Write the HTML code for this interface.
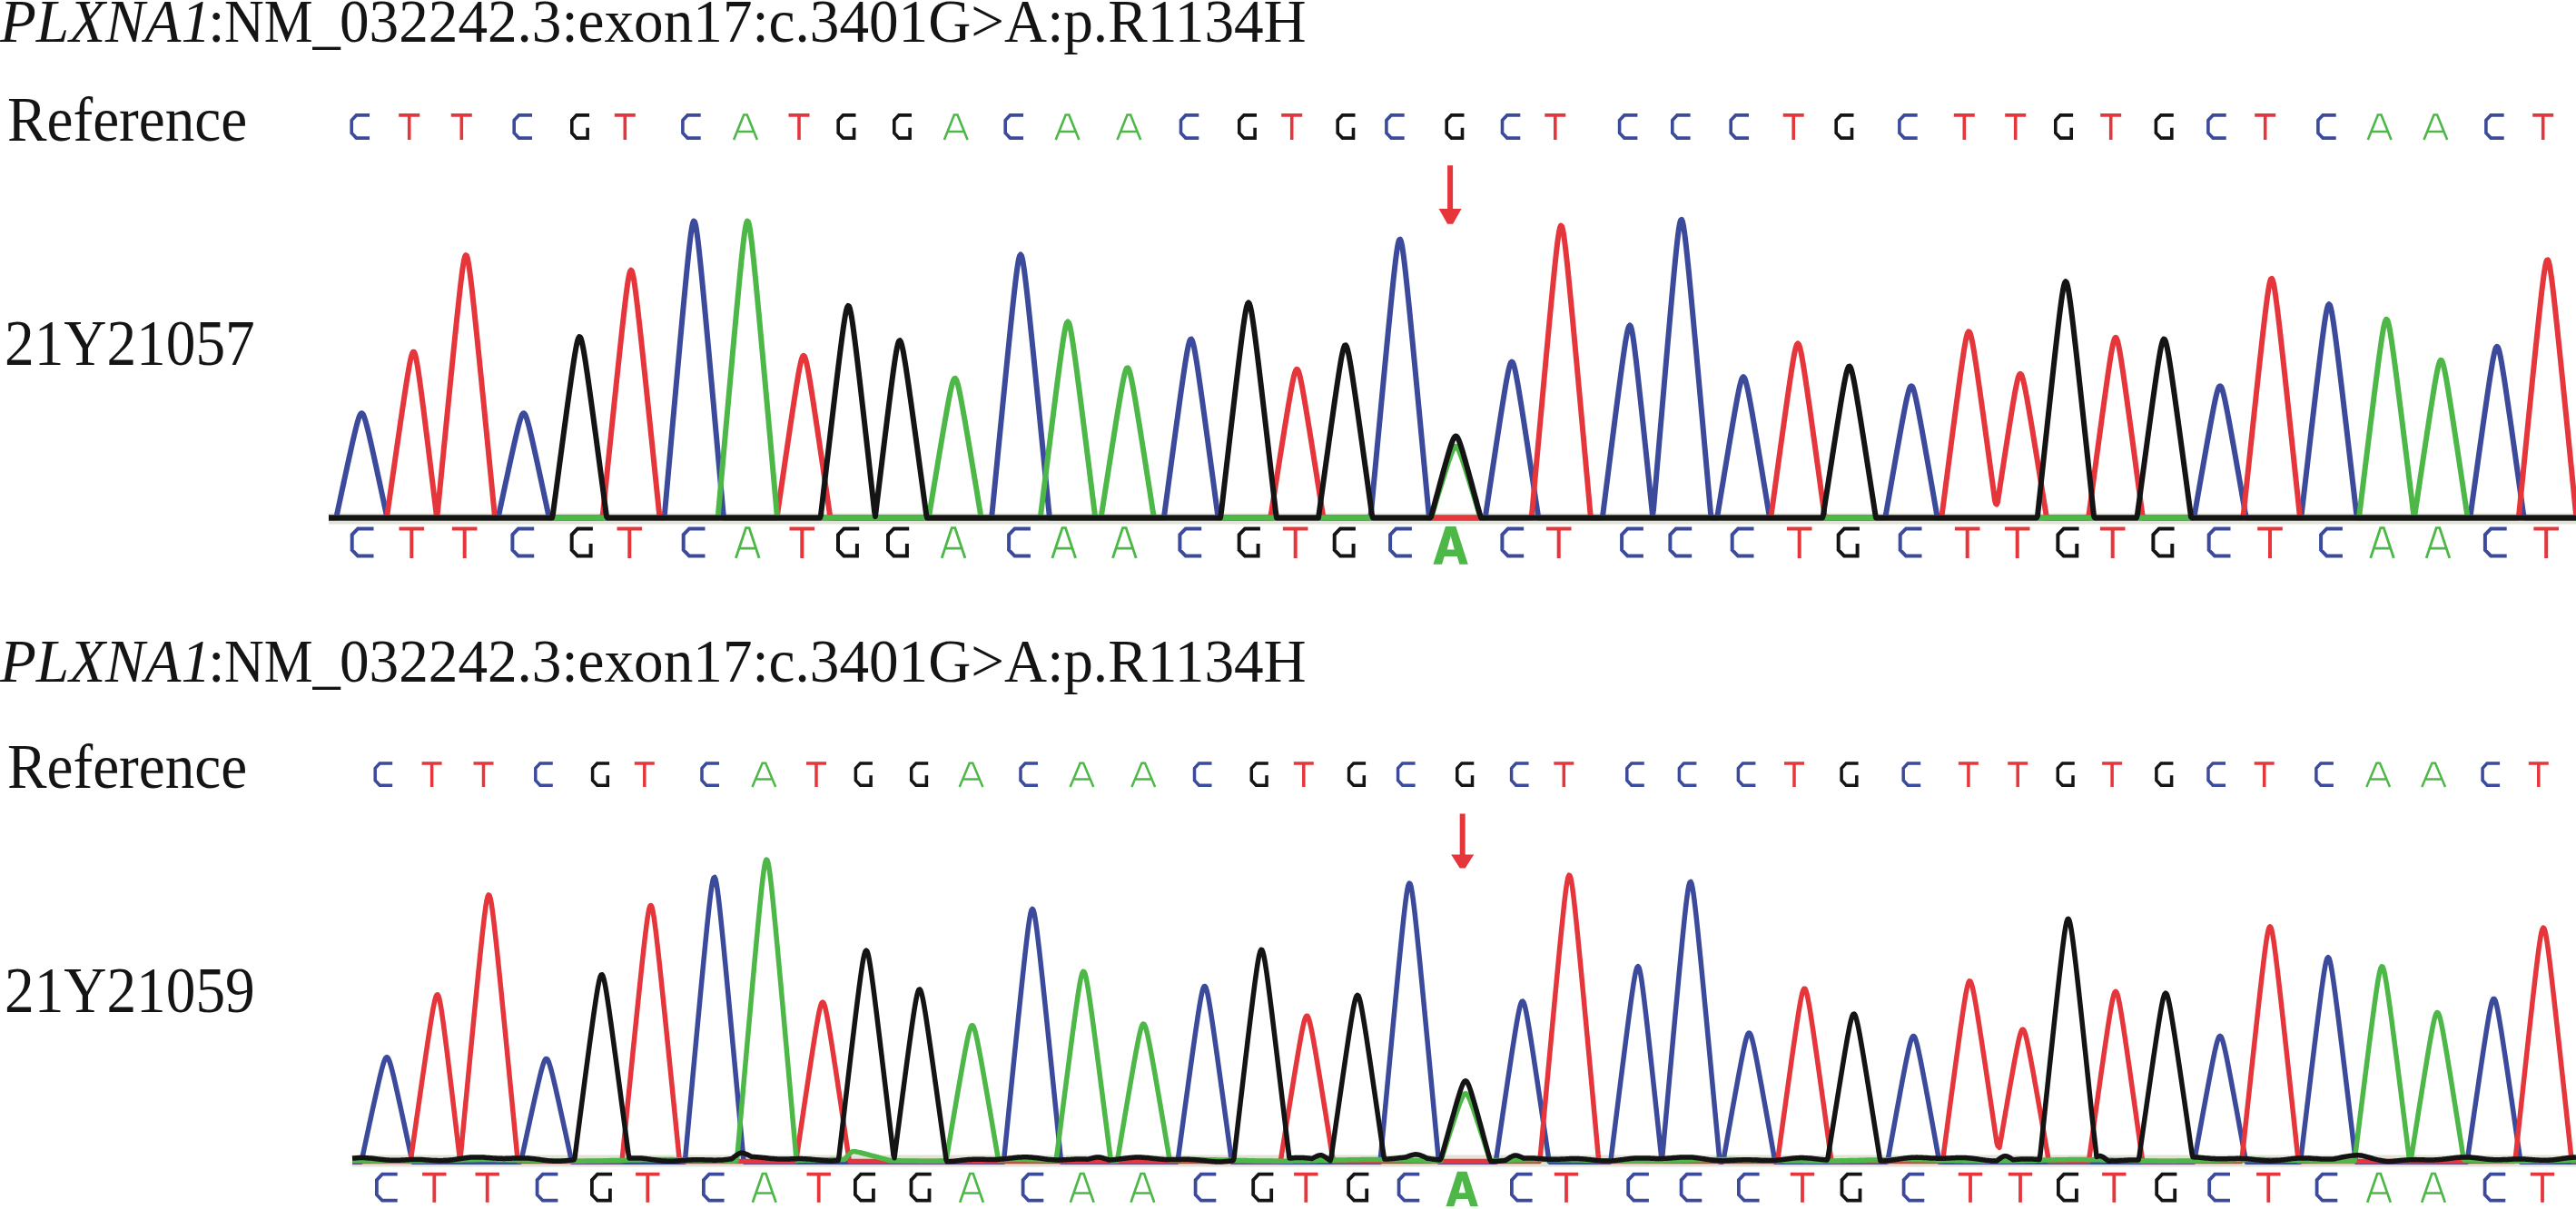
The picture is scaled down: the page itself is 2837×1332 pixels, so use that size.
<!DOCTYPE html>
<html><head><meta charset="utf-8"><style>
html,body{margin:0;padding:0;background:#fff;}
body{width:2837px;height:1332px;overflow:hidden;position:relative;font-family:"Liberation Serif",serif;color:#141414;}
.t{position:absolute;white-space:nowrap;line-height:1;transform-origin:0 0;}
svg{position:absolute;left:0;top:0;}
</style></head><body>
<div class="t" style="left:0px;top:-10.3px;font-size:67px;font-style:italic;transform:scaleX(0.974);">PLXNA1</div><div class="t" style="left:229px;top:-10.3px;font-size:67px;">:</div><div class="t" style="left:247px;top:-10.3px;font-size:67px;transform:scaleX(0.904);">NM_</div><div class="t" style="left:373.5px;top:-10.3px;font-size:67px;transform:scaleX(0.973);">032242.3:exon17:c.3401G&gt;A:p.R1134H</div>
<div class="t" id="r1" style="left:8.2px;top:97.6px;font-size:69px;transform:scaleX(0.945);">Reference</div>
<div class="t" id="s1" style="left:5.4px;top:342.1px;font-size:72px;transform:scaleX(0.907);">21Y21057</div>
<div class="t" style="left:0px;top:694.9px;font-size:67px;font-style:italic;transform:scaleX(0.974);">PLXNA1</div><div class="t" style="left:229px;top:694.9px;font-size:67px;">:</div><div class="t" style="left:247px;top:694.9px;font-size:67px;transform:scaleX(0.904);">NM_</div><div class="t" style="left:373.5px;top:694.9px;font-size:67px;transform:scaleX(0.973);">032242.3:exon17:c.3401G&gt;A:p.R1134H</div>
<div class="t" id="r2" style="left:8.2px;top:811.2px;font-size:69px;transform:scaleX(0.945);">Reference</div>
<div class="t" id="s2" style="left:5.4px;top:1054.8px;font-size:72px;transform:scaleX(0.907);">21Y21059</div>
<svg width="2837" height="1332" viewBox="0 0 2837 1332">
<line x1="362.0" y1="571.5" x2="2837" y2="571.5" stroke="#e2e3d8" stroke-width="12.0"/>
<polyline points="362.0,570.5 363.0,570.5 364.0,570.5 365.0,570.5 366.0,570.5 367.0,570.5 368.0,570.5 369.0,570.5 370.0,570.5 371.0,567.0 372.0,562.4 373.0,557.7 374.0,553.0 375.0,548.3 376.0,543.6 377.0,539.0 378.0,534.3 379.0,529.7 380.0,525.0 381.0,520.4 382.0,515.8 383.0,511.2 384.0,506.6 385.0,502.1 386.0,497.6 387.0,493.1 388.0,488.6 389.0,484.2 390.0,479.9 391.0,475.7 392.0,471.6 393.0,467.7 394.0,464.1 395.0,460.8 396.0,458.1 397.0,456.2 398.0,455.3 399.0,455.5 400.0,456.8 401.0,459.1 402.0,462.1 403.0,465.5 404.0,469.2 405.0,473.2 406.0,477.4 407.0,481.6 408.0,486.0 409.0,490.4 410.0,494.9 411.0,499.4 412.0,503.9 413.0,508.5 414.0,513.0 415.0,517.6 416.0,522.3 417.0,526.9 418.0,531.5 419.0,536.2 420.0,540.8 421.0,545.5 422.0,550.2 423.0,554.9 424.0,559.5 425.0,564.2 426.0,568.9 427.0,570.5 428.0,570.5 429.0,570.5 430.0,570.5 431.0,570.5 432.0,570.5 433.0,570.5 434.0,570.5 435.0,570.5 436.0,570.5 437.0,570.5 438.0,570.5 439.0,570.5 440.0,570.5 441.0,570.5 442.0,570.5 443.0,570.5 444.0,570.5 445.0,570.5 446.0,570.5 447.0,570.5 448.0,570.5 449.0,570.5 450.0,570.5 451.0,570.5 452.0,570.5 453.0,570.5 454.0,570.5 455.0,570.5 456.0,570.5 457.0,570.5 458.0,570.5 459.0,570.5 460.0,570.5 461.0,570.5 462.0,570.5 463.0,570.5 464.0,570.5 465.0,570.5 466.0,570.5 467.0,570.5 468.0,570.5 469.0,570.5 470.0,570.5 471.0,570.5 472.0,570.5 473.0,570.5 474.0,570.5 475.0,570.5 476.0,570.5 477.0,570.5 478.0,570.5 479.0,570.5 480.0,570.5 481.0,570.5 482.0,570.5 483.0,570.5 484.0,570.5 485.0,570.5 486.0,570.5 487.0,570.5 488.0,570.5 489.0,570.5 490.0,570.5 491.0,570.5 492.0,570.5 493.0,570.5 494.0,570.5 495.0,570.5 496.0,570.5 497.0,570.5 498.0,570.5 499.0,570.5 500.0,570.5 501.0,570.5 502.0,570.5 503.0,570.5 504.0,570.5 505.0,570.5 506.0,570.5 507.0,570.5 508.0,570.5 509.0,570.5 510.0,570.5 511.0,570.5 512.0,570.5 513.0,570.5 514.0,570.5 515.0,570.5 516.0,570.5 517.0,570.5 518.0,570.5 519.0,570.5 520.0,570.5 521.0,570.5 522.0,570.5 523.0,570.5 524.0,570.5 525.0,570.5 526.0,570.5 527.0,570.5 528.0,570.5 529.0,570.5 530.0,570.5 531.0,570.5 532.0,570.5 533.0,570.5 534.0,570.5 535.0,570.5 536.0,570.5 537.0,570.5 538.0,570.5 539.0,570.5 540.0,570.5 541.0,570.5 542.0,570.5 543.0,570.5 544.0,570.5 545.0,570.5 546.0,570.5 547.0,570.5 548.0,570.5 549.0,568.9 550.0,564.2 551.0,559.5 552.0,554.9 553.0,550.2 554.0,545.5 555.0,540.8 556.0,536.2 557.0,531.5 558.0,526.9 559.0,522.3 560.0,517.6 561.0,513.0 562.0,508.5 563.0,503.9 564.0,499.4 565.0,494.9 566.0,490.4 567.0,486.0 568.0,481.6 569.0,477.4 570.0,473.2 571.0,469.2 572.0,465.5 573.0,462.1 574.0,459.1 575.0,456.8 576.0,455.5 577.0,455.3 578.0,456.2 579.0,458.1 580.0,460.8 581.0,464.1 582.0,467.7 583.0,471.6 584.0,475.7 585.0,479.9 586.0,484.2 587.0,488.6 588.0,493.1 589.0,497.6 590.0,502.1 591.0,506.6 592.0,511.2 593.0,515.8 594.0,520.4 595.0,525.0 596.0,529.7 597.0,534.3 598.0,539.0 599.0,543.6 600.0,548.3 601.0,553.0 602.0,557.7 603.0,562.4 604.0,567.0 605.0,570.5 606.0,570.5 607.0,570.5 608.0,570.5 609.0,570.5 610.0,570.5 611.0,570.5 612.0,570.5 613.0,570.5 614.0,570.5 615.0,570.5 616.0,570.5 617.0,570.5 618.0,570.5 619.0,570.5 620.0,570.5 621.0,570.5 622.0,570.5 623.0,570.5 624.0,570.5 625.0,570.5 626.0,570.5 627.0,570.5 628.0,570.5 629.0,570.5 630.0,570.5 631.0,570.5 632.0,570.5 633.0,570.5 634.0,570.5 635.0,570.5 636.0,570.5 637.0,570.5 638.0,570.5 639.0,570.5 640.0,570.5 641.0,570.5 642.0,570.5 643.0,570.5 644.0,570.5 645.0,570.5 646.0,570.5 647.0,570.5 648.0,570.5 649.0,570.5 650.0,570.5 651.0,570.5 652.0,570.5 653.0,570.5 654.0,570.5 655.0,570.5 656.0,570.5 657.0,570.5 658.0,570.5 659.0,570.5 660.0,570.5 661.0,570.5 662.0,570.5 663.0,570.5 664.0,570.5 665.0,570.5 666.0,570.5 667.0,570.5 668.0,570.5 669.0,570.5 670.0,570.5 671.0,570.5 672.0,570.5 673.0,570.5 674.0,570.5 675.0,570.5 676.0,570.5 677.0,570.5 678.0,570.5 679.0,570.5 680.0,570.5 681.0,570.5 682.0,570.5 683.0,570.5 684.0,570.5 685.0,570.5 686.0,570.5 687.0,570.5 688.0,570.5 689.0,570.5 690.0,570.5 691.0,570.5 692.0,570.5 693.0,570.5 694.0,570.5 695.0,570.5 696.0,570.5 697.0,570.5 698.0,570.5 699.0,570.5 700.0,570.5 701.0,570.5 702.0,570.5 703.0,570.5 704.0,570.5 705.0,570.5 706.0,570.5 707.0,570.5 708.0,570.5 709.0,570.5 710.0,570.5 711.0,570.5 712.0,570.5 713.0,570.5 714.0,570.5 715.0,570.5 716.0,570.5 717.0,570.5 718.0,570.5 719.0,570.5 720.0,570.5 721.0,570.5 722.0,570.5 723.0,570.5 724.0,570.5 725.0,570.5 726.0,570.5 727.0,570.5 728.0,570.5 729.0,570.5 730.0,570.5 731.0,570.5 732.0,566.1 733.0,554.9 734.0,543.7 735.0,532.5 736.0,521.3 737.0,510.1 738.0,498.9 739.0,487.7 740.0,476.6 741.0,465.4 742.0,454.3 743.0,443.2 744.0,432.1 745.0,421.0 746.0,410.0 747.0,398.9 748.0,388.0 749.0,377.0 750.0,366.1 751.0,355.2 752.0,344.5 753.0,333.8 754.0,323.2 755.0,312.7 756.0,302.4 757.0,292.4 758.0,282.6 759.0,273.3 760.0,264.7 761.0,256.9 762.0,250.4 763.0,245.8 764.0,243.6 765.0,244.2 766.0,247.4 767.0,252.8 768.0,259.9 769.0,268.0 770.0,277.0 771.0,286.5 772.0,296.4 773.0,306.5 774.0,316.9 775.0,327.4 776.0,338.0 777.0,348.8 778.0,359.6 779.0,370.5 780.0,381.4 781.0,392.3 782.0,403.4 783.0,414.4 784.0,425.5 785.0,436.5 786.0,447.6 787.0,458.8 788.0,469.9 789.0,481.0 790.0,492.2 791.0,503.4 792.0,514.6 793.0,525.7 794.0,536.9 795.0,548.1 796.0,559.4 797.0,570.5 798.0,570.5 799.0,570.5 800.0,570.5 801.0,570.5 802.0,570.5 803.0,570.5 804.0,570.5 805.0,570.5 806.0,570.5 807.0,570.5 808.0,570.5 809.0,570.5 810.0,570.5 811.0,570.5 812.0,570.5 813.0,570.5 814.0,570.5 815.0,570.5 816.0,570.5 817.0,570.5 818.0,570.5 819.0,570.5 820.0,570.5 821.0,570.5 822.0,570.5 823.0,570.5 824.0,570.5 825.0,570.5 826.0,570.5 827.0,570.5 828.0,570.5 829.0,570.5 830.0,570.5 831.0,570.5 832.0,570.5 833.0,570.5 834.0,570.5 835.0,570.5 836.0,570.5 837.0,570.5 838.0,570.5 839.0,570.5 840.0,570.5 841.0,570.5 842.0,570.5 843.0,570.5 844.0,570.5 845.0,570.5 846.0,570.5 847.0,570.5 848.0,570.5 849.0,570.5 850.0,570.5 851.0,570.5 852.0,570.5 853.0,570.5 854.0,570.5 855.0,570.5 856.0,570.5 857.0,570.5 858.0,570.5 859.0,570.5 860.0,570.5 861.0,570.5 862.0,570.5 863.0,570.5 864.0,570.5 865.0,570.5 866.0,570.5 867.0,570.5 868.0,570.5 869.0,570.5 870.0,570.5 871.0,570.5 872.0,570.5 873.0,570.5 874.0,570.5 875.0,570.5 876.0,570.5 877.0,570.5 878.0,570.5 879.0,570.5 880.0,570.5 881.0,570.5 882.0,570.5 883.0,570.5 884.0,570.5 885.0,570.5 886.0,570.5 887.0,570.5 888.0,570.5 889.0,570.5 890.0,570.5 891.0,570.5 892.0,570.5 893.0,570.5 894.0,570.5 895.0,570.5 896.0,570.5 897.0,570.5 898.0,570.5 899.0,570.5 900.0,570.5 901.0,570.5 902.0,570.5 903.0,570.5 904.0,570.5 905.0,570.5 906.0,570.5 907.0,570.5 908.0,570.5 909.0,570.5 910.0,570.5 911.0,570.5 912.0,570.5 913.0,570.5 914.0,570.5 915.0,570.5 916.0,570.5 917.0,570.5 918.0,570.5 919.0,570.5 920.0,570.5 921.0,570.5 922.0,570.5 923.0,570.5 924.0,570.5 925.0,570.5 926.0,570.5 927.0,570.5 928.0,570.5 929.0,570.5 930.0,570.5 931.0,570.5 932.0,570.5 933.0,570.5 934.0,570.5 935.0,570.5 936.0,570.5 937.0,570.5 938.0,570.5 939.0,570.5 940.0,570.5 941.0,570.5 942.0,570.5 943.0,570.5 944.0,570.5 945.0,570.5 946.0,570.5 947.0,570.5 948.0,570.5 949.0,570.5 950.0,570.5 951.0,570.5 952.0,570.5 953.0,570.5 954.0,570.5 955.0,570.5 956.0,570.5 957.0,570.5 958.0,570.5 959.0,570.5 960.0,570.5 961.0,570.5 962.0,570.5 963.0,570.5 964.0,570.5 965.0,570.5 966.0,570.5 967.0,570.5 968.0,570.5 969.0,570.5 970.0,570.5 971.0,570.5 972.0,570.5 973.0,570.5 974.0,570.5 975.0,570.5 976.0,570.5 977.0,570.5 978.0,570.5 979.0,570.5 980.0,570.5 981.0,570.5 982.0,570.5 983.0,570.5 984.0,570.5 985.0,570.5 986.0,570.5 987.0,570.5 988.0,570.5 989.0,570.5 990.0,570.5 991.0,570.5 992.0,570.5 993.0,570.5 994.0,570.5 995.0,570.5 996.0,570.5 997.0,570.5 998.0,570.5 999.0,570.5 1000.0,570.5 1001.0,570.5 1002.0,570.5 1003.0,570.5 1004.0,570.5 1005.0,570.5 1006.0,570.5 1007.0,570.5 1008.0,570.5 1009.0,570.5 1010.0,570.5 1011.0,570.5 1012.0,570.5 1013.0,570.5 1014.0,570.5 1015.0,570.5 1016.0,570.5 1017.0,570.5 1018.0,570.5 1019.0,570.5 1020.0,570.5 1021.0,570.5 1022.0,570.5 1023.0,570.5 1024.0,570.5 1025.0,570.5 1026.0,570.5 1027.0,570.5 1028.0,570.5 1029.0,570.5 1030.0,570.5 1031.0,570.5 1032.0,570.5 1033.0,570.5 1034.0,570.5 1035.0,570.5 1036.0,570.5 1037.0,570.5 1038.0,570.5 1039.0,570.5 1040.0,570.5 1041.0,570.5 1042.0,570.5 1043.0,570.5 1044.0,570.5 1045.0,570.5 1046.0,570.5 1047.0,570.5 1048.0,570.5 1049.0,570.5 1050.0,570.5 1051.0,570.5 1052.0,570.5 1053.0,570.5 1054.0,570.5 1055.0,570.5 1056.0,570.5 1057.0,570.5 1058.0,570.5 1059.0,570.5 1060.0,570.5 1061.0,570.5 1062.0,570.5 1063.0,570.5 1064.0,570.5 1065.0,570.5 1066.0,570.5 1067.0,570.5 1068.0,570.5 1069.0,570.5 1070.0,570.5 1071.0,570.5 1072.0,570.5 1073.0,570.5 1074.0,570.5 1075.0,570.5 1076.0,570.5 1077.0,570.5 1078.0,570.5 1079.0,570.5 1080.0,570.5 1081.0,570.5 1082.0,570.5 1083.0,570.5 1084.0,570.5 1085.0,570.5 1086.0,570.5 1087.0,570.5 1088.0,570.5 1089.0,570.5 1090.0,570.5 1091.0,570.5 1092.0,570.5 1093.0,561.5 1094.0,551.3 1095.0,541.1 1096.0,530.9 1097.0,520.7 1098.0,510.5 1099.0,500.3 1100.0,490.1 1101.0,479.9 1102.0,469.8 1103.0,459.7 1104.0,449.5 1105.0,439.4 1106.0,429.4 1107.0,419.3 1108.0,409.3 1109.0,399.3 1110.0,389.4 1111.0,379.5 1112.0,369.7 1113.0,359.9 1114.0,350.3 1115.0,340.8 1116.0,331.5 1117.0,322.4 1118.0,313.6 1119.0,305.3 1120.0,297.6 1121.0,290.8 1122.0,285.4 1123.0,281.8 1124.0,280.5 1125.0,281.8 1126.0,285.4 1127.0,290.8 1128.0,297.6 1129.0,305.3 1130.0,313.6 1131.0,322.4 1132.0,331.5 1133.0,340.8 1134.0,350.3 1135.0,359.9 1136.0,369.7 1137.0,379.5 1138.0,389.4 1139.0,399.3 1140.0,409.3 1141.0,419.3 1142.0,429.4 1143.0,439.4 1144.0,449.5 1145.0,459.7 1146.0,469.8 1147.0,479.9 1148.0,490.1 1149.0,500.3 1150.0,510.5 1151.0,520.7 1152.0,530.9 1153.0,541.1 1154.0,551.3 1155.0,561.5 1156.0,570.5 1157.0,570.5 1158.0,570.5 1159.0,570.5 1160.0,570.5 1161.0,570.5 1162.0,570.5 1163.0,570.5 1164.0,570.5 1165.0,570.5 1166.0,570.5 1167.0,570.5 1168.0,570.5 1169.0,570.5 1170.0,570.5 1171.0,570.5 1172.0,570.5 1173.0,570.5 1174.0,570.5 1175.0,570.5 1176.0,570.5 1177.0,570.5 1178.0,570.5 1179.0,570.5 1180.0,570.5 1181.0,570.5 1182.0,570.5 1183.0,570.5 1184.0,570.5 1185.0,570.5 1186.0,570.5 1187.0,570.5 1188.0,570.5 1189.0,570.5 1190.0,570.5 1191.0,570.5 1192.0,570.5 1193.0,570.5 1194.0,570.5 1195.0,570.5 1196.0,570.5 1197.0,570.5 1198.0,570.5 1199.0,570.5 1200.0,570.5 1201.0,570.5 1202.0,570.5 1203.0,570.5 1204.0,570.5 1205.0,570.5 1206.0,570.5 1207.0,570.5 1208.0,570.5 1209.0,570.5 1210.0,570.5 1211.0,570.5 1212.0,570.5 1213.0,570.5 1214.0,570.5 1215.0,570.5 1216.0,570.5 1217.0,570.5 1218.0,570.5 1219.0,570.5 1220.0,570.5 1221.0,570.5 1222.0,570.5 1223.0,570.5 1224.0,570.5 1225.0,570.5 1226.0,570.5 1227.0,570.5 1228.0,570.5 1229.0,570.5 1230.0,570.5 1231.0,570.5 1232.0,570.5 1233.0,570.5 1234.0,570.5 1235.0,570.5 1236.0,570.5 1237.0,570.5 1238.0,570.5 1239.0,570.5 1240.0,570.5 1241.0,570.5 1242.0,570.5 1243.0,570.5 1244.0,570.5 1245.0,570.5 1246.0,570.5 1247.0,570.5 1248.0,570.5 1249.0,570.5 1250.0,570.5 1251.0,570.5 1252.0,570.5 1253.0,570.5 1254.0,570.5 1255.0,570.5 1256.0,570.5 1257.0,570.5 1258.0,570.5 1259.0,570.5 1260.0,570.5 1261.0,570.5 1262.0,570.5 1263.0,570.5 1264.0,570.5 1265.0,570.5 1266.0,570.5 1267.0,570.5 1268.0,570.5 1269.0,570.5 1270.0,570.5 1271.0,570.5 1272.0,570.5 1273.0,570.5 1274.0,570.5 1275.0,570.5 1276.0,570.5 1277.0,570.5 1278.0,570.5 1279.0,570.5 1280.0,570.5 1281.0,570.5 1282.0,569.5 1283.0,562.0 1284.0,554.5 1285.0,547.1 1286.0,539.6 1287.0,532.2 1288.0,524.7 1289.0,517.3 1290.0,509.9 1291.0,502.4 1292.0,495.0 1293.0,487.6 1294.0,480.3 1295.0,472.9 1296.0,465.6 1297.0,458.3 1298.0,451.0 1299.0,443.8 1300.0,436.6 1301.0,429.5 1302.0,422.5 1303.0,415.6 1304.0,408.8 1305.0,402.2 1306.0,395.9 1307.0,389.9 1308.0,384.4 1309.0,379.7 1310.0,376.1 1311.0,374.0 1312.0,373.6 1313.0,375.1 1314.0,378.1 1315.0,382.4 1316.0,387.6 1317.0,393.4 1318.0,399.6 1319.0,406.1 1320.0,412.9 1321.0,419.7 1322.0,426.7 1323.0,433.8 1324.0,440.9 1325.0,448.1 1326.0,455.4 1327.0,462.7 1328.0,470.0 1329.0,477.3 1330.0,484.7 1331.0,492.1 1332.0,499.5 1333.0,506.9 1334.0,514.3 1335.0,521.7 1336.0,529.2 1337.0,536.6 1338.0,544.1 1339.0,551.6 1340.0,559.0 1341.0,566.5 1342.0,570.5 1343.0,570.5 1344.0,570.5 1345.0,570.5 1346.0,570.5 1347.0,570.5 1348.0,570.5 1349.0,570.5 1350.0,570.5 1351.0,570.5 1352.0,570.5 1353.0,570.5 1354.0,570.5 1355.0,570.5 1356.0,570.5 1357.0,570.5 1358.0,570.5 1359.0,570.5 1360.0,570.5 1361.0,570.5 1362.0,570.5 1363.0,570.5 1364.0,570.5 1365.0,570.5 1366.0,570.5 1367.0,570.5 1368.0,570.5 1369.0,570.5 1370.0,570.5 1371.0,570.5 1372.0,570.5 1373.0,570.5 1374.0,570.5 1375.0,570.5 1376.0,570.5 1377.0,570.5 1378.0,570.5 1379.0,570.5 1380.0,570.5 1381.0,570.5 1382.0,570.5 1383.0,570.5 1384.0,570.5 1385.0,570.5 1386.0,570.5 1387.0,570.5 1388.0,570.5 1389.0,570.5 1390.0,570.5 1391.0,570.5 1392.0,570.5 1393.0,570.5 1394.0,570.5 1395.0,570.5 1396.0,570.5 1397.0,570.5 1398.0,570.5 1399.0,570.5 1400.0,570.5 1401.0,570.5 1402.0,570.5 1403.0,570.5 1404.0,570.5 1405.0,570.5 1406.0,570.5 1407.0,570.5 1408.0,570.5 1409.0,570.5 1410.0,570.5 1411.0,570.5 1412.0,570.5 1413.0,570.5 1414.0,570.5 1415.0,570.5 1416.0,570.5 1417.0,570.5 1418.0,570.5 1419.0,570.5 1420.0,570.5 1421.0,570.5 1422.0,570.5 1423.0,570.5 1424.0,570.5 1425.0,570.5 1426.0,570.5 1427.0,570.5 1428.0,570.5 1429.0,570.5 1430.0,570.5 1431.0,570.5 1432.0,570.5 1433.0,570.5 1434.0,570.5 1435.0,570.5 1436.0,570.5 1437.0,570.5 1438.0,570.5 1439.0,570.5 1440.0,570.5 1441.0,570.5 1442.0,570.5 1443.0,570.5 1444.0,570.5 1445.0,570.5 1446.0,570.5 1447.0,570.5 1448.0,570.5 1449.0,570.5 1450.0,570.5 1451.0,570.5 1452.0,570.5 1453.0,570.5 1454.0,570.5 1455.0,570.5 1456.0,570.5 1457.0,570.5 1458.0,570.5 1459.0,570.5 1460.0,570.5 1461.0,570.5 1462.0,570.5 1463.0,570.5 1464.0,570.5 1465.0,570.5 1466.0,570.5 1467.0,570.5 1468.0,570.5 1469.0,570.5 1470.0,570.5 1471.0,570.5 1472.0,570.5 1473.0,570.5 1474.0,570.5 1475.0,570.5 1476.0,570.5 1477.0,570.5 1478.0,570.5 1479.0,570.5 1480.0,570.5 1481.0,570.5 1482.0,570.5 1483.0,570.5 1484.0,570.5 1485.0,570.5 1486.0,570.5 1487.0,570.5 1488.0,570.5 1489.0,570.5 1490.0,570.5 1491.0,570.5 1492.0,570.5 1493.0,570.5 1494.0,570.5 1495.0,570.5 1496.0,570.5 1497.0,570.5 1498.0,570.5 1499.0,570.5 1500.0,570.5 1501.0,570.5 1502.0,570.5 1503.0,570.5 1504.0,570.5 1505.0,570.5 1506.0,570.5 1507.0,570.5 1508.0,570.5 1509.0,570.5 1510.0,564.6 1511.0,553.9 1512.0,543.2 1513.0,532.5 1514.0,521.9 1515.0,511.2 1516.0,500.6 1517.0,489.9 1518.0,479.3 1519.0,468.7 1520.0,458.1 1521.0,447.5 1522.0,436.9 1523.0,426.4 1524.0,415.9 1525.0,405.4 1526.0,394.9 1527.0,384.5 1528.0,374.1 1529.0,363.8 1530.0,353.6 1531.0,343.5 1532.0,333.4 1533.0,323.6 1534.0,313.9 1535.0,304.5 1536.0,295.4 1537.0,286.9 1538.0,279.1 1539.0,272.4 1540.0,267.2 1541.0,264.2 1542.0,263.6 1543.0,265.7 1544.0,270.1 1545.0,276.3 1546.0,283.7 1547.0,291.9 1548.0,300.8 1549.0,310.1 1550.0,319.7 1551.0,329.5 1552.0,339.4 1553.0,349.5 1554.0,359.7 1555.0,370.0 1556.0,380.4 1557.0,390.8 1558.0,401.2 1559.0,411.7 1560.0,422.2 1561.0,432.7 1562.0,443.3 1563.0,453.9 1564.0,464.5 1565.0,475.1 1566.0,485.7 1567.0,496.3 1568.0,507.0 1569.0,517.6 1570.0,528.3 1571.0,538.9 1572.0,549.6 1573.0,560.3 1574.0,570.5 1575.0,570.5 1576.0,570.5 1577.0,570.5 1578.0,570.5 1579.0,570.5 1580.0,570.5 1581.0,570.5 1582.0,570.5 1583.0,570.5 1584.0,570.5 1585.0,570.5 1586.0,570.5 1587.0,570.5 1588.0,570.5 1589.0,570.5 1590.0,570.5 1591.0,570.5 1592.0,570.5 1593.0,570.5 1594.0,570.5 1595.0,570.5 1596.0,570.5 1597.0,570.5 1598.0,570.5 1599.0,570.5 1600.0,570.5 1601.0,570.5 1602.0,570.5 1603.0,570.5 1604.0,570.5 1605.0,570.5 1606.0,570.5 1607.0,570.5 1608.0,570.5 1609.0,570.5 1610.0,570.5 1611.0,570.5 1612.0,570.5 1613.0,570.5 1614.0,570.5 1615.0,570.5 1616.0,570.5 1617.0,570.5 1618.0,570.5 1619.0,570.5 1620.0,570.5 1621.0,570.5 1622.0,570.5 1623.0,570.5 1624.0,570.5 1625.0,570.5 1626.0,570.5 1627.0,570.5 1628.0,570.5 1629.0,570.5 1630.0,570.5 1631.0,570.5 1632.0,570.5 1633.0,570.5 1634.0,570.5 1635.0,570.5 1636.0,568.6 1637.0,561.9 1638.0,555.3 1639.0,548.6 1640.0,542.0 1641.0,535.3 1642.0,528.7 1643.0,522.1 1644.0,515.5 1645.0,508.9 1646.0,502.3 1647.0,495.7 1648.0,489.1 1649.0,482.6 1650.0,476.1 1651.0,469.6 1652.0,463.1 1653.0,456.7 1654.0,450.4 1655.0,444.1 1656.0,437.9 1657.0,431.8 1658.0,425.8 1659.0,420.1 1660.0,414.7 1661.0,409.7 1662.0,405.2 1663.0,401.7 1664.0,399.3 1665.0,398.5 1666.0,399.3 1667.0,401.7 1668.0,405.2 1669.0,409.7 1670.0,414.7 1671.0,420.1 1672.0,425.8 1673.0,431.8 1674.0,437.9 1675.0,444.1 1676.0,450.4 1677.0,456.7 1678.0,463.1 1679.0,469.6 1680.0,476.1 1681.0,482.6 1682.0,489.1 1683.0,495.7 1684.0,502.3 1685.0,508.9 1686.0,515.5 1687.0,522.1 1688.0,528.7 1689.0,535.3 1690.0,542.0 1691.0,548.6 1692.0,555.3 1693.0,561.9 1694.0,568.6 1695.0,570.5 1696.0,570.5 1697.0,570.5 1698.0,570.5 1699.0,570.5 1700.0,570.5 1701.0,570.5 1702.0,570.5 1703.0,570.5 1704.0,570.5 1705.0,570.5 1706.0,570.5 1707.0,570.5 1708.0,570.5 1709.0,570.5 1710.0,570.5 1711.0,570.5 1712.0,570.5 1713.0,570.5 1714.0,570.5 1715.0,570.5 1716.0,570.5 1717.0,570.5 1718.0,570.5 1719.0,570.5 1720.0,570.5 1721.0,570.5 1722.0,570.5 1723.0,570.5 1724.0,570.5 1725.0,570.5 1726.0,570.5 1727.0,570.5 1728.0,570.5 1729.0,570.5 1730.0,570.5 1731.0,570.5 1732.0,570.5 1733.0,570.5 1734.0,570.5 1735.0,570.5 1736.0,570.5 1737.0,570.5 1738.0,570.5 1739.0,570.5 1740.0,570.5 1741.0,570.5 1742.0,570.5 1743.0,570.5 1744.0,570.5 1745.0,570.5 1746.0,570.5 1747.0,570.5 1748.0,570.5 1749.0,570.5 1750.0,570.5 1751.0,570.5 1752.0,570.5 1753.0,570.5 1754.0,570.5 1755.0,570.5 1756.0,570.5 1757.0,570.5 1758.0,570.5 1759.0,570.5 1760.0,570.5 1761.0,570.5 1762.0,570.5 1763.0,570.5 1764.0,570.5 1765.0,569.2 1766.0,561.2 1767.0,553.3 1768.0,545.4 1769.0,537.4 1770.0,529.5 1771.0,521.6 1772.0,513.7 1773.0,505.8 1774.0,497.9 1775.0,490.0 1776.0,482.2 1777.0,474.3 1778.0,466.5 1779.0,458.7 1780.0,450.9 1781.0,443.2 1782.0,435.5 1783.0,427.9 1784.0,420.3 1785.0,412.8 1786.0,405.4 1787.0,398.2 1788.0,391.1 1789.0,384.3 1790.0,377.8 1791.0,371.8 1792.0,366.5 1793.0,362.3 1794.0,359.5 1795.0,358.5 1796.0,359.7 1797.0,363.1 1798.0,368.3 1799.0,374.8 1800.0,382.1 1801.0,390.1 1802.0,398.4 1803.0,407.1 1804.0,416.0 1805.0,425.0 1806.0,434.2 1807.0,443.5 1808.0,452.9 1809.0,462.3 1810.0,471.8 1811.0,481.3 1812.0,490.8 1813.0,500.4 1814.0,510.0 1815.0,519.7 1816.0,529.3 1817.0,539.0 1818.0,548.6 1819.0,558.3 1820.0,568.0 1821.0,561.7 1822.0,550.0 1823.0,538.2 1824.0,526.5 1825.0,514.7 1826.0,503.0 1827.0,491.3 1828.0,479.6 1829.0,467.9 1830.0,456.2 1831.0,444.5 1832.0,432.9 1833.0,421.3 1834.0,409.7 1835.0,398.1 1836.0,386.6 1837.0,375.1 1838.0,363.7 1839.0,352.3 1840.0,341.1 1841.0,329.9 1842.0,318.8 1843.0,308.0 1844.0,297.3 1845.0,286.9 1846.0,277.0 1847.0,267.6 1848.0,259.0 1849.0,251.6 1850.0,245.9 1851.0,242.5 1852.0,241.9 1853.0,244.1 1854.0,248.8 1855.0,255.2 1856.0,263.0 1857.0,271.7 1858.0,281.1 1859.0,290.9 1860.0,300.9 1861.0,311.3 1862.0,321.8 1863.0,332.4 1864.0,343.2 1865.0,354.0 1866.0,364.9 1867.0,375.8 1868.0,386.8 1869.0,397.9 1870.0,408.9 1871.0,420.0 1872.0,431.1 1873.0,442.3 1874.0,453.4 1875.0,464.6 1876.0,475.8 1877.0,487.0 1878.0,498.2 1879.0,509.4 1880.0,520.7 1881.0,531.9 1882.0,543.1 1883.0,554.4 1884.0,565.6 1885.0,570.5 1886.0,570.5 1887.0,570.5 1888.0,570.5 1889.0,570.5 1890.0,570.5 1891.0,570.5 1892.0,564.9 1893.0,558.8 1894.0,552.7 1895.0,546.6 1896.0,540.5 1897.0,534.5 1898.0,528.4 1899.0,522.3 1900.0,516.3 1901.0,510.2 1902.0,504.2 1903.0,498.2 1904.0,492.2 1905.0,486.2 1906.0,480.3 1907.0,474.4 1908.0,468.5 1909.0,462.7 1910.0,456.9 1911.0,451.3 1912.0,445.7 1913.0,440.2 1914.0,435.0 1915.0,430.0 1916.0,425.4 1917.0,421.4 1918.0,418.1 1919.0,416.0 1920.0,415.2 1921.0,416.0 1922.0,418.1 1923.0,421.4 1924.0,425.4 1925.0,430.0 1926.0,435.0 1927.0,440.2 1928.0,445.7 1929.0,451.3 1930.0,456.9 1931.0,462.7 1932.0,468.5 1933.0,474.4 1934.0,480.3 1935.0,486.2 1936.0,492.2 1937.0,498.2 1938.0,504.2 1939.0,510.2 1940.0,516.3 1941.0,522.3 1942.0,528.4 1943.0,534.5 1944.0,540.5 1945.0,546.6 1946.0,552.7 1947.0,558.8 1948.0,564.9 1949.0,570.5 1950.0,570.5 1951.0,570.5 1952.0,570.5 1953.0,570.5 1954.0,570.5 1955.0,570.5 1956.0,570.5 1957.0,570.5 1958.0,570.5 1959.0,570.5 1960.0,570.5 1961.0,570.5 1962.0,570.5 1963.0,570.5 1964.0,570.5 1965.0,570.5 1966.0,570.5 1967.0,570.5 1968.0,570.5 1969.0,570.5 1970.0,570.5 1971.0,570.5 1972.0,570.5 1973.0,570.5 1974.0,570.5 1975.0,570.5 1976.0,570.5 1977.0,570.5 1978.0,570.5 1979.0,570.5 1980.0,570.5 1981.0,570.5 1982.0,570.5 1983.0,570.5 1984.0,570.5 1985.0,570.5 1986.0,570.5 1987.0,570.5 1988.0,570.5 1989.0,570.5 1990.0,570.5 1991.0,570.5 1992.0,570.5 1993.0,570.5 1994.0,570.5 1995.0,570.5 1996.0,570.5 1997.0,570.5 1998.0,570.5 1999.0,570.5 2000.0,570.5 2001.0,570.5 2002.0,570.5 2003.0,570.5 2004.0,570.5 2005.0,570.5 2006.0,570.5 2007.0,570.5 2008.0,570.5 2009.0,570.5 2010.0,570.5 2011.0,570.5 2012.0,570.5 2013.0,570.5 2014.0,570.5 2015.0,570.5 2016.0,570.5 2017.0,570.5 2018.0,570.5 2019.0,570.5 2020.0,570.5 2021.0,570.5 2022.0,570.5 2023.0,570.5 2024.0,570.5 2025.0,570.5 2026.0,570.5 2027.0,570.5 2028.0,570.5 2029.0,570.5 2030.0,570.5 2031.0,570.5 2032.0,570.5 2033.0,570.5 2034.0,570.5 2035.0,570.5 2036.0,570.5 2037.0,570.5 2038.0,570.5 2039.0,570.5 2040.0,570.5 2041.0,570.5 2042.0,570.5 2043.0,570.5 2044.0,570.5 2045.0,570.5 2046.0,570.5 2047.0,570.5 2048.0,570.5 2049.0,570.5 2050.0,570.5 2051.0,570.5 2052.0,570.5 2053.0,570.5 2054.0,570.5 2055.0,570.5 2056.0,570.5 2057.0,570.5 2058.0,570.5 2059.0,570.5 2060.0,570.5 2061.0,570.5 2062.0,570.5 2063.0,570.5 2064.0,570.5 2065.0,570.5 2066.0,570.5 2067.0,570.5 2068.0,570.5 2069.0,570.5 2070.0,570.5 2071.0,570.5 2072.0,570.5 2073.0,570.5 2074.0,570.5 2075.0,570.5 2076.0,570.5 2077.0,566.5 2078.0,560.7 2079.0,555.0 2080.0,549.2 2081.0,543.5 2082.0,537.8 2083.0,532.0 2084.0,526.3 2085.0,520.6 2086.0,514.9 2087.0,509.2 2088.0,503.5 2089.0,497.9 2090.0,492.2 2091.0,486.6 2092.0,481.1 2093.0,475.5 2094.0,470.0 2095.0,464.6 2096.0,459.2 2097.0,454.0 2098.0,448.8 2099.0,443.9 2100.0,439.2 2101.0,434.8 2102.0,431.0 2103.0,427.9 2104.0,425.9 2105.0,425.2 2106.0,425.9 2107.0,427.9 2108.0,431.0 2109.0,434.8 2110.0,439.2 2111.0,443.9 2112.0,448.8 2113.0,454.0 2114.0,459.2 2115.0,464.6 2116.0,470.0 2117.0,475.5 2118.0,481.1 2119.0,486.6 2120.0,492.2 2121.0,497.9 2122.0,503.5 2123.0,509.2 2124.0,514.9 2125.0,520.6 2126.0,526.3 2127.0,532.0 2128.0,537.8 2129.0,543.5 2130.0,549.2 2131.0,555.0 2132.0,560.7 2133.0,566.5 2134.0,570.5 2135.0,570.5 2136.0,570.5 2137.0,570.5 2138.0,570.5 2139.0,570.5 2140.0,570.5 2141.0,570.5 2142.0,570.5 2143.0,570.5 2144.0,570.5 2145.0,570.5 2146.0,570.5 2147.0,570.5 2148.0,570.5 2149.0,570.5 2150.0,570.5 2151.0,570.5 2152.0,570.5 2153.0,570.5 2154.0,570.5 2155.0,570.5 2156.0,570.5 2157.0,570.5 2158.0,570.5 2159.0,570.5 2160.0,570.5 2161.0,570.5 2162.0,570.5 2163.0,570.5 2164.0,570.5 2165.0,570.5 2166.0,570.5 2167.0,570.5 2168.0,570.5 2169.0,570.5 2170.0,570.5 2171.0,570.5 2172.0,570.5 2173.0,570.5 2174.0,570.5 2175.0,570.5 2176.0,570.5 2177.0,570.5 2178.0,570.5 2179.0,570.5 2180.0,570.5 2181.0,570.5 2182.0,570.5 2183.0,570.5 2184.0,570.5 2185.0,570.5 2186.0,570.5 2187.0,570.5 2188.0,570.5 2189.0,570.5 2190.0,570.5 2191.0,570.5 2192.0,570.5 2193.0,570.5 2194.0,570.5 2195.0,570.5 2196.0,570.5 2197.0,570.5 2198.0,570.5 2199.0,570.5 2200.0,570.5 2201.0,570.5 2202.0,570.5 2203.0,570.5 2204.0,570.5 2205.0,570.5 2206.0,570.5 2207.0,570.5 2208.0,570.5 2209.0,570.5 2210.0,570.5 2211.0,570.5 2212.0,570.5 2213.0,570.5 2214.0,570.5 2215.0,570.5 2216.0,570.5 2217.0,570.5 2218.0,570.5 2219.0,570.5 2220.0,570.5 2221.0,570.5 2222.0,570.5 2223.0,570.5 2224.0,570.5 2225.0,570.5 2226.0,570.5 2227.0,570.5 2228.0,570.5 2229.0,570.5 2230.0,570.5 2231.0,570.5 2232.0,570.5 2233.0,570.5 2234.0,570.5 2235.0,570.5 2236.0,570.5 2237.0,570.5 2238.0,570.5 2239.0,570.5 2240.0,570.5 2241.0,570.5 2242.0,570.5 2243.0,570.5 2244.0,570.5 2245.0,570.5 2246.0,570.5 2247.0,570.5 2248.0,570.5 2249.0,570.5 2250.0,570.5 2251.0,570.5 2252.0,570.5 2253.0,570.5 2254.0,570.5 2255.0,570.5 2256.0,570.5 2257.0,570.5 2258.0,570.5 2259.0,570.5 2260.0,570.5 2261.0,570.5 2262.0,570.5 2263.0,570.5 2264.0,570.5 2265.0,570.5 2266.0,570.5 2267.0,570.5 2268.0,570.5 2269.0,570.5 2270.0,570.5 2271.0,570.5 2272.0,570.5 2273.0,570.5 2274.0,570.5 2275.0,570.5 2276.0,570.5 2277.0,570.5 2278.0,570.5 2279.0,570.5 2280.0,570.5 2281.0,570.5 2282.0,570.5 2283.0,570.5 2284.0,570.5 2285.0,570.5 2286.0,570.5 2287.0,570.5 2288.0,570.5 2289.0,570.5 2290.0,570.5 2291.0,570.5 2292.0,570.5 2293.0,570.5 2294.0,570.5 2295.0,570.5 2296.0,570.5 2297.0,570.5 2298.0,570.5 2299.0,570.5 2300.0,570.5 2301.0,570.5 2302.0,570.5 2303.0,570.5 2304.0,570.5 2305.0,570.5 2306.0,570.5 2307.0,570.5 2308.0,570.5 2309.0,570.5 2310.0,570.5 2311.0,570.5 2312.0,570.5 2313.0,570.5 2314.0,570.5 2315.0,570.5 2316.0,570.5 2317.0,570.5 2318.0,570.5 2319.0,570.5 2320.0,570.5 2321.0,570.5 2322.0,570.5 2323.0,570.5 2324.0,570.5 2325.0,570.5 2326.0,570.5 2327.0,570.5 2328.0,570.5 2329.0,570.5 2330.0,570.5 2331.0,570.5 2332.0,570.5 2333.0,570.5 2334.0,570.5 2335.0,570.5 2336.0,570.5 2337.0,570.5 2338.0,570.5 2339.0,570.5 2340.0,570.5 2341.0,570.5 2342.0,570.5 2343.0,570.5 2344.0,570.5 2345.0,570.5 2346.0,570.5 2347.0,570.5 2348.0,570.5 2349.0,570.5 2350.0,570.5 2351.0,570.5 2352.0,570.5 2353.0,570.5 2354.0,570.5 2355.0,570.5 2356.0,570.5 2357.0,570.5 2358.0,570.5 2359.0,570.5 2360.0,570.5 2361.0,570.5 2362.0,570.5 2363.0,570.5 2364.0,570.5 2365.0,570.5 2366.0,570.5 2367.0,570.5 2368.0,570.5 2369.0,570.5 2370.0,570.5 2371.0,570.5 2372.0,570.5 2373.0,570.5 2374.0,570.5 2375.0,570.5 2376.0,570.5 2377.0,570.5 2378.0,570.5 2379.0,570.5 2380.0,570.5 2381.0,570.5 2382.0,570.5 2383.0,570.5 2384.0,570.5 2385.0,570.5 2386.0,570.5 2387.0,570.5 2388.0,570.5 2389.0,570.5 2390.0,570.5 2391.0,570.5 2392.0,570.5 2393.0,570.5 2394.0,570.5 2395.0,570.5 2396.0,570.5 2397.0,570.5 2398.0,570.5 2399.0,570.5 2400.0,570.5 2401.0,570.5 2402.0,570.5 2403.0,570.5 2404.0,570.5 2405.0,570.5 2406.0,570.5 2407.0,570.5 2408.0,570.5 2409.0,570.5 2410.0,570.5 2411.0,570.5 2412.0,570.5 2413.0,570.5 2414.0,570.5 2415.0,570.5 2416.0,570.5 2417.0,566.5 2418.0,560.7 2419.0,555.0 2420.0,549.2 2421.0,543.5 2422.0,537.8 2423.0,532.0 2424.0,526.3 2425.0,520.6 2426.0,514.9 2427.0,509.2 2428.0,503.5 2429.0,497.9 2430.0,492.2 2431.0,486.6 2432.0,481.1 2433.0,475.5 2434.0,470.0 2435.0,464.6 2436.0,459.2 2437.0,454.0 2438.0,448.8 2439.0,443.9 2440.0,439.2 2441.0,434.8 2442.0,431.0 2443.0,427.9 2444.0,425.9 2445.0,425.2 2446.0,425.9 2447.0,427.9 2448.0,431.0 2449.0,434.8 2450.0,439.2 2451.0,443.9 2452.0,448.8 2453.0,454.0 2454.0,459.2 2455.0,464.6 2456.0,470.0 2457.0,475.5 2458.0,481.1 2459.0,486.6 2460.0,492.2 2461.0,497.9 2462.0,503.5 2463.0,509.2 2464.0,514.9 2465.0,520.6 2466.0,526.3 2467.0,532.0 2468.0,537.8 2469.0,543.5 2470.0,549.2 2471.0,555.0 2472.0,560.7 2473.0,566.5 2474.0,570.5 2475.0,570.5 2476.0,570.5 2477.0,570.5 2478.0,570.5 2479.0,570.5 2480.0,570.5 2481.0,570.5 2482.0,570.5 2483.0,570.5 2484.0,570.5 2485.0,570.5 2486.0,570.5 2487.0,570.5 2488.0,570.5 2489.0,570.5 2490.0,570.5 2491.0,570.5 2492.0,570.5 2493.0,570.5 2494.0,570.5 2495.0,570.5 2496.0,570.5 2497.0,570.5 2498.0,570.5 2499.0,570.5 2500.0,570.5 2501.0,570.5 2502.0,570.5 2503.0,570.5 2504.0,570.5 2505.0,570.5 2506.0,570.5 2507.0,570.5 2508.0,570.5 2509.0,570.5 2510.0,570.5 2511.0,570.5 2512.0,570.5 2513.0,570.5 2514.0,570.5 2515.0,570.5 2516.0,570.5 2517.0,570.5 2518.0,570.5 2519.0,570.5 2520.0,570.5 2521.0,570.5 2522.0,570.5 2523.0,570.5 2524.0,570.5 2525.0,570.5 2526.0,570.5 2527.0,570.5 2528.0,570.5 2529.0,570.5 2530.0,570.5 2531.0,570.5 2532.0,570.5 2533.0,570.5 2534.0,570.5 2535.0,564.6 2536.0,556.0 2537.0,547.3 2538.0,538.7 2539.0,530.1 2540.0,521.4 2541.0,512.8 2542.0,504.2 2543.0,495.6 2544.0,487.0 2545.0,478.4 2546.0,469.9 2547.0,461.3 2548.0,452.8 2549.0,444.3 2550.0,435.9 2551.0,427.4 2552.0,419.1 2553.0,410.8 2554.0,402.5 2555.0,394.3 2556.0,386.3 2557.0,378.4 2558.0,370.7 2559.0,363.3 2560.0,356.2 2561.0,349.7 2562.0,343.9 2563.0,339.3 2564.0,336.3 2565.0,335.2 2566.0,336.3 2567.0,339.3 2568.0,343.9 2569.0,349.7 2570.0,356.2 2571.0,363.3 2572.0,370.7 2573.0,378.4 2574.0,386.3 2575.0,394.3 2576.0,402.5 2577.0,410.8 2578.0,419.1 2579.0,427.4 2580.0,435.9 2581.0,444.3 2582.0,452.8 2583.0,461.3 2584.0,469.9 2585.0,478.4 2586.0,487.0 2587.0,495.6 2588.0,504.2 2589.0,512.8 2590.0,521.4 2591.0,530.1 2592.0,538.7 2593.0,547.3 2594.0,556.0 2595.0,564.6 2596.0,570.5 2597.0,570.5 2598.0,570.5 2599.0,570.5 2600.0,570.5 2601.0,570.5 2602.0,570.5 2603.0,570.5 2604.0,570.5 2605.0,570.5 2606.0,570.5 2607.0,570.5 2608.0,570.5 2609.0,570.5 2610.0,570.5 2611.0,570.5 2612.0,570.5 2613.0,570.5 2614.0,570.5 2615.0,570.5 2616.0,570.5 2617.0,570.5 2618.0,570.5 2619.0,570.5 2620.0,570.5 2621.0,570.5 2622.0,570.5 2623.0,570.5 2624.0,570.5 2625.0,570.5 2626.0,570.5 2627.0,570.5 2628.0,570.5 2629.0,570.5 2630.0,570.5 2631.0,570.5 2632.0,570.5 2633.0,570.5 2634.0,570.5 2635.0,570.5 2636.0,570.5 2637.0,570.5 2638.0,570.5 2639.0,570.5 2640.0,570.5 2641.0,570.5 2642.0,570.5 2643.0,570.5 2644.0,570.5 2645.0,570.5 2646.0,570.5 2647.0,570.5 2648.0,570.5 2649.0,570.5 2650.0,570.5 2651.0,570.5 2652.0,570.5 2653.0,570.5 2654.0,570.5 2655.0,570.5 2656.0,570.5 2657.0,570.5 2658.0,570.5 2659.0,570.5 2660.0,570.5 2661.0,570.5 2662.0,570.5 2663.0,570.5 2664.0,570.5 2665.0,570.5 2666.0,570.5 2667.0,570.5 2668.0,570.5 2669.0,570.5 2670.0,570.5 2671.0,570.5 2672.0,570.5 2673.0,570.5 2674.0,570.5 2675.0,570.5 2676.0,570.5 2677.0,570.5 2678.0,570.5 2679.0,570.5 2680.0,570.5 2681.0,570.5 2682.0,570.5 2683.0,570.5 2684.0,570.5 2685.0,570.5 2686.0,570.5 2687.0,570.5 2688.0,570.5 2689.0,570.5 2690.0,570.5 2691.0,570.5 2692.0,570.5 2693.0,570.5 2694.0,570.5 2695.0,570.5 2696.0,570.5 2697.0,570.5 2698.0,570.5 2699.0,570.5 2700.0,570.5 2701.0,570.5 2702.0,570.5 2703.0,570.5 2704.0,570.5 2705.0,570.5 2706.0,570.5 2707.0,570.5 2708.0,570.5 2709.0,570.5 2710.0,570.5 2711.0,570.5 2712.0,570.5 2713.0,570.5 2714.0,570.5 2715.0,570.5 2716.0,570.5 2717.0,570.5 2718.0,570.5 2719.0,570.5 2720.0,570.5 2721.0,565.8 2722.0,558.6 2723.0,551.4 2724.0,544.2 2725.0,537.0 2726.0,529.8 2727.0,522.6 2728.0,515.5 2729.0,508.3 2730.0,501.2 2731.0,494.0 2732.0,486.9 2733.0,479.8 2734.0,472.7 2735.0,465.7 2736.0,458.7 2737.0,451.7 2738.0,444.8 2739.0,437.9 2740.0,431.1 2741.0,424.4 2742.0,417.8 2743.0,411.4 2744.0,405.2 2745.0,399.3 2746.0,393.9 2747.0,389.1 2748.0,385.2 2749.0,382.7 2750.0,381.8 2751.0,382.7 2752.0,385.2 2753.0,389.1 2754.0,393.9 2755.0,399.3 2756.0,405.2 2757.0,411.4 2758.0,417.8 2759.0,424.4 2760.0,431.1 2761.0,437.9 2762.0,444.8 2763.0,451.7 2764.0,458.7 2765.0,465.7 2766.0,472.7 2767.0,479.8 2768.0,486.9 2769.0,494.0 2770.0,501.2 2771.0,508.3 2772.0,515.5 2773.0,522.6 2774.0,529.8 2775.0,537.0 2776.0,544.2 2777.0,551.4 2778.0,558.6 2779.0,565.8 2780.0,570.5 2781.0,570.5 2782.0,570.5 2783.0,570.5 2784.0,570.5 2785.0,570.5 2786.0,570.5 2787.0,570.5 2788.0,570.5 2789.0,570.5 2790.0,570.5 2791.0,570.5 2792.0,570.5 2793.0,570.5 2794.0,570.5 2795.0,570.5 2796.0,570.5 2797.0,570.5 2798.0,570.5 2799.0,570.5 2800.0,570.5 2801.0,570.5 2802.0,570.5 2803.0,570.5 2804.0,570.5 2805.0,570.5 2806.0,570.5 2807.0,570.5 2808.0,570.5 2809.0,570.5 2810.0,570.5 2811.0,570.5 2812.0,570.5 2813.0,570.5 2814.0,570.5 2815.0,570.5 2816.0,570.5 2817.0,570.5 2818.0,570.5 2819.0,570.5 2820.0,570.5 2821.0,570.5 2822.0,570.5 2823.0,570.5 2824.0,570.5 2825.0,570.5 2826.0,570.5 2827.0,570.5 2828.0,570.5 2829.0,570.5 2830.0,570.5 2831.0,570.5 2832.0,570.5 2833.0,570.5 2834.0,570.5 2835.0,570.5 2836.0,570.5 2837.0,570.5" fill="none" stroke="#3c4a9c" stroke-width="6.0" stroke-linejoin="round"/>
<polyline points="362.0,570.5 363.0,570.5 364.0,570.5 365.0,570.5 366.0,570.5 367.0,570.5 368.0,570.5 369.0,570.5 370.0,570.5 371.0,570.5 372.0,570.5 373.0,570.5 374.0,570.5 375.0,570.5 376.0,570.5 377.0,570.5 378.0,570.5 379.0,570.5 380.0,570.5 381.0,570.5 382.0,570.5 383.0,570.5 384.0,570.5 385.0,570.5 386.0,570.5 387.0,570.5 388.0,570.5 389.0,570.5 390.0,570.5 391.0,570.5 392.0,570.5 393.0,570.5 394.0,570.5 395.0,570.5 396.0,570.5 397.0,570.5 398.0,570.5 399.0,570.5 400.0,570.5 401.0,570.5 402.0,570.5 403.0,570.5 404.0,570.5 405.0,570.5 406.0,570.5 407.0,570.5 408.0,570.5 409.0,570.5 410.0,570.5 411.0,570.5 412.0,570.5 413.0,570.5 414.0,570.5 415.0,570.5 416.0,570.5 417.0,570.5 418.0,570.5 419.0,570.5 420.0,570.5 421.0,570.5 422.0,570.5 423.0,570.5 424.0,570.5 425.0,570.5 426.0,570.3 427.0,563.3 428.0,556.3 429.0,549.2 430.0,542.2 431.0,535.2 432.0,528.2 433.0,521.2 434.0,514.3 435.0,507.3 436.0,500.3 437.0,493.4 438.0,486.5 439.0,479.6 440.0,472.7 441.0,465.8 442.0,459.0 443.0,452.2 444.0,445.5 445.0,438.8 446.0,432.2 447.0,425.8 448.0,419.4 449.0,413.3 450.0,407.4 451.0,401.8 452.0,396.8 453.0,392.6 454.0,389.4 455.0,387.7 456.0,387.8 457.0,389.8 458.0,393.5 459.0,398.5 460.0,404.4 461.0,410.9 462.0,417.9 463.0,425.2 464.0,432.6 465.0,440.3 466.0,448.1 467.0,455.9 468.0,463.9 469.0,471.9 470.0,479.9 471.0,488.0 472.0,496.1 473.0,504.3 474.0,512.4 475.0,520.6 476.0,528.8 477.0,537.0 478.0,545.3 479.0,553.5 480.0,561.8 481.0,570.0 482.0,563.7 483.0,553.5 484.0,543.3 485.0,533.1 486.0,522.9 487.0,512.7 488.0,502.5 489.0,492.3 490.0,482.2 491.0,472.1 492.0,461.9 493.0,451.8 494.0,441.7 495.0,431.7 496.0,421.6 497.0,411.6 498.0,401.6 499.0,391.7 500.0,381.8 501.0,372.0 502.0,362.3 503.0,352.6 504.0,343.1 505.0,333.8 506.0,324.6 507.0,315.8 508.0,307.4 509.0,299.5 510.0,292.6 511.0,286.8 512.0,282.8 513.0,281.1 514.0,281.8 515.0,285.0 516.0,290.1 517.0,296.6 518.0,304.1 519.0,312.4 520.0,321.0 521.0,330.1 522.0,339.3 523.0,348.8 524.0,358.4 525.0,368.1 526.0,377.9 527.0,387.7 528.0,397.7 529.0,407.6 530.0,417.6 531.0,427.6 532.0,437.7 533.0,447.8 534.0,457.9 535.0,468.0 536.0,478.1 537.0,488.3 538.0,498.4 539.0,508.6 540.0,518.8 541.0,529.0 542.0,539.2 543.0,549.4 544.0,559.6 545.0,569.8 546.0,570.5 547.0,570.5 548.0,570.5 549.0,570.5 550.0,570.5 551.0,570.5 552.0,570.5 553.0,570.5 554.0,570.5 555.0,570.5 556.0,570.5 557.0,570.5 558.0,570.5 559.0,570.5 560.0,570.5 561.0,570.5 562.0,570.5 563.0,570.5 564.0,570.5 565.0,570.5 566.0,570.5 567.0,570.5 568.0,570.5 569.0,570.5 570.0,570.5 571.0,570.5 572.0,570.5 573.0,570.5 574.0,570.5 575.0,570.5 576.0,570.5 577.0,570.5 578.0,570.5 579.0,570.5 580.0,570.5 581.0,570.5 582.0,570.5 583.0,570.5 584.0,570.5 585.0,570.5 586.0,570.5 587.0,570.5 588.0,570.5 589.0,570.5 590.0,570.5 591.0,570.5 592.0,570.5 593.0,570.5 594.0,570.5 595.0,570.5 596.0,570.5 597.0,570.5 598.0,570.5 599.0,570.5 600.0,570.5 601.0,570.5 602.0,570.5 603.0,570.5 604.0,570.5 605.0,570.5 606.0,570.5 607.0,570.5 608.0,570.5 609.0,570.5 610.0,570.5 611.0,570.5 612.0,570.5 613.0,570.5 614.0,570.5 615.0,570.5 616.0,570.5 617.0,570.5 618.0,570.5 619.0,570.5 620.0,570.5 621.0,570.5 622.0,570.5 623.0,570.5 624.0,570.5 625.0,570.5 626.0,570.5 627.0,570.5 628.0,570.5 629.0,570.5 630.0,570.5 631.0,570.5 632.0,570.5 633.0,570.5 634.0,570.5 635.0,570.5 636.0,570.5 637.0,570.5 638.0,570.5 639.0,570.5 640.0,570.5 641.0,570.5 642.0,570.5 643.0,570.5 644.0,570.5 645.0,570.5 646.0,570.5 647.0,570.5 648.0,570.5 649.0,570.5 650.0,570.5 651.0,570.5 652.0,570.5 653.0,570.5 654.0,570.5 655.0,570.5 656.0,570.5 657.0,570.5 658.0,570.5 659.0,570.5 660.0,570.5 661.0,570.5 662.0,570.5 663.0,570.5 664.0,565.6 665.0,555.9 666.0,546.1 667.0,536.4 668.0,526.7 669.0,516.9 670.0,507.2 671.0,497.5 672.0,487.8 673.0,478.2 674.0,468.5 675.0,458.9 676.0,449.2 677.0,439.6 678.0,430.0 679.0,420.5 680.0,411.0 681.0,401.5 682.0,392.1 683.0,382.7 684.0,373.4 685.0,364.2 686.0,355.2 687.0,346.3 688.0,337.6 689.0,329.3 690.0,321.3 691.0,314.0 692.0,307.5 693.0,302.3 694.0,298.9 695.0,297.7 696.0,298.9 697.0,302.3 698.0,307.5 699.0,314.0 700.0,321.3 701.0,329.3 702.0,337.6 703.0,346.3 704.0,355.2 705.0,364.2 706.0,373.4 707.0,382.7 708.0,392.1 709.0,401.5 710.0,411.0 711.0,420.5 712.0,430.0 713.0,439.6 714.0,449.2 715.0,458.9 716.0,468.5 717.0,478.2 718.0,487.8 719.0,497.5 720.0,507.2 721.0,516.9 722.0,526.7 723.0,536.4 724.0,546.1 725.0,555.9 726.0,565.6 727.0,570.5 728.0,570.5 729.0,570.5 730.0,570.5 731.0,570.5 732.0,570.5 733.0,570.5 734.0,570.5 735.0,570.5 736.0,570.5 737.0,570.5 738.0,570.5 739.0,570.5 740.0,570.5 741.0,570.5 742.0,570.5 743.0,570.5 744.0,570.5 745.0,570.5 746.0,570.5 747.0,570.5 748.0,570.5 749.0,570.5 750.0,570.5 751.0,570.5 752.0,570.5 753.0,570.5 754.0,570.5 755.0,570.5 756.0,570.5 757.0,570.5 758.0,570.5 759.0,570.5 760.0,570.5 761.0,570.5 762.0,570.5 763.0,570.5 764.0,570.5 765.0,570.5 766.0,570.5 767.0,570.5 768.0,570.5 769.0,570.5 770.0,570.5 771.0,570.5 772.0,570.5 773.0,570.5 774.0,570.5 775.0,570.5 776.0,570.5 777.0,570.5 778.0,570.5 779.0,570.5 780.0,570.5 781.0,570.5 782.0,570.5 783.0,570.5 784.0,570.5 785.0,570.5 786.0,570.5 787.0,570.5 788.0,570.5 789.0,570.5 790.0,570.5 791.0,570.5 792.0,570.5 793.0,570.5 794.0,570.5 795.0,570.5 796.0,570.5 797.0,570.5 798.0,570.5 799.0,570.5 800.0,570.5 801.0,570.5 802.0,570.5 803.0,570.5 804.0,570.5 805.0,570.5 806.0,570.5 807.0,570.5 808.0,570.5 809.0,570.5 810.0,570.5 811.0,570.5 812.0,570.5 813.0,570.5 814.0,570.5 815.0,570.5 816.0,570.5 817.0,570.5 818.0,570.5 819.0,570.5 820.0,570.5 821.0,570.5 822.0,570.5 823.0,570.5 824.0,570.5 825.0,570.5 826.0,570.5 827.0,570.5 828.0,570.5 829.0,570.5 830.0,570.5 831.0,570.5 832.0,570.5 833.0,570.5 834.0,570.5 835.0,570.5 836.0,570.5 837.0,570.5 838.0,570.5 839.0,570.5 840.0,570.5 841.0,570.5 842.0,570.5 843.0,570.5 844.0,570.5 845.0,570.5 846.0,570.5 847.0,570.5 848.0,570.5 849.0,570.5 850.0,570.5 851.0,570.5 852.0,570.5 853.0,570.5 854.0,570.5 855.0,570.5 856.0,567.5 857.0,560.6 858.0,553.8 859.0,546.9 860.0,540.0 861.0,533.2 862.0,526.3 863.0,519.5 864.0,512.6 865.0,505.8 866.0,499.0 867.0,492.2 868.0,485.4 869.0,478.7 870.0,471.9 871.0,465.2 872.0,458.6 873.0,451.9 874.0,445.4 875.0,438.9 876.0,432.5 877.0,426.2 878.0,420.0 879.0,414.1 880.0,408.5 881.0,403.3 882.0,398.8 883.0,395.1 884.0,392.7 885.0,391.8 886.0,392.7 887.0,395.1 888.0,398.8 889.0,403.3 890.0,408.5 891.0,414.1 892.0,420.0 893.0,426.2 894.0,432.5 895.0,438.9 896.0,445.4 897.0,451.9 898.0,458.6 899.0,465.2 900.0,471.9 901.0,478.7 902.0,485.4 903.0,492.2 904.0,499.0 905.0,505.8 906.0,512.6 907.0,519.5 908.0,526.3 909.0,533.2 910.0,540.0 911.0,546.9 912.0,553.8 913.0,560.6 914.0,567.5 915.0,570.5 916.0,570.5 917.0,570.5 918.0,570.5 919.0,570.5 920.0,570.5 921.0,570.5 922.0,570.5 923.0,570.5 924.0,570.5 925.0,570.5 926.0,570.5 927.0,570.5 928.0,570.5 929.0,570.5 930.0,570.5 931.0,570.5 932.0,570.5 933.0,570.5 934.0,570.5 935.0,570.5 936.0,570.5 937.0,570.5 938.0,570.5 939.0,570.5 940.0,570.5 941.0,570.5 942.0,570.5 943.0,570.5 944.0,570.5 945.0,570.5 946.0,570.5 947.0,570.5 948.0,570.5 949.0,570.5 950.0,570.5 951.0,570.5 952.0,570.5 953.0,570.5 954.0,570.5 955.0,570.5 956.0,570.5 957.0,570.5 958.0,570.5 959.0,570.5 960.0,570.5 961.0,570.5 962.0,570.5 963.0,570.5 964.0,570.5 965.0,570.5 966.0,570.5 967.0,570.5 968.0,570.5 969.0,570.5 970.0,570.5 971.0,570.5 972.0,570.5 973.0,570.5 974.0,570.5 975.0,570.5 976.0,570.5 977.0,570.5 978.0,570.5 979.0,570.5 980.0,570.5 981.0,570.5 982.0,570.5 983.0,570.5 984.0,570.5 985.0,570.5 986.0,570.5 987.0,570.5 988.0,570.5 989.0,570.5 990.0,570.5 991.0,570.5 992.0,570.5 993.0,570.5 994.0,570.5 995.0,570.5 996.0,570.5 997.0,570.5 998.0,570.5 999.0,570.5 1000.0,570.5 1001.0,570.5 1002.0,570.5 1003.0,570.5 1004.0,570.5 1005.0,570.5 1006.0,570.5 1007.0,570.5 1008.0,570.5 1009.0,570.5 1010.0,570.5 1011.0,570.5 1012.0,570.5 1013.0,570.5 1014.0,570.5 1015.0,570.5 1016.0,570.5 1017.0,570.5 1018.0,570.5 1019.0,570.5 1020.0,570.5 1021.0,570.5 1022.0,570.5 1023.0,570.5 1024.0,570.5 1025.0,570.5 1026.0,570.5 1027.0,570.5 1028.0,570.5 1029.0,570.5 1030.0,570.5 1031.0,570.5 1032.0,570.5 1033.0,570.5 1034.0,570.5 1035.0,570.5 1036.0,570.5 1037.0,570.5 1038.0,570.5 1039.0,570.5 1040.0,570.5 1041.0,570.5 1042.0,570.5 1043.0,570.5 1044.0,570.5 1045.0,570.5 1046.0,570.5 1047.0,570.5 1048.0,570.5 1049.0,570.5 1050.0,570.5 1051.0,570.5 1052.0,570.5 1053.0,570.5 1054.0,570.5 1055.0,570.5 1056.0,570.5 1057.0,570.5 1058.0,570.5 1059.0,570.5 1060.0,570.5 1061.0,570.5 1062.0,570.5 1063.0,570.5 1064.0,570.5 1065.0,570.5 1066.0,570.5 1067.0,570.5 1068.0,570.5 1069.0,570.5 1070.0,570.5 1071.0,570.5 1072.0,570.5 1073.0,570.5 1074.0,570.5 1075.0,570.5 1076.0,570.5 1077.0,570.5 1078.0,570.5 1079.0,570.5 1080.0,570.5 1081.0,570.5 1082.0,570.5 1083.0,570.5 1084.0,570.5 1085.0,570.5 1086.0,570.5 1087.0,570.5 1088.0,570.5 1089.0,570.5 1090.0,570.5 1091.0,570.5 1092.0,570.5 1093.0,570.5 1094.0,570.5 1095.0,570.5 1096.0,570.5 1097.0,570.5 1098.0,570.5 1099.0,570.5 1100.0,570.5 1101.0,570.5 1102.0,570.5 1103.0,570.5 1104.0,570.5 1105.0,570.5 1106.0,570.5 1107.0,570.5 1108.0,570.5 1109.0,570.5 1110.0,570.5 1111.0,570.5 1112.0,570.5 1113.0,570.5 1114.0,570.5 1115.0,570.5 1116.0,570.5 1117.0,570.5 1118.0,570.5 1119.0,570.5 1120.0,570.5 1121.0,570.5 1122.0,570.5 1123.0,570.5 1124.0,570.5 1125.0,570.5 1126.0,570.5 1127.0,570.5 1128.0,570.5 1129.0,570.5 1130.0,570.5 1131.0,570.5 1132.0,570.5 1133.0,570.5 1134.0,570.5 1135.0,570.5 1136.0,570.5 1137.0,570.5 1138.0,570.5 1139.0,570.5 1140.0,570.5 1141.0,570.5 1142.0,570.5 1143.0,570.5 1144.0,570.5 1145.0,570.5 1146.0,570.5 1147.0,570.5 1148.0,570.5 1149.0,570.5 1150.0,570.5 1151.0,570.5 1152.0,570.5 1153.0,570.5 1154.0,570.5 1155.0,570.5 1156.0,570.5 1157.0,570.5 1158.0,570.5 1159.0,570.5 1160.0,570.5 1161.0,570.5 1162.0,570.5 1163.0,570.5 1164.0,570.5 1165.0,570.5 1166.0,570.5 1167.0,570.5 1168.0,570.5 1169.0,570.5 1170.0,570.5 1171.0,570.5 1172.0,570.5 1173.0,570.5 1174.0,570.5 1175.0,570.5 1176.0,570.5 1177.0,570.5 1178.0,570.5 1179.0,570.5 1180.0,570.5 1181.0,570.5 1182.0,570.5 1183.0,570.5 1184.0,570.5 1185.0,570.5 1186.0,570.5 1187.0,570.5 1188.0,570.5 1189.0,570.5 1190.0,570.5 1191.0,570.5 1192.0,570.5 1193.0,570.5 1194.0,570.5 1195.0,570.5 1196.0,570.5 1197.0,570.5 1198.0,570.5 1199.0,570.5 1200.0,570.5 1201.0,570.5 1202.0,570.5 1203.0,570.5 1204.0,570.5 1205.0,570.5 1206.0,570.5 1207.0,570.5 1208.0,570.5 1209.0,570.5 1210.0,570.5 1211.0,570.5 1212.0,570.5 1213.0,570.5 1214.0,570.5 1215.0,570.5 1216.0,570.5 1217.0,570.5 1218.0,570.5 1219.0,570.5 1220.0,570.5 1221.0,570.5 1222.0,570.5 1223.0,570.5 1224.0,570.5 1225.0,570.5 1226.0,570.5 1227.0,570.5 1228.0,570.5 1229.0,570.5 1230.0,570.5 1231.0,570.5 1232.0,570.5 1233.0,570.5 1234.0,570.5 1235.0,570.5 1236.0,570.5 1237.0,570.5 1238.0,570.5 1239.0,570.5 1240.0,570.5 1241.0,570.5 1242.0,570.5 1243.0,570.5 1244.0,570.5 1245.0,570.5 1246.0,570.5 1247.0,570.5 1248.0,570.5 1249.0,570.5 1250.0,570.5 1251.0,570.5 1252.0,570.5 1253.0,570.5 1254.0,570.5 1255.0,570.5 1256.0,570.5 1257.0,570.5 1258.0,570.5 1259.0,570.5 1260.0,570.5 1261.0,570.5 1262.0,570.5 1263.0,570.5 1264.0,570.5 1265.0,570.5 1266.0,570.5 1267.0,570.5 1268.0,570.5 1269.0,570.5 1270.0,570.5 1271.0,570.5 1272.0,570.5 1273.0,570.5 1274.0,570.5 1275.0,570.5 1276.0,570.5 1277.0,570.5 1278.0,570.5 1279.0,570.5 1280.0,570.5 1281.0,570.5 1282.0,570.5 1283.0,570.5 1284.0,570.5 1285.0,570.5 1286.0,570.5 1287.0,570.5 1288.0,570.5 1289.0,570.5 1290.0,570.5 1291.0,570.5 1292.0,570.5 1293.0,570.5 1294.0,570.5 1295.0,570.5 1296.0,570.5 1297.0,570.5 1298.0,570.5 1299.0,570.5 1300.0,570.5 1301.0,570.5 1302.0,570.5 1303.0,570.5 1304.0,570.5 1305.0,570.5 1306.0,570.5 1307.0,570.5 1308.0,570.5 1309.0,570.5 1310.0,570.5 1311.0,570.5 1312.0,570.5 1313.0,570.5 1314.0,570.5 1315.0,570.5 1316.0,570.5 1317.0,570.5 1318.0,570.5 1319.0,570.5 1320.0,570.5 1321.0,570.5 1322.0,570.5 1323.0,570.5 1324.0,570.5 1325.0,570.5 1326.0,570.5 1327.0,570.5 1328.0,570.5 1329.0,570.5 1330.0,570.5 1331.0,570.5 1332.0,570.5 1333.0,570.5 1334.0,570.5 1335.0,570.5 1336.0,570.5 1337.0,570.5 1338.0,570.5 1339.0,570.5 1340.0,570.5 1341.0,570.5 1342.0,570.5 1343.0,570.5 1344.0,570.5 1345.0,570.5 1346.0,570.5 1347.0,570.5 1348.0,570.5 1349.0,570.5 1350.0,570.5 1351.0,570.5 1352.0,570.5 1353.0,570.5 1354.0,570.5 1355.0,570.5 1356.0,570.5 1357.0,570.5 1358.0,570.5 1359.0,570.5 1360.0,570.5 1361.0,570.5 1362.0,570.5 1363.0,570.5 1364.0,570.5 1365.0,570.5 1366.0,570.5 1367.0,570.5 1368.0,570.5 1369.0,570.5 1370.0,570.5 1371.0,570.5 1372.0,570.5 1373.0,570.5 1374.0,570.5 1375.0,570.5 1376.0,570.5 1377.0,570.5 1378.0,570.5 1379.0,570.5 1380.0,570.5 1381.0,570.5 1382.0,570.5 1383.0,570.5 1384.0,570.5 1385.0,570.5 1386.0,570.5 1387.0,570.5 1388.0,570.5 1389.0,570.5 1390.0,570.5 1391.0,570.5 1392.0,570.5 1393.0,570.5 1394.0,570.5 1395.0,570.5 1396.0,570.5 1397.0,570.5 1398.0,570.5 1399.0,570.5 1400.0,565.4 1401.0,559.0 1402.0,552.6 1403.0,546.2 1404.0,539.9 1405.0,533.5 1406.0,527.2 1407.0,520.8 1408.0,514.5 1409.0,508.1 1410.0,501.8 1411.0,495.5 1412.0,489.3 1413.0,483.0 1414.0,476.8 1415.0,470.6 1416.0,464.4 1417.0,458.3 1418.0,452.3 1419.0,446.3 1420.0,440.4 1421.0,434.7 1422.0,429.1 1423.0,423.8 1424.0,418.9 1425.0,414.4 1426.0,410.8 1427.0,408.1 1428.0,406.9 1429.0,407.2 1430.0,409.0 1431.0,412.1 1432.0,416.1 1433.0,420.8 1434.0,425.9 1435.0,431.3 1436.0,437.0 1437.0,442.8 1438.0,448.7 1439.0,454.7 1440.0,460.8 1441.0,466.9 1442.0,473.1 1443.0,479.3 1444.0,485.5 1445.0,491.8 1446.0,498.1 1447.0,504.4 1448.0,510.7 1449.0,517.0 1450.0,523.3 1451.0,529.7 1452.0,536.1 1453.0,542.4 1454.0,548.8 1455.0,555.2 1456.0,561.5 1457.0,567.9 1458.0,570.5 1459.0,570.5 1460.0,570.5 1461.0,570.5 1462.0,570.5 1463.0,570.5 1464.0,570.5 1465.0,570.5 1466.0,570.5 1467.0,570.5 1468.0,570.5 1469.0,570.5 1470.0,570.5 1471.0,570.5 1472.0,570.5 1473.0,570.5 1474.0,570.5 1475.0,570.5 1476.0,570.5 1477.0,570.5 1478.0,570.5 1479.0,570.5 1480.0,570.5 1481.0,570.5 1482.0,570.5 1483.0,570.5 1484.0,570.5 1485.0,570.5 1486.0,570.5 1487.0,570.5 1488.0,570.5 1489.0,570.5 1490.0,570.5 1491.0,570.5 1492.0,570.5 1493.0,570.5 1494.0,570.5 1495.0,570.5 1496.0,570.5 1497.0,570.5 1498.0,570.5 1499.0,570.5 1500.0,570.5 1501.0,570.5 1502.0,570.5 1503.0,570.5 1504.0,570.5 1505.0,570.5 1506.0,570.5 1507.0,570.5 1508.0,570.5 1509.0,570.5 1510.0,570.5 1511.0,570.5 1512.0,570.5 1513.0,570.5 1514.0,570.5 1515.0,570.5 1516.0,570.5 1517.0,570.5 1518.0,570.5 1519.0,570.5 1520.0,570.5 1521.0,570.5 1522.0,570.5 1523.0,570.5 1524.0,570.5 1525.0,570.5 1526.0,570.5 1527.0,570.5 1528.0,570.5 1529.0,570.5 1530.0,570.5 1531.0,570.5 1532.0,570.5 1533.0,570.5 1534.0,570.5 1535.0,570.5 1536.0,570.5 1537.0,570.5 1538.0,570.5 1539.0,570.5 1540.0,570.5 1541.0,570.5 1542.0,570.5 1543.0,570.5 1544.0,570.5 1545.0,570.5 1546.0,570.5 1547.0,570.5 1548.0,570.5 1549.0,570.5 1550.0,570.5 1551.0,570.5 1552.0,570.5 1553.0,570.5 1554.0,570.5 1555.0,570.5 1556.0,570.5 1557.0,570.5 1558.0,570.5 1559.0,570.5 1560.0,570.5 1561.0,570.5 1562.0,570.5 1563.0,570.5 1564.0,570.5 1565.0,570.5 1566.0,570.5 1567.0,570.5 1568.0,570.5 1569.0,570.5 1570.0,570.5 1571.0,570.5 1572.0,570.5 1573.0,570.5 1574.0,570.5 1575.0,570.5 1576.0,570.5 1577.0,570.5 1578.0,570.5 1579.0,570.5 1580.0,570.5 1581.0,570.5 1582.0,570.5 1583.0,570.5 1584.0,570.5 1585.0,570.5 1586.0,570.5 1587.0,570.5 1588.0,570.5 1589.0,570.5 1590.0,570.5 1591.0,570.5 1592.0,570.5 1593.0,570.5 1594.0,570.5 1595.0,570.5 1596.0,570.5 1597.0,570.5 1598.0,570.5 1599.0,570.5 1600.0,570.5 1601.0,570.5 1602.0,570.5 1603.0,570.5 1604.0,570.5 1605.0,570.5 1606.0,570.5 1607.0,570.5 1608.0,570.5 1609.0,570.5 1610.0,570.5 1611.0,570.5 1612.0,570.5 1613.0,570.5 1614.0,570.5 1615.0,570.5 1616.0,570.5 1617.0,570.5 1618.0,570.5 1619.0,570.5 1620.0,570.5 1621.0,570.5 1622.0,570.5 1623.0,570.5 1624.0,570.5 1625.0,570.5 1626.0,570.5 1627.0,570.5 1628.0,570.5 1629.0,570.5 1630.0,570.5 1631.0,570.5 1632.0,570.5 1633.0,570.5 1634.0,570.5 1635.0,570.5 1636.0,570.5 1637.0,570.5 1638.0,570.5 1639.0,570.5 1640.0,570.5 1641.0,570.5 1642.0,570.5 1643.0,570.5 1644.0,570.5 1645.0,570.5 1646.0,570.5 1647.0,570.5 1648.0,570.5 1649.0,570.5 1650.0,570.5 1651.0,570.5 1652.0,570.5 1653.0,570.5 1654.0,570.5 1655.0,570.5 1656.0,570.5 1657.0,570.5 1658.0,570.5 1659.0,570.5 1660.0,570.5 1661.0,570.5 1662.0,570.5 1663.0,570.5 1664.0,570.5 1665.0,570.5 1666.0,570.5 1667.0,570.5 1668.0,570.5 1669.0,570.5 1670.0,570.5 1671.0,570.5 1672.0,570.5 1673.0,570.5 1674.0,570.5 1675.0,570.5 1676.0,570.5 1677.0,570.5 1678.0,570.5 1679.0,570.5 1680.0,570.5 1681.0,570.5 1682.0,570.5 1683.0,570.5 1684.0,570.5 1685.0,570.5 1686.0,570.5 1687.0,567.4 1688.0,556.3 1689.0,545.2 1690.0,534.1 1691.0,523.1 1692.0,512.0 1693.0,501.0 1694.0,489.9 1695.0,478.9 1696.0,467.9 1697.0,456.9 1698.0,445.9 1699.0,434.9 1700.0,424.0 1701.0,413.0 1702.0,402.2 1703.0,391.3 1704.0,380.5 1705.0,369.7 1706.0,358.9 1707.0,348.3 1708.0,337.7 1709.0,327.2 1710.0,316.9 1711.0,306.7 1712.0,296.8 1713.0,287.2 1714.0,278.0 1715.0,269.4 1716.0,261.7 1717.0,255.4 1718.0,250.8 1719.0,248.6 1720.0,249.2 1721.0,252.4 1722.0,257.7 1723.0,264.7 1724.0,272.8 1725.0,281.6 1726.0,291.0 1727.0,300.7 1728.0,310.8 1729.0,321.0 1730.0,331.4 1731.0,341.9 1732.0,352.5 1733.0,363.2 1734.0,374.0 1735.0,384.8 1736.0,395.6 1737.0,406.5 1738.0,417.4 1739.0,428.4 1740.0,439.3 1741.0,450.3 1742.0,461.3 1743.0,472.3 1744.0,483.3 1745.0,494.3 1746.0,505.4 1747.0,516.4 1748.0,527.5 1749.0,538.6 1750.0,549.6 1751.0,560.7 1752.0,570.5 1753.0,570.5 1754.0,570.5 1755.0,570.5 1756.0,570.5 1757.0,570.5 1758.0,570.5 1759.0,570.5 1760.0,570.5 1761.0,570.5 1762.0,570.5 1763.0,570.5 1764.0,570.5 1765.0,570.5 1766.0,570.5 1767.0,570.5 1768.0,570.5 1769.0,570.5 1770.0,570.5 1771.0,570.5 1772.0,570.5 1773.0,570.5 1774.0,570.5 1775.0,570.5 1776.0,570.5 1777.0,570.5 1778.0,570.5 1779.0,570.5 1780.0,570.5 1781.0,570.5 1782.0,570.5 1783.0,570.5 1784.0,570.5 1785.0,570.5 1786.0,570.5 1787.0,570.5 1788.0,570.5 1789.0,570.5 1790.0,570.5 1791.0,570.5 1792.0,570.5 1793.0,570.5 1794.0,570.5 1795.0,570.5 1796.0,570.5 1797.0,570.5 1798.0,570.5 1799.0,570.5 1800.0,570.5 1801.0,570.5 1802.0,570.5 1803.0,570.5 1804.0,570.5 1805.0,570.5 1806.0,570.5 1807.0,570.5 1808.0,570.5 1809.0,570.5 1810.0,570.5 1811.0,570.5 1812.0,570.5 1813.0,570.5 1814.0,570.5 1815.0,570.5 1816.0,570.5 1817.0,570.5 1818.0,570.5 1819.0,570.5 1820.0,570.5 1821.0,570.5 1822.0,570.5 1823.0,570.5 1824.0,570.5 1825.0,570.5 1826.0,570.5 1827.0,570.5 1828.0,570.5 1829.0,570.5 1830.0,570.5 1831.0,570.5 1832.0,570.5 1833.0,570.5 1834.0,570.5 1835.0,570.5 1836.0,570.5 1837.0,570.5 1838.0,570.5 1839.0,570.5 1840.0,570.5 1841.0,570.5 1842.0,570.5 1843.0,570.5 1844.0,570.5 1845.0,570.5 1846.0,570.5 1847.0,570.5 1848.0,570.5 1849.0,570.5 1850.0,570.5 1851.0,570.5 1852.0,570.5 1853.0,570.5 1854.0,570.5 1855.0,570.5 1856.0,570.5 1857.0,570.5 1858.0,570.5 1859.0,570.5 1860.0,570.5 1861.0,570.5 1862.0,570.5 1863.0,570.5 1864.0,570.5 1865.0,570.5 1866.0,570.5 1867.0,570.5 1868.0,570.5 1869.0,570.5 1870.0,570.5 1871.0,570.5 1872.0,570.5 1873.0,570.5 1874.0,570.5 1875.0,570.5 1876.0,570.5 1877.0,570.5 1878.0,570.5 1879.0,570.5 1880.0,570.5 1881.0,570.5 1882.0,570.5 1883.0,570.5 1884.0,570.5 1885.0,570.5 1886.0,570.5 1887.0,570.5 1888.0,570.5 1889.0,570.5 1890.0,570.5 1891.0,570.5 1892.0,570.5 1893.0,570.5 1894.0,570.5 1895.0,570.5 1896.0,570.5 1897.0,570.5 1898.0,570.5 1899.0,570.5 1900.0,570.5 1901.0,570.5 1902.0,570.5 1903.0,570.5 1904.0,570.5 1905.0,570.5 1906.0,570.5 1907.0,570.5 1908.0,570.5 1909.0,570.5 1910.0,570.5 1911.0,570.5 1912.0,570.5 1913.0,570.5 1914.0,570.5 1915.0,570.5 1916.0,570.5 1917.0,570.5 1918.0,570.5 1919.0,570.5 1920.0,570.5 1921.0,570.5 1922.0,570.5 1923.0,570.5 1924.0,570.5 1925.0,570.5 1926.0,570.5 1927.0,570.5 1928.0,570.5 1929.0,570.5 1930.0,570.5 1931.0,570.5 1932.0,570.5 1933.0,570.5 1934.0,570.5 1935.0,570.5 1936.0,570.5 1937.0,570.5 1938.0,570.5 1939.0,570.5 1940.0,570.5 1941.0,570.5 1942.0,570.5 1943.0,570.5 1944.0,570.5 1945.0,570.5 1946.0,570.5 1947.0,570.5 1948.0,570.5 1949.0,570.5 1950.0,570.5 1951.0,565.2 1952.0,557.9 1953.0,550.6 1954.0,543.3 1955.0,536.0 1956.0,528.7 1957.0,521.4 1958.0,514.1 1959.0,506.9 1960.0,499.6 1961.0,492.4 1962.0,485.2 1963.0,478.0 1964.0,470.8 1965.0,463.6 1966.0,456.5 1967.0,449.4 1968.0,442.4 1969.0,435.4 1970.0,428.5 1971.0,421.7 1972.0,415.0 1973.0,408.5 1974.0,402.2 1975.0,396.3 1976.0,390.7 1977.0,385.9 1978.0,382.0 1979.0,379.4 1980.0,378.5 1981.0,379.4 1982.0,382.0 1983.0,385.9 1984.0,390.7 1985.0,396.3 1986.0,402.2 1987.0,408.5 1988.0,415.0 1989.0,421.7 1990.0,428.5 1991.0,435.4 1992.0,442.4 1993.0,449.4 1994.0,456.5 1995.0,463.6 1996.0,470.8 1997.0,478.0 1998.0,485.2 1999.0,492.4 2000.0,499.6 2001.0,506.9 2002.0,514.1 2003.0,521.4 2004.0,528.7 2005.0,536.0 2006.0,543.3 2007.0,550.6 2008.0,557.9 2009.0,565.2 2010.0,570.5 2011.0,570.5 2012.0,570.5 2013.0,570.5 2014.0,570.5 2015.0,570.5 2016.0,570.5 2017.0,570.5 2018.0,570.5 2019.0,570.5 2020.0,570.5 2021.0,570.5 2022.0,570.5 2023.0,570.5 2024.0,570.5 2025.0,570.5 2026.0,570.5 2027.0,570.5 2028.0,570.5 2029.0,570.5 2030.0,570.5 2031.0,570.5 2032.0,570.5 2033.0,570.5 2034.0,570.5 2035.0,570.5 2036.0,570.5 2037.0,570.5 2038.0,570.5 2039.0,570.5 2040.0,570.5 2041.0,570.5 2042.0,570.5 2043.0,570.5 2044.0,570.5 2045.0,570.5 2046.0,570.5 2047.0,570.5 2048.0,570.5 2049.0,570.5 2050.0,570.5 2051.0,570.5 2052.0,570.5 2053.0,570.5 2054.0,570.5 2055.0,570.5 2056.0,570.5 2057.0,570.5 2058.0,570.5 2059.0,570.5 2060.0,570.5 2061.0,570.5 2062.0,570.5 2063.0,570.5 2064.0,570.5 2065.0,570.5 2066.0,570.5 2067.0,570.5 2068.0,570.5 2069.0,570.5 2070.0,570.5 2071.0,570.5 2072.0,570.5 2073.0,570.5 2074.0,570.5 2075.0,570.5 2076.0,570.5 2077.0,570.5 2078.0,570.5 2079.0,570.5 2080.0,570.5 2081.0,570.5 2082.0,570.5 2083.0,570.5 2084.0,570.5 2085.0,570.5 2086.0,570.5 2087.0,570.5 2088.0,570.5 2089.0,570.5 2090.0,570.5 2091.0,570.5 2092.0,570.5 2093.0,570.5 2094.0,570.5 2095.0,570.5 2096.0,570.5 2097.0,570.5 2098.0,570.5 2099.0,570.5 2100.0,570.5 2101.0,570.5 2102.0,570.5 2103.0,570.5 2104.0,570.5 2105.0,570.5 2106.0,570.5 2107.0,570.5 2108.0,570.5 2109.0,570.5 2110.0,570.5 2111.0,570.5 2112.0,570.5 2113.0,570.5 2114.0,570.5 2115.0,570.5 2116.0,570.5 2117.0,570.5 2118.0,570.5 2119.0,570.5 2120.0,570.5 2121.0,570.5 2122.0,570.5 2123.0,570.5 2124.0,570.5 2125.0,570.5 2126.0,570.5 2127.0,570.5 2128.0,570.5 2129.0,570.5 2130.0,570.5 2131.0,570.5 2132.0,570.5 2133.0,570.5 2134.0,570.5 2135.0,570.5 2136.0,570.5 2137.0,570.5 2138.0,570.5 2139.0,565.0 2140.0,557.2 2141.0,549.5 2142.0,541.8 2143.0,534.0 2144.0,526.3 2145.0,518.6 2146.0,510.9 2147.0,503.2 2148.0,495.6 2149.0,487.9 2150.0,480.3 2151.0,472.7 2152.0,465.1 2153.0,457.5 2154.0,449.9 2155.0,442.4 2156.0,435.0 2157.0,427.6 2158.0,420.3 2159.0,413.0 2160.0,405.9 2161.0,399.0 2162.0,392.2 2163.0,385.8 2164.0,379.8 2165.0,374.5 2166.0,370.0 2167.0,366.8 2168.0,365.3 2169.0,365.7 2170.0,367.8 2171.0,371.4 2172.0,376.0 2173.0,381.4 2174.0,387.3 2175.0,393.6 2176.0,400.1 2177.0,406.8 2178.0,413.6 2179.0,420.6 2180.0,427.6 2181.0,434.7 2182.0,441.8 2183.0,449.0 2184.0,456.2 2185.0,463.4 2186.0,470.7 2187.0,478.0 2188.0,485.3 2189.0,492.6 2190.0,499.9 2191.0,507.3 2192.0,514.6 2193.0,522.0 2194.0,529.3 2195.0,536.7 2196.0,544.1 2197.0,551.5 2198.0,554.8 2199.0,555.6 2200.0,553.3 2201.0,546.7 2202.0,540.2 2203.0,533.6 2204.0,527.1 2205.0,520.6 2206.0,514.1 2207.0,507.6 2208.0,501.1 2209.0,494.7 2210.0,488.3 2211.0,481.9 2212.0,475.5 2213.0,469.2 2214.0,462.9 2215.0,456.7 2216.0,450.6 2217.0,444.6 2218.0,438.8 2219.0,433.1 2220.0,427.7 2221.0,422.8 2222.0,418.4 2223.0,414.9 2224.0,412.6 2225.0,411.8 2226.0,412.6 2227.0,414.8 2228.0,418.1 2229.0,422.2 2230.0,426.9 2231.0,432.0 2232.0,437.3 2233.0,442.9 2234.0,448.5 2235.0,454.3 2236.0,460.2 2237.0,466.1 2238.0,472.1 2239.0,478.1 2240.0,484.2 2241.0,490.3 2242.0,496.4 2243.0,502.5 2244.0,508.6 2245.0,514.8 2246.0,521.0 2247.0,527.1 2248.0,533.3 2249.0,539.5 2250.0,545.7 2251.0,551.9 2252.0,558.1 2253.0,564.3 2254.0,570.5 2255.0,570.5 2256.0,570.5 2257.0,570.5 2258.0,570.5 2259.0,570.5 2260.0,570.5 2261.0,570.5 2262.0,570.5 2263.0,570.5 2264.0,570.5 2265.0,570.5 2266.0,570.5 2267.0,570.5 2268.0,570.5 2269.0,570.5 2270.0,570.5 2271.0,570.5 2272.0,570.5 2273.0,570.5 2274.0,570.5 2275.0,570.5 2276.0,570.5 2277.0,570.5 2278.0,570.5 2279.0,570.5 2280.0,570.5 2281.0,570.5 2282.0,570.5 2283.0,570.5 2284.0,570.5 2285.0,570.5 2286.0,570.5 2287.0,570.5 2288.0,570.5 2289.0,570.5 2290.0,570.5 2291.0,570.5 2292.0,570.5 2293.0,570.5 2294.0,570.5 2295.0,570.5 2296.0,570.5 2297.0,570.5 2298.0,570.5 2299.0,570.5 2300.0,570.5 2301.0,563.9 2302.0,556.4 2303.0,548.9 2304.0,541.4 2305.0,533.9 2306.0,526.4 2307.0,518.9 2308.0,511.4 2309.0,503.9 2310.0,496.4 2311.0,489.0 2312.0,481.6 2313.0,474.2 2314.0,466.8 2315.0,459.4 2316.0,452.1 2317.0,444.8 2318.0,437.6 2319.0,430.4 2320.0,423.3 2321.0,416.3 2322.0,409.4 2323.0,402.7 2324.0,396.2 2325.0,390.1 2326.0,384.4 2327.0,379.4 2328.0,375.4 2329.0,372.7 2330.0,371.8 2331.0,372.7 2332.0,375.4 2333.0,379.4 2334.0,384.4 2335.0,390.1 2336.0,396.2 2337.0,402.7 2338.0,409.4 2339.0,416.3 2340.0,423.3 2341.0,430.4 2342.0,437.6 2343.0,444.8 2344.0,452.1 2345.0,459.4 2346.0,466.8 2347.0,474.2 2348.0,481.6 2349.0,489.0 2350.0,496.4 2351.0,503.9 2352.0,511.4 2353.0,518.9 2354.0,526.4 2355.0,533.9 2356.0,541.4 2357.0,548.9 2358.0,556.4 2359.0,563.9 2360.0,570.5 2361.0,570.5 2362.0,570.5 2363.0,570.5 2364.0,570.5 2365.0,570.5 2366.0,570.5 2367.0,570.5 2368.0,570.5 2369.0,570.5 2370.0,570.5 2371.0,570.5 2372.0,570.5 2373.0,570.5 2374.0,570.5 2375.0,570.5 2376.0,570.5 2377.0,570.5 2378.0,570.5 2379.0,570.5 2380.0,570.5 2381.0,570.5 2382.0,570.5 2383.0,570.5 2384.0,570.5 2385.0,570.5 2386.0,570.5 2387.0,570.5 2388.0,570.5 2389.0,570.5 2390.0,570.5 2391.0,570.5 2392.0,570.5 2393.0,570.5 2394.0,570.5 2395.0,570.5 2396.0,570.5 2397.0,570.5 2398.0,570.5 2399.0,570.5 2400.0,570.5 2401.0,570.5 2402.0,570.5 2403.0,570.5 2404.0,570.5 2405.0,570.5 2406.0,570.5 2407.0,570.5 2408.0,570.5 2409.0,570.5 2410.0,570.5 2411.0,570.5 2412.0,570.5 2413.0,570.5 2414.0,570.5 2415.0,570.5 2416.0,570.5 2417.0,570.5 2418.0,570.5 2419.0,570.5 2420.0,570.5 2421.0,570.5 2422.0,570.5 2423.0,570.5 2424.0,570.5 2425.0,570.5 2426.0,570.5 2427.0,570.5 2428.0,570.5 2429.0,570.5 2430.0,570.5 2431.0,570.5 2432.0,570.5 2433.0,570.5 2434.0,570.5 2435.0,570.5 2436.0,570.5 2437.0,570.5 2438.0,570.5 2439.0,570.5 2440.0,570.5 2441.0,570.5 2442.0,570.5 2443.0,570.5 2444.0,570.5 2445.0,570.5 2446.0,570.5 2447.0,570.5 2448.0,570.5 2449.0,570.5 2450.0,570.5 2451.0,570.5 2452.0,570.5 2453.0,570.5 2454.0,570.5 2455.0,570.5 2456.0,570.5 2457.0,570.5 2458.0,570.5 2459.0,570.5 2460.0,570.5 2461.0,570.5 2462.0,570.5 2463.0,570.5 2464.0,570.5 2465.0,570.5 2466.0,570.5 2467.0,570.5 2468.0,570.5 2469.0,570.5 2470.0,570.5 2471.0,564.8 2472.0,555.3 2473.0,545.8 2474.0,536.3 2475.0,526.9 2476.0,517.4 2477.0,508.0 2478.0,498.5 2479.0,489.1 2480.0,479.7 2481.0,470.3 2482.0,460.9 2483.0,451.5 2484.0,442.2 2485.0,432.9 2486.0,423.6 2487.0,414.3 2488.0,405.1 2489.0,395.9 2490.0,386.8 2491.0,377.8 2492.0,368.9 2493.0,360.2 2494.0,351.6 2495.0,343.2 2496.0,335.2 2497.0,327.6 2498.0,320.7 2499.0,314.7 2500.0,310.1 2501.0,307.4 2502.0,306.9 2503.0,308.8 2504.0,312.7 2505.0,318.1 2506.0,324.7 2507.0,332.1 2508.0,339.9 2509.0,348.2 2510.0,356.7 2511.0,365.4 2512.0,374.3 2513.0,383.2 2514.0,392.3 2515.0,401.4 2516.0,410.6 2517.0,419.9 2518.0,429.1 2519.0,438.4 2520.0,447.8 2521.0,457.1 2522.0,466.5 2523.0,475.9 2524.0,485.3 2525.0,494.8 2526.0,504.2 2527.0,513.6 2528.0,523.1 2529.0,532.6 2530.0,542.0 2531.0,551.5 2532.0,561.0 2533.0,570.5 2534.0,570.5 2535.0,570.5 2536.0,570.5 2537.0,570.5 2538.0,570.5 2539.0,570.5 2540.0,570.5 2541.0,570.5 2542.0,570.5 2543.0,570.5 2544.0,570.5 2545.0,570.5 2546.0,570.5 2547.0,570.5 2548.0,570.5 2549.0,570.5 2550.0,570.5 2551.0,570.5 2552.0,570.5 2553.0,570.5 2554.0,570.5 2555.0,570.5 2556.0,570.5 2557.0,570.5 2558.0,570.5 2559.0,570.5 2560.0,570.5 2561.0,570.5 2562.0,570.5 2563.0,570.5 2564.0,570.5 2565.0,570.5 2566.0,570.5 2567.0,570.5 2568.0,570.5 2569.0,570.5 2570.0,570.5 2571.0,570.5 2572.0,570.5 2573.0,570.5 2574.0,570.5 2575.0,570.5 2576.0,570.5 2577.0,570.5 2578.0,570.5 2579.0,570.5 2580.0,570.5 2581.0,570.5 2582.0,570.5 2583.0,570.5 2584.0,570.5 2585.0,570.5 2586.0,570.5 2587.0,570.5 2588.0,570.5 2589.0,570.5 2590.0,570.5 2591.0,570.5 2592.0,570.5 2593.0,570.5 2594.0,570.5 2595.0,570.5 2596.0,570.5 2597.0,570.5 2598.0,570.5 2599.0,570.5 2600.0,570.5 2601.0,570.5 2602.0,570.5 2603.0,570.5 2604.0,570.5 2605.0,570.5 2606.0,570.5 2607.0,570.5 2608.0,570.5 2609.0,570.5 2610.0,570.5 2611.0,570.5 2612.0,570.5 2613.0,570.5 2614.0,570.5 2615.0,570.5 2616.0,570.5 2617.0,570.5 2618.0,570.5 2619.0,570.5 2620.0,570.5 2621.0,570.5 2622.0,570.5 2623.0,570.5 2624.0,570.5 2625.0,570.5 2626.0,570.5 2627.0,570.5 2628.0,570.5 2629.0,570.5 2630.0,570.5 2631.0,570.5 2632.0,570.5 2633.0,570.5 2634.0,570.5 2635.0,570.5 2636.0,570.5 2637.0,570.5 2638.0,570.5 2639.0,570.5 2640.0,570.5 2641.0,570.5 2642.0,570.5 2643.0,570.5 2644.0,570.5 2645.0,570.5 2646.0,570.5 2647.0,570.5 2648.0,570.5 2649.0,570.5 2650.0,570.5 2651.0,570.5 2652.0,570.5 2653.0,570.5 2654.0,570.5 2655.0,570.5 2656.0,570.5 2657.0,570.5 2658.0,570.5 2659.0,570.5 2660.0,570.5 2661.0,570.5 2662.0,570.5 2663.0,570.5 2664.0,570.5 2665.0,570.5 2666.0,570.5 2667.0,570.5 2668.0,570.5 2669.0,570.5 2670.0,570.5 2671.0,570.5 2672.0,570.5 2673.0,570.5 2674.0,570.5 2675.0,570.5 2676.0,570.5 2677.0,570.5 2678.0,570.5 2679.0,570.5 2680.0,570.5 2681.0,570.5 2682.0,570.5 2683.0,570.5 2684.0,570.5 2685.0,570.5 2686.0,570.5 2687.0,570.5 2688.0,570.5 2689.0,570.5 2690.0,570.5 2691.0,570.5 2692.0,570.5 2693.0,570.5 2694.0,570.5 2695.0,570.5 2696.0,570.5 2697.0,570.5 2698.0,570.5 2699.0,570.5 2700.0,570.5 2701.0,570.5 2702.0,570.5 2703.0,570.5 2704.0,570.5 2705.0,570.5 2706.0,570.5 2707.0,570.5 2708.0,570.5 2709.0,570.5 2710.0,570.5 2711.0,570.5 2712.0,570.5 2713.0,570.5 2714.0,570.5 2715.0,570.5 2716.0,570.5 2717.0,570.5 2718.0,570.5 2719.0,570.5 2720.0,570.5 2721.0,570.5 2722.0,570.5 2723.0,570.5 2724.0,570.5 2725.0,570.5 2726.0,570.5 2727.0,570.5 2728.0,570.5 2729.0,570.5 2730.0,570.5 2731.0,570.5 2732.0,570.5 2733.0,570.5 2734.0,570.5 2735.0,570.5 2736.0,570.5 2737.0,570.5 2738.0,570.5 2739.0,570.5 2740.0,570.5 2741.0,570.5 2742.0,570.5 2743.0,570.5 2744.0,570.5 2745.0,570.5 2746.0,570.5 2747.0,570.5 2748.0,570.5 2749.0,570.5 2750.0,570.5 2751.0,570.5 2752.0,570.5 2753.0,570.5 2754.0,570.5 2755.0,570.5 2756.0,570.5 2757.0,570.5 2758.0,570.5 2759.0,570.5 2760.0,570.5 2761.0,570.5 2762.0,570.5 2763.0,570.5 2764.0,570.5 2765.0,570.5 2766.0,570.5 2767.0,570.5 2768.0,570.5 2769.0,570.5 2770.0,570.5 2771.0,570.5 2772.0,570.5 2773.0,570.5 2774.0,568.9 2775.0,558.8 2776.0,548.8 2777.0,538.7 2778.0,528.7 2779.0,518.6 2780.0,508.6 2781.0,498.6 2782.0,488.5 2783.0,478.5 2784.0,468.5 2785.0,458.6 2786.0,448.6 2787.0,438.7 2788.0,428.8 2789.0,418.9 2790.0,409.0 2791.0,399.2 2792.0,389.4 2793.0,379.7 2794.0,370.1 2795.0,360.5 2796.0,351.1 2797.0,341.8 2798.0,332.7 2799.0,323.8 2800.0,315.4 2801.0,307.4 2802.0,300.1 2803.0,293.9 2804.0,289.2 2805.0,286.6 2806.0,286.3 2807.0,288.5 2808.0,292.9 2809.0,298.8 2810.0,305.9 2811.0,313.7 2812.0,322.1 2813.0,330.9 2814.0,340.0 2815.0,349.2 2816.0,358.6 2817.0,368.2 2818.0,377.8 2819.0,387.5 2820.0,397.2 2821.0,407.0 2822.0,416.9 2823.0,426.8 2824.0,436.7 2825.0,446.6 2826.0,456.6 2827.0,466.5 2828.0,476.5 2829.0,486.5 2830.0,496.6 2831.0,506.6 2832.0,516.6 2833.0,526.7 2834.0,536.7 2835.0,546.8 2836.0,556.8 2837.0,566.9" fill="none" stroke="#e5363b" stroke-width="6.0" stroke-linejoin="round"/>
<polyline points="362.0,570.5 363.0,570.5 364.0,570.5 365.0,570.5 366.0,570.5 367.0,570.5 368.0,570.5 369.0,570.5 370.0,570.5 371.0,570.5 372.0,570.5 373.0,570.5 374.0,570.5 375.0,570.5 376.0,570.5 377.0,570.5 378.0,570.5 379.0,570.5 380.0,570.5 381.0,570.5 382.0,570.5 383.0,570.5 384.0,570.5 385.0,570.5 386.0,570.5 387.0,570.5 388.0,570.5 389.0,570.5 390.0,570.5 391.0,570.5 392.0,570.5 393.0,570.5 394.0,570.5 395.0,570.5 396.0,570.5 397.0,570.5 398.0,570.5 399.0,570.5 400.0,570.5 401.0,570.5 402.0,570.5 403.0,570.5 404.0,570.5 405.0,570.5 406.0,570.5 407.0,570.5 408.0,570.5 409.0,570.5 410.0,570.5 411.0,570.5 412.0,570.5 413.0,570.5 414.0,570.5 415.0,570.5 416.0,570.5 417.0,570.5 418.0,570.5 419.0,570.5 420.0,570.5 421.0,570.5 422.0,570.5 423.0,570.5 424.0,570.5 425.0,570.5 426.0,570.5 427.0,570.5 428.0,570.5 429.0,570.5 430.0,570.5 431.0,570.5 432.0,570.5 433.0,570.5 434.0,570.5 435.0,570.5 436.0,570.5 437.0,570.5 438.0,570.5 439.0,570.5 440.0,570.5 441.0,570.5 442.0,570.5 443.0,570.5 444.0,570.5 445.0,570.5 446.0,570.5 447.0,570.5 448.0,570.5 449.0,570.5 450.0,570.5 451.0,570.5 452.0,570.5 453.0,570.5 454.0,570.5 455.0,570.5 456.0,570.5 457.0,570.5 458.0,570.5 459.0,570.5 460.0,570.5 461.0,570.5 462.0,570.5 463.0,570.5 464.0,570.5 465.0,570.5 466.0,570.5 467.0,570.5 468.0,570.5 469.0,570.5 470.0,570.5 471.0,570.5 472.0,570.5 473.0,570.5 474.0,570.5 475.0,570.5 476.0,570.5 477.0,570.5 478.0,570.5 479.0,570.5 480.0,570.5 481.0,570.5 482.0,570.5 483.0,570.5 484.0,570.5 485.0,570.5 486.0,570.5 487.0,570.5 488.0,570.5 489.0,570.5 490.0,570.5 491.0,570.5 492.0,570.5 493.0,570.5 494.0,570.5 495.0,570.5 496.0,570.5 497.0,570.5 498.0,570.5 499.0,570.5 500.0,570.5 501.0,570.5 502.0,570.5 503.0,570.5 504.0,570.5 505.0,570.5 506.0,570.5 507.0,570.5 508.0,570.5 509.0,570.5 510.0,570.5 511.0,570.5 512.0,570.5 513.0,570.5 514.0,570.5 515.0,570.5 516.0,570.5 517.0,570.5 518.0,570.5 519.0,570.5 520.0,570.5 521.0,570.5 522.0,570.5 523.0,570.5 524.0,570.5 525.0,570.5 526.0,570.5 527.0,570.5 528.0,570.5 529.0,570.5 530.0,570.5 531.0,570.5 532.0,570.5 533.0,570.5 534.0,570.5 535.0,570.5 536.0,570.5 537.0,570.5 538.0,570.5 539.0,570.5 540.0,570.5 541.0,570.5 542.0,570.5 543.0,570.5 544.0,570.5 545.0,570.5 546.0,570.5 547.0,570.5 548.0,570.5 549.0,570.5 550.0,570.5 551.0,570.5 552.0,570.5 553.0,570.5 554.0,570.5 555.0,570.5 556.0,570.5 557.0,570.5 558.0,570.5 559.0,570.5 560.0,570.5 561.0,570.5 562.0,570.5 563.0,570.5 564.0,570.5 565.0,570.5 566.0,570.5 567.0,570.5 568.0,570.5 569.0,570.5 570.0,570.5 571.0,570.5 572.0,570.5 573.0,570.5 574.0,570.5 575.0,570.5 576.0,570.5 577.0,570.5 578.0,570.5 579.0,570.5 580.0,570.5 581.0,570.5 582.0,570.5 583.0,570.5 584.0,570.5 585.0,570.5 586.0,570.5 587.0,570.5 588.0,570.5 589.0,570.5 590.0,570.5 591.0,570.5 592.0,570.5 593.0,570.5 594.0,570.5 595.0,570.5 596.0,570.5 597.0,570.5 598.0,570.5 599.0,570.5 600.0,570.5 601.0,570.5 602.0,570.5 603.0,570.5 604.0,570.5 605.0,570.5 606.0,570.5 607.0,570.5 608.0,570.5 609.0,570.5 610.0,570.5 611.0,570.5 612.0,570.5 613.0,570.5 614.0,570.5 615.0,570.5 616.0,570.5 617.0,570.5 618.0,570.5 619.0,570.5 620.0,570.5 621.0,570.5 622.0,570.5 623.0,570.5 624.0,570.5 625.0,570.5 626.0,570.5 627.0,570.5 628.0,570.5 629.0,570.5 630.0,570.5 631.0,570.5 632.0,570.5 633.0,570.5 634.0,570.5 635.0,570.5 636.0,570.5 637.0,570.5 638.0,570.5 639.0,570.5 640.0,570.5 641.0,570.5 642.0,570.5 643.0,570.5 644.0,570.5 645.0,570.5 646.0,570.5 647.0,570.5 648.0,570.5 649.0,570.5 650.0,570.5 651.0,570.5 652.0,570.5 653.0,570.5 654.0,570.5 655.0,570.5 656.0,570.5 657.0,570.5 658.0,570.5 659.0,570.5 660.0,570.5 661.0,570.5 662.0,570.5 663.0,570.5 664.0,570.5 665.0,570.5 666.0,570.5 667.0,570.5 668.0,570.5 669.0,570.5 670.0,570.5 671.0,570.5 672.0,570.5 673.0,570.5 674.0,570.5 675.0,570.5 676.0,570.5 677.0,570.5 678.0,570.5 679.0,570.5 680.0,570.5 681.0,570.5 682.0,570.5 683.0,570.5 684.0,570.5 685.0,570.5 686.0,570.5 687.0,570.5 688.0,570.5 689.0,570.5 690.0,570.5 691.0,570.5 692.0,570.5 693.0,570.5 694.0,570.5 695.0,570.5 696.0,570.5 697.0,570.5 698.0,570.5 699.0,570.5 700.0,570.5 701.0,570.5 702.0,570.5 703.0,570.5 704.0,570.5 705.0,570.5 706.0,570.5 707.0,570.5 708.0,570.5 709.0,570.5 710.0,570.5 711.0,570.5 712.0,570.5 713.0,570.5 714.0,570.5 715.0,570.5 716.0,570.5 717.0,570.5 718.0,570.5 719.0,570.5 720.0,570.5 721.0,570.5 722.0,570.5 723.0,570.5 724.0,570.5 725.0,570.5 726.0,570.5 727.0,570.5 728.0,570.5 729.0,570.5 730.0,570.5 731.0,570.5 732.0,570.5 733.0,570.5 734.0,570.5 735.0,570.5 736.0,570.5 737.0,570.5 738.0,570.5 739.0,570.5 740.0,570.5 741.0,570.5 742.0,570.5 743.0,570.5 744.0,570.5 745.0,570.5 746.0,570.5 747.0,570.5 748.0,570.5 749.0,570.5 750.0,570.5 751.0,570.5 752.0,570.5 753.0,570.5 754.0,570.5 755.0,570.5 756.0,570.5 757.0,570.5 758.0,570.5 759.0,570.5 760.0,570.5 761.0,570.5 762.0,570.5 763.0,570.5 764.0,570.5 765.0,570.5 766.0,570.5 767.0,570.5 768.0,570.5 769.0,570.5 770.0,570.5 771.0,570.5 772.0,570.5 773.0,570.5 774.0,570.5 775.0,570.5 776.0,570.5 777.0,570.5 778.0,570.5 779.0,570.5 780.0,570.5 781.0,570.5 782.0,570.5 783.0,570.5 784.0,570.5 785.0,570.5 786.0,570.5 787.0,570.5 788.0,570.5 789.0,570.5 790.0,570.5 791.0,566.1 792.0,554.9 793.0,543.7 794.0,532.5 795.0,521.3 796.0,510.1 797.0,498.9 798.0,487.7 799.0,476.6 800.0,465.4 801.0,454.3 802.0,443.2 803.0,432.1 804.0,421.0 805.0,410.0 806.0,398.9 807.0,388.0 808.0,377.0 809.0,366.1 810.0,355.2 811.0,344.5 812.0,333.8 813.0,323.2 814.0,312.7 815.0,302.4 816.0,292.4 817.0,282.6 818.0,273.3 819.0,264.7 820.0,256.9 821.0,250.4 822.0,245.8 823.0,243.6 824.0,244.2 825.0,247.4 826.0,252.8 827.0,259.9 828.0,268.0 829.0,277.0 830.0,286.5 831.0,296.4 832.0,306.5 833.0,316.9 834.0,327.4 835.0,338.0 836.0,348.8 837.0,359.6 838.0,370.5 839.0,381.4 840.0,392.3 841.0,403.4 842.0,414.4 843.0,425.5 844.0,436.5 845.0,447.6 846.0,458.8 847.0,469.9 848.0,481.0 849.0,492.2 850.0,503.4 851.0,514.6 852.0,525.7 853.0,536.9 854.0,548.1 855.0,559.4 856.0,570.5 857.0,570.5 858.0,570.5 859.0,570.5 860.0,570.5 861.0,570.5 862.0,570.5 863.0,570.5 864.0,570.5 865.0,570.5 866.0,570.5 867.0,570.5 868.0,570.5 869.0,570.5 870.0,570.5 871.0,570.5 872.0,570.5 873.0,570.5 874.0,570.5 875.0,570.5 876.0,570.5 877.0,570.5 878.0,570.5 879.0,570.5 880.0,570.5 881.0,570.5 882.0,570.5 883.0,570.5 884.0,570.5 885.0,570.5 886.0,570.5 887.0,570.5 888.0,570.5 889.0,570.5 890.0,570.5 891.0,570.5 892.0,570.5 893.0,570.5 894.0,570.5 895.0,570.5 896.0,570.5 897.0,570.5 898.0,570.5 899.0,570.5 900.0,570.5 901.0,570.5 902.0,570.5 903.0,570.5 904.0,570.5 905.0,570.5 906.0,570.5 907.0,570.5 908.0,570.5 909.0,570.5 910.0,570.5 911.0,570.5 912.0,570.5 913.0,570.5 914.0,570.5 915.0,570.5 916.0,570.5 917.0,570.5 918.0,570.5 919.0,570.5 920.0,570.5 921.0,570.5 922.0,570.5 923.0,570.5 924.0,570.5 925.0,570.5 926.0,570.5 927.0,570.5 928.0,570.5 929.0,570.5 930.0,570.5 931.0,570.5 932.0,570.5 933.0,570.5 934.0,570.5 935.0,570.5 936.0,570.5 937.0,570.5 938.0,570.5 939.0,570.5 940.0,570.5 941.0,570.5 942.0,570.5 943.0,570.5 944.0,570.5 945.0,570.5 946.0,570.5 947.0,570.5 948.0,570.5 949.0,570.5 950.0,570.5 951.0,570.5 952.0,570.5 953.0,570.5 954.0,570.5 955.0,570.5 956.0,570.5 957.0,570.5 958.0,570.5 959.0,570.5 960.0,570.5 961.0,570.5 962.0,570.5 963.0,570.5 964.0,570.5 965.0,570.5 966.0,570.5 967.0,570.5 968.0,570.5 969.0,570.5 970.0,570.5 971.0,570.5 972.0,570.5 973.0,570.5 974.0,570.5 975.0,570.5 976.0,570.5 977.0,570.5 978.0,570.5 979.0,570.5 980.0,570.5 981.0,570.5 982.0,570.5 983.0,570.5 984.0,570.5 985.0,570.5 986.0,570.5 987.0,570.5 988.0,570.5 989.0,570.5 990.0,570.5 991.0,570.5 992.0,570.5 993.0,570.5 994.0,570.5 995.0,570.5 996.0,570.5 997.0,570.5 998.0,570.5 999.0,570.5 1000.0,570.5 1001.0,570.5 1002.0,570.5 1003.0,570.5 1004.0,570.5 1005.0,570.5 1006.0,570.5 1007.0,570.5 1008.0,570.5 1009.0,570.5 1010.0,570.5 1011.0,570.5 1012.0,570.5 1013.0,570.5 1014.0,570.5 1015.0,570.5 1016.0,570.5 1017.0,570.5 1018.0,570.5 1019.0,570.5 1020.0,570.5 1021.0,570.5 1022.0,570.5 1023.0,569.4 1024.0,563.4 1025.0,557.3 1026.0,551.3 1027.0,545.2 1028.0,539.2 1029.0,533.2 1030.0,527.2 1031.0,521.2 1032.0,515.2 1033.0,509.2 1034.0,503.2 1035.0,497.3 1036.0,491.3 1037.0,485.4 1038.0,479.6 1039.0,473.7 1040.0,467.9 1041.0,462.2 1042.0,456.5 1043.0,450.9 1044.0,445.4 1045.0,440.0 1046.0,434.9 1047.0,430.1 1048.0,425.7 1049.0,421.8 1050.0,418.9 1051.0,417.2 1052.0,416.9 1053.0,418.1 1054.0,420.6 1055.0,424.0 1056.0,428.2 1057.0,432.9 1058.0,438.0 1059.0,443.2 1060.0,448.7 1061.0,454.2 1062.0,459.9 1063.0,465.6 1064.0,471.4 1065.0,477.2 1066.0,483.1 1067.0,489.0 1068.0,494.9 1069.0,500.8 1070.0,506.8 1071.0,512.8 1072.0,518.8 1073.0,524.8 1074.0,530.8 1075.0,536.8 1076.0,542.8 1077.0,548.9 1078.0,554.9 1079.0,560.9 1080.0,567.0 1081.0,570.5 1082.0,570.5 1083.0,570.5 1084.0,570.5 1085.0,570.5 1086.0,570.5 1087.0,570.5 1088.0,570.5 1089.0,570.5 1090.0,570.5 1091.0,570.5 1092.0,570.5 1093.0,570.5 1094.0,570.5 1095.0,570.5 1096.0,570.5 1097.0,570.5 1098.0,570.5 1099.0,570.5 1100.0,570.5 1101.0,570.5 1102.0,570.5 1103.0,570.5 1104.0,570.5 1105.0,570.5 1106.0,570.5 1107.0,570.5 1108.0,570.5 1109.0,570.5 1110.0,570.5 1111.0,570.5 1112.0,570.5 1113.0,570.5 1114.0,570.5 1115.0,570.5 1116.0,570.5 1117.0,570.5 1118.0,570.5 1119.0,570.5 1120.0,570.5 1121.0,570.5 1122.0,570.5 1123.0,570.5 1124.0,570.5 1125.0,570.5 1126.0,570.5 1127.0,570.5 1128.0,570.5 1129.0,570.5 1130.0,570.5 1131.0,570.5 1132.0,570.5 1133.0,570.5 1134.0,570.5 1135.0,570.5 1136.0,570.5 1137.0,570.5 1138.0,570.5 1139.0,570.5 1140.0,570.5 1141.0,570.5 1142.0,570.5 1143.0,570.5 1144.0,570.5 1145.0,570.5 1146.0,568.5 1147.0,560.4 1148.0,552.3 1149.0,544.3 1150.0,536.2 1151.0,528.2 1152.0,520.1 1153.0,512.1 1154.0,504.1 1155.0,496.1 1156.0,488.1 1157.0,480.1 1158.0,472.1 1159.0,464.2 1160.0,456.3 1161.0,448.4 1162.0,440.5 1163.0,432.7 1164.0,425.0 1165.0,417.3 1166.0,409.7 1167.0,402.1 1168.0,394.8 1169.0,387.6 1170.0,380.7 1171.0,374.1 1172.0,368.0 1173.0,362.6 1174.0,358.3 1175.0,355.5 1176.0,354.5 1177.0,355.5 1178.0,358.3 1179.0,362.6 1180.0,368.0 1181.0,374.1 1182.0,380.7 1183.0,387.6 1184.0,394.8 1185.0,402.1 1186.0,409.7 1187.0,417.3 1188.0,425.0 1189.0,432.7 1190.0,440.5 1191.0,448.4 1192.0,456.3 1193.0,464.2 1194.0,472.1 1195.0,480.1 1196.0,488.1 1197.0,496.1 1198.0,504.1 1199.0,512.1 1200.0,520.1 1201.0,528.2 1202.0,536.2 1203.0,544.3 1204.0,552.3 1205.0,560.4 1206.0,568.5 1207.0,570.5 1208.0,570.5 1209.0,570.5 1210.0,570.5 1211.0,570.5 1212.0,570.5 1213.0,567.7 1214.0,561.2 1215.0,554.8 1216.0,548.4 1217.0,542.0 1218.0,535.5 1219.0,529.1 1220.0,522.7 1221.0,516.3 1222.0,509.9 1223.0,503.6 1224.0,497.2 1225.0,490.9 1226.0,484.6 1227.0,478.3 1228.0,472.0 1229.0,465.8 1230.0,459.6 1231.0,453.5 1232.0,447.4 1233.0,441.5 1234.0,435.6 1235.0,429.9 1236.0,424.5 1237.0,419.3 1238.0,414.6 1239.0,410.6 1240.0,407.5 1241.0,405.6 1242.0,405.3 1243.0,406.5 1244.0,409.2 1245.0,412.9 1246.0,417.4 1247.0,422.4 1248.0,427.7 1249.0,433.3 1250.0,439.1 1251.0,445.0 1252.0,451.1 1253.0,457.2 1254.0,463.3 1255.0,469.5 1256.0,475.8 1257.0,482.1 1258.0,488.4 1259.0,494.7 1260.0,501.0 1261.0,507.4 1262.0,513.8 1263.0,520.2 1264.0,526.6 1265.0,533.0 1266.0,539.4 1267.0,545.8 1268.0,552.2 1269.0,558.7 1270.0,565.1 1271.0,570.5 1272.0,570.5 1273.0,570.5 1274.0,570.5 1275.0,570.5 1276.0,570.5 1277.0,570.5 1278.0,570.5 1279.0,570.5 1280.0,570.5 1281.0,570.5 1282.0,570.5 1283.0,570.5 1284.0,570.5 1285.0,570.5 1286.0,570.5 1287.0,570.5 1288.0,570.5 1289.0,570.5 1290.0,570.5 1291.0,570.5 1292.0,570.5 1293.0,570.5 1294.0,570.5 1295.0,570.5 1296.0,570.5 1297.0,570.5 1298.0,570.5 1299.0,570.5 1300.0,570.5 1301.0,570.5 1302.0,570.5 1303.0,570.5 1304.0,570.5 1305.0,570.5 1306.0,570.5 1307.0,570.5 1308.0,570.5 1309.0,570.5 1310.0,570.5 1311.0,570.5 1312.0,570.5 1313.0,570.5 1314.0,570.5 1315.0,570.5 1316.0,570.5 1317.0,570.5 1318.0,570.5 1319.0,570.5 1320.0,570.5 1321.0,570.5 1322.0,570.5 1323.0,570.5 1324.0,570.5 1325.0,570.5 1326.0,570.5 1327.0,570.5 1328.0,570.5 1329.0,570.5 1330.0,570.5 1331.0,570.5 1332.0,570.5 1333.0,570.5 1334.0,570.5 1335.0,570.5 1336.0,570.5 1337.0,570.5 1338.0,570.5 1339.0,570.5 1340.0,570.5 1341.0,570.5 1342.0,570.5 1343.0,570.5 1344.0,570.5 1345.0,570.5 1346.0,570.5 1347.0,570.5 1348.0,570.5 1349.0,570.5 1350.0,570.5 1351.0,570.5 1352.0,570.5 1353.0,570.5 1354.0,570.5 1355.0,570.5 1356.0,570.5 1357.0,570.5 1358.0,570.5 1359.0,570.5 1360.0,570.5 1361.0,570.5 1362.0,570.5 1363.0,570.5 1364.0,570.5 1365.0,570.5 1366.0,570.5 1367.0,570.5 1368.0,570.5 1369.0,570.5 1370.0,570.5 1371.0,570.5 1372.0,570.5 1373.0,570.5 1374.0,570.5 1375.0,570.5 1376.0,570.5 1377.0,570.5 1378.0,570.5 1379.0,570.5 1380.0,570.5 1381.0,570.5 1382.0,570.5 1383.0,570.5 1384.0,570.5 1385.0,570.5 1386.0,570.5 1387.0,570.5 1388.0,570.5 1389.0,570.5 1390.0,570.5 1391.0,570.5 1392.0,570.5 1393.0,570.5 1394.0,570.5 1395.0,570.5 1396.0,570.5 1397.0,570.5 1398.0,570.5 1399.0,570.5 1400.0,570.5 1401.0,570.5 1402.0,570.5 1403.0,570.5 1404.0,570.5 1405.0,570.5 1406.0,570.5 1407.0,570.5 1408.0,570.5 1409.0,570.5 1410.0,570.5 1411.0,570.5 1412.0,570.5 1413.0,570.5 1414.0,570.5 1415.0,570.5 1416.0,570.5 1417.0,570.5 1418.0,570.5 1419.0,570.5 1420.0,570.5 1421.0,570.5 1422.0,570.5 1423.0,570.5 1424.0,570.5 1425.0,570.5 1426.0,570.5 1427.0,570.5 1428.0,570.5 1429.0,570.5 1430.0,570.5 1431.0,570.5 1432.0,570.5 1433.0,570.5 1434.0,570.5 1435.0,570.5 1436.0,570.5 1437.0,570.5 1438.0,570.5 1439.0,570.5 1440.0,570.5 1441.0,570.5 1442.0,570.5 1443.0,570.5 1444.0,570.5 1445.0,570.5 1446.0,570.5 1447.0,570.5 1448.0,570.5 1449.0,570.5 1450.0,570.5 1451.0,570.5 1452.0,570.5 1453.0,570.5 1454.0,570.5 1455.0,570.5 1456.0,570.5 1457.0,570.5 1458.0,570.5 1459.0,570.5 1460.0,570.5 1461.0,570.5 1462.0,570.5 1463.0,570.5 1464.0,570.5 1465.0,570.5 1466.0,570.5 1467.0,570.5 1468.0,570.5 1469.0,570.5 1470.0,570.5 1471.0,570.5 1472.0,570.5 1473.0,570.5 1474.0,570.5 1475.0,570.5 1476.0,570.5 1477.0,570.5 1478.0,570.5 1479.0,570.5 1480.0,570.5 1481.0,570.5 1482.0,570.5 1483.0,570.5 1484.0,570.5 1485.0,570.5 1486.0,570.5 1487.0,570.5 1488.0,570.5 1489.0,570.5 1490.0,570.5 1491.0,570.5 1492.0,570.5 1493.0,570.5 1494.0,570.5 1495.0,570.5 1496.0,570.5 1497.0,570.5 1498.0,570.5 1499.0,570.5 1500.0,570.5 1501.0,570.5 1502.0,570.5 1503.0,570.5 1504.0,570.5 1505.0,570.5 1506.0,570.5 1507.0,570.5 1508.0,570.5 1509.0,570.5 1510.0,570.5 1511.0,570.5 1512.0,570.5 1513.0,570.5 1514.0,570.5 1515.0,570.5 1516.0,570.5 1517.0,570.5 1518.0,570.5 1519.0,570.5 1520.0,570.5 1521.0,570.5 1522.0,570.5 1523.0,570.5 1524.0,570.5 1525.0,570.5 1526.0,570.5 1527.0,570.5 1528.0,570.5 1529.0,570.5 1530.0,570.5 1531.0,570.5 1532.0,570.5 1533.0,570.5 1534.0,570.5 1535.0,570.5 1536.0,570.5 1537.0,570.5 1538.0,570.5 1539.0,570.5 1540.0,570.5 1541.0,570.5 1542.0,570.5 1543.0,570.5 1544.0,570.5 1545.0,570.5 1546.0,570.5 1547.0,570.5 1548.0,570.5 1549.0,570.5 1550.0,570.5 1551.0,570.5 1552.0,570.5 1553.0,570.5 1554.0,570.5 1555.0,570.5 1556.0,570.5 1557.0,570.5 1558.0,570.5 1559.0,570.5 1560.0,570.5 1561.0,570.5 1562.0,570.5 1563.0,570.5 1564.0,570.5 1565.0,570.5 1566.0,570.5 1567.0,570.5 1568.0,570.5 1569.0,570.5 1570.0,570.5 1571.0,570.5 1572.0,570.5 1573.0,570.5 1574.0,570.5 1575.0,570.5 1576.0,570.5 1577.0,567.4 1578.0,564.1 1579.0,560.8 1580.0,557.5 1581.0,554.2 1582.0,550.9 1583.0,547.6 1584.0,544.4 1585.0,541.1 1586.0,537.8 1587.0,534.6 1588.0,531.3 1589.0,528.1 1590.0,524.9 1591.0,521.7 1592.0,518.5 1593.0,515.4 1594.0,512.3 1595.0,509.2 1596.0,506.3 1597.0,503.4 1598.0,500.6 1599.0,498.1 1600.0,495.8 1601.0,493.9 1602.0,492.5 1603.0,491.8 1604.0,492.0 1605.0,493.0 1606.0,494.6 1607.0,496.6 1608.0,499.1 1609.0,501.7 1610.0,504.5 1611.0,507.4 1612.0,510.5 1613.0,513.5 1614.0,516.6 1615.0,519.8 1616.0,523.0 1617.0,526.2 1618.0,529.4 1619.0,532.6 1620.0,535.9 1621.0,539.1 1622.0,542.4 1623.0,545.7 1624.0,549.0 1625.0,552.2 1626.0,555.5 1627.0,558.8 1628.0,562.1 1629.0,565.4 1630.0,568.7 1631.0,570.5 1632.0,570.5 1633.0,570.5 1634.0,570.5 1635.0,570.5 1636.0,570.5 1637.0,570.5 1638.0,570.5 1639.0,570.5 1640.0,570.5 1641.0,570.5 1642.0,570.5 1643.0,570.5 1644.0,570.5 1645.0,570.5 1646.0,570.5 1647.0,570.5 1648.0,570.5 1649.0,570.5 1650.0,570.5 1651.0,570.5 1652.0,570.5 1653.0,570.5 1654.0,570.5 1655.0,570.5 1656.0,570.5 1657.0,570.5 1658.0,570.5 1659.0,570.5 1660.0,570.5 1661.0,570.5 1662.0,570.5 1663.0,570.5 1664.0,570.5 1665.0,570.5 1666.0,570.5 1667.0,570.5 1668.0,570.5 1669.0,570.5 1670.0,570.5 1671.0,570.5 1672.0,570.5 1673.0,570.5 1674.0,570.5 1675.0,570.5 1676.0,570.5 1677.0,570.5 1678.0,570.5 1679.0,570.5 1680.0,570.5 1681.0,570.5 1682.0,570.5 1683.0,570.5 1684.0,570.5 1685.0,570.5 1686.0,570.5 1687.0,570.5 1688.0,570.5 1689.0,570.5 1690.0,570.5 1691.0,570.5 1692.0,570.5 1693.0,570.5 1694.0,570.5 1695.0,570.5 1696.0,570.5 1697.0,570.5 1698.0,570.5 1699.0,570.5 1700.0,570.5 1701.0,570.5 1702.0,570.5 1703.0,570.5 1704.0,570.5 1705.0,570.5 1706.0,570.5 1707.0,570.5 1708.0,570.5 1709.0,570.5 1710.0,570.5 1711.0,570.5 1712.0,570.5 1713.0,570.5 1714.0,570.5 1715.0,570.5 1716.0,570.5 1717.0,570.5 1718.0,570.5 1719.0,570.5 1720.0,570.5 1721.0,570.5 1722.0,570.5 1723.0,570.5 1724.0,570.5 1725.0,570.5 1726.0,570.5 1727.0,570.5 1728.0,570.5 1729.0,570.5 1730.0,570.5 1731.0,570.5 1732.0,570.5 1733.0,570.5 1734.0,570.5 1735.0,570.5 1736.0,570.5 1737.0,570.5 1738.0,570.5 1739.0,570.5 1740.0,570.5 1741.0,570.5 1742.0,570.5 1743.0,570.5 1744.0,570.5 1745.0,570.5 1746.0,570.5 1747.0,570.5 1748.0,570.5 1749.0,570.5 1750.0,570.5 1751.0,570.5 1752.0,570.5 1753.0,570.5 1754.0,570.5 1755.0,570.5 1756.0,570.5 1757.0,570.5 1758.0,570.5 1759.0,570.5 1760.0,570.5 1761.0,570.5 1762.0,570.5 1763.0,570.5 1764.0,570.5 1765.0,570.5 1766.0,570.5 1767.0,570.5 1768.0,570.5 1769.0,570.5 1770.0,570.5 1771.0,570.5 1772.0,570.5 1773.0,570.5 1774.0,570.5 1775.0,570.5 1776.0,570.5 1777.0,570.5 1778.0,570.5 1779.0,570.5 1780.0,570.5 1781.0,570.5 1782.0,570.5 1783.0,570.5 1784.0,570.5 1785.0,570.5 1786.0,570.5 1787.0,570.5 1788.0,570.5 1789.0,570.5 1790.0,570.5 1791.0,570.5 1792.0,570.5 1793.0,570.5 1794.0,570.5 1795.0,570.5 1796.0,570.5 1797.0,570.5 1798.0,570.5 1799.0,570.5 1800.0,570.5 1801.0,570.5 1802.0,570.5 1803.0,570.5 1804.0,570.5 1805.0,570.5 1806.0,570.5 1807.0,570.5 1808.0,570.5 1809.0,570.5 1810.0,570.5 1811.0,570.5 1812.0,570.5 1813.0,570.5 1814.0,570.5 1815.0,570.5 1816.0,570.5 1817.0,570.5 1818.0,570.5 1819.0,570.5 1820.0,570.5 1821.0,570.5 1822.0,570.5 1823.0,570.5 1824.0,570.5 1825.0,570.5 1826.0,570.5 1827.0,570.5 1828.0,570.5 1829.0,570.5 1830.0,570.5 1831.0,570.5 1832.0,570.5 1833.0,570.5 1834.0,570.5 1835.0,570.5 1836.0,570.5 1837.0,570.5 1838.0,570.5 1839.0,570.5 1840.0,570.5 1841.0,570.5 1842.0,570.5 1843.0,570.5 1844.0,570.5 1845.0,570.5 1846.0,570.5 1847.0,570.5 1848.0,570.5 1849.0,570.5 1850.0,570.5 1851.0,570.5 1852.0,570.5 1853.0,570.5 1854.0,570.5 1855.0,570.5 1856.0,570.5 1857.0,570.5 1858.0,570.5 1859.0,570.5 1860.0,570.5 1861.0,570.5 1862.0,570.5 1863.0,570.5 1864.0,570.5 1865.0,570.5 1866.0,570.5 1867.0,570.5 1868.0,570.5 1869.0,570.5 1870.0,570.5 1871.0,570.5 1872.0,570.5 1873.0,570.5 1874.0,570.5 1875.0,570.5 1876.0,570.5 1877.0,570.5 1878.0,570.5 1879.0,570.5 1880.0,570.5 1881.0,570.5 1882.0,570.5 1883.0,570.5 1884.0,570.5 1885.0,570.5 1886.0,570.5 1887.0,570.5 1888.0,570.5 1889.0,570.5 1890.0,570.5 1891.0,570.5 1892.0,570.5 1893.0,570.5 1894.0,570.5 1895.0,570.5 1896.0,570.5 1897.0,570.5 1898.0,570.5 1899.0,570.5 1900.0,570.5 1901.0,570.5 1902.0,570.5 1903.0,570.5 1904.0,570.5 1905.0,570.5 1906.0,570.5 1907.0,570.5 1908.0,570.5 1909.0,570.5 1910.0,570.5 1911.0,570.5 1912.0,570.5 1913.0,570.5 1914.0,570.5 1915.0,570.5 1916.0,570.5 1917.0,570.5 1918.0,570.5 1919.0,570.5 1920.0,570.5 1921.0,570.5 1922.0,570.5 1923.0,570.5 1924.0,570.5 1925.0,570.5 1926.0,570.5 1927.0,570.5 1928.0,570.5 1929.0,570.5 1930.0,570.5 1931.0,570.5 1932.0,570.5 1933.0,570.5 1934.0,570.5 1935.0,570.5 1936.0,570.5 1937.0,570.5 1938.0,570.5 1939.0,570.5 1940.0,570.5 1941.0,570.5 1942.0,570.5 1943.0,570.5 1944.0,570.5 1945.0,570.5 1946.0,570.5 1947.0,570.5 1948.0,570.5 1949.0,570.5 1950.0,570.5 1951.0,570.5 1952.0,570.5 1953.0,570.5 1954.0,570.5 1955.0,570.5 1956.0,570.5 1957.0,570.5 1958.0,570.5 1959.0,570.5 1960.0,570.5 1961.0,570.5 1962.0,570.5 1963.0,570.5 1964.0,570.5 1965.0,570.5 1966.0,570.5 1967.0,570.5 1968.0,570.5 1969.0,570.5 1970.0,570.5 1971.0,570.5 1972.0,570.5 1973.0,570.5 1974.0,570.5 1975.0,570.5 1976.0,570.5 1977.0,570.5 1978.0,570.5 1979.0,570.5 1980.0,570.5 1981.0,570.5 1982.0,570.5 1983.0,570.5 1984.0,570.5 1985.0,570.5 1986.0,570.5 1987.0,570.5 1988.0,570.5 1989.0,570.5 1990.0,570.5 1991.0,570.5 1992.0,570.5 1993.0,570.5 1994.0,570.5 1995.0,570.5 1996.0,570.5 1997.0,570.5 1998.0,570.5 1999.0,570.5 2000.0,570.5 2001.0,570.5 2002.0,570.5 2003.0,570.5 2004.0,570.5 2005.0,570.5 2006.0,570.5 2007.0,570.5 2008.0,570.5 2009.0,570.5 2010.0,570.5 2011.0,570.5 2012.0,570.5 2013.0,570.5 2014.0,570.5 2015.0,570.5 2016.0,570.5 2017.0,570.5 2018.0,570.5 2019.0,570.5 2020.0,570.5 2021.0,570.5 2022.0,570.5 2023.0,570.5 2024.0,570.5 2025.0,570.5 2026.0,570.5 2027.0,570.5 2028.0,570.5 2029.0,570.5 2030.0,570.5 2031.0,570.5 2032.0,570.5 2033.0,570.5 2034.0,570.5 2035.0,570.5 2036.0,570.5 2037.0,570.5 2038.0,570.5 2039.0,570.5 2040.0,570.5 2041.0,570.5 2042.0,570.5 2043.0,570.5 2044.0,570.5 2045.0,570.5 2046.0,570.5 2047.0,570.5 2048.0,570.5 2049.0,570.5 2050.0,570.5 2051.0,570.5 2052.0,570.5 2053.0,570.5 2054.0,570.5 2055.0,570.5 2056.0,570.5 2057.0,570.5 2058.0,570.5 2059.0,570.5 2060.0,570.5 2061.0,570.5 2062.0,570.5 2063.0,570.5 2064.0,570.5 2065.0,570.5 2066.0,570.5 2067.0,570.5 2068.0,570.5 2069.0,570.5 2070.0,570.5 2071.0,570.5 2072.0,570.5 2073.0,570.5 2074.0,570.5 2075.0,570.5 2076.0,570.5 2077.0,570.5 2078.0,570.5 2079.0,570.5 2080.0,570.5 2081.0,570.5 2082.0,570.5 2083.0,570.5 2084.0,570.5 2085.0,570.5 2086.0,570.5 2087.0,570.5 2088.0,570.5 2089.0,570.5 2090.0,570.5 2091.0,570.5 2092.0,570.5 2093.0,570.5 2094.0,570.5 2095.0,570.5 2096.0,570.5 2097.0,570.5 2098.0,570.5 2099.0,570.5 2100.0,570.5 2101.0,570.5 2102.0,570.5 2103.0,570.5 2104.0,570.5 2105.0,570.5 2106.0,570.5 2107.0,570.5 2108.0,570.5 2109.0,570.5 2110.0,570.5 2111.0,570.5 2112.0,570.5 2113.0,570.5 2114.0,570.5 2115.0,570.5 2116.0,570.5 2117.0,570.5 2118.0,570.5 2119.0,570.5 2120.0,570.5 2121.0,570.5 2122.0,570.5 2123.0,570.5 2124.0,570.5 2125.0,570.5 2126.0,570.5 2127.0,570.5 2128.0,570.5 2129.0,570.5 2130.0,570.5 2131.0,570.5 2132.0,570.5 2133.0,570.5 2134.0,570.5 2135.0,570.5 2136.0,570.5 2137.0,570.5 2138.0,570.5 2139.0,570.5 2140.0,570.5 2141.0,570.5 2142.0,570.5 2143.0,570.5 2144.0,570.5 2145.0,570.5 2146.0,570.5 2147.0,570.5 2148.0,570.5 2149.0,570.5 2150.0,570.5 2151.0,570.5 2152.0,570.5 2153.0,570.5 2154.0,570.5 2155.0,570.5 2156.0,570.5 2157.0,570.5 2158.0,570.5 2159.0,570.5 2160.0,570.5 2161.0,570.5 2162.0,570.5 2163.0,570.5 2164.0,570.5 2165.0,570.5 2166.0,570.5 2167.0,570.5 2168.0,570.5 2169.0,570.5 2170.0,570.5 2171.0,570.5 2172.0,570.5 2173.0,570.5 2174.0,570.5 2175.0,570.5 2176.0,570.5 2177.0,570.5 2178.0,570.5 2179.0,570.5 2180.0,570.5 2181.0,570.5 2182.0,570.5 2183.0,570.5 2184.0,570.5 2185.0,570.5 2186.0,570.5 2187.0,570.5 2188.0,570.5 2189.0,570.5 2190.0,570.5 2191.0,570.5 2192.0,570.5 2193.0,570.5 2194.0,570.5 2195.0,570.5 2196.0,570.5 2197.0,570.5 2198.0,570.5 2199.0,570.5 2200.0,570.5 2201.0,570.5 2202.0,570.5 2203.0,570.5 2204.0,570.5 2205.0,570.5 2206.0,570.5 2207.0,570.5 2208.0,570.5 2209.0,570.5 2210.0,570.5 2211.0,570.5 2212.0,570.5 2213.0,570.5 2214.0,570.5 2215.0,570.5 2216.0,570.5 2217.0,570.5 2218.0,570.5 2219.0,570.5 2220.0,570.5 2221.0,570.5 2222.0,570.5 2223.0,570.5 2224.0,570.5 2225.0,570.5 2226.0,570.5 2227.0,570.5 2228.0,570.5 2229.0,570.5 2230.0,570.5 2231.0,570.5 2232.0,570.5 2233.0,570.5 2234.0,570.5 2235.0,570.5 2236.0,570.5 2237.0,570.5 2238.0,570.5 2239.0,570.5 2240.0,570.5 2241.0,570.5 2242.0,570.5 2243.0,570.5 2244.0,570.5 2245.0,570.5 2246.0,570.5 2247.0,570.5 2248.0,570.5 2249.0,570.5 2250.0,570.5 2251.0,570.5 2252.0,570.5 2253.0,570.5 2254.0,570.5 2255.0,570.5 2256.0,570.5 2257.0,570.5 2258.0,570.5 2259.0,570.5 2260.0,570.5 2261.0,570.5 2262.0,570.5 2263.0,570.5 2264.0,570.5 2265.0,570.5 2266.0,570.5 2267.0,570.5 2268.0,570.5 2269.0,570.5 2270.0,570.5 2271.0,570.5 2272.0,570.5 2273.0,570.5 2274.0,570.5 2275.0,570.5 2276.0,570.5 2277.0,570.5 2278.0,570.5 2279.0,570.5 2280.0,570.5 2281.0,570.5 2282.0,570.5 2283.0,570.5 2284.0,570.5 2285.0,570.5 2286.0,570.5 2287.0,570.5 2288.0,570.5 2289.0,570.5 2290.0,570.5 2291.0,570.5 2292.0,570.5 2293.0,570.5 2294.0,570.5 2295.0,570.5 2296.0,570.5 2297.0,570.5 2298.0,570.5 2299.0,570.5 2300.0,570.5 2301.0,570.5 2302.0,570.5 2303.0,570.5 2304.0,570.5 2305.0,570.5 2306.0,570.5 2307.0,570.5 2308.0,570.5 2309.0,570.5 2310.0,570.5 2311.0,570.5 2312.0,570.5 2313.0,570.5 2314.0,570.5 2315.0,570.5 2316.0,570.5 2317.0,570.5 2318.0,570.5 2319.0,570.5 2320.0,570.5 2321.0,570.5 2322.0,570.5 2323.0,570.5 2324.0,570.5 2325.0,570.5 2326.0,570.5 2327.0,570.5 2328.0,570.5 2329.0,570.5 2330.0,570.5 2331.0,570.5 2332.0,570.5 2333.0,570.5 2334.0,570.5 2335.0,570.5 2336.0,570.5 2337.0,570.5 2338.0,570.5 2339.0,570.5 2340.0,570.5 2341.0,570.5 2342.0,570.5 2343.0,570.5 2344.0,570.5 2345.0,570.5 2346.0,570.5 2347.0,570.5 2348.0,570.5 2349.0,570.5 2350.0,570.5 2351.0,570.5 2352.0,570.5 2353.0,570.5 2354.0,570.5 2355.0,570.5 2356.0,570.5 2357.0,570.5 2358.0,570.5 2359.0,570.5 2360.0,570.5 2361.0,570.5 2362.0,570.5 2363.0,570.5 2364.0,570.5 2365.0,570.5 2366.0,570.5 2367.0,570.5 2368.0,570.5 2369.0,570.5 2370.0,570.5 2371.0,570.5 2372.0,570.5 2373.0,570.5 2374.0,570.5 2375.0,570.5 2376.0,570.5 2377.0,570.5 2378.0,570.5 2379.0,570.5 2380.0,570.5 2381.0,570.5 2382.0,570.5 2383.0,570.5 2384.0,570.5 2385.0,570.5 2386.0,570.5 2387.0,570.5 2388.0,570.5 2389.0,570.5 2390.0,570.5 2391.0,570.5 2392.0,570.5 2393.0,570.5 2394.0,570.5 2395.0,570.5 2396.0,570.5 2397.0,570.5 2398.0,570.5 2399.0,570.5 2400.0,570.5 2401.0,570.5 2402.0,570.5 2403.0,570.5 2404.0,570.5 2405.0,570.5 2406.0,570.5 2407.0,570.5 2408.0,570.5 2409.0,570.5 2410.0,570.5 2411.0,570.5 2412.0,570.5 2413.0,570.5 2414.0,570.5 2415.0,570.5 2416.0,570.5 2417.0,570.5 2418.0,570.5 2419.0,570.5 2420.0,570.5 2421.0,570.5 2422.0,570.5 2423.0,570.5 2424.0,570.5 2425.0,570.5 2426.0,570.5 2427.0,570.5 2428.0,570.5 2429.0,570.5 2430.0,570.5 2431.0,570.5 2432.0,570.5 2433.0,570.5 2434.0,570.5 2435.0,570.5 2436.0,570.5 2437.0,570.5 2438.0,570.5 2439.0,570.5 2440.0,570.5 2441.0,570.5 2442.0,570.5 2443.0,570.5 2444.0,570.5 2445.0,570.5 2446.0,570.5 2447.0,570.5 2448.0,570.5 2449.0,570.5 2450.0,570.5 2451.0,570.5 2452.0,570.5 2453.0,570.5 2454.0,570.5 2455.0,570.5 2456.0,570.5 2457.0,570.5 2458.0,570.5 2459.0,570.5 2460.0,570.5 2461.0,570.5 2462.0,570.5 2463.0,570.5 2464.0,570.5 2465.0,570.5 2466.0,570.5 2467.0,570.5 2468.0,570.5 2469.0,570.5 2470.0,570.5 2471.0,570.5 2472.0,570.5 2473.0,570.5 2474.0,570.5 2475.0,570.5 2476.0,570.5 2477.0,570.5 2478.0,570.5 2479.0,570.5 2480.0,570.5 2481.0,570.5 2482.0,570.5 2483.0,570.5 2484.0,570.5 2485.0,570.5 2486.0,570.5 2487.0,570.5 2488.0,570.5 2489.0,570.5 2490.0,570.5 2491.0,570.5 2492.0,570.5 2493.0,570.5 2494.0,570.5 2495.0,570.5 2496.0,570.5 2497.0,570.5 2498.0,570.5 2499.0,570.5 2500.0,570.5 2501.0,570.5 2502.0,570.5 2503.0,570.5 2504.0,570.5 2505.0,570.5 2506.0,570.5 2507.0,570.5 2508.0,570.5 2509.0,570.5 2510.0,570.5 2511.0,570.5 2512.0,570.5 2513.0,570.5 2514.0,570.5 2515.0,570.5 2516.0,570.5 2517.0,570.5 2518.0,570.5 2519.0,570.5 2520.0,570.5 2521.0,570.5 2522.0,570.5 2523.0,570.5 2524.0,570.5 2525.0,570.5 2526.0,570.5 2527.0,570.5 2528.0,570.5 2529.0,570.5 2530.0,570.5 2531.0,570.5 2532.0,570.5 2533.0,570.5 2534.0,570.5 2535.0,570.5 2536.0,570.5 2537.0,570.5 2538.0,570.5 2539.0,570.5 2540.0,570.5 2541.0,570.5 2542.0,570.5 2543.0,570.5 2544.0,570.5 2545.0,570.5 2546.0,570.5 2547.0,570.5 2548.0,570.5 2549.0,570.5 2550.0,570.5 2551.0,570.5 2552.0,570.5 2553.0,570.5 2554.0,570.5 2555.0,570.5 2556.0,570.5 2557.0,570.5 2558.0,570.5 2559.0,570.5 2560.0,570.5 2561.0,570.5 2562.0,570.5 2563.0,570.5 2564.0,570.5 2565.0,570.5 2566.0,570.5 2567.0,570.5 2568.0,570.5 2569.0,570.5 2570.0,570.5 2571.0,570.5 2572.0,570.5 2573.0,570.5 2574.0,570.5 2575.0,570.5 2576.0,570.5 2577.0,570.5 2578.0,570.5 2579.0,570.5 2580.0,570.5 2581.0,570.5 2582.0,570.5 2583.0,570.5 2584.0,570.5 2585.0,570.5 2586.0,570.5 2587.0,570.5 2588.0,570.5 2589.0,570.5 2590.0,570.5 2591.0,570.5 2592.0,570.5 2593.0,570.5 2594.0,570.5 2595.0,570.5 2596.0,570.5 2597.0,570.5 2598.0,570.4 2599.0,562.3 2600.0,554.1 2601.0,546.0 2602.0,537.8 2603.0,529.7 2604.0,521.6 2605.0,513.4 2606.0,505.3 2607.0,497.2 2608.0,489.2 2609.0,481.1 2610.0,473.0 2611.0,465.0 2612.0,457.0 2613.0,449.0 2614.0,441.1 2615.0,433.2 2616.0,425.3 2617.0,417.5 2618.0,409.8 2619.0,402.2 2620.0,394.7 2621.0,387.4 2622.0,380.3 2623.0,373.5 2624.0,367.2 2625.0,361.6 2626.0,356.9 2627.0,353.5 2628.0,351.9 2629.0,352.3 2630.0,354.6 2631.0,358.6 2632.0,363.7 2633.0,369.7 2634.0,376.2 2635.0,383.1 2636.0,390.3 2637.0,397.7 2638.0,405.2 2639.0,412.9 2640.0,420.6 2641.0,428.5 2642.0,436.3 2643.0,444.3 2644.0,452.2 2645.0,460.2 2646.0,468.2 2647.0,476.3 2648.0,484.3 2649.0,492.4 2650.0,500.5 2651.0,508.6 2652.0,516.7 2653.0,524.8 2654.0,532.9 2655.0,541.1 2656.0,549.2 2657.0,557.4 2658.0,565.5 2659.0,570.4 2660.0,563.6 2661.0,556.9 2662.0,550.2 2663.0,543.5 2664.0,536.8 2665.0,530.1 2666.0,523.4 2667.0,516.7 2668.0,510.1 2669.0,503.4 2670.0,496.8 2671.0,490.2 2672.0,483.6 2673.0,477.0 2674.0,470.4 2675.0,463.9 2676.0,457.4 2677.0,451.0 2678.0,444.6 2679.0,438.4 2680.0,432.2 2681.0,426.1 2682.0,420.3 2683.0,414.7 2684.0,409.5 2685.0,404.8 2686.0,401.0 2687.0,398.2 2688.0,396.9 2689.0,397.2 2690.0,399.2 2691.0,402.4 2692.0,406.6 2693.0,411.5 2694.0,416.9 2695.0,422.6 2696.0,428.5 2697.0,434.6 2698.0,440.9 2699.0,447.2 2700.0,453.6 2701.0,460.0 2702.0,466.5 2703.0,473.0 2704.0,479.6 2705.0,486.2 2706.0,492.8 2707.0,499.4 2708.0,506.1 2709.0,512.7 2710.0,519.4 2711.0,526.1 2712.0,532.8 2713.0,539.5 2714.0,546.2 2715.0,552.9 2716.0,559.6 2717.0,566.3 2718.0,570.5 2719.0,570.5 2720.0,570.5 2721.0,570.5 2722.0,570.5 2723.0,570.5 2724.0,570.5 2725.0,570.5 2726.0,570.5 2727.0,570.5 2728.0,570.5 2729.0,570.5 2730.0,570.5 2731.0,570.5 2732.0,570.5 2733.0,570.5 2734.0,570.5 2735.0,570.5 2736.0,570.5 2737.0,570.5 2738.0,570.5 2739.0,570.5 2740.0,570.5 2741.0,570.5 2742.0,570.5 2743.0,570.5 2744.0,570.5 2745.0,570.5 2746.0,570.5 2747.0,570.5 2748.0,570.5 2749.0,570.5 2750.0,570.5 2751.0,570.5 2752.0,570.5 2753.0,570.5 2754.0,570.5 2755.0,570.5 2756.0,570.5 2757.0,570.5 2758.0,570.5 2759.0,570.5 2760.0,570.5 2761.0,570.5 2762.0,570.5 2763.0,570.5 2764.0,570.5 2765.0,570.5 2766.0,570.5 2767.0,570.5 2768.0,570.5 2769.0,570.5 2770.0,570.5 2771.0,570.5 2772.0,570.5 2773.0,570.5 2774.0,570.5 2775.0,570.5 2776.0,570.5 2777.0,570.5 2778.0,570.5 2779.0,570.5 2780.0,570.5 2781.0,570.5 2782.0,570.5 2783.0,570.5 2784.0,570.5 2785.0,570.5 2786.0,570.5 2787.0,570.5 2788.0,570.5 2789.0,570.5 2790.0,570.5 2791.0,570.5 2792.0,570.5 2793.0,570.5 2794.0,570.5 2795.0,570.5 2796.0,570.5 2797.0,570.5 2798.0,570.5 2799.0,570.5 2800.0,570.5 2801.0,570.5 2802.0,570.5 2803.0,570.5 2804.0,570.5 2805.0,570.5 2806.0,570.5 2807.0,570.5 2808.0,570.5 2809.0,570.5 2810.0,570.5 2811.0,570.5 2812.0,570.5 2813.0,570.5 2814.0,570.5 2815.0,570.5 2816.0,570.5 2817.0,570.5 2818.0,570.5 2819.0,570.5 2820.0,570.5 2821.0,570.5 2822.0,570.5 2823.0,570.5 2824.0,570.5 2825.0,570.5 2826.0,570.5 2827.0,570.5 2828.0,570.5 2829.0,570.5 2830.0,570.5 2831.0,570.5 2832.0,570.5 2833.0,570.5 2834.0,570.5 2835.0,570.5 2836.0,570.5 2837.0,570.5" fill="none" stroke="#4db848" stroke-width="6.0" stroke-linejoin="round"/>
<polyline points="362.0,570.5 363.0,570.5 364.0,570.5 365.0,570.5 366.0,570.5 367.0,570.5 368.0,570.5 369.0,570.5 370.0,570.5 371.0,570.5 372.0,570.5 373.0,570.5 374.0,570.5 375.0,570.5 376.0,570.5 377.0,570.5 378.0,570.5 379.0,570.5 380.0,570.5 381.0,570.5 382.0,570.5 383.0,570.5 384.0,570.5 385.0,570.5 386.0,570.5 387.0,570.5 388.0,570.5 389.0,570.5 390.0,570.5 391.0,570.5 392.0,570.5 393.0,570.5 394.0,570.5 395.0,570.5 396.0,570.5 397.0,570.5 398.0,570.5 399.0,570.5 400.0,570.5 401.0,570.5 402.0,570.5 403.0,570.5 404.0,570.5 405.0,570.5 406.0,570.5 407.0,570.5 408.0,570.5 409.0,570.5 410.0,570.5 411.0,570.5 412.0,570.5 413.0,570.5 414.0,570.5 415.0,570.5 416.0,570.5 417.0,570.5 418.0,570.5 419.0,570.5 420.0,570.5 421.0,570.5 422.0,570.5 423.0,570.5 424.0,570.5 425.0,570.5 426.0,570.5 427.0,570.5 428.0,570.5 429.0,570.5 430.0,570.5 431.0,570.5 432.0,570.5 433.0,570.5 434.0,570.5 435.0,570.5 436.0,570.5 437.0,570.5 438.0,570.5 439.0,570.5 440.0,570.5 441.0,570.5 442.0,570.5 443.0,570.5 444.0,570.5 445.0,570.5 446.0,570.5 447.0,570.5 448.0,570.5 449.0,570.5 450.0,570.5 451.0,570.5 452.0,570.5 453.0,570.5 454.0,570.5 455.0,570.5 456.0,570.5 457.0,570.5 458.0,570.5 459.0,570.5 460.0,570.5 461.0,570.5 462.0,570.5 463.0,570.5 464.0,570.5 465.0,570.5 466.0,570.5 467.0,570.5 468.0,570.5 469.0,570.5 470.0,570.5 471.0,570.5 472.0,570.5 473.0,570.5 474.0,570.5 475.0,570.5 476.0,570.5 477.0,570.5 478.0,570.5 479.0,570.5 480.0,570.5 481.0,570.5 482.0,570.5 483.0,570.5 484.0,570.5 485.0,570.5 486.0,570.5 487.0,570.5 488.0,570.5 489.0,570.5 490.0,570.5 491.0,570.5 492.0,570.5 493.0,570.5 494.0,570.5 495.0,570.5 496.0,570.5 497.0,570.5 498.0,570.5 499.0,570.5 500.0,570.5 501.0,570.5 502.0,570.5 503.0,570.5 504.0,570.5 505.0,570.5 506.0,570.5 507.0,570.5 508.0,570.5 509.0,570.5 510.0,570.5 511.0,570.5 512.0,570.5 513.0,570.5 514.0,570.5 515.0,570.5 516.0,570.5 517.0,570.5 518.0,570.5 519.0,570.5 520.0,570.5 521.0,570.5 522.0,570.5 523.0,570.5 524.0,570.5 525.0,570.5 526.0,570.5 527.0,570.5 528.0,570.5 529.0,570.5 530.0,570.5 531.0,570.5 532.0,570.5 533.0,570.5 534.0,570.5 535.0,570.5 536.0,570.5 537.0,570.5 538.0,570.5 539.0,570.5 540.0,570.5 541.0,570.5 542.0,570.5 543.0,570.5 544.0,570.5 545.0,570.5 546.0,570.5 547.0,570.5 548.0,570.5 549.0,570.5 550.0,570.5 551.0,570.5 552.0,570.5 553.0,570.5 554.0,570.5 555.0,570.5 556.0,570.5 557.0,570.5 558.0,570.5 559.0,570.5 560.0,570.5 561.0,570.5 562.0,570.5 563.0,570.5 564.0,570.5 565.0,570.5 566.0,570.5 567.0,570.5 568.0,570.5 569.0,570.5 570.0,570.5 571.0,570.5 572.0,570.5 573.0,570.5 574.0,570.5 575.0,570.5 576.0,570.5 577.0,570.5 578.0,570.5 579.0,570.5 580.0,570.5 581.0,570.5 582.0,570.5 583.0,570.5 584.0,570.5 585.0,570.5 586.0,570.5 587.0,570.5 588.0,570.5 589.0,570.5 590.0,570.5 591.0,570.5 592.0,570.5 593.0,570.5 594.0,570.5 595.0,570.5 596.0,570.5 597.0,570.5 598.0,570.5 599.0,570.5 600.0,570.5 601.0,570.5 602.0,570.5 603.0,570.5 604.0,570.5 605.0,570.5 606.0,570.5 607.0,570.5 608.0,570.5 609.0,566.0 610.0,558.5 611.0,550.9 612.0,543.4 613.0,535.9 614.0,528.3 615.0,520.8 616.0,513.3 617.0,505.8 618.0,498.3 619.0,490.8 620.0,483.4 621.0,475.9 622.0,468.5 623.0,461.1 624.0,453.7 625.0,446.4 626.0,439.1 627.0,431.9 628.0,424.8 629.0,417.7 630.0,410.8 631.0,404.0 632.0,397.4 633.0,391.1 634.0,385.3 635.0,380.0 636.0,375.7 637.0,372.6 638.0,371.1 639.0,371.5 640.0,373.6 641.0,377.3 642.0,382.1 643.0,387.6 644.0,393.6 645.0,400.0 646.0,406.7 647.0,413.5 648.0,420.5 649.0,427.6 650.0,434.8 651.0,442.1 652.0,449.3 653.0,456.7 654.0,464.1 655.0,471.5 656.0,478.9 657.0,486.4 658.0,493.8 659.0,501.3 660.0,508.8 661.0,516.3 662.0,523.8 663.0,531.3 664.0,538.9 665.0,546.4 666.0,554.0 667.0,561.5 668.0,569.1 669.0,570.5 670.0,570.5 671.0,570.5 672.0,570.5 673.0,570.5 674.0,570.5 675.0,570.5 676.0,570.5 677.0,570.5 678.0,570.5 679.0,570.5 680.0,570.5 681.0,570.5 682.0,570.5 683.0,570.5 684.0,570.5 685.0,570.5 686.0,570.5 687.0,570.5 688.0,570.5 689.0,570.5 690.0,570.5 691.0,570.5 692.0,570.5 693.0,570.5 694.0,570.5 695.0,570.5 696.0,570.5 697.0,570.5 698.0,570.5 699.0,570.5 700.0,570.5 701.0,570.5 702.0,570.5 703.0,570.5 704.0,570.5 705.0,570.5 706.0,570.5 707.0,570.5 708.0,570.5 709.0,570.5 710.0,570.5 711.0,570.5 712.0,570.5 713.0,570.5 714.0,570.5 715.0,570.5 716.0,570.5 717.0,570.5 718.0,570.5 719.0,570.5 720.0,570.5 721.0,570.5 722.0,570.5 723.0,570.5 724.0,570.5 725.0,570.5 726.0,570.5 727.0,570.5 728.0,570.5 729.0,570.5 730.0,570.5 731.0,570.5 732.0,570.5 733.0,570.5 734.0,570.5 735.0,570.5 736.0,570.5 737.0,570.5 738.0,570.5 739.0,570.5 740.0,570.5 741.0,570.5 742.0,570.5 743.0,570.5 744.0,570.5 745.0,570.5 746.0,570.5 747.0,570.5 748.0,570.5 749.0,570.5 750.0,570.5 751.0,570.5 752.0,570.5 753.0,570.5 754.0,570.5 755.0,570.5 756.0,570.5 757.0,570.5 758.0,570.5 759.0,570.5 760.0,570.5 761.0,570.5 762.0,570.5 763.0,570.5 764.0,570.5 765.0,570.5 766.0,570.5 767.0,570.5 768.0,570.5 769.0,570.5 770.0,570.5 771.0,570.5 772.0,570.5 773.0,570.5 774.0,570.5 775.0,570.5 776.0,570.5 777.0,570.5 778.0,570.5 779.0,570.5 780.0,570.5 781.0,570.5 782.0,570.5 783.0,570.5 784.0,570.5 785.0,570.5 786.0,570.5 787.0,570.5 788.0,570.5 789.0,570.5 790.0,570.5 791.0,570.5 792.0,570.5 793.0,570.5 794.0,570.5 795.0,570.5 796.0,570.5 797.0,570.5 798.0,570.5 799.0,570.5 800.0,570.5 801.0,570.5 802.0,570.5 803.0,570.5 804.0,570.5 805.0,570.5 806.0,570.5 807.0,570.5 808.0,570.5 809.0,570.5 810.0,570.5 811.0,570.5 812.0,570.5 813.0,570.5 814.0,570.5 815.0,570.5 816.0,570.5 817.0,570.5 818.0,570.5 819.0,570.5 820.0,570.5 821.0,570.5 822.0,570.5 823.0,570.5 824.0,570.5 825.0,570.5 826.0,570.5 827.0,570.5 828.0,570.5 829.0,570.5 830.0,570.5 831.0,570.5 832.0,570.5 833.0,570.5 834.0,570.5 835.0,570.5 836.0,570.5 837.0,570.5 838.0,570.5 839.0,570.5 840.0,570.5 841.0,570.5 842.0,570.5 843.0,570.5 844.0,570.5 845.0,570.5 846.0,570.5 847.0,570.5 848.0,570.5 849.0,570.5 850.0,570.5 851.0,570.5 852.0,570.5 853.0,570.5 854.0,570.5 855.0,570.5 856.0,570.5 857.0,570.5 858.0,570.5 859.0,570.5 860.0,570.5 861.0,570.5 862.0,570.5 863.0,570.5 864.0,570.5 865.0,570.5 866.0,570.5 867.0,570.5 868.0,570.5 869.0,570.5 870.0,570.5 871.0,570.5 872.0,570.5 873.0,570.5 874.0,570.5 875.0,570.5 876.0,570.5 877.0,570.5 878.0,570.5 879.0,570.5 880.0,570.5 881.0,570.5 882.0,570.5 883.0,570.5 884.0,570.5 885.0,570.5 886.0,570.5 887.0,570.5 888.0,570.5 889.0,570.5 890.0,570.5 891.0,570.5 892.0,570.5 893.0,570.5 894.0,570.5 895.0,570.5 896.0,570.5 897.0,570.5 898.0,570.5 899.0,570.5 900.0,570.5 901.0,570.5 902.0,570.5 903.0,570.5 904.0,567.6 905.0,558.9 906.0,550.3 907.0,541.7 908.0,533.2 909.0,524.6 910.0,516.0 911.0,507.4 912.0,498.9 913.0,490.3 914.0,481.8 915.0,473.3 916.0,464.8 917.0,456.3 918.0,447.9 919.0,439.4 920.0,431.0 921.0,422.7 922.0,414.4 923.0,406.2 924.0,398.0 925.0,390.0 926.0,382.1 927.0,374.4 928.0,366.9 929.0,359.7 930.0,353.1 931.0,347.1 932.0,342.1 933.0,338.6 934.0,336.9 935.0,337.4 936.0,339.9 937.0,344.3 938.0,349.9 939.0,356.5 940.0,363.7 941.0,371.3 942.0,379.2 943.0,387.3 944.0,395.6 945.0,404.1 946.0,412.6 947.0,421.2 948.0,429.9 949.0,438.6 950.0,447.4 951.0,456.2 952.0,465.0 953.0,473.9 954.0,482.7 955.0,491.6 956.0,500.5 957.0,509.4 958.0,518.4 959.0,527.3 960.0,536.3 961.0,545.2 962.0,554.2 963.0,563.2 964.0,569.0 965.0,560.7 966.0,552.4 967.0,544.1 968.0,535.9 969.0,527.6 970.0,519.3 971.0,511.1 972.0,502.9 973.0,494.7 974.0,486.5 975.0,478.4 976.0,470.3 977.0,462.2 978.0,454.2 979.0,446.2 980.0,438.3 981.0,430.4 982.0,422.7 983.0,415.2 984.0,407.8 985.0,400.8 986.0,394.1 987.0,387.9 988.0,382.6 989.0,378.4 990.0,375.9 991.0,375.2 992.0,376.5 993.0,379.4 994.0,383.6 995.0,388.7 996.0,394.4 997.0,400.5 998.0,406.9 999.0,413.6 1000.0,420.4 1001.0,427.3 1002.0,434.3 1003.0,441.4 1004.0,448.6 1005.0,455.8 1006.0,463.0 1007.0,470.3 1008.0,477.5 1009.0,484.9 1010.0,492.2 1011.0,499.5 1012.0,506.9 1013.0,514.3 1014.0,521.6 1015.0,529.0 1016.0,536.4 1017.0,543.8 1018.0,551.2 1019.0,558.6 1020.0,566.1 1021.0,570.5 1022.0,570.5 1023.0,570.5 1024.0,570.5 1025.0,570.5 1026.0,570.5 1027.0,570.5 1028.0,570.5 1029.0,570.5 1030.0,570.5 1031.0,570.5 1032.0,570.5 1033.0,570.5 1034.0,570.5 1035.0,570.5 1036.0,570.5 1037.0,570.5 1038.0,570.5 1039.0,570.5 1040.0,570.5 1041.0,570.5 1042.0,570.5 1043.0,570.5 1044.0,570.5 1045.0,570.5 1046.0,570.5 1047.0,570.5 1048.0,570.5 1049.0,570.5 1050.0,570.5 1051.0,570.5 1052.0,570.5 1053.0,570.5 1054.0,570.5 1055.0,570.5 1056.0,570.5 1057.0,570.5 1058.0,570.5 1059.0,570.5 1060.0,570.5 1061.0,570.5 1062.0,570.5 1063.0,570.5 1064.0,570.5 1065.0,570.5 1066.0,570.5 1067.0,570.5 1068.0,570.5 1069.0,570.5 1070.0,570.5 1071.0,570.5 1072.0,570.5 1073.0,570.5 1074.0,570.5 1075.0,570.5 1076.0,570.5 1077.0,570.5 1078.0,570.5 1079.0,570.5 1080.0,570.5 1081.0,570.5 1082.0,570.5 1083.0,570.5 1084.0,570.5 1085.0,570.5 1086.0,570.5 1087.0,570.5 1088.0,570.5 1089.0,570.5 1090.0,570.5 1091.0,570.5 1092.0,570.5 1093.0,570.5 1094.0,570.5 1095.0,570.5 1096.0,570.5 1097.0,570.5 1098.0,570.5 1099.0,570.5 1100.0,570.5 1101.0,570.5 1102.0,570.5 1103.0,570.5 1104.0,570.5 1105.0,570.5 1106.0,570.5 1107.0,570.5 1108.0,570.5 1109.0,570.5 1110.0,570.5 1111.0,570.5 1112.0,570.5 1113.0,570.5 1114.0,570.5 1115.0,570.5 1116.0,570.5 1117.0,570.5 1118.0,570.5 1119.0,570.5 1120.0,570.5 1121.0,570.5 1122.0,570.5 1123.0,570.5 1124.0,570.5 1125.0,570.5 1126.0,570.5 1127.0,570.5 1128.0,570.5 1129.0,570.5 1130.0,570.5 1131.0,570.5 1132.0,570.5 1133.0,570.5 1134.0,570.5 1135.0,570.5 1136.0,570.5 1137.0,570.5 1138.0,570.5 1139.0,570.5 1140.0,570.5 1141.0,570.5 1142.0,570.5 1143.0,570.5 1144.0,570.5 1145.0,570.5 1146.0,570.5 1147.0,570.5 1148.0,570.5 1149.0,570.5 1150.0,570.5 1151.0,570.5 1152.0,570.5 1153.0,570.5 1154.0,570.5 1155.0,570.5 1156.0,570.5 1157.0,570.5 1158.0,570.5 1159.0,570.5 1160.0,570.5 1161.0,570.5 1162.0,570.5 1163.0,570.5 1164.0,570.5 1165.0,570.5 1166.0,570.5 1167.0,570.5 1168.0,570.5 1169.0,570.5 1170.0,570.5 1171.0,570.5 1172.0,570.5 1173.0,570.5 1174.0,570.5 1175.0,570.5 1176.0,570.5 1177.0,570.5 1178.0,570.5 1179.0,570.5 1180.0,570.5 1181.0,570.5 1182.0,570.5 1183.0,570.5 1184.0,570.5 1185.0,570.5 1186.0,570.5 1187.0,570.5 1188.0,570.5 1189.0,570.5 1190.0,570.5 1191.0,570.5 1192.0,570.5 1193.0,570.5 1194.0,570.5 1195.0,570.5 1196.0,570.5 1197.0,570.5 1198.0,570.5 1199.0,570.5 1200.0,570.5 1201.0,570.5 1202.0,570.5 1203.0,570.5 1204.0,570.5 1205.0,570.5 1206.0,570.5 1207.0,570.5 1208.0,570.5 1209.0,570.5 1210.0,570.5 1211.0,570.5 1212.0,570.5 1213.0,570.5 1214.0,570.5 1215.0,570.5 1216.0,570.5 1217.0,570.5 1218.0,570.5 1219.0,570.5 1220.0,570.5 1221.0,570.5 1222.0,570.5 1223.0,570.5 1224.0,570.5 1225.0,570.5 1226.0,570.5 1227.0,570.5 1228.0,570.5 1229.0,570.5 1230.0,570.5 1231.0,570.5 1232.0,570.5 1233.0,570.5 1234.0,570.5 1235.0,570.5 1236.0,570.5 1237.0,570.5 1238.0,570.5 1239.0,570.5 1240.0,570.5 1241.0,570.5 1242.0,570.5 1243.0,570.5 1244.0,570.5 1245.0,570.5 1246.0,570.5 1247.0,570.5 1248.0,570.5 1249.0,570.5 1250.0,570.5 1251.0,570.5 1252.0,570.5 1253.0,570.5 1254.0,570.5 1255.0,570.5 1256.0,570.5 1257.0,570.5 1258.0,570.5 1259.0,570.5 1260.0,570.5 1261.0,570.5 1262.0,570.5 1263.0,570.5 1264.0,570.5 1265.0,570.5 1266.0,570.5 1267.0,570.5 1268.0,570.5 1269.0,570.5 1270.0,570.5 1271.0,570.5 1272.0,570.5 1273.0,570.5 1274.0,570.5 1275.0,570.5 1276.0,570.5 1277.0,570.5 1278.0,570.5 1279.0,570.5 1280.0,570.5 1281.0,570.5 1282.0,570.5 1283.0,570.5 1284.0,570.5 1285.0,570.5 1286.0,570.5 1287.0,570.5 1288.0,570.5 1289.0,570.5 1290.0,570.5 1291.0,570.5 1292.0,570.5 1293.0,570.5 1294.0,570.5 1295.0,570.5 1296.0,570.5 1297.0,570.5 1298.0,570.5 1299.0,570.5 1300.0,570.5 1301.0,570.5 1302.0,570.5 1303.0,570.5 1304.0,570.5 1305.0,570.5 1306.0,570.5 1307.0,570.5 1308.0,570.5 1309.0,570.5 1310.0,570.5 1311.0,570.5 1312.0,570.5 1313.0,570.5 1314.0,570.5 1315.0,570.5 1316.0,570.5 1317.0,570.5 1318.0,570.5 1319.0,570.5 1320.0,570.5 1321.0,570.5 1322.0,570.5 1323.0,570.5 1324.0,570.5 1325.0,570.5 1326.0,570.5 1327.0,570.5 1328.0,570.5 1329.0,570.5 1330.0,570.5 1331.0,570.5 1332.0,570.5 1333.0,570.5 1334.0,570.5 1335.0,570.5 1336.0,570.5 1337.0,570.5 1338.0,570.5 1339.0,570.5 1340.0,570.5 1341.0,570.5 1342.0,570.5 1343.0,570.5 1344.0,570.5 1345.0,564.3 1346.0,555.6 1347.0,546.9 1348.0,538.2 1349.0,529.5 1350.0,520.8 1351.0,512.1 1352.0,503.5 1353.0,494.8 1354.0,486.2 1355.0,477.6 1356.0,469.0 1357.0,460.4 1358.0,451.8 1359.0,443.3 1360.0,434.8 1361.0,426.3 1362.0,417.9 1363.0,409.5 1364.0,401.2 1365.0,393.0 1366.0,384.9 1367.0,376.9 1368.0,369.2 1369.0,361.7 1370.0,354.6 1371.0,348.1 1372.0,342.3 1373.0,337.6 1374.0,334.6 1375.0,333.5 1376.0,334.6 1377.0,337.6 1378.0,342.3 1379.0,348.1 1380.0,354.6 1381.0,361.7 1382.0,369.2 1383.0,376.9 1384.0,384.9 1385.0,393.0 1386.0,401.2 1387.0,409.5 1388.0,417.9 1389.0,426.3 1390.0,434.8 1391.0,443.3 1392.0,451.8 1393.0,460.4 1394.0,469.0 1395.0,477.6 1396.0,486.2 1397.0,494.8 1398.0,503.5 1399.0,512.1 1400.0,520.8 1401.0,529.5 1402.0,538.2 1403.0,546.9 1404.0,555.6 1405.0,564.3 1406.0,570.5 1407.0,570.5 1408.0,570.5 1409.0,570.5 1410.0,570.5 1411.0,570.5 1412.0,570.5 1413.0,570.5 1414.0,570.5 1415.0,570.5 1416.0,570.5 1417.0,570.5 1418.0,570.5 1419.0,570.5 1420.0,570.5 1421.0,570.5 1422.0,570.5 1423.0,570.5 1424.0,570.5 1425.0,570.5 1426.0,570.5 1427.0,570.5 1428.0,570.5 1429.0,570.5 1430.0,570.5 1431.0,570.5 1432.0,570.5 1433.0,570.5 1434.0,570.5 1435.0,570.5 1436.0,570.5 1437.0,570.5 1438.0,570.5 1439.0,570.5 1440.0,570.5 1441.0,570.5 1442.0,570.5 1443.0,570.5 1444.0,570.5 1445.0,570.5 1446.0,570.5 1447.0,570.5 1448.0,570.5 1449.0,570.5 1450.0,570.5 1451.0,570.5 1452.0,570.5 1453.0,563.3 1454.0,556.1 1455.0,548.8 1456.0,541.6 1457.0,534.3 1458.0,527.1 1459.0,519.9 1460.0,512.7 1461.0,505.5 1462.0,498.3 1463.0,491.1 1464.0,483.9 1465.0,476.8 1466.0,469.7 1467.0,462.6 1468.0,455.5 1469.0,448.5 1470.0,441.5 1471.0,434.6 1472.0,427.8 1473.0,421.1 1474.0,414.5 1475.0,408.1 1476.0,401.9 1477.0,396.1 1478.0,390.8 1479.0,386.3 1480.0,382.7 1481.0,380.6 1482.0,380.3 1483.0,381.7 1484.0,384.7 1485.0,388.9 1486.0,393.9 1487.0,399.6 1488.0,405.6 1489.0,411.9 1490.0,418.4 1491.0,425.1 1492.0,431.9 1493.0,438.8 1494.0,445.7 1495.0,452.7 1496.0,459.7 1497.0,466.8 1498.0,473.9 1499.0,481.1 1500.0,488.2 1501.0,495.4 1502.0,502.6 1503.0,509.8 1504.0,517.0 1505.0,524.2 1506.0,531.4 1507.0,538.7 1508.0,545.9 1509.0,553.2 1510.0,560.4 1511.0,567.7 1512.0,570.5 1513.0,570.5 1514.0,570.5 1515.0,570.5 1516.0,570.5 1517.0,570.5 1518.0,570.5 1519.0,570.5 1520.0,570.5 1521.0,570.5 1522.0,570.5 1523.0,570.5 1524.0,570.5 1525.0,570.5 1526.0,570.5 1527.0,570.5 1528.0,570.5 1529.0,570.5 1530.0,570.5 1531.0,570.5 1532.0,570.5 1533.0,570.5 1534.0,570.5 1535.0,570.5 1536.0,570.5 1537.0,570.5 1538.0,570.5 1539.0,570.5 1540.0,570.5 1541.0,570.5 1542.0,570.5 1543.0,570.5 1544.0,570.5 1545.0,570.5 1546.0,570.5 1547.0,570.5 1548.0,570.5 1549.0,570.5 1550.0,570.5 1551.0,570.5 1552.0,570.5 1553.0,570.5 1554.0,570.5 1555.0,570.5 1556.0,570.5 1557.0,570.5 1558.0,570.5 1559.0,570.5 1560.0,570.5 1561.0,570.5 1562.0,570.5 1563.0,570.5 1564.0,570.5 1565.0,570.5 1566.0,570.5 1567.0,570.5 1568.0,570.5 1569.0,570.5 1570.0,570.5 1571.0,570.5 1572.0,570.5 1573.0,570.5 1574.0,570.5 1575.0,570.5 1576.0,569.8 1577.0,566.1 1578.0,562.3 1579.0,558.6 1580.0,554.9 1581.0,551.1 1582.0,547.4 1583.0,543.7 1584.0,540.0 1585.0,536.3 1586.0,532.6 1587.0,528.9 1588.0,525.2 1589.0,521.6 1590.0,517.9 1591.0,514.3 1592.0,510.7 1593.0,507.2 1594.0,503.7 1595.0,500.2 1596.0,496.9 1597.0,493.6 1598.0,490.5 1599.0,487.6 1600.0,485.0 1601.0,482.8 1602.0,481.3 1603.0,480.5 1604.0,480.7 1605.0,481.8 1606.0,483.6 1607.0,486.0 1608.0,488.7 1609.0,491.7 1610.0,494.9 1611.0,498.2 1612.0,501.6 1613.0,505.1 1614.0,508.6 1615.0,512.2 1616.0,515.8 1617.0,519.4 1618.0,523.0 1619.0,526.7 1620.0,530.4 1621.0,534.1 1622.0,537.8 1623.0,541.5 1624.0,545.2 1625.0,548.9 1626.0,552.6 1627.0,556.4 1628.0,560.1 1629.0,563.8 1630.0,567.6 1631.0,570.5 1632.0,570.5 1633.0,570.5 1634.0,570.5 1635.0,570.5 1636.0,570.5 1637.0,570.5 1638.0,570.5 1639.0,570.5 1640.0,570.5 1641.0,570.5 1642.0,570.5 1643.0,570.5 1644.0,570.5 1645.0,570.5 1646.0,570.5 1647.0,570.5 1648.0,570.5 1649.0,570.5 1650.0,570.5 1651.0,570.5 1652.0,570.5 1653.0,570.5 1654.0,570.5 1655.0,570.5 1656.0,570.5 1657.0,570.5 1658.0,570.5 1659.0,570.5 1660.0,570.5 1661.0,570.5 1662.0,570.5 1663.0,570.5 1664.0,570.5 1665.0,570.5 1666.0,570.5 1667.0,570.5 1668.0,570.5 1669.0,570.5 1670.0,570.5 1671.0,570.5 1672.0,570.5 1673.0,570.5 1674.0,570.5 1675.0,570.5 1676.0,570.5 1677.0,570.5 1678.0,570.5 1679.0,570.5 1680.0,570.5 1681.0,570.5 1682.0,570.5 1683.0,570.5 1684.0,570.5 1685.0,570.5 1686.0,570.5 1687.0,570.5 1688.0,570.5 1689.0,570.5 1690.0,570.5 1691.0,570.5 1692.0,570.5 1693.0,570.5 1694.0,570.5 1695.0,570.5 1696.0,570.5 1697.0,570.5 1698.0,570.5 1699.0,570.5 1700.0,570.5 1701.0,570.5 1702.0,570.5 1703.0,570.5 1704.0,570.5 1705.0,570.5 1706.0,570.5 1707.0,570.5 1708.0,570.5 1709.0,570.5 1710.0,570.5 1711.0,570.5 1712.0,570.5 1713.0,570.5 1714.0,570.5 1715.0,570.5 1716.0,570.5 1717.0,570.5 1718.0,570.5 1719.0,570.5 1720.0,570.5 1721.0,570.5 1722.0,570.5 1723.0,570.5 1724.0,570.5 1725.0,570.5 1726.0,570.5 1727.0,570.5 1728.0,570.5 1729.0,570.5 1730.0,570.5 1731.0,570.5 1732.0,570.5 1733.0,570.5 1734.0,570.5 1735.0,570.5 1736.0,570.5 1737.0,570.5 1738.0,570.5 1739.0,570.5 1740.0,570.5 1741.0,570.5 1742.0,570.5 1743.0,570.5 1744.0,570.5 1745.0,570.5 1746.0,570.5 1747.0,570.5 1748.0,570.5 1749.0,570.5 1750.0,570.5 1751.0,570.5 1752.0,570.5 1753.0,570.5 1754.0,570.5 1755.0,570.5 1756.0,570.5 1757.0,570.5 1758.0,570.5 1759.0,570.5 1760.0,570.5 1761.0,570.5 1762.0,570.5 1763.0,570.5 1764.0,570.5 1765.0,570.5 1766.0,570.5 1767.0,570.5 1768.0,570.5 1769.0,570.5 1770.0,570.5 1771.0,570.5 1772.0,570.5 1773.0,570.5 1774.0,570.5 1775.0,570.5 1776.0,570.5 1777.0,570.5 1778.0,570.5 1779.0,570.5 1780.0,570.5 1781.0,570.5 1782.0,570.5 1783.0,570.5 1784.0,570.5 1785.0,570.5 1786.0,570.5 1787.0,570.5 1788.0,570.5 1789.0,570.5 1790.0,570.5 1791.0,570.5 1792.0,570.5 1793.0,570.5 1794.0,570.5 1795.0,570.5 1796.0,570.5 1797.0,570.5 1798.0,570.5 1799.0,570.5 1800.0,570.5 1801.0,570.5 1802.0,570.5 1803.0,570.5 1804.0,570.5 1805.0,570.5 1806.0,570.5 1807.0,570.5 1808.0,570.5 1809.0,570.5 1810.0,570.5 1811.0,570.5 1812.0,570.5 1813.0,570.5 1814.0,570.5 1815.0,570.5 1816.0,570.5 1817.0,570.5 1818.0,570.5 1819.0,570.5 1820.0,570.5 1821.0,570.5 1822.0,570.5 1823.0,570.5 1824.0,570.5 1825.0,570.5 1826.0,570.5 1827.0,570.5 1828.0,570.5 1829.0,570.5 1830.0,570.5 1831.0,570.5 1832.0,570.5 1833.0,570.5 1834.0,570.5 1835.0,570.5 1836.0,570.5 1837.0,570.5 1838.0,570.5 1839.0,570.5 1840.0,570.5 1841.0,570.5 1842.0,570.5 1843.0,570.5 1844.0,570.5 1845.0,570.5 1846.0,570.5 1847.0,570.5 1848.0,570.5 1849.0,570.5 1850.0,570.5 1851.0,570.5 1852.0,570.5 1853.0,570.5 1854.0,570.5 1855.0,570.5 1856.0,570.5 1857.0,570.5 1858.0,570.5 1859.0,570.5 1860.0,570.5 1861.0,570.5 1862.0,570.5 1863.0,570.5 1864.0,570.5 1865.0,570.5 1866.0,570.5 1867.0,570.5 1868.0,570.5 1869.0,570.5 1870.0,570.5 1871.0,570.5 1872.0,570.5 1873.0,570.5 1874.0,570.5 1875.0,570.5 1876.0,570.5 1877.0,570.5 1878.0,570.5 1879.0,570.5 1880.0,570.5 1881.0,570.5 1882.0,570.5 1883.0,570.5 1884.0,570.5 1885.0,570.5 1886.0,570.5 1887.0,570.5 1888.0,570.5 1889.0,570.5 1890.0,570.5 1891.0,570.5 1892.0,570.5 1893.0,570.5 1894.0,570.5 1895.0,570.5 1896.0,570.5 1897.0,570.5 1898.0,570.5 1899.0,570.5 1900.0,570.5 1901.0,570.5 1902.0,570.5 1903.0,570.5 1904.0,570.5 1905.0,570.5 1906.0,570.5 1907.0,570.5 1908.0,570.5 1909.0,570.5 1910.0,570.5 1911.0,570.5 1912.0,570.5 1913.0,570.5 1914.0,570.5 1915.0,570.5 1916.0,570.5 1917.0,570.5 1918.0,570.5 1919.0,570.5 1920.0,570.5 1921.0,570.5 1922.0,570.5 1923.0,570.5 1924.0,570.5 1925.0,570.5 1926.0,570.5 1927.0,570.5 1928.0,570.5 1929.0,570.5 1930.0,570.5 1931.0,570.5 1932.0,570.5 1933.0,570.5 1934.0,570.5 1935.0,570.5 1936.0,570.5 1937.0,570.5 1938.0,570.5 1939.0,570.5 1940.0,570.5 1941.0,570.5 1942.0,570.5 1943.0,570.5 1944.0,570.5 1945.0,570.5 1946.0,570.5 1947.0,570.5 1948.0,570.5 1949.0,570.5 1950.0,570.5 1951.0,570.5 1952.0,570.5 1953.0,570.5 1954.0,570.5 1955.0,570.5 1956.0,570.5 1957.0,570.5 1958.0,570.5 1959.0,570.5 1960.0,570.5 1961.0,570.5 1962.0,570.5 1963.0,570.5 1964.0,570.5 1965.0,570.5 1966.0,570.5 1967.0,570.5 1968.0,570.5 1969.0,570.5 1970.0,570.5 1971.0,570.5 1972.0,570.5 1973.0,570.5 1974.0,570.5 1975.0,570.5 1976.0,570.5 1977.0,570.5 1978.0,570.5 1979.0,570.5 1980.0,570.5 1981.0,570.5 1982.0,570.5 1983.0,570.5 1984.0,570.5 1985.0,570.5 1986.0,570.5 1987.0,570.5 1988.0,570.5 1989.0,570.5 1990.0,570.5 1991.0,570.5 1992.0,570.5 1993.0,570.5 1994.0,570.5 1995.0,570.5 1996.0,570.5 1997.0,570.5 1998.0,570.5 1999.0,570.5 2000.0,570.5 2001.0,570.5 2002.0,570.5 2003.0,570.5 2004.0,570.5 2005.0,570.5 2006.0,570.5 2007.0,570.5 2008.0,567.4 2009.0,560.9 2010.0,554.4 2011.0,547.9 2012.0,541.5 2013.0,535.0 2014.0,528.5 2015.0,522.1 2016.0,515.6 2017.0,509.2 2018.0,502.7 2019.0,496.3 2020.0,489.9 2021.0,483.6 2022.0,477.2 2023.0,470.9 2024.0,464.6 2025.0,458.4 2026.0,452.2 2027.0,446.1 2028.0,440.1 2029.0,434.2 2030.0,428.5 2031.0,422.9 2032.0,417.8 2033.0,413.0 2034.0,408.9 2035.0,405.8 2036.0,403.9 2037.0,403.6 2038.0,404.9 2039.0,407.5 2040.0,411.3 2041.0,415.8 2042.0,420.8 2043.0,426.2 2044.0,431.9 2045.0,437.7 2046.0,443.7 2047.0,449.8 2048.0,455.9 2049.0,462.1 2050.0,468.4 2051.0,474.7 2052.0,481.0 2053.0,487.4 2054.0,493.8 2055.0,500.2 2056.0,506.6 2057.0,513.0 2058.0,519.5 2059.0,525.9 2060.0,532.4 2061.0,538.9 2062.0,545.3 2063.0,551.8 2064.0,558.3 2065.0,564.8 2066.0,570.5 2067.0,570.5 2068.0,570.5 2069.0,570.5 2070.0,570.5 2071.0,570.5 2072.0,570.5 2073.0,570.5 2074.0,570.5 2075.0,570.5 2076.0,570.5 2077.0,570.5 2078.0,570.5 2079.0,570.5 2080.0,570.5 2081.0,570.5 2082.0,570.5 2083.0,570.5 2084.0,570.5 2085.0,570.5 2086.0,570.5 2087.0,570.5 2088.0,570.5 2089.0,570.5 2090.0,570.5 2091.0,570.5 2092.0,570.5 2093.0,570.5 2094.0,570.5 2095.0,570.5 2096.0,570.5 2097.0,570.5 2098.0,570.5 2099.0,570.5 2100.0,570.5 2101.0,570.5 2102.0,570.5 2103.0,570.5 2104.0,570.5 2105.0,570.5 2106.0,570.5 2107.0,570.5 2108.0,570.5 2109.0,570.5 2110.0,570.5 2111.0,570.5 2112.0,570.5 2113.0,570.5 2114.0,570.5 2115.0,570.5 2116.0,570.5 2117.0,570.5 2118.0,570.5 2119.0,570.5 2120.0,570.5 2121.0,570.5 2122.0,570.5 2123.0,570.5 2124.0,570.5 2125.0,570.5 2126.0,570.5 2127.0,570.5 2128.0,570.5 2129.0,570.5 2130.0,570.5 2131.0,570.5 2132.0,570.5 2133.0,570.5 2134.0,570.5 2135.0,570.5 2136.0,570.5 2137.0,570.5 2138.0,570.5 2139.0,570.5 2140.0,570.5 2141.0,570.5 2142.0,570.5 2143.0,570.5 2144.0,570.5 2145.0,570.5 2146.0,570.5 2147.0,570.5 2148.0,570.5 2149.0,570.5 2150.0,570.5 2151.0,570.5 2152.0,570.5 2153.0,570.5 2154.0,570.5 2155.0,570.5 2156.0,570.5 2157.0,570.5 2158.0,570.5 2159.0,570.5 2160.0,570.5 2161.0,570.5 2162.0,570.5 2163.0,570.5 2164.0,570.5 2165.0,570.5 2166.0,570.5 2167.0,570.5 2168.0,570.5 2169.0,570.5 2170.0,570.5 2171.0,570.5 2172.0,570.5 2173.0,570.5 2174.0,570.5 2175.0,570.5 2176.0,570.5 2177.0,570.5 2178.0,570.5 2179.0,570.5 2180.0,570.5 2181.0,570.5 2182.0,570.5 2183.0,570.5 2184.0,570.5 2185.0,570.5 2186.0,570.5 2187.0,570.5 2188.0,570.5 2189.0,570.5 2190.0,570.5 2191.0,570.5 2192.0,570.5 2193.0,570.5 2194.0,570.5 2195.0,570.5 2196.0,570.5 2197.0,570.5 2198.0,570.5 2199.0,570.5 2200.0,570.5 2201.0,570.5 2202.0,570.5 2203.0,570.5 2204.0,570.5 2205.0,570.5 2206.0,570.5 2207.0,570.5 2208.0,570.5 2209.0,570.5 2210.0,570.5 2211.0,570.5 2212.0,570.5 2213.0,570.5 2214.0,570.5 2215.0,570.5 2216.0,570.5 2217.0,570.5 2218.0,570.5 2219.0,570.5 2220.0,570.5 2221.0,570.5 2222.0,570.5 2223.0,570.5 2224.0,570.5 2225.0,570.5 2226.0,570.5 2227.0,570.5 2228.0,570.5 2229.0,570.5 2230.0,570.5 2231.0,570.5 2232.0,570.5 2233.0,570.5 2234.0,570.5 2235.0,570.5 2236.0,570.5 2237.0,570.5 2238.0,570.5 2239.0,570.5 2240.0,570.5 2241.0,570.5 2242.0,570.5 2243.0,570.5 2244.0,568.4 2245.0,559.0 2246.0,549.6 2247.0,540.2 2248.0,530.8 2249.0,521.5 2250.0,512.1 2251.0,502.8 2252.0,493.4 2253.0,484.1 2254.0,474.8 2255.0,465.5 2256.0,456.2 2257.0,447.0 2258.0,437.7 2259.0,428.5 2260.0,419.4 2261.0,410.2 2262.0,401.1 2263.0,392.1 2264.0,383.2 2265.0,374.3 2266.0,365.6 2267.0,357.0 2268.0,348.7 2269.0,340.6 2270.0,333.0 2271.0,325.9 2272.0,319.7 2273.0,314.7 2274.0,311.4 2275.0,310.2 2276.0,311.4 2277.0,314.7 2278.0,319.7 2279.0,325.9 2280.0,333.0 2281.0,340.6 2282.0,348.7 2283.0,357.0 2284.0,365.6 2285.0,374.3 2286.0,383.2 2287.0,392.1 2288.0,401.1 2289.0,410.2 2290.0,419.4 2291.0,428.5 2292.0,437.7 2293.0,447.0 2294.0,456.2 2295.0,465.5 2296.0,474.8 2297.0,484.1 2298.0,493.4 2299.0,502.8 2300.0,512.1 2301.0,521.5 2302.0,530.8 2303.0,540.2 2304.0,549.6 2305.0,559.0 2306.0,568.4 2307.0,570.5 2308.0,570.5 2309.0,570.5 2310.0,570.5 2311.0,570.5 2312.0,570.5 2313.0,570.5 2314.0,570.5 2315.0,570.5 2316.0,570.5 2317.0,570.5 2318.0,570.5 2319.0,570.5 2320.0,570.5 2321.0,570.5 2322.0,570.5 2323.0,570.5 2324.0,570.5 2325.0,570.5 2326.0,570.5 2327.0,570.5 2328.0,570.5 2329.0,570.5 2330.0,570.5 2331.0,570.5 2332.0,570.5 2333.0,570.5 2334.0,570.5 2335.0,570.5 2336.0,570.5 2337.0,570.5 2338.0,570.5 2339.0,570.5 2340.0,570.5 2341.0,570.5 2342.0,570.5 2343.0,570.5 2344.0,570.5 2345.0,570.5 2346.0,570.5 2347.0,570.5 2348.0,570.5 2349.0,570.5 2350.0,570.5 2351.0,570.5 2352.0,570.5 2353.0,570.5 2354.0,566.5 2355.0,559.0 2356.0,551.6 2357.0,544.1 2358.0,536.6 2359.0,529.2 2360.0,521.7 2361.0,514.3 2362.0,506.9 2363.0,499.5 2364.0,492.1 2365.0,484.7 2366.0,477.3 2367.0,470.0 2368.0,462.7 2369.0,455.4 2370.0,448.1 2371.0,440.9 2372.0,433.8 2373.0,426.7 2374.0,419.7 2375.0,412.9 2376.0,406.1 2377.0,399.6 2378.0,393.4 2379.0,387.6 2380.0,382.4 2381.0,378.1 2382.0,375.1 2383.0,373.6 2384.0,374.0 2385.0,376.1 2386.0,379.7 2387.0,384.4 2388.0,389.9 2389.0,395.9 2390.0,402.2 2391.0,408.8 2392.0,415.6 2393.0,422.5 2394.0,429.5 2395.0,436.6 2396.0,443.8 2397.0,451.0 2398.0,458.3 2399.0,465.6 2400.0,472.9 2401.0,480.3 2402.0,487.6 2403.0,495.0 2404.0,502.4 2405.0,509.9 2406.0,517.3 2407.0,524.7 2408.0,532.2 2409.0,539.6 2410.0,547.1 2411.0,554.5 2412.0,562.0 2413.0,569.5 2414.0,570.5 2415.0,570.5 2416.0,570.5 2417.0,570.5 2418.0,570.5 2419.0,570.5 2420.0,570.5 2421.0,570.5 2422.0,570.5 2423.0,570.5 2424.0,570.5 2425.0,570.5 2426.0,570.5 2427.0,570.5 2428.0,570.5 2429.0,570.5 2430.0,570.5 2431.0,570.5 2432.0,570.5 2433.0,570.5 2434.0,570.5 2435.0,570.5 2436.0,570.5 2437.0,570.5 2438.0,570.5 2439.0,570.5 2440.0,570.5 2441.0,570.5 2442.0,570.5 2443.0,570.5 2444.0,570.5 2445.0,570.5 2446.0,570.5 2447.0,570.5 2448.0,570.5 2449.0,570.5 2450.0,570.5 2451.0,570.5 2452.0,570.5 2453.0,570.5 2454.0,570.5 2455.0,570.5 2456.0,570.5 2457.0,570.5 2458.0,570.5 2459.0,570.5 2460.0,570.5 2461.0,570.5 2462.0,570.5 2463.0,570.5 2464.0,570.5 2465.0,570.5 2466.0,570.5 2467.0,570.5 2468.0,570.5 2469.0,570.5 2470.0,570.5 2471.0,570.5 2472.0,570.5 2473.0,570.5 2474.0,570.5 2475.0,570.5 2476.0,570.5 2477.0,570.5 2478.0,570.5 2479.0,570.5 2480.0,570.5 2481.0,570.5 2482.0,570.5 2483.0,570.5 2484.0,570.5 2485.0,570.5 2486.0,570.5 2487.0,570.5 2488.0,570.5 2489.0,570.5 2490.0,570.5 2491.0,570.5 2492.0,570.5 2493.0,570.5 2494.0,570.5 2495.0,570.5 2496.0,570.5 2497.0,570.5 2498.0,570.5 2499.0,570.5 2500.0,570.5 2501.0,570.5 2502.0,570.5 2503.0,570.5 2504.0,570.5 2505.0,570.5 2506.0,570.5 2507.0,570.5 2508.0,570.5 2509.0,570.5 2510.0,570.5 2511.0,570.5 2512.0,570.5 2513.0,570.5 2514.0,570.5 2515.0,570.5 2516.0,570.5 2517.0,570.5 2518.0,570.5 2519.0,570.5 2520.0,570.5 2521.0,570.5 2522.0,570.5 2523.0,570.5 2524.0,570.5 2525.0,570.5 2526.0,570.5 2527.0,570.5 2528.0,570.5 2529.0,570.5 2530.0,570.5 2531.0,570.5 2532.0,570.5 2533.0,570.5 2534.0,570.5 2535.0,570.5 2536.0,570.5 2537.0,570.5 2538.0,570.5 2539.0,570.5 2540.0,570.5 2541.0,570.5 2542.0,570.5 2543.0,570.5 2544.0,570.5 2545.0,570.5 2546.0,570.5 2547.0,570.5 2548.0,570.5 2549.0,570.5 2550.0,570.5 2551.0,570.5 2552.0,570.5 2553.0,570.5 2554.0,570.5 2555.0,570.5 2556.0,570.5 2557.0,570.5 2558.0,570.5 2559.0,570.5 2560.0,570.5 2561.0,570.5 2562.0,570.5 2563.0,570.5 2564.0,570.5 2565.0,570.5 2566.0,570.5 2567.0,570.5 2568.0,570.5 2569.0,570.5 2570.0,570.5 2571.0,570.5 2572.0,570.5 2573.0,570.5 2574.0,570.5 2575.0,570.5 2576.0,570.5 2577.0,570.5 2578.0,570.5 2579.0,570.5 2580.0,570.5 2581.0,570.5 2582.0,570.5 2583.0,570.5 2584.0,570.5 2585.0,570.5 2586.0,570.5 2587.0,570.5 2588.0,570.5 2589.0,570.5 2590.0,570.5 2591.0,570.5 2592.0,570.5 2593.0,570.5 2594.0,570.5 2595.0,570.5 2596.0,570.5 2597.0,570.5 2598.0,570.5 2599.0,570.5 2600.0,570.5 2601.0,570.5 2602.0,570.5 2603.0,570.5 2604.0,570.5 2605.0,570.5 2606.0,570.5 2607.0,570.5 2608.0,570.5 2609.0,570.5 2610.0,570.5 2611.0,570.5 2612.0,570.5 2613.0,570.5 2614.0,570.5 2615.0,570.5 2616.0,570.5 2617.0,570.5 2618.0,570.5 2619.0,570.5 2620.0,570.5 2621.0,570.5 2622.0,570.5 2623.0,570.5 2624.0,570.5 2625.0,570.5 2626.0,570.5 2627.0,570.5 2628.0,570.5 2629.0,570.5 2630.0,570.5 2631.0,570.5 2632.0,570.5 2633.0,570.5 2634.0,570.5 2635.0,570.5 2636.0,570.5 2637.0,570.5 2638.0,570.5 2639.0,570.5 2640.0,570.5 2641.0,570.5 2642.0,570.5 2643.0,570.5 2644.0,570.5 2645.0,570.5 2646.0,570.5 2647.0,570.5 2648.0,570.5 2649.0,570.5 2650.0,570.5 2651.0,570.5 2652.0,570.5 2653.0,570.5 2654.0,570.5 2655.0,570.5 2656.0,570.5 2657.0,570.5 2658.0,570.5 2659.0,570.5 2660.0,570.5 2661.0,570.5 2662.0,570.5 2663.0,570.5 2664.0,570.5 2665.0,570.5 2666.0,570.5 2667.0,570.5 2668.0,570.5 2669.0,570.5 2670.0,570.5 2671.0,570.5 2672.0,570.5 2673.0,570.5 2674.0,570.5 2675.0,570.5 2676.0,570.5 2677.0,570.5 2678.0,570.5 2679.0,570.5 2680.0,570.5 2681.0,570.5 2682.0,570.5 2683.0,570.5 2684.0,570.5 2685.0,570.5 2686.0,570.5 2687.0,570.5 2688.0,570.5 2689.0,570.5 2690.0,570.5 2691.0,570.5 2692.0,570.5 2693.0,570.5 2694.0,570.5 2695.0,570.5 2696.0,570.5 2697.0,570.5 2698.0,570.5 2699.0,570.5 2700.0,570.5 2701.0,570.5 2702.0,570.5 2703.0,570.5 2704.0,570.5 2705.0,570.5 2706.0,570.5 2707.0,570.5 2708.0,570.5 2709.0,570.5 2710.0,570.5 2711.0,570.5 2712.0,570.5 2713.0,570.5 2714.0,570.5 2715.0,570.5 2716.0,570.5 2717.0,570.5 2718.0,570.5 2719.0,570.5 2720.0,570.5 2721.0,570.5 2722.0,570.5 2723.0,570.5 2724.0,570.5 2725.0,570.5 2726.0,570.5 2727.0,570.5 2728.0,570.5 2729.0,570.5 2730.0,570.5 2731.0,570.5 2732.0,570.5 2733.0,570.5 2734.0,570.5 2735.0,570.5 2736.0,570.5 2737.0,570.5 2738.0,570.5 2739.0,570.5 2740.0,570.5 2741.0,570.5 2742.0,570.5 2743.0,570.5 2744.0,570.5 2745.0,570.5 2746.0,570.5 2747.0,570.5 2748.0,570.5 2749.0,570.5 2750.0,570.5 2751.0,570.5 2752.0,570.5 2753.0,570.5 2754.0,570.5 2755.0,570.5 2756.0,570.5 2757.0,570.5 2758.0,570.5 2759.0,570.5 2760.0,570.5 2761.0,570.5 2762.0,570.5 2763.0,570.5 2764.0,570.5 2765.0,570.5 2766.0,570.5 2767.0,570.5 2768.0,570.5 2769.0,570.5 2770.0,570.5 2771.0,570.5 2772.0,570.5 2773.0,570.5 2774.0,570.5 2775.0,570.5 2776.0,570.5 2777.0,570.5 2778.0,570.5 2779.0,570.5 2780.0,570.5 2781.0,570.5 2782.0,570.5 2783.0,570.5 2784.0,570.5 2785.0,570.5 2786.0,570.5 2787.0,570.5 2788.0,570.5 2789.0,570.5 2790.0,570.5 2791.0,570.5 2792.0,570.5 2793.0,570.5 2794.0,570.5 2795.0,570.5 2796.0,570.5 2797.0,570.5 2798.0,570.5 2799.0,570.5 2800.0,570.5 2801.0,570.5 2802.0,570.5 2803.0,570.5 2804.0,570.5 2805.0,570.5 2806.0,570.5 2807.0,570.5 2808.0,570.5 2809.0,570.5 2810.0,570.5 2811.0,570.5 2812.0,570.5 2813.0,570.5 2814.0,570.5 2815.0,570.5 2816.0,570.5 2817.0,570.5 2818.0,570.5 2819.0,570.5 2820.0,570.5 2821.0,570.5 2822.0,570.5 2823.0,570.5 2824.0,570.5 2825.0,570.5 2826.0,570.5 2827.0,570.5 2828.0,570.5 2829.0,570.5 2830.0,570.5 2831.0,570.5 2832.0,570.5 2833.0,570.5 2834.0,570.5 2835.0,570.5 2836.0,570.5 2837.0,570.5" fill="none" stroke="#141414" stroke-width="6.0" stroke-linejoin="round"/>
<line x1="388.0" y1="1279.0" x2="2837" y2="1279.0" stroke="#e2e3d8" stroke-width="13.0"/>
<polyline points="388.0,1280.2 389.0,1280.2 390.0,1280.2 391.0,1280.2 392.0,1280.2 393.0,1280.2 394.0,1280.2 395.0,1280.2 396.0,1280.2 397.0,1280.2 398.0,1280.0 399.0,1275.3 400.0,1270.6 401.0,1265.9 402.0,1261.2 403.0,1256.6 404.0,1251.9 405.0,1247.2 406.0,1242.6 407.0,1237.9 408.0,1233.3 409.0,1228.6 410.0,1224.0 411.0,1219.4 412.0,1214.8 413.0,1210.3 414.0,1205.8 415.0,1201.3 416.0,1196.8 417.0,1192.5 418.0,1188.2 419.0,1184.0 420.0,1179.9 421.0,1176.1 422.0,1172.6 423.0,1169.4 424.0,1166.9 425.0,1165.3 426.0,1164.7 427.0,1165.3 428.0,1166.9 429.0,1169.4 430.0,1172.6 431.0,1176.1 432.0,1179.9 433.0,1184.0 434.0,1188.2 435.0,1192.5 436.0,1196.8 437.0,1201.3 438.0,1205.8 439.0,1210.3 440.0,1214.8 441.0,1219.4 442.0,1224.0 443.0,1228.6 444.0,1233.3 445.0,1237.9 446.0,1242.6 447.0,1247.2 448.0,1251.9 449.0,1256.6 450.0,1261.2 451.0,1265.9 452.0,1270.6 453.0,1275.3 454.0,1280.0 455.0,1280.2 456.0,1280.2 457.0,1280.2 458.0,1280.2 459.0,1280.2 460.0,1280.2 461.0,1280.2 462.0,1280.2 463.0,1280.2 464.0,1280.2 465.0,1280.2 466.0,1280.2 467.0,1280.2 468.0,1280.2 469.0,1280.2 470.0,1280.2 471.0,1280.2 472.0,1280.2 473.0,1280.2 474.0,1280.2 475.0,1280.2 476.0,1280.2 477.0,1280.2 478.0,1280.2 479.0,1280.2 480.0,1280.2 481.0,1280.2 482.0,1280.2 483.0,1280.2 484.0,1280.2 485.0,1280.2 486.0,1280.2 487.0,1280.2 488.0,1280.2 489.0,1280.2 490.0,1280.2 491.0,1280.2 492.0,1280.2 493.0,1280.2 494.0,1280.2 495.0,1280.2 496.0,1280.2 497.0,1280.2 498.0,1280.2 499.0,1280.2 500.0,1280.2 501.0,1280.2 502.0,1280.2 503.0,1280.2 504.0,1280.2 505.0,1280.2 506.0,1280.2 507.0,1280.2 508.0,1280.2 509.0,1280.2 510.0,1280.2 511.0,1280.2 512.0,1280.2 513.0,1280.2 514.0,1280.2 515.0,1280.2 516.0,1280.2 517.0,1280.2 518.0,1280.2 519.0,1280.2 520.0,1280.2 521.0,1280.2 522.0,1280.2 523.0,1280.2 524.0,1280.2 525.0,1280.2 526.0,1280.2 527.0,1280.2 528.0,1280.2 529.0,1280.2 530.0,1280.2 531.0,1280.2 532.0,1280.2 533.0,1280.2 534.0,1280.2 535.0,1280.2 536.0,1280.2 537.0,1280.2 538.0,1280.2 539.0,1280.2 540.0,1280.2 541.0,1280.2 542.0,1280.2 543.0,1280.2 544.0,1280.2 545.0,1280.2 546.0,1280.2 547.0,1280.2 548.0,1280.2 549.0,1280.2 550.0,1280.2 551.0,1280.2 552.0,1280.2 553.0,1280.2 554.0,1280.2 555.0,1280.2 556.0,1280.2 557.0,1280.2 558.0,1280.2 559.0,1280.2 560.0,1280.2 561.0,1280.2 562.0,1280.2 563.0,1280.2 564.0,1280.2 565.0,1280.2 566.0,1280.2 567.0,1280.2 568.0,1280.2 569.0,1280.2 570.0,1280.2 571.0,1280.2 572.0,1280.2 573.0,1280.2 574.0,1278.8 575.0,1274.2 576.0,1269.5 577.0,1264.9 578.0,1260.3 579.0,1255.7 580.0,1251.0 581.0,1246.4 582.0,1241.8 583.0,1237.3 584.0,1232.7 585.0,1228.1 586.0,1223.6 587.0,1219.0 588.0,1214.5 589.0,1210.0 590.0,1205.6 591.0,1201.2 592.0,1196.8 593.0,1192.5 594.0,1188.3 595.0,1184.2 596.0,1180.3 597.0,1176.6 598.0,1173.2 599.0,1170.3 600.0,1168.0 601.0,1166.7 602.0,1166.5 603.0,1167.4 604.0,1169.3 605.0,1172.0 606.0,1175.2 607.0,1178.8 608.0,1182.6 609.0,1186.7 610.0,1190.8 611.0,1195.1 612.0,1199.4 613.0,1203.8 614.0,1208.3 615.0,1212.7 616.0,1217.2 617.0,1221.8 618.0,1226.3 619.0,1230.9 620.0,1235.4 621.0,1240.0 622.0,1244.6 623.0,1249.2 624.0,1253.8 625.0,1258.4 626.0,1263.0 627.0,1267.7 628.0,1272.3 629.0,1276.9 630.0,1280.2 631.0,1280.2 632.0,1280.2 633.0,1280.2 634.0,1280.2 635.0,1280.2 636.0,1280.2 637.0,1280.2 638.0,1280.2 639.0,1280.2 640.0,1280.2 641.0,1280.2 642.0,1280.2 643.0,1280.2 644.0,1280.2 645.0,1280.2 646.0,1280.2 647.0,1280.2 648.0,1280.2 649.0,1280.2 650.0,1280.2 651.0,1280.2 652.0,1280.2 653.0,1280.2 654.0,1280.2 655.0,1280.2 656.0,1280.2 657.0,1280.2 658.0,1280.2 659.0,1280.2 660.0,1280.2 661.0,1280.2 662.0,1280.2 663.0,1280.2 664.0,1280.2 665.0,1280.2 666.0,1280.2 667.0,1280.2 668.0,1280.2 669.0,1280.2 670.0,1280.2 671.0,1280.2 672.0,1280.2 673.0,1280.2 674.0,1280.2 675.0,1280.2 676.0,1280.2 677.0,1280.2 678.0,1280.2 679.0,1280.2 680.0,1280.2 681.0,1280.2 682.0,1280.2 683.0,1280.2 684.0,1280.2 685.0,1280.2 686.0,1280.2 687.0,1280.2 688.0,1280.2 689.0,1280.2 690.0,1280.2 691.0,1280.2 692.0,1280.2 693.0,1280.2 694.0,1280.2 695.0,1280.2 696.0,1280.2 697.0,1280.2 698.0,1280.2 699.0,1280.2 700.0,1280.2 701.0,1280.2 702.0,1280.2 703.0,1280.2 704.0,1280.2 705.0,1280.2 706.0,1280.2 707.0,1280.2 708.0,1280.2 709.0,1280.2 710.0,1280.2 711.0,1280.2 712.0,1280.2 713.0,1280.2 714.0,1280.2 715.0,1280.2 716.0,1280.2 717.0,1280.2 718.0,1280.2 719.0,1280.2 720.0,1280.2 721.0,1280.2 722.0,1280.2 723.0,1280.2 724.0,1280.2 725.0,1280.2 726.0,1280.2 727.0,1280.2 728.0,1280.2 729.0,1280.2 730.0,1280.2 731.0,1280.2 732.0,1280.2 733.0,1280.2 734.0,1280.2 735.0,1280.2 736.0,1280.2 737.0,1280.2 738.0,1280.2 739.0,1280.2 740.0,1280.2 741.0,1280.2 742.0,1280.2 743.0,1280.2 744.0,1280.2 745.0,1280.2 746.0,1280.2 747.0,1280.2 748.0,1280.2 749.0,1280.2 750.0,1280.2 751.0,1280.2 752.0,1280.2 753.0,1280.2 754.0,1280.2 755.0,1272.6 756.0,1261.7 757.0,1250.8 758.0,1240.0 759.0,1229.1 760.0,1218.3 761.0,1207.5 762.0,1196.7 763.0,1185.8 764.0,1175.1 765.0,1164.3 766.0,1153.5 767.0,1142.8 768.0,1132.0 769.0,1121.3 770.0,1110.7 771.0,1100.0 772.0,1089.5 773.0,1078.9 774.0,1068.4 775.0,1058.0 776.0,1047.7 777.0,1037.5 778.0,1027.5 779.0,1017.6 780.0,1008.1 781.0,998.9 782.0,990.2 783.0,982.3 784.0,975.4 785.0,970.2 786.0,967.1 787.0,966.5 788.0,968.7 789.0,973.1 790.0,979.4 791.0,986.9 792.0,995.3 793.0,1004.3 794.0,1013.8 795.0,1023.5 796.0,1033.5 797.0,1043.6 798.0,1053.9 799.0,1064.3 800.0,1074.7 801.0,1085.2 802.0,1095.8 803.0,1106.4 804.0,1117.1 805.0,1127.8 806.0,1138.5 807.0,1149.2 808.0,1160.0 809.0,1170.7 810.0,1181.5 811.0,1192.3 812.0,1203.1 813.0,1214.0 814.0,1224.8 815.0,1235.6 816.0,1246.5 817.0,1257.3 818.0,1268.2 819.0,1279.1 820.0,1280.2 821.0,1280.2 822.0,1280.2 823.0,1280.2 824.0,1280.2 825.0,1280.2 826.0,1280.2 827.0,1280.2 828.0,1280.2 829.0,1280.2 830.0,1280.2 831.0,1280.2 832.0,1280.2 833.0,1280.2 834.0,1280.2 835.0,1280.2 836.0,1280.2 837.0,1280.2 838.0,1280.2 839.0,1280.2 840.0,1280.2 841.0,1280.2 842.0,1280.2 843.0,1280.2 844.0,1280.2 845.0,1280.2 846.0,1280.2 847.0,1280.2 848.0,1280.2 849.0,1280.2 850.0,1280.2 851.0,1280.2 852.0,1280.2 853.0,1280.2 854.0,1280.2 855.0,1280.2 856.0,1280.2 857.0,1280.2 858.0,1280.2 859.0,1280.2 860.0,1280.2 861.0,1280.2 862.0,1280.2 863.0,1280.2 864.0,1280.2 865.0,1280.2 866.0,1280.2 867.0,1280.2 868.0,1280.2 869.0,1280.2 870.0,1280.2 871.0,1280.2 872.0,1280.2 873.0,1280.2 874.0,1280.2 875.0,1280.2 876.0,1280.2 877.0,1280.2 878.0,1280.2 879.0,1280.2 880.0,1280.2 881.0,1280.2 882.0,1280.2 883.0,1280.2 884.0,1280.2 885.0,1280.2 886.0,1280.2 887.0,1280.2 888.0,1280.2 889.0,1280.2 890.0,1280.2 891.0,1280.2 892.0,1280.2 893.0,1280.2 894.0,1280.2 895.0,1280.2 896.0,1280.2 897.0,1280.2 898.0,1280.2 899.0,1280.2 900.0,1280.2 901.0,1280.2 902.0,1280.2 903.0,1280.2 904.0,1280.2 905.0,1280.2 906.0,1280.2 907.0,1280.2 908.0,1280.2 909.0,1280.2 910.0,1280.2 911.0,1280.2 912.0,1280.2 913.0,1280.2 914.0,1280.2 915.0,1280.2 916.0,1280.2 917.0,1280.2 918.0,1280.2 919.0,1280.2 920.0,1280.2 921.0,1280.2 922.0,1280.2 923.0,1280.2 924.0,1280.2 925.0,1280.2 926.0,1280.2 927.0,1280.2 928.0,1280.2 929.0,1280.2 930.0,1280.2 931.0,1280.2 932.0,1280.2 933.0,1280.2 934.0,1280.2 935.0,1280.2 936.0,1280.2 937.0,1280.2 938.0,1280.2 939.0,1280.2 940.0,1280.2 941.0,1280.2 942.0,1280.2 943.0,1280.2 944.0,1280.2 945.0,1280.2 946.0,1280.2 947.0,1280.2 948.0,1280.2 949.0,1280.2 950.0,1280.2 951.0,1280.2 952.0,1280.2 953.0,1280.2 954.0,1280.2 955.0,1280.2 956.0,1280.2 957.0,1280.2 958.0,1280.2 959.0,1280.2 960.0,1280.2 961.0,1280.2 962.0,1280.2 963.0,1280.2 964.0,1280.2 965.0,1280.2 966.0,1280.2 967.0,1280.2 968.0,1280.2 969.0,1280.2 970.0,1280.2 971.0,1280.2 972.0,1280.2 973.0,1280.2 974.0,1280.2 975.0,1280.2 976.0,1280.2 977.0,1280.2 978.0,1280.2 979.0,1280.2 980.0,1280.2 981.0,1280.2 982.0,1280.2 983.0,1280.2 984.0,1280.2 985.0,1280.2 986.0,1280.2 987.0,1280.2 988.0,1280.2 989.0,1280.2 990.0,1280.2 991.0,1280.2 992.0,1280.2 993.0,1280.2 994.0,1280.2 995.0,1280.2 996.0,1280.2 997.0,1280.2 998.0,1280.2 999.0,1280.2 1000.0,1280.2 1001.0,1280.2 1002.0,1280.2 1003.0,1280.2 1004.0,1280.2 1005.0,1280.2 1006.0,1280.2 1007.0,1280.2 1008.0,1280.2 1009.0,1280.2 1010.0,1280.2 1011.0,1280.2 1012.0,1280.2 1013.0,1280.2 1014.0,1280.2 1015.0,1280.2 1016.0,1280.2 1017.0,1280.2 1018.0,1280.2 1019.0,1280.2 1020.0,1280.2 1021.0,1280.2 1022.0,1280.2 1023.0,1280.2 1024.0,1280.2 1025.0,1280.2 1026.0,1280.2 1027.0,1280.2 1028.0,1280.2 1029.0,1280.2 1030.0,1280.2 1031.0,1280.2 1032.0,1280.2 1033.0,1280.2 1034.0,1280.2 1035.0,1280.2 1036.0,1280.2 1037.0,1280.2 1038.0,1280.2 1039.0,1280.2 1040.0,1280.2 1041.0,1280.2 1042.0,1280.2 1043.0,1280.2 1044.0,1280.2 1045.0,1280.2 1046.0,1280.2 1047.0,1280.2 1048.0,1280.2 1049.0,1280.2 1050.0,1280.2 1051.0,1280.2 1052.0,1280.2 1053.0,1280.2 1054.0,1280.2 1055.0,1280.2 1056.0,1280.2 1057.0,1280.2 1058.0,1280.2 1059.0,1280.2 1060.0,1280.2 1061.0,1280.2 1062.0,1280.2 1063.0,1280.2 1064.0,1280.2 1065.0,1280.2 1066.0,1280.2 1067.0,1280.2 1068.0,1280.2 1069.0,1280.2 1070.0,1280.2 1071.0,1280.2 1072.0,1280.2 1073.0,1280.2 1074.0,1280.2 1075.0,1280.2 1076.0,1280.2 1077.0,1280.2 1078.0,1280.2 1079.0,1280.2 1080.0,1280.2 1081.0,1280.2 1082.0,1280.2 1083.0,1280.2 1084.0,1280.2 1085.0,1280.2 1086.0,1280.2 1087.0,1280.2 1088.0,1280.2 1089.0,1280.2 1090.0,1280.2 1091.0,1280.2 1092.0,1280.2 1093.0,1280.2 1094.0,1280.2 1095.0,1280.2 1096.0,1280.2 1097.0,1280.2 1098.0,1280.2 1099.0,1280.2 1100.0,1280.2 1101.0,1280.2 1102.0,1280.2 1103.0,1280.2 1104.0,1280.2 1105.0,1280.2 1106.0,1273.9 1107.0,1264.0 1108.0,1254.1 1109.0,1244.2 1110.0,1234.3 1111.0,1224.4 1112.0,1214.5 1113.0,1204.7 1114.0,1194.8 1115.0,1185.0 1116.0,1175.1 1117.0,1165.3 1118.0,1155.5 1119.0,1145.8 1120.0,1136.0 1121.0,1126.3 1122.0,1116.6 1123.0,1107.0 1124.0,1097.4 1125.0,1087.9 1126.0,1078.4 1127.0,1069.1 1128.0,1059.9 1129.0,1050.8 1130.0,1042.0 1131.0,1033.5 1132.0,1025.4 1133.0,1018.0 1134.0,1011.4 1135.0,1006.1 1136.0,1002.6 1137.0,1001.4 1138.0,1002.6 1139.0,1006.1 1140.0,1011.4 1141.0,1018.0 1142.0,1025.4 1143.0,1033.5 1144.0,1042.0 1145.0,1050.8 1146.0,1059.9 1147.0,1069.1 1148.0,1078.4 1149.0,1087.9 1150.0,1097.4 1151.0,1107.0 1152.0,1116.6 1153.0,1126.3 1154.0,1136.0 1155.0,1145.8 1156.0,1155.5 1157.0,1165.3 1158.0,1175.1 1159.0,1185.0 1160.0,1194.8 1161.0,1204.7 1162.0,1214.5 1163.0,1224.4 1164.0,1234.3 1165.0,1244.2 1166.0,1254.1 1167.0,1264.0 1168.0,1273.9 1169.0,1280.2 1170.0,1280.2 1171.0,1280.2 1172.0,1280.2 1173.0,1280.2 1174.0,1280.2 1175.0,1280.2 1176.0,1280.2 1177.0,1280.2 1178.0,1280.2 1179.0,1280.2 1180.0,1280.2 1181.0,1280.2 1182.0,1280.2 1183.0,1280.2 1184.0,1280.2 1185.0,1280.2 1186.0,1280.2 1187.0,1280.2 1188.0,1280.2 1189.0,1280.2 1190.0,1280.2 1191.0,1280.2 1192.0,1280.2 1193.0,1280.2 1194.0,1280.2 1195.0,1280.2 1196.0,1280.2 1197.0,1280.2 1198.0,1280.2 1199.0,1280.2 1200.0,1280.2 1201.0,1280.2 1202.0,1280.2 1203.0,1280.2 1204.0,1280.2 1205.0,1280.2 1206.0,1280.2 1207.0,1280.2 1208.0,1280.2 1209.0,1280.2 1210.0,1280.2 1211.0,1280.2 1212.0,1280.2 1213.0,1280.2 1214.0,1280.2 1215.0,1280.2 1216.0,1280.2 1217.0,1280.2 1218.0,1280.2 1219.0,1280.2 1220.0,1280.2 1221.0,1280.2 1222.0,1280.2 1223.0,1280.2 1224.0,1280.2 1225.0,1280.2 1226.0,1280.2 1227.0,1280.2 1228.0,1280.2 1229.0,1280.2 1230.0,1280.2 1231.0,1280.2 1232.0,1280.2 1233.0,1280.2 1234.0,1280.2 1235.0,1280.2 1236.0,1280.2 1237.0,1280.2 1238.0,1280.2 1239.0,1280.2 1240.0,1280.2 1241.0,1280.2 1242.0,1280.2 1243.0,1280.2 1244.0,1280.2 1245.0,1280.2 1246.0,1280.2 1247.0,1280.2 1248.0,1280.2 1249.0,1280.2 1250.0,1280.2 1251.0,1280.2 1252.0,1280.2 1253.0,1280.2 1254.0,1280.2 1255.0,1280.2 1256.0,1280.2 1257.0,1280.2 1258.0,1280.2 1259.0,1280.2 1260.0,1280.2 1261.0,1280.2 1262.0,1280.2 1263.0,1280.2 1264.0,1280.2 1265.0,1280.2 1266.0,1280.2 1267.0,1280.2 1268.0,1280.2 1269.0,1280.2 1270.0,1280.2 1271.0,1280.2 1272.0,1280.2 1273.0,1280.2 1274.0,1280.2 1275.0,1280.2 1276.0,1280.2 1277.0,1280.2 1278.0,1280.2 1279.0,1280.2 1280.0,1280.2 1281.0,1280.2 1282.0,1280.2 1283.0,1280.2 1284.0,1280.2 1285.0,1280.2 1286.0,1280.2 1287.0,1280.2 1288.0,1280.2 1289.0,1280.2 1290.0,1280.2 1291.0,1280.2 1292.0,1280.2 1293.0,1280.2 1294.0,1280.2 1295.0,1280.2 1296.0,1280.2 1297.0,1279.7 1298.0,1272.4 1299.0,1265.0 1300.0,1257.6 1301.0,1250.3 1302.0,1242.9 1303.0,1235.6 1304.0,1228.2 1305.0,1220.9 1306.0,1213.6 1307.0,1206.3 1308.0,1199.0 1309.0,1191.7 1310.0,1184.5 1311.0,1177.2 1312.0,1170.0 1313.0,1162.9 1314.0,1155.7 1315.0,1148.7 1316.0,1141.7 1317.0,1134.7 1318.0,1127.9 1319.0,1121.2 1320.0,1114.7 1321.0,1108.5 1322.0,1102.6 1323.0,1097.2 1324.0,1092.5 1325.0,1089.0 1326.0,1086.9 1327.0,1086.5 1328.0,1087.9 1329.0,1091.0 1330.0,1095.2 1331.0,1100.3 1332.0,1106.1 1333.0,1112.2 1334.0,1118.6 1335.0,1125.2 1336.0,1132.0 1337.0,1138.9 1338.0,1145.9 1339.0,1152.9 1340.0,1160.0 1341.0,1167.2 1342.0,1174.4 1343.0,1181.6 1344.0,1188.8 1345.0,1196.1 1346.0,1203.4 1347.0,1210.7 1348.0,1218.0 1349.0,1225.3 1350.0,1232.6 1351.0,1240.0 1352.0,1247.3 1353.0,1254.7 1354.0,1262.0 1355.0,1269.4 1356.0,1276.8 1357.0,1280.2 1358.0,1280.2 1359.0,1280.2 1360.0,1280.2 1361.0,1280.2 1362.0,1280.2 1363.0,1280.2 1364.0,1280.2 1365.0,1280.2 1366.0,1280.2 1367.0,1280.2 1368.0,1280.2 1369.0,1280.2 1370.0,1280.2 1371.0,1280.2 1372.0,1280.2 1373.0,1280.2 1374.0,1280.2 1375.0,1280.2 1376.0,1280.2 1377.0,1280.2 1378.0,1280.2 1379.0,1280.2 1380.0,1280.2 1381.0,1280.2 1382.0,1280.2 1383.0,1280.2 1384.0,1280.2 1385.0,1280.2 1386.0,1280.2 1387.0,1280.2 1388.0,1280.2 1389.0,1280.2 1390.0,1280.2 1391.0,1280.2 1392.0,1280.2 1393.0,1280.2 1394.0,1280.2 1395.0,1280.2 1396.0,1280.2 1397.0,1280.2 1398.0,1280.2 1399.0,1280.2 1400.0,1280.2 1401.0,1280.2 1402.0,1280.2 1403.0,1280.2 1404.0,1280.2 1405.0,1280.2 1406.0,1280.2 1407.0,1280.2 1408.0,1280.2 1409.0,1280.2 1410.0,1280.2 1411.0,1280.2 1412.0,1280.2 1413.0,1280.2 1414.0,1280.2 1415.0,1280.2 1416.0,1280.2 1417.0,1280.2 1418.0,1280.2 1419.0,1280.2 1420.0,1280.2 1421.0,1280.2 1422.0,1280.2 1423.0,1280.2 1424.0,1280.2 1425.0,1280.2 1426.0,1280.2 1427.0,1280.2 1428.0,1280.2 1429.0,1280.2 1430.0,1280.2 1431.0,1280.2 1432.0,1280.2 1433.0,1280.2 1434.0,1280.2 1435.0,1280.2 1436.0,1280.2 1437.0,1280.2 1438.0,1280.2 1439.0,1280.2 1440.0,1280.2 1441.0,1280.2 1442.0,1280.2 1443.0,1280.2 1444.0,1280.2 1445.0,1280.2 1446.0,1280.2 1447.0,1280.2 1448.0,1280.2 1449.0,1280.2 1450.0,1280.2 1451.0,1280.2 1452.0,1280.2 1453.0,1280.2 1454.0,1280.2 1455.0,1280.2 1456.0,1280.2 1457.0,1280.2 1458.0,1280.2 1459.0,1280.2 1460.0,1280.2 1461.0,1280.2 1462.0,1280.2 1463.0,1280.2 1464.0,1280.2 1465.0,1280.2 1466.0,1280.2 1467.0,1280.2 1468.0,1280.2 1469.0,1280.2 1470.0,1280.2 1471.0,1280.2 1472.0,1280.2 1473.0,1280.2 1474.0,1280.2 1475.0,1280.2 1476.0,1280.2 1477.0,1280.2 1478.0,1280.2 1479.0,1280.2 1480.0,1280.2 1481.0,1280.2 1482.0,1280.2 1483.0,1280.2 1484.0,1280.2 1485.0,1280.2 1486.0,1280.2 1487.0,1280.2 1488.0,1280.2 1489.0,1280.2 1490.0,1280.2 1491.0,1280.2 1492.0,1280.2 1493.0,1280.2 1494.0,1280.2 1495.0,1280.2 1496.0,1280.2 1497.0,1280.2 1498.0,1280.2 1499.0,1280.2 1500.0,1280.2 1501.0,1280.2 1502.0,1280.2 1503.0,1280.2 1504.0,1280.2 1505.0,1280.2 1506.0,1280.2 1507.0,1280.2 1508.0,1280.2 1509.0,1280.2 1510.0,1280.2 1511.0,1280.2 1512.0,1280.2 1513.0,1280.2 1514.0,1280.2 1515.0,1280.2 1516.0,1280.2 1517.0,1280.2 1518.0,1280.2 1519.0,1280.2 1520.0,1280.2 1521.0,1270.0 1522.0,1259.3 1523.0,1248.6 1524.0,1237.9 1525.0,1227.2 1526.0,1216.6 1527.0,1205.9 1528.0,1195.3 1529.0,1184.7 1530.0,1174.1 1531.0,1163.5 1532.0,1152.9 1533.0,1142.3 1534.0,1131.8 1535.0,1121.3 1536.0,1110.8 1537.0,1100.3 1538.0,1089.9 1539.0,1079.6 1540.0,1069.3 1541.0,1059.1 1542.0,1049.0 1543.0,1039.0 1544.0,1029.2 1545.0,1019.6 1546.0,1010.3 1547.0,1001.5 1548.0,993.2 1549.0,985.8 1550.0,979.6 1551.0,975.2 1552.0,973.1 1553.0,973.7 1554.0,976.7 1555.0,981.9 1556.0,988.6 1557.0,996.4 1558.0,1004.9 1559.0,1014.0 1560.0,1023.4 1561.0,1033.1 1562.0,1043.0 1563.0,1053.0 1564.0,1063.1 1565.0,1073.4 1566.0,1083.7 1567.0,1094.1 1568.0,1104.5 1569.0,1115.0 1570.0,1125.5 1571.0,1136.0 1572.0,1146.5 1573.0,1157.1 1574.0,1167.7 1575.0,1178.3 1576.0,1188.9 1577.0,1199.5 1578.0,1210.2 1579.0,1220.8 1580.0,1231.5 1581.0,1242.2 1582.0,1252.9 1583.0,1263.5 1584.0,1274.2 1585.0,1280.2 1586.0,1280.2 1587.0,1280.2 1588.0,1280.2 1589.0,1280.2 1590.0,1280.2 1591.0,1280.2 1592.0,1280.2 1593.0,1280.2 1594.0,1280.2 1595.0,1280.2 1596.0,1280.2 1597.0,1280.2 1598.0,1280.2 1599.0,1280.2 1600.0,1280.2 1601.0,1280.2 1602.0,1280.2 1603.0,1280.2 1604.0,1280.2 1605.0,1280.2 1606.0,1280.2 1607.0,1280.2 1608.0,1280.2 1609.0,1280.2 1610.0,1280.2 1611.0,1280.2 1612.0,1280.2 1613.0,1280.2 1614.0,1280.2 1615.0,1280.2 1616.0,1280.2 1617.0,1280.2 1618.0,1280.2 1619.0,1280.2 1620.0,1280.2 1621.0,1280.2 1622.0,1280.2 1623.0,1280.2 1624.0,1280.2 1625.0,1280.2 1626.0,1280.2 1627.0,1280.2 1628.0,1280.2 1629.0,1280.2 1630.0,1280.2 1631.0,1280.2 1632.0,1280.2 1633.0,1280.2 1634.0,1280.2 1635.0,1280.2 1636.0,1280.2 1637.0,1280.2 1638.0,1280.2 1639.0,1280.2 1640.0,1280.2 1641.0,1280.2 1642.0,1280.2 1643.0,1280.2 1644.0,1280.2 1645.0,1280.2 1646.0,1280.2 1647.0,1280.2 1648.0,1275.4 1649.0,1268.6 1650.0,1261.8 1651.0,1254.9 1652.0,1248.1 1653.0,1241.3 1654.0,1234.5 1655.0,1227.7 1656.0,1220.9 1657.0,1214.2 1658.0,1207.4 1659.0,1200.7 1660.0,1193.9 1661.0,1187.2 1662.0,1180.6 1663.0,1173.9 1664.0,1167.3 1665.0,1160.7 1666.0,1154.2 1667.0,1147.8 1668.0,1141.5 1669.0,1135.3 1670.0,1129.3 1671.0,1123.5 1672.0,1118.0 1673.0,1113.0 1674.0,1108.7 1675.0,1105.4 1676.0,1103.4 1677.0,1103.1 1678.0,1104.4 1679.0,1107.2 1680.0,1111.2 1681.0,1115.9 1682.0,1121.2 1683.0,1126.9 1684.0,1132.8 1685.0,1139.0 1686.0,1145.3 1687.0,1151.7 1688.0,1158.1 1689.0,1164.7 1690.0,1171.3 1691.0,1177.9 1692.0,1184.6 1693.0,1191.2 1694.0,1198.0 1695.0,1204.7 1696.0,1211.5 1697.0,1218.2 1698.0,1225.0 1699.0,1231.8 1700.0,1238.6 1701.0,1245.4 1702.0,1252.2 1703.0,1259.0 1704.0,1265.9 1705.0,1272.7 1706.0,1279.5 1707.0,1280.2 1708.0,1280.2 1709.0,1280.2 1710.0,1280.2 1711.0,1280.2 1712.0,1280.2 1713.0,1280.2 1714.0,1280.2 1715.0,1280.2 1716.0,1280.2 1717.0,1280.2 1718.0,1280.2 1719.0,1280.2 1720.0,1280.2 1721.0,1280.2 1722.0,1280.2 1723.0,1280.2 1724.0,1280.2 1725.0,1280.2 1726.0,1280.2 1727.0,1280.2 1728.0,1280.2 1729.0,1280.2 1730.0,1280.2 1731.0,1280.2 1732.0,1280.2 1733.0,1280.2 1734.0,1280.2 1735.0,1280.2 1736.0,1280.2 1737.0,1280.2 1738.0,1280.2 1739.0,1280.2 1740.0,1280.2 1741.0,1280.2 1742.0,1280.2 1743.0,1280.2 1744.0,1280.2 1745.0,1280.2 1746.0,1280.2 1747.0,1280.2 1748.0,1280.2 1749.0,1280.2 1750.0,1280.2 1751.0,1280.2 1752.0,1280.2 1753.0,1280.2 1754.0,1280.2 1755.0,1280.2 1756.0,1280.2 1757.0,1280.2 1758.0,1280.2 1759.0,1280.2 1760.0,1280.2 1761.0,1280.2 1762.0,1280.2 1763.0,1280.2 1764.0,1280.2 1765.0,1280.2 1766.0,1280.2 1767.0,1280.2 1768.0,1280.2 1769.0,1280.2 1770.0,1280.2 1771.0,1280.2 1772.0,1280.2 1773.0,1280.2 1774.0,1278.3 1775.0,1270.2 1776.0,1262.1 1777.0,1254.1 1778.0,1246.1 1779.0,1238.0 1780.0,1230.0 1781.0,1222.0 1782.0,1214.0 1783.0,1206.0 1784.0,1198.0 1785.0,1190.0 1786.0,1182.1 1787.0,1174.2 1788.0,1166.3 1789.0,1158.4 1790.0,1150.6 1791.0,1142.8 1792.0,1135.0 1793.0,1127.3 1794.0,1119.7 1795.0,1112.3 1796.0,1104.9 1797.0,1097.7 1798.0,1090.8 1799.0,1084.2 1800.0,1078.2 1801.0,1072.8 1802.0,1068.5 1803.0,1065.7 1804.0,1064.7 1805.0,1065.9 1806.0,1069.2 1807.0,1074.3 1808.0,1080.5 1809.0,1087.7 1810.0,1095.4 1811.0,1103.5 1812.0,1111.9 1813.0,1120.6 1814.0,1129.4 1815.0,1138.3 1816.0,1147.3 1817.0,1156.4 1818.0,1165.6 1819.0,1174.8 1820.0,1184.0 1821.0,1193.3 1822.0,1202.6 1823.0,1211.9 1824.0,1221.3 1825.0,1230.7 1826.0,1240.0 1827.0,1249.4 1828.0,1258.9 1829.0,1268.3 1830.0,1277.7 1831.0,1272.0 1832.0,1261.0 1833.0,1249.9 1834.0,1238.9 1835.0,1227.9 1836.0,1216.8 1837.0,1205.8 1838.0,1194.8 1839.0,1183.8 1840.0,1172.9 1841.0,1161.9 1842.0,1151.0 1843.0,1140.0 1844.0,1129.2 1845.0,1118.3 1846.0,1107.5 1847.0,1096.7 1848.0,1085.9 1849.0,1075.3 1850.0,1064.7 1851.0,1054.2 1852.0,1043.8 1853.0,1033.6 1854.0,1023.6 1855.0,1013.8 1856.0,1004.4 1857.0,995.6 1858.0,987.6 1859.0,980.6 1860.0,975.3 1861.0,972.1 1862.0,971.5 1863.0,973.6 1864.0,978.0 1865.0,984.2 1866.0,991.7 1867.0,1000.0 1868.0,1008.9 1869.0,1018.2 1870.0,1027.8 1871.0,1037.7 1872.0,1047.7 1873.0,1057.8 1874.0,1068.1 1875.0,1078.4 1876.0,1088.8 1877.0,1099.2 1878.0,1109.7 1879.0,1120.2 1880.0,1130.8 1881.0,1141.4 1882.0,1152.0 1883.0,1162.6 1884.0,1173.3 1885.0,1183.9 1886.0,1194.6 1887.0,1205.3 1888.0,1216.0 1889.0,1226.7 1890.0,1237.4 1891.0,1248.1 1892.0,1258.8 1893.0,1269.5 1894.0,1280.2 1895.0,1280.2 1896.0,1280.2 1897.0,1280.2 1898.0,1278.3 1899.0,1272.7 1900.0,1267.0 1901.0,1261.4 1902.0,1255.8 1903.0,1250.1 1904.0,1244.5 1905.0,1238.9 1906.0,1233.3 1907.0,1227.7 1908.0,1222.1 1909.0,1216.5 1910.0,1211.0 1911.0,1205.5 1912.0,1199.9 1913.0,1194.5 1914.0,1189.0 1915.0,1183.6 1916.0,1178.2 1917.0,1173.0 1918.0,1167.8 1919.0,1162.7 1920.0,1157.8 1921.0,1153.1 1922.0,1148.7 1923.0,1144.8 1924.0,1141.5 1925.0,1139.2 1926.0,1138.1 1927.0,1138.3 1928.0,1140.0 1929.0,1142.7 1930.0,1146.3 1931.0,1150.4 1932.0,1154.9 1933.0,1159.7 1934.0,1164.7 1935.0,1169.8 1936.0,1175.1 1937.0,1180.4 1938.0,1185.8 1939.0,1191.2 1940.0,1196.6 1941.0,1202.1 1942.0,1207.7 1943.0,1213.2 1944.0,1218.8 1945.0,1224.3 1946.0,1229.9 1947.0,1235.5 1948.0,1241.1 1949.0,1246.8 1950.0,1252.4 1951.0,1258.0 1952.0,1263.7 1953.0,1269.3 1954.0,1275.0 1955.0,1280.2 1956.0,1280.2 1957.0,1280.2 1958.0,1280.2 1959.0,1280.2 1960.0,1280.2 1961.0,1280.2 1962.0,1280.2 1963.0,1280.2 1964.0,1280.2 1965.0,1280.2 1966.0,1280.2 1967.0,1280.2 1968.0,1280.2 1969.0,1280.2 1970.0,1280.2 1971.0,1280.2 1972.0,1280.2 1973.0,1280.2 1974.0,1280.2 1975.0,1280.2 1976.0,1280.2 1977.0,1280.2 1978.0,1280.2 1979.0,1280.2 1980.0,1280.2 1981.0,1280.2 1982.0,1280.2 1983.0,1280.2 1984.0,1280.2 1985.0,1280.2 1986.0,1280.2 1987.0,1280.2 1988.0,1280.2 1989.0,1280.2 1990.0,1280.2 1991.0,1280.2 1992.0,1280.2 1993.0,1280.2 1994.0,1280.2 1995.0,1280.2 1996.0,1280.2 1997.0,1280.2 1998.0,1280.2 1999.0,1280.2 2000.0,1280.2 2001.0,1280.2 2002.0,1280.2 2003.0,1280.2 2004.0,1280.2 2005.0,1280.2 2006.0,1280.2 2007.0,1280.2 2008.0,1280.2 2009.0,1280.2 2010.0,1280.2 2011.0,1280.2 2012.0,1280.2 2013.0,1280.2 2014.0,1280.2 2015.0,1280.2 2016.0,1280.2 2017.0,1280.2 2018.0,1280.2 2019.0,1280.2 2020.0,1280.2 2021.0,1280.2 2022.0,1280.2 2023.0,1280.2 2024.0,1280.2 2025.0,1280.2 2026.0,1280.2 2027.0,1280.2 2028.0,1280.2 2029.0,1280.2 2030.0,1280.2 2031.0,1280.2 2032.0,1280.2 2033.0,1280.2 2034.0,1280.2 2035.0,1280.2 2036.0,1280.2 2037.0,1280.2 2038.0,1280.2 2039.0,1280.2 2040.0,1280.2 2041.0,1280.2 2042.0,1280.2 2043.0,1280.2 2044.0,1280.2 2045.0,1280.2 2046.0,1280.2 2047.0,1280.2 2048.0,1280.2 2049.0,1280.2 2050.0,1280.2 2051.0,1280.2 2052.0,1280.2 2053.0,1280.2 2054.0,1280.2 2055.0,1280.2 2056.0,1280.2 2057.0,1280.2 2058.0,1280.2 2059.0,1280.2 2060.0,1280.2 2061.0,1280.2 2062.0,1280.2 2063.0,1280.2 2064.0,1280.2 2065.0,1280.2 2066.0,1280.2 2067.0,1280.2 2068.0,1280.2 2069.0,1280.2 2070.0,1280.2 2071.0,1280.2 2072.0,1280.2 2073.0,1280.2 2074.0,1280.2 2075.0,1280.2 2076.0,1280.2 2077.0,1280.2 2078.0,1280.2 2079.0,1278.8 2080.0,1273.3 2081.0,1267.7 2082.0,1262.2 2083.0,1256.7 2084.0,1251.2 2085.0,1245.7 2086.0,1240.2 2087.0,1234.7 2088.0,1229.2 2089.0,1223.7 2090.0,1218.3 2091.0,1212.9 2092.0,1207.4 2093.0,1202.0 2094.0,1196.7 2095.0,1191.3 2096.0,1186.0 2097.0,1180.8 2098.0,1175.6 2099.0,1170.5 2100.0,1165.6 2101.0,1160.8 2102.0,1156.2 2103.0,1151.9 2104.0,1148.0 2105.0,1144.8 2106.0,1142.6 2107.0,1141.5 2108.0,1141.7 2109.0,1143.3 2110.0,1146.0 2111.0,1149.5 2112.0,1153.5 2113.0,1158.0 2114.0,1162.7 2115.0,1167.5 2116.0,1172.6 2117.0,1177.7 2118.0,1182.9 2119.0,1188.2 2120.0,1193.5 2121.0,1198.8 2122.0,1204.2 2123.0,1209.6 2124.0,1215.0 2125.0,1220.5 2126.0,1225.9 2127.0,1231.4 2128.0,1236.9 2129.0,1242.4 2130.0,1247.9 2131.0,1253.4 2132.0,1258.9 2133.0,1264.4 2134.0,1269.9 2135.0,1275.5 2136.0,1280.2 2137.0,1280.2 2138.0,1280.2 2139.0,1280.2 2140.0,1280.2 2141.0,1280.2 2142.0,1280.2 2143.0,1280.2 2144.0,1280.2 2145.0,1280.2 2146.0,1280.2 2147.0,1280.2 2148.0,1280.2 2149.0,1280.2 2150.0,1280.2 2151.0,1280.2 2152.0,1280.2 2153.0,1280.2 2154.0,1280.2 2155.0,1280.2 2156.0,1280.2 2157.0,1280.2 2158.0,1280.2 2159.0,1280.2 2160.0,1280.2 2161.0,1280.2 2162.0,1280.2 2163.0,1280.2 2164.0,1280.2 2165.0,1280.2 2166.0,1280.2 2167.0,1280.2 2168.0,1280.2 2169.0,1280.2 2170.0,1280.2 2171.0,1280.2 2172.0,1280.2 2173.0,1280.2 2174.0,1280.2 2175.0,1280.2 2176.0,1280.2 2177.0,1280.2 2178.0,1280.2 2179.0,1280.2 2180.0,1280.2 2181.0,1280.2 2182.0,1280.2 2183.0,1280.2 2184.0,1280.2 2185.0,1280.2 2186.0,1280.2 2187.0,1280.2 2188.0,1280.2 2189.0,1280.2 2190.0,1280.2 2191.0,1280.2 2192.0,1280.2 2193.0,1280.2 2194.0,1280.2 2195.0,1280.2 2196.0,1280.2 2197.0,1280.2 2198.0,1280.2 2199.0,1280.2 2200.0,1280.2 2201.0,1280.2 2202.0,1280.2 2203.0,1280.2 2204.0,1280.2 2205.0,1280.2 2206.0,1280.2 2207.0,1280.2 2208.0,1280.2 2209.0,1280.2 2210.0,1280.2 2211.0,1280.2 2212.0,1280.2 2213.0,1280.2 2214.0,1280.2 2215.0,1280.2 2216.0,1280.2 2217.0,1280.2 2218.0,1280.2 2219.0,1280.2 2220.0,1280.2 2221.0,1280.2 2222.0,1280.2 2223.0,1280.2 2224.0,1280.2 2225.0,1280.2 2226.0,1280.2 2227.0,1280.2 2228.0,1280.2 2229.0,1280.2 2230.0,1280.2 2231.0,1280.2 2232.0,1280.2 2233.0,1280.2 2234.0,1280.2 2235.0,1280.2 2236.0,1280.2 2237.0,1280.2 2238.0,1280.2 2239.0,1280.2 2240.0,1280.2 2241.0,1280.2 2242.0,1280.2 2243.0,1280.2 2244.0,1280.2 2245.0,1280.2 2246.0,1280.2 2247.0,1280.2 2248.0,1280.2 2249.0,1280.2 2250.0,1280.2 2251.0,1280.2 2252.0,1280.2 2253.0,1280.2 2254.0,1280.2 2255.0,1280.2 2256.0,1280.2 2257.0,1280.2 2258.0,1280.2 2259.0,1280.2 2260.0,1280.2 2261.0,1280.2 2262.0,1280.2 2263.0,1280.2 2264.0,1280.2 2265.0,1280.2 2266.0,1280.2 2267.0,1280.2 2268.0,1280.2 2269.0,1280.2 2270.0,1280.2 2271.0,1280.2 2272.0,1280.2 2273.0,1280.2 2274.0,1280.2 2275.0,1280.2 2276.0,1280.2 2277.0,1280.2 2278.0,1280.2 2279.0,1280.2 2280.0,1280.2 2281.0,1280.2 2282.0,1280.2 2283.0,1280.2 2284.0,1280.2 2285.0,1280.2 2286.0,1280.2 2287.0,1280.2 2288.0,1280.2 2289.0,1280.2 2290.0,1280.2 2291.0,1280.2 2292.0,1280.2 2293.0,1280.2 2294.0,1280.2 2295.0,1280.2 2296.0,1280.2 2297.0,1280.2 2298.0,1280.2 2299.0,1280.2 2300.0,1280.2 2301.0,1280.2 2302.0,1280.2 2303.0,1280.2 2304.0,1280.2 2305.0,1280.2 2306.0,1280.2 2307.0,1280.2 2308.0,1280.2 2309.0,1280.2 2310.0,1280.2 2311.0,1280.2 2312.0,1280.2 2313.0,1280.2 2314.0,1280.2 2315.0,1280.2 2316.0,1280.2 2317.0,1280.2 2318.0,1280.2 2319.0,1280.2 2320.0,1280.2 2321.0,1280.2 2322.0,1280.2 2323.0,1280.2 2324.0,1280.2 2325.0,1280.2 2326.0,1280.2 2327.0,1280.2 2328.0,1280.2 2329.0,1280.2 2330.0,1280.2 2331.0,1280.2 2332.0,1280.2 2333.0,1280.2 2334.0,1280.2 2335.0,1280.2 2336.0,1280.2 2337.0,1280.2 2338.0,1280.2 2339.0,1280.2 2340.0,1280.2 2341.0,1280.2 2342.0,1280.2 2343.0,1280.2 2344.0,1280.2 2345.0,1280.2 2346.0,1280.2 2347.0,1280.2 2348.0,1280.2 2349.0,1280.2 2350.0,1280.2 2351.0,1280.2 2352.0,1280.2 2353.0,1280.2 2354.0,1280.2 2355.0,1280.2 2356.0,1280.2 2357.0,1280.2 2358.0,1280.2 2359.0,1280.2 2360.0,1280.2 2361.0,1280.2 2362.0,1280.2 2363.0,1280.2 2364.0,1280.2 2365.0,1280.2 2366.0,1280.2 2367.0,1280.2 2368.0,1280.2 2369.0,1280.2 2370.0,1280.2 2371.0,1280.2 2372.0,1280.2 2373.0,1280.2 2374.0,1280.2 2375.0,1280.2 2376.0,1280.2 2377.0,1280.2 2378.0,1280.2 2379.0,1280.2 2380.0,1280.2 2381.0,1280.2 2382.0,1280.2 2383.0,1280.2 2384.0,1280.2 2385.0,1280.2 2386.0,1280.2 2387.0,1280.2 2388.0,1280.2 2389.0,1280.2 2390.0,1280.2 2391.0,1280.2 2392.0,1280.2 2393.0,1280.2 2394.0,1280.2 2395.0,1280.2 2396.0,1280.2 2397.0,1280.2 2398.0,1280.2 2399.0,1280.2 2400.0,1280.2 2401.0,1280.2 2402.0,1280.2 2403.0,1280.2 2404.0,1280.2 2405.0,1280.2 2406.0,1280.2 2407.0,1280.2 2408.0,1280.2 2409.0,1280.2 2410.0,1280.2 2411.0,1280.2 2412.0,1280.2 2413.0,1280.2 2414.0,1280.2 2415.0,1280.2 2416.0,1280.2 2417.0,1277.1 2418.0,1271.6 2419.0,1266.1 2420.0,1260.6 2421.0,1255.0 2422.0,1249.5 2423.0,1244.0 2424.0,1238.5 2425.0,1233.0 2426.0,1227.6 2427.0,1222.1 2428.0,1216.7 2429.0,1211.2 2430.0,1205.8 2431.0,1200.4 2432.0,1195.1 2433.0,1189.7 2434.0,1184.5 2435.0,1179.2 2436.0,1174.1 2437.0,1169.0 2438.0,1164.1 2439.0,1159.3 2440.0,1154.8 2441.0,1150.7 2442.0,1147.0 2443.0,1144.0 2444.0,1142.1 2445.0,1141.4 2446.0,1142.1 2447.0,1144.0 2448.0,1147.0 2449.0,1150.7 2450.0,1154.8 2451.0,1159.3 2452.0,1164.1 2453.0,1169.0 2454.0,1174.1 2455.0,1179.2 2456.0,1184.5 2457.0,1189.7 2458.0,1195.1 2459.0,1200.4 2460.0,1205.8 2461.0,1211.2 2462.0,1216.7 2463.0,1222.1 2464.0,1227.6 2465.0,1233.0 2466.0,1238.5 2467.0,1244.0 2468.0,1249.5 2469.0,1255.0 2470.0,1260.6 2471.0,1266.1 2472.0,1271.6 2473.0,1277.1 2474.0,1280.2 2475.0,1280.2 2476.0,1280.2 2477.0,1280.2 2478.0,1280.2 2479.0,1280.2 2480.0,1280.2 2481.0,1280.2 2482.0,1280.2 2483.0,1280.2 2484.0,1280.2 2485.0,1280.2 2486.0,1280.2 2487.0,1280.2 2488.0,1280.2 2489.0,1280.2 2490.0,1280.2 2491.0,1280.2 2492.0,1280.2 2493.0,1280.2 2494.0,1280.2 2495.0,1280.2 2496.0,1280.2 2497.0,1280.2 2498.0,1280.2 2499.0,1280.2 2500.0,1280.2 2501.0,1280.2 2502.0,1280.2 2503.0,1280.2 2504.0,1280.2 2505.0,1280.2 2506.0,1280.2 2507.0,1280.2 2508.0,1280.2 2509.0,1280.2 2510.0,1280.2 2511.0,1280.2 2512.0,1280.2 2513.0,1280.2 2514.0,1280.2 2515.0,1280.2 2516.0,1280.2 2517.0,1280.2 2518.0,1280.2 2519.0,1280.2 2520.0,1280.2 2521.0,1280.2 2522.0,1280.2 2523.0,1280.2 2524.0,1280.2 2525.0,1280.2 2526.0,1280.2 2527.0,1280.2 2528.0,1280.2 2529.0,1280.2 2530.0,1280.2 2531.0,1280.2 2532.0,1280.2 2533.0,1280.2 2534.0,1276.3 2535.0,1268.0 2536.0,1259.6 2537.0,1251.3 2538.0,1242.9 2539.0,1234.6 2540.0,1226.3 2541.0,1217.9 2542.0,1209.6 2543.0,1201.3 2544.0,1193.1 2545.0,1184.8 2546.0,1176.5 2547.0,1168.3 2548.0,1160.1 2549.0,1151.9 2550.0,1143.8 2551.0,1135.7 2552.0,1127.7 2553.0,1119.7 2554.0,1111.8 2555.0,1104.1 2556.0,1096.4 2557.0,1089.0 2558.0,1081.8 2559.0,1075.0 2560.0,1068.7 2561.0,1063.1 2562.0,1058.7 2563.0,1055.7 2564.0,1054.7 2565.0,1055.7 2566.0,1058.7 2567.0,1063.1 2568.0,1068.7 2569.0,1075.0 2570.0,1081.8 2571.0,1089.0 2572.0,1096.4 2573.0,1104.1 2574.0,1111.8 2575.0,1119.7 2576.0,1127.7 2577.0,1135.7 2578.0,1143.8 2579.0,1151.9 2580.0,1160.1 2581.0,1168.3 2582.0,1176.5 2583.0,1184.8 2584.0,1193.1 2585.0,1201.3 2586.0,1209.6 2587.0,1217.9 2588.0,1226.3 2589.0,1234.6 2590.0,1242.9 2591.0,1251.3 2592.0,1259.6 2593.0,1268.0 2594.0,1276.3 2595.0,1280.2 2596.0,1280.2 2597.0,1280.2 2598.0,1280.2 2599.0,1280.2 2600.0,1280.2 2601.0,1280.2 2602.0,1280.2 2603.0,1280.2 2604.0,1280.2 2605.0,1280.2 2606.0,1280.2 2607.0,1280.2 2608.0,1280.2 2609.0,1280.2 2610.0,1280.2 2611.0,1280.2 2612.0,1280.2 2613.0,1280.2 2614.0,1280.2 2615.0,1280.2 2616.0,1280.2 2617.0,1280.2 2618.0,1280.2 2619.0,1280.2 2620.0,1280.2 2621.0,1280.2 2622.0,1280.2 2623.0,1280.2 2624.0,1280.2 2625.0,1280.2 2626.0,1280.2 2627.0,1280.2 2628.0,1280.2 2629.0,1280.2 2630.0,1280.2 2631.0,1280.2 2632.0,1280.2 2633.0,1280.2 2634.0,1280.2 2635.0,1280.2 2636.0,1280.2 2637.0,1280.2 2638.0,1280.2 2639.0,1280.2 2640.0,1280.2 2641.0,1280.2 2642.0,1280.2 2643.0,1280.2 2644.0,1280.2 2645.0,1280.2 2646.0,1280.2 2647.0,1280.2 2648.0,1280.2 2649.0,1280.2 2650.0,1280.2 2651.0,1280.2 2652.0,1280.2 2653.0,1280.2 2654.0,1280.2 2655.0,1280.2 2656.0,1280.2 2657.0,1280.2 2658.0,1280.2 2659.0,1280.2 2660.0,1280.2 2661.0,1280.2 2662.0,1280.2 2663.0,1280.2 2664.0,1280.2 2665.0,1280.2 2666.0,1280.2 2667.0,1280.2 2668.0,1280.2 2669.0,1280.2 2670.0,1280.2 2671.0,1280.2 2672.0,1280.2 2673.0,1280.2 2674.0,1280.2 2675.0,1280.2 2676.0,1280.2 2677.0,1280.2 2678.0,1280.2 2679.0,1280.2 2680.0,1280.2 2681.0,1280.2 2682.0,1280.2 2683.0,1280.2 2684.0,1280.2 2685.0,1280.2 2686.0,1280.2 2687.0,1280.2 2688.0,1280.2 2689.0,1280.2 2690.0,1280.2 2691.0,1280.2 2692.0,1280.2 2693.0,1280.2 2694.0,1280.2 2695.0,1280.2 2696.0,1280.2 2697.0,1280.2 2698.0,1280.2 2699.0,1280.2 2700.0,1280.2 2701.0,1280.2 2702.0,1280.2 2703.0,1280.2 2704.0,1280.2 2705.0,1280.2 2706.0,1280.2 2707.0,1280.2 2708.0,1280.2 2709.0,1280.2 2710.0,1280.2 2711.0,1280.2 2712.0,1280.2 2713.0,1280.2 2714.0,1280.2 2715.0,1280.2 2716.0,1280.2 2717.0,1280.2 2718.0,1273.5 2719.0,1266.6 2720.0,1259.7 2721.0,1252.8 2722.0,1245.9 2723.0,1239.0 2724.0,1232.1 2725.0,1225.2 2726.0,1218.3 2727.0,1211.5 2728.0,1204.6 2729.0,1197.8 2730.0,1191.0 2731.0,1184.2 2732.0,1177.4 2733.0,1170.7 2734.0,1164.0 2735.0,1157.4 2736.0,1150.8 2737.0,1144.3 2738.0,1137.9 2739.0,1131.7 2740.0,1125.6 2741.0,1119.8 2742.0,1114.3 2743.0,1109.4 2744.0,1105.2 2745.0,1102.1 2746.0,1100.4 2747.0,1100.4 2748.0,1102.1 2749.0,1105.2 2750.0,1109.4 2751.0,1114.3 2752.0,1119.8 2753.0,1125.6 2754.0,1131.7 2755.0,1137.9 2756.0,1144.3 2757.0,1150.8 2758.0,1157.4 2759.0,1164.0 2760.0,1170.7 2761.0,1177.4 2762.0,1184.2 2763.0,1191.0 2764.0,1197.8 2765.0,1204.6 2766.0,1211.5 2767.0,1218.3 2768.0,1225.2 2769.0,1232.1 2770.0,1239.0 2771.0,1245.9 2772.0,1252.8 2773.0,1259.7 2774.0,1266.6 2775.0,1273.5 2776.0,1280.2 2777.0,1280.2 2778.0,1280.2 2779.0,1280.2 2780.0,1280.2 2781.0,1280.2 2782.0,1280.2 2783.0,1280.2 2784.0,1280.2 2785.0,1280.2 2786.0,1280.2 2787.0,1280.2 2788.0,1280.2 2789.0,1280.2 2790.0,1280.2 2791.0,1280.2 2792.0,1280.2 2793.0,1280.2 2794.0,1280.2 2795.0,1280.2 2796.0,1280.2 2797.0,1280.2 2798.0,1280.2 2799.0,1280.2 2800.0,1280.2 2801.0,1280.2 2802.0,1280.2 2803.0,1280.2 2804.0,1280.2 2805.0,1280.2 2806.0,1280.2 2807.0,1280.2 2808.0,1280.2 2809.0,1280.2 2810.0,1280.2 2811.0,1280.2 2812.0,1280.2 2813.0,1280.2 2814.0,1280.2 2815.0,1280.2 2816.0,1280.2 2817.0,1280.2 2818.0,1280.2 2819.0,1280.2 2820.0,1280.2 2821.0,1280.2 2822.0,1280.2 2823.0,1280.2 2824.0,1280.2 2825.0,1280.2 2826.0,1280.2 2827.0,1280.2 2828.0,1280.2 2829.0,1280.2 2830.0,1280.2 2831.0,1280.2 2832.0,1280.2 2833.0,1280.2 2834.0,1280.2 2835.0,1280.2 2836.0,1280.2 2837.0,1280.2" fill="none" stroke="#3c4a9c" stroke-width="5.5" stroke-linejoin="round"/>
<polyline points="388.0,1279.6 389.0,1279.6 390.0,1279.6 391.0,1279.6 392.0,1279.6 393.0,1279.6 394.0,1279.6 395.0,1279.6 396.0,1279.6 397.0,1279.6 398.0,1279.6 399.0,1279.6 400.0,1279.6 401.0,1279.6 402.0,1279.6 403.0,1279.6 404.0,1279.6 405.0,1279.6 406.0,1279.6 407.0,1279.6 408.0,1279.6 409.0,1279.6 410.0,1279.6 411.0,1279.6 412.0,1279.6 413.0,1279.6 414.0,1279.6 415.0,1279.6 416.0,1279.6 417.0,1279.6 418.0,1279.6 419.0,1279.6 420.0,1279.6 421.0,1279.6 422.0,1279.6 423.0,1279.6 424.0,1279.6 425.0,1279.6 426.0,1279.6 427.0,1279.6 428.0,1279.6 429.0,1279.6 430.0,1279.6 431.0,1279.6 432.0,1279.6 433.0,1279.6 434.0,1279.6 435.0,1279.6 436.0,1279.6 437.0,1279.6 438.0,1279.6 439.0,1279.6 440.0,1279.6 441.0,1279.6 442.0,1279.6 443.0,1279.6 444.0,1279.6 445.0,1279.6 446.0,1279.6 447.0,1279.6 448.0,1279.6 449.0,1279.6 450.0,1279.6 451.0,1279.6 452.0,1279.6 453.0,1273.6 454.0,1266.6 455.0,1259.6 456.0,1252.5 457.0,1245.5 458.0,1238.5 459.0,1231.4 460.0,1224.4 461.0,1217.4 462.0,1210.5 463.0,1203.5 464.0,1196.5 465.0,1189.6 466.0,1182.7 467.0,1175.8 468.0,1168.9 469.0,1162.1 470.0,1155.4 471.0,1148.7 472.0,1142.0 473.0,1135.5 474.0,1129.1 475.0,1122.9 476.0,1116.9 477.0,1111.3 478.0,1106.1 479.0,1101.7 480.0,1098.3 481.0,1096.2 482.0,1095.9 483.0,1097.6 484.0,1101.1 485.0,1106.0 486.0,1111.9 487.0,1118.6 488.0,1125.7 489.0,1133.1 490.0,1140.8 491.0,1148.6 492.0,1156.6 493.0,1164.7 494.0,1172.8 495.0,1181.1 496.0,1189.4 497.0,1197.7 498.0,1206.0 499.0,1214.4 500.0,1222.8 501.0,1231.3 502.0,1239.7 503.0,1248.2 504.0,1256.7 505.0,1265.2 506.0,1273.7 507.0,1276.4 508.0,1266.0 509.0,1255.5 510.0,1245.1 511.0,1234.6 512.0,1224.2 513.0,1213.8 514.0,1203.4 515.0,1193.0 516.0,1182.6 517.0,1172.2 518.0,1161.8 519.0,1151.5 520.0,1141.2 521.0,1130.9 522.0,1120.6 523.0,1110.4 524.0,1100.2 525.0,1090.1 526.0,1080.0 527.0,1070.0 528.0,1060.2 529.0,1050.4 530.0,1040.8 531.0,1031.4 532.0,1022.3 533.0,1013.6 534.0,1005.6 535.0,998.3 536.0,992.3 537.0,988.0 538.0,985.9 539.0,986.4 540.0,989.4 541.0,994.4 542.0,1000.9 543.0,1008.4 544.0,1016.7 545.0,1025.4 546.0,1034.5 547.0,1043.9 548.0,1053.4 549.0,1063.1 550.0,1072.9 551.0,1082.8 552.0,1092.8 553.0,1102.8 554.0,1112.9 555.0,1123.0 556.0,1133.1 557.0,1143.3 558.0,1153.5 559.0,1163.7 560.0,1173.9 561.0,1184.2 562.0,1194.4 563.0,1204.7 564.0,1215.0 565.0,1225.3 566.0,1235.6 567.0,1245.9 568.0,1256.2 569.0,1266.5 570.0,1276.9 571.0,1279.6 572.0,1279.6 573.0,1279.6 574.0,1279.6 575.0,1279.6 576.0,1279.6 577.0,1279.6 578.0,1279.6 579.0,1279.6 580.0,1279.6 581.0,1279.6 582.0,1279.6 583.0,1279.6 584.0,1279.6 585.0,1279.6 586.0,1279.6 587.0,1279.6 588.0,1279.6 589.0,1279.6 590.0,1279.6 591.0,1279.6 592.0,1279.6 593.0,1279.6 594.0,1279.6 595.0,1279.6 596.0,1279.6 597.0,1279.6 598.0,1279.6 599.0,1279.6 600.0,1279.6 601.0,1279.6 602.0,1279.6 603.0,1279.6 604.0,1279.6 605.0,1279.6 606.0,1279.6 607.0,1279.6 608.0,1279.6 609.0,1279.6 610.0,1279.6 611.0,1279.6 612.0,1279.6 613.0,1279.6 614.0,1279.6 615.0,1279.6 616.0,1279.6 617.0,1279.6 618.0,1279.6 619.0,1279.6 620.0,1279.6 621.0,1279.6 622.0,1279.6 623.0,1279.6 624.0,1279.6 625.0,1279.6 626.0,1279.6 627.0,1279.6 628.0,1279.6 629.0,1279.6 630.0,1279.6 631.0,1279.6 632.0,1279.6 633.0,1279.6 634.0,1279.6 635.0,1279.6 636.0,1279.6 637.0,1279.6 638.0,1279.6 639.0,1279.6 640.0,1279.6 641.0,1279.6 642.0,1279.6 643.0,1279.6 644.0,1279.6 645.0,1279.6 646.0,1279.6 647.0,1279.6 648.0,1279.6 649.0,1279.6 650.0,1279.6 651.0,1279.6 652.0,1279.6 653.0,1279.6 654.0,1279.6 655.0,1279.6 656.0,1279.6 657.0,1279.6 658.0,1279.6 659.0,1279.6 660.0,1279.6 661.0,1279.6 662.0,1279.6 663.0,1279.6 664.0,1279.6 665.0,1279.6 666.0,1279.6 667.0,1279.6 668.0,1279.6 669.0,1279.6 670.0,1279.6 671.0,1279.6 672.0,1279.6 673.0,1279.6 674.0,1279.6 675.0,1279.6 676.0,1279.6 677.0,1279.6 678.0,1279.6 679.0,1279.6 680.0,1279.6 681.0,1279.6 682.0,1279.6 683.0,1279.6 684.0,1279.6 685.0,1279.5 686.0,1269.5 687.0,1259.5 688.0,1249.5 689.0,1239.5 690.0,1229.5 691.0,1219.5 692.0,1209.6 693.0,1199.6 694.0,1189.7 695.0,1179.7 696.0,1169.8 697.0,1159.9 698.0,1150.0 699.0,1140.2 700.0,1130.3 701.0,1120.6 702.0,1110.8 703.0,1101.1 704.0,1091.4 705.0,1081.8 706.0,1072.3 707.0,1062.9 708.0,1053.7 709.0,1044.6 710.0,1035.8 711.0,1027.3 712.0,1019.3 713.0,1012.0 714.0,1005.7 715.0,1000.9 716.0,998.0 717.0,997.5 718.0,999.5 719.0,1003.6 720.0,1009.4 721.0,1016.3 722.0,1024.0 723.0,1032.3 724.0,1041.0 725.0,1050.0 726.0,1059.2 727.0,1068.6 728.0,1078.0 729.0,1087.6 730.0,1097.2 731.0,1106.9 732.0,1116.6 733.0,1126.4 734.0,1136.2 735.0,1146.1 736.0,1156.0 737.0,1165.9 738.0,1175.8 739.0,1185.7 740.0,1195.6 741.0,1205.6 742.0,1215.6 743.0,1225.5 744.0,1235.5 745.0,1245.5 746.0,1255.5 747.0,1265.5 748.0,1275.5 749.0,1279.6 750.0,1279.6 751.0,1279.6 752.0,1279.6 753.0,1279.6 754.0,1279.6 755.0,1279.6 756.0,1279.6 757.0,1279.6 758.0,1279.6 759.0,1279.6 760.0,1279.6 761.0,1279.6 762.0,1279.6 763.0,1279.6 764.0,1279.6 765.0,1279.6 766.0,1279.6 767.0,1279.6 768.0,1279.6 769.0,1279.6 770.0,1279.6 771.0,1279.6 772.0,1279.6 773.0,1279.6 774.0,1279.6 775.0,1279.6 776.0,1279.6 777.0,1279.6 778.0,1279.6 779.0,1279.6 780.0,1279.6 781.0,1279.6 782.0,1279.6 783.0,1279.6 784.0,1279.6 785.0,1279.6 786.0,1279.6 787.0,1279.6 788.0,1279.6 789.0,1279.6 790.0,1279.6 791.0,1279.6 792.0,1279.6 793.0,1279.6 794.0,1279.6 795.0,1279.6 796.0,1279.6 797.0,1279.6 798.0,1279.6 799.0,1279.6 800.0,1279.6 801.0,1279.6 802.0,1279.6 803.0,1279.6 804.0,1279.6 805.0,1279.6 806.0,1279.6 807.0,1279.6 808.0,1279.6 809.0,1279.6 810.0,1279.6 811.0,1279.6 812.0,1279.6 813.0,1279.6 814.0,1279.6 815.0,1279.6 816.0,1279.6 817.0,1279.6 818.0,1279.6 819.0,1279.6 820.0,1279.6 821.0,1279.6 822.0,1279.6 823.0,1279.6 824.0,1279.6 825.0,1279.6 826.0,1279.6 827.0,1279.6 828.0,1279.6 829.0,1279.6 830.0,1279.6 831.0,1279.6 832.0,1279.6 833.0,1279.6 834.0,1279.6 835.0,1279.6 836.0,1279.6 837.0,1279.6 838.0,1279.6 839.0,1279.6 840.0,1279.6 841.0,1279.6 842.0,1279.6 843.0,1279.6 844.0,1279.6 845.0,1279.6 846.0,1279.6 847.0,1279.6 848.0,1279.6 849.0,1279.6 850.0,1279.6 851.0,1279.6 852.0,1279.6 853.0,1279.6 854.0,1279.6 855.0,1279.6 856.0,1279.6 857.0,1279.6 858.0,1279.6 859.0,1279.6 860.0,1279.6 861.0,1279.6 862.0,1279.6 863.0,1279.6 864.0,1279.6 865.0,1279.6 866.0,1279.6 867.0,1279.6 868.0,1279.6 869.0,1279.6 870.0,1279.6 871.0,1279.6 872.0,1279.6 873.0,1279.6 874.0,1279.6 875.0,1279.6 876.0,1279.6 877.0,1277.2 878.0,1270.4 879.0,1263.6 880.0,1256.8 881.0,1250.1 882.0,1243.3 883.0,1236.6 884.0,1229.8 885.0,1223.1 886.0,1216.4 887.0,1209.7 888.0,1203.0 889.0,1196.3 890.0,1189.6 891.0,1183.0 892.0,1176.4 893.0,1169.8 894.0,1163.3 895.0,1156.9 896.0,1150.5 897.0,1144.1 898.0,1138.0 899.0,1131.9 900.0,1126.1 901.0,1120.6 902.0,1115.4 903.0,1110.9 904.0,1107.3 905.0,1104.9 906.0,1104.1 907.0,1104.9 908.0,1107.3 909.0,1110.9 910.0,1115.4 911.0,1120.6 912.0,1126.1 913.0,1131.9 914.0,1138.0 915.0,1144.1 916.0,1150.5 917.0,1156.9 918.0,1163.3 919.0,1169.8 920.0,1176.4 921.0,1183.0 922.0,1189.6 923.0,1196.3 924.0,1203.0 925.0,1209.7 926.0,1216.4 927.0,1223.1 928.0,1229.8 929.0,1236.6 930.0,1243.3 931.0,1250.1 932.0,1256.8 933.0,1263.6 934.0,1270.4 935.0,1277.2 936.0,1279.6 937.0,1279.6 938.0,1279.6 939.0,1279.6 940.0,1279.6 941.0,1279.6 942.0,1279.6 943.0,1279.6 944.0,1279.6 945.0,1279.6 946.0,1279.6 947.0,1279.6 948.0,1279.6 949.0,1279.6 950.0,1279.6 951.0,1279.6 952.0,1279.6 953.0,1279.6 954.0,1279.6 955.0,1279.6 956.0,1279.6 957.0,1279.6 958.0,1279.6 959.0,1279.6 960.0,1279.6 961.0,1279.6 962.0,1279.6 963.0,1279.6 964.0,1279.6 965.0,1279.6 966.0,1279.6 967.0,1279.6 968.0,1279.6 969.0,1279.6 970.0,1279.6 971.0,1279.6 972.0,1279.6 973.0,1279.6 974.0,1279.6 975.0,1279.6 976.0,1279.6 977.0,1279.6 978.0,1279.6 979.0,1279.6 980.0,1279.6 981.0,1279.6 982.0,1279.6 983.0,1279.6 984.0,1279.6 985.0,1279.6 986.0,1279.6 987.0,1279.6 988.0,1279.6 989.0,1279.6 990.0,1279.6 991.0,1279.6 992.0,1279.6 993.0,1279.6 994.0,1279.6 995.0,1279.6 996.0,1279.6 997.0,1279.6 998.0,1279.6 999.0,1279.6 1000.0,1279.6 1001.0,1279.6 1002.0,1279.6 1003.0,1279.6 1004.0,1279.6 1005.0,1279.6 1006.0,1279.6 1007.0,1279.6 1008.0,1279.6 1009.0,1279.6 1010.0,1279.6 1011.0,1279.6 1012.0,1279.6 1013.0,1279.6 1014.0,1279.6 1015.0,1279.6 1016.0,1279.6 1017.0,1279.6 1018.0,1279.6 1019.0,1279.6 1020.0,1279.6 1021.0,1279.6 1022.0,1279.6 1023.0,1279.6 1024.0,1279.6 1025.0,1279.6 1026.0,1279.6 1027.0,1279.6 1028.0,1279.6 1029.0,1279.6 1030.0,1279.6 1031.0,1279.6 1032.0,1279.6 1033.0,1279.6 1034.0,1279.6 1035.0,1279.6 1036.0,1279.6 1037.0,1279.6 1038.0,1279.6 1039.0,1279.6 1040.0,1279.6 1041.0,1279.6 1042.0,1279.6 1043.0,1279.6 1044.0,1279.6 1045.0,1279.6 1046.0,1279.6 1047.0,1279.6 1048.0,1279.6 1049.0,1279.6 1050.0,1279.6 1051.0,1279.6 1052.0,1279.6 1053.0,1279.6 1054.0,1279.6 1055.0,1279.6 1056.0,1279.6 1057.0,1279.6 1058.0,1279.6 1059.0,1279.6 1060.0,1279.6 1061.0,1279.6 1062.0,1279.6 1063.0,1279.6 1064.0,1279.6 1065.0,1279.6 1066.0,1279.6 1067.0,1279.6 1068.0,1279.6 1069.0,1279.6 1070.0,1279.6 1071.0,1279.6 1072.0,1279.6 1073.0,1279.6 1074.0,1279.6 1075.0,1279.6 1076.0,1279.6 1077.0,1279.6 1078.0,1279.6 1079.0,1279.6 1080.0,1279.6 1081.0,1279.6 1082.0,1279.6 1083.0,1279.6 1084.0,1279.6 1085.0,1279.6 1086.0,1279.6 1087.0,1279.6 1088.0,1279.6 1089.0,1279.6 1090.0,1279.6 1091.0,1279.6 1092.0,1279.6 1093.0,1279.6 1094.0,1279.6 1095.0,1279.6 1096.0,1279.6 1097.0,1279.6 1098.0,1279.6 1099.0,1279.6 1100.0,1279.6 1101.0,1279.6 1102.0,1279.6 1103.0,1279.6 1104.0,1279.6 1105.0,1279.6 1106.0,1279.6 1107.0,1279.6 1108.0,1279.6 1109.0,1279.6 1110.0,1279.6 1111.0,1279.6 1112.0,1279.6 1113.0,1279.6 1114.0,1279.6 1115.0,1279.6 1116.0,1279.6 1117.0,1279.6 1118.0,1279.6 1119.0,1279.6 1120.0,1279.6 1121.0,1279.6 1122.0,1279.6 1123.0,1279.6 1124.0,1279.6 1125.0,1279.6 1126.0,1279.6 1127.0,1279.6 1128.0,1279.6 1129.0,1279.6 1130.0,1279.6 1131.0,1279.6 1132.0,1279.6 1133.0,1279.6 1134.0,1279.6 1135.0,1279.6 1136.0,1279.6 1137.0,1279.6 1138.0,1279.6 1139.0,1279.6 1140.0,1279.6 1141.0,1279.6 1142.0,1279.6 1143.0,1279.6 1144.0,1279.6 1145.0,1279.6 1146.0,1279.6 1147.0,1279.6 1148.0,1279.6 1149.0,1279.6 1150.0,1279.6 1151.0,1279.6 1152.0,1279.6 1153.0,1279.6 1154.0,1279.6 1155.0,1279.6 1156.0,1279.6 1157.0,1279.6 1158.0,1279.6 1159.0,1279.6 1160.0,1279.6 1161.0,1279.6 1162.0,1279.6 1163.0,1279.6 1164.0,1279.6 1165.0,1279.6 1166.0,1279.6 1167.0,1279.6 1168.0,1279.6 1169.0,1279.6 1170.0,1279.6 1171.0,1279.6 1172.0,1279.6 1173.0,1279.6 1174.0,1279.6 1175.0,1279.6 1176.0,1279.6 1177.0,1279.6 1178.0,1279.6 1179.0,1279.6 1180.0,1279.6 1181.0,1279.6 1182.0,1279.6 1183.0,1279.6 1184.0,1279.6 1185.0,1279.6 1186.0,1279.6 1187.0,1279.6 1188.0,1279.6 1189.0,1279.6 1190.0,1279.6 1191.0,1279.6 1192.0,1279.6 1193.0,1279.6 1194.0,1279.6 1195.0,1279.6 1196.0,1279.6 1197.0,1279.6 1198.0,1279.6 1199.0,1279.6 1200.0,1279.6 1201.0,1279.6 1202.0,1279.6 1203.0,1279.6 1204.0,1279.6 1205.0,1279.6 1206.0,1279.6 1207.0,1279.6 1208.0,1279.6 1209.0,1279.6 1210.0,1279.6 1211.0,1279.6 1212.0,1279.6 1213.0,1279.6 1214.0,1279.6 1215.0,1279.6 1216.0,1279.6 1217.0,1279.6 1218.0,1279.6 1219.0,1279.6 1220.0,1279.6 1221.0,1279.6 1222.0,1279.6 1223.0,1279.6 1224.0,1279.6 1225.0,1279.6 1226.0,1279.6 1227.0,1279.6 1228.0,1279.6 1229.0,1279.6 1230.0,1279.6 1231.0,1279.6 1232.0,1279.6 1233.0,1279.6 1234.0,1279.6 1235.0,1279.6 1236.0,1279.6 1237.0,1279.6 1238.0,1279.6 1239.0,1279.6 1240.0,1279.6 1241.0,1279.6 1242.0,1279.6 1243.0,1279.6 1244.0,1279.6 1245.0,1279.6 1246.0,1279.6 1247.0,1279.6 1248.0,1279.6 1249.0,1279.6 1250.0,1279.6 1251.0,1279.6 1252.0,1279.6 1253.0,1279.6 1254.0,1279.6 1255.0,1279.6 1256.0,1279.6 1257.0,1279.6 1258.0,1279.6 1259.0,1279.6 1260.0,1279.6 1261.0,1279.6 1262.0,1279.6 1263.0,1279.6 1264.0,1279.6 1265.0,1279.6 1266.0,1279.6 1267.0,1279.6 1268.0,1279.6 1269.0,1279.6 1270.0,1279.6 1271.0,1279.6 1272.0,1279.6 1273.0,1279.6 1274.0,1279.6 1275.0,1279.6 1276.0,1279.6 1277.0,1279.6 1278.0,1279.6 1279.0,1279.6 1280.0,1279.6 1281.0,1279.6 1282.0,1279.6 1283.0,1279.6 1284.0,1279.6 1285.0,1279.6 1286.0,1279.6 1287.0,1279.6 1288.0,1279.6 1289.0,1279.6 1290.0,1279.6 1291.0,1279.6 1292.0,1279.6 1293.0,1279.6 1294.0,1279.6 1295.0,1279.6 1296.0,1279.6 1297.0,1279.6 1298.0,1279.6 1299.0,1279.6 1300.0,1279.6 1301.0,1279.6 1302.0,1279.6 1303.0,1279.6 1304.0,1279.6 1305.0,1279.6 1306.0,1279.6 1307.0,1279.6 1308.0,1279.6 1309.0,1279.6 1310.0,1279.6 1311.0,1279.6 1312.0,1279.6 1313.0,1279.6 1314.0,1279.6 1315.0,1279.6 1316.0,1279.6 1317.0,1279.6 1318.0,1279.6 1319.0,1279.6 1320.0,1279.6 1321.0,1279.6 1322.0,1279.6 1323.0,1279.6 1324.0,1279.6 1325.0,1279.6 1326.0,1279.6 1327.0,1279.6 1328.0,1279.6 1329.0,1279.6 1330.0,1279.6 1331.0,1279.6 1332.0,1279.6 1333.0,1279.6 1334.0,1279.6 1335.0,1279.6 1336.0,1279.6 1337.0,1279.6 1338.0,1279.6 1339.0,1279.6 1340.0,1279.6 1341.0,1279.6 1342.0,1279.6 1343.0,1279.6 1344.0,1279.6 1345.0,1279.6 1346.0,1279.6 1347.0,1279.6 1348.0,1279.6 1349.0,1279.6 1350.0,1279.6 1351.0,1279.6 1352.0,1279.6 1353.0,1279.6 1354.0,1279.6 1355.0,1279.6 1356.0,1279.6 1357.0,1279.6 1358.0,1279.6 1359.0,1279.6 1360.0,1279.6 1361.0,1279.6 1362.0,1279.6 1363.0,1279.6 1364.0,1279.6 1365.0,1279.6 1366.0,1279.6 1367.0,1279.6 1368.0,1279.6 1369.0,1279.6 1370.0,1279.6 1371.0,1279.6 1372.0,1279.6 1373.0,1279.6 1374.0,1279.6 1375.0,1279.6 1376.0,1279.6 1377.0,1279.6 1378.0,1279.6 1379.0,1279.6 1380.0,1279.6 1381.0,1279.6 1382.0,1279.6 1383.0,1279.6 1384.0,1279.6 1385.0,1279.6 1386.0,1279.6 1387.0,1279.6 1388.0,1279.6 1389.0,1279.6 1390.0,1279.6 1391.0,1279.6 1392.0,1279.6 1393.0,1279.6 1394.0,1279.6 1395.0,1279.6 1396.0,1279.6 1397.0,1279.6 1398.0,1279.6 1399.0,1279.6 1400.0,1279.6 1401.0,1279.6 1402.0,1279.6 1403.0,1279.6 1404.0,1279.6 1405.0,1279.6 1406.0,1279.6 1407.0,1279.6 1408.0,1279.6 1409.0,1279.6 1410.0,1279.6 1411.0,1275.0 1412.0,1268.7 1413.0,1262.5 1414.0,1256.2 1415.0,1249.9 1416.0,1243.7 1417.0,1237.4 1418.0,1231.2 1419.0,1225.0 1420.0,1218.7 1421.0,1212.5 1422.0,1206.4 1423.0,1200.2 1424.0,1194.0 1425.0,1187.9 1426.0,1181.8 1427.0,1175.8 1428.0,1169.8 1429.0,1163.8 1430.0,1157.9 1431.0,1152.2 1432.0,1146.5 1433.0,1141.1 1434.0,1135.8 1435.0,1131.0 1436.0,1126.6 1437.0,1123.0 1438.0,1120.4 1439.0,1119.2 1440.0,1119.5 1441.0,1121.3 1442.0,1124.3 1443.0,1128.3 1444.0,1132.9 1445.0,1137.9 1446.0,1143.2 1447.0,1148.8 1448.0,1154.5 1449.0,1160.3 1450.0,1166.2 1451.0,1172.2 1452.0,1178.2 1453.0,1184.3 1454.0,1190.4 1455.0,1196.5 1456.0,1202.6 1457.0,1208.8 1458.0,1215.0 1459.0,1221.2 1460.0,1227.4 1461.0,1233.7 1462.0,1239.9 1463.0,1246.2 1464.0,1252.4 1465.0,1258.7 1466.0,1265.0 1467.0,1271.2 1468.0,1277.5 1469.0,1279.6 1470.0,1279.6 1471.0,1279.6 1472.0,1279.6 1473.0,1279.6 1474.0,1279.6 1475.0,1279.6 1476.0,1279.6 1477.0,1279.6 1478.0,1279.6 1479.0,1279.6 1480.0,1279.6 1481.0,1279.6 1482.0,1279.6 1483.0,1279.6 1484.0,1279.6 1485.0,1279.6 1486.0,1279.6 1487.0,1279.6 1488.0,1279.6 1489.0,1279.6 1490.0,1279.6 1491.0,1279.6 1492.0,1279.6 1493.0,1279.6 1494.0,1279.6 1495.0,1279.6 1496.0,1279.6 1497.0,1279.6 1498.0,1279.6 1499.0,1279.6 1500.0,1279.6 1501.0,1279.6 1502.0,1279.6 1503.0,1279.6 1504.0,1279.6 1505.0,1279.6 1506.0,1279.6 1507.0,1279.6 1508.0,1279.6 1509.0,1279.6 1510.0,1279.6 1511.0,1279.6 1512.0,1279.6 1513.0,1279.6 1514.0,1279.6 1515.0,1279.6 1516.0,1279.6 1517.0,1279.6 1518.0,1279.6 1519.0,1279.6 1520.0,1279.6 1521.0,1279.6 1522.0,1279.6 1523.0,1279.6 1524.0,1279.6 1525.0,1279.6 1526.0,1279.6 1527.0,1279.6 1528.0,1279.6 1529.0,1279.6 1530.0,1279.6 1531.0,1279.6 1532.0,1279.6 1533.0,1279.6 1534.0,1279.6 1535.0,1279.6 1536.0,1279.6 1537.0,1279.6 1538.0,1279.6 1539.0,1279.6 1540.0,1279.6 1541.0,1279.6 1542.0,1279.6 1543.0,1279.6 1544.0,1279.6 1545.0,1279.6 1546.0,1279.6 1547.0,1279.6 1548.0,1279.6 1549.0,1279.6 1550.0,1279.6 1551.0,1279.6 1552.0,1279.6 1553.0,1279.6 1554.0,1279.6 1555.0,1279.6 1556.0,1279.6 1557.0,1279.6 1558.0,1279.6 1559.0,1279.6 1560.0,1279.6 1561.0,1279.6 1562.0,1279.6 1563.0,1279.6 1564.0,1279.6 1565.0,1279.6 1566.0,1279.6 1567.0,1279.6 1568.0,1279.6 1569.0,1279.6 1570.0,1279.6 1571.0,1279.6 1572.0,1279.6 1573.0,1279.6 1574.0,1279.6 1575.0,1279.6 1576.0,1279.6 1577.0,1279.6 1578.0,1279.6 1579.0,1279.6 1580.0,1279.6 1581.0,1279.6 1582.0,1279.6 1583.0,1279.6 1584.0,1279.6 1585.0,1279.6 1586.0,1279.6 1587.0,1279.6 1588.0,1279.6 1589.0,1279.6 1590.0,1279.6 1591.0,1279.6 1592.0,1279.6 1593.0,1279.6 1594.0,1279.6 1595.0,1279.6 1596.0,1279.6 1597.0,1279.6 1598.0,1279.6 1599.0,1279.6 1600.0,1279.6 1601.0,1279.6 1602.0,1279.6 1603.0,1279.6 1604.0,1279.6 1605.0,1279.6 1606.0,1279.6 1607.0,1279.6 1608.0,1279.6 1609.0,1279.6 1610.0,1279.6 1611.0,1279.6 1612.0,1279.6 1613.0,1279.6 1614.0,1279.6 1615.0,1279.6 1616.0,1279.6 1617.0,1279.6 1618.0,1279.6 1619.0,1279.6 1620.0,1279.6 1621.0,1279.6 1622.0,1279.6 1623.0,1279.6 1624.0,1279.6 1625.0,1279.6 1626.0,1279.6 1627.0,1279.6 1628.0,1279.6 1629.0,1279.6 1630.0,1279.6 1631.0,1279.6 1632.0,1279.6 1633.0,1279.6 1634.0,1279.6 1635.0,1279.6 1636.0,1279.6 1637.0,1279.6 1638.0,1279.6 1639.0,1279.6 1640.0,1279.6 1641.0,1279.6 1642.0,1279.6 1643.0,1279.6 1644.0,1279.6 1645.0,1279.6 1646.0,1279.6 1647.0,1279.6 1648.0,1279.6 1649.0,1279.6 1650.0,1279.6 1651.0,1279.6 1652.0,1279.6 1653.0,1279.6 1654.0,1279.6 1655.0,1279.6 1656.0,1279.6 1657.0,1279.6 1658.0,1279.6 1659.0,1279.6 1660.0,1279.6 1661.0,1279.6 1662.0,1279.6 1663.0,1279.6 1664.0,1279.6 1665.0,1279.6 1666.0,1279.6 1667.0,1279.6 1668.0,1279.6 1669.0,1279.6 1670.0,1279.6 1671.0,1279.6 1672.0,1279.6 1673.0,1279.6 1674.0,1279.6 1675.0,1279.6 1676.0,1279.6 1677.0,1279.6 1678.0,1279.6 1679.0,1279.6 1680.0,1279.6 1681.0,1279.6 1682.0,1279.6 1683.0,1279.6 1684.0,1279.6 1685.0,1279.6 1686.0,1279.6 1687.0,1279.6 1688.0,1279.6 1689.0,1279.6 1690.0,1279.6 1691.0,1279.6 1692.0,1279.6 1693.0,1279.6 1694.0,1279.6 1695.0,1279.6 1696.0,1278.1 1697.0,1267.1 1698.0,1256.2 1699.0,1245.3 1700.0,1234.4 1701.0,1223.6 1702.0,1212.7 1703.0,1201.8 1704.0,1191.0 1705.0,1180.1 1706.0,1169.3 1707.0,1158.5 1708.0,1147.7 1709.0,1136.9 1710.0,1126.1 1711.0,1115.4 1712.0,1104.7 1713.0,1094.0 1714.0,1083.4 1715.0,1072.9 1716.0,1062.4 1717.0,1051.9 1718.0,1041.6 1719.0,1031.4 1720.0,1021.4 1721.0,1011.7 1722.0,1002.2 1723.0,993.1 1724.0,984.7 1725.0,977.1 1726.0,970.9 1727.0,966.4 1728.0,964.2 1729.0,964.8 1730.0,967.9 1731.0,973.2 1732.0,980.0 1733.0,988.0 1734.0,996.7 1735.0,1005.9 1736.0,1015.5 1737.0,1025.4 1738.0,1035.5 1739.0,1045.7 1740.0,1056.1 1741.0,1066.5 1742.0,1077.1 1743.0,1087.7 1744.0,1098.3 1745.0,1109.0 1746.0,1119.7 1747.0,1130.4 1748.0,1141.2 1749.0,1152.0 1750.0,1162.8 1751.0,1173.6 1752.0,1184.4 1753.0,1195.3 1754.0,1206.2 1755.0,1217.0 1756.0,1227.9 1757.0,1238.8 1758.0,1249.7 1759.0,1260.6 1760.0,1271.5 1761.0,1279.6 1762.0,1279.6 1763.0,1279.6 1764.0,1279.6 1765.0,1279.6 1766.0,1279.6 1767.0,1279.6 1768.0,1279.6 1769.0,1279.6 1770.0,1279.6 1771.0,1279.6 1772.0,1279.6 1773.0,1279.6 1774.0,1279.6 1775.0,1279.6 1776.0,1279.6 1777.0,1279.6 1778.0,1279.6 1779.0,1279.6 1780.0,1279.6 1781.0,1279.6 1782.0,1279.6 1783.0,1279.6 1784.0,1279.6 1785.0,1279.6 1786.0,1279.6 1787.0,1279.6 1788.0,1279.6 1789.0,1279.6 1790.0,1279.6 1791.0,1279.6 1792.0,1279.6 1793.0,1279.6 1794.0,1279.6 1795.0,1279.6 1796.0,1279.6 1797.0,1279.6 1798.0,1279.6 1799.0,1279.6 1800.0,1279.6 1801.0,1279.6 1802.0,1279.6 1803.0,1279.6 1804.0,1279.6 1805.0,1279.6 1806.0,1279.6 1807.0,1279.6 1808.0,1279.6 1809.0,1279.6 1810.0,1279.6 1811.0,1279.6 1812.0,1279.6 1813.0,1279.6 1814.0,1279.6 1815.0,1279.6 1816.0,1279.6 1817.0,1279.6 1818.0,1279.6 1819.0,1279.6 1820.0,1279.6 1821.0,1279.6 1822.0,1279.6 1823.0,1279.6 1824.0,1279.6 1825.0,1279.6 1826.0,1279.6 1827.0,1279.6 1828.0,1279.6 1829.0,1279.6 1830.0,1279.6 1831.0,1279.6 1832.0,1279.6 1833.0,1279.6 1834.0,1279.6 1835.0,1279.6 1836.0,1279.6 1837.0,1279.6 1838.0,1279.6 1839.0,1279.6 1840.0,1279.6 1841.0,1279.6 1842.0,1279.6 1843.0,1279.6 1844.0,1279.6 1845.0,1279.6 1846.0,1279.6 1847.0,1279.6 1848.0,1279.6 1849.0,1279.6 1850.0,1279.6 1851.0,1279.6 1852.0,1279.6 1853.0,1279.6 1854.0,1279.6 1855.0,1279.6 1856.0,1279.6 1857.0,1279.6 1858.0,1279.6 1859.0,1279.6 1860.0,1279.6 1861.0,1279.6 1862.0,1279.6 1863.0,1279.6 1864.0,1279.6 1865.0,1279.6 1866.0,1279.6 1867.0,1279.6 1868.0,1279.6 1869.0,1279.6 1870.0,1279.6 1871.0,1279.6 1872.0,1279.6 1873.0,1279.6 1874.0,1279.6 1875.0,1279.6 1876.0,1279.6 1877.0,1279.6 1878.0,1279.6 1879.0,1279.6 1880.0,1279.6 1881.0,1279.6 1882.0,1279.6 1883.0,1279.6 1884.0,1279.6 1885.0,1279.6 1886.0,1279.6 1887.0,1279.6 1888.0,1279.6 1889.0,1279.6 1890.0,1279.6 1891.0,1279.6 1892.0,1279.6 1893.0,1279.6 1894.0,1279.6 1895.0,1279.6 1896.0,1279.6 1897.0,1279.6 1898.0,1279.6 1899.0,1279.6 1900.0,1279.6 1901.0,1279.6 1902.0,1279.6 1903.0,1279.6 1904.0,1279.6 1905.0,1279.6 1906.0,1279.6 1907.0,1279.6 1908.0,1279.6 1909.0,1279.6 1910.0,1279.6 1911.0,1279.6 1912.0,1279.6 1913.0,1279.6 1914.0,1279.6 1915.0,1279.6 1916.0,1279.6 1917.0,1279.6 1918.0,1279.6 1919.0,1279.6 1920.0,1279.6 1921.0,1279.6 1922.0,1279.6 1923.0,1279.6 1924.0,1279.6 1925.0,1279.6 1926.0,1279.6 1927.0,1279.6 1928.0,1279.6 1929.0,1279.6 1930.0,1279.6 1931.0,1279.6 1932.0,1279.6 1933.0,1279.6 1934.0,1279.6 1935.0,1279.6 1936.0,1279.6 1937.0,1279.6 1938.0,1279.6 1939.0,1279.6 1940.0,1279.6 1941.0,1279.6 1942.0,1279.6 1943.0,1279.6 1944.0,1279.6 1945.0,1279.6 1946.0,1279.6 1947.0,1279.6 1948.0,1279.6 1949.0,1279.6 1950.0,1279.6 1951.0,1279.6 1952.0,1279.6 1953.0,1279.6 1954.0,1279.6 1955.0,1279.6 1956.0,1279.6 1957.0,1279.6 1958.0,1276.8 1959.0,1269.5 1960.0,1262.2 1961.0,1255.0 1962.0,1247.7 1963.0,1240.5 1964.0,1233.2 1965.0,1226.0 1966.0,1218.8 1967.0,1211.6 1968.0,1204.4 1969.0,1197.2 1970.0,1190.1 1971.0,1182.9 1972.0,1175.8 1973.0,1168.7 1974.0,1161.7 1975.0,1154.7 1976.0,1147.7 1977.0,1140.8 1978.0,1134.0 1979.0,1127.4 1980.0,1120.8 1981.0,1114.5 1982.0,1108.5 1983.0,1102.8 1984.0,1097.8 1985.0,1093.6 1986.0,1090.6 1987.0,1089.2 1988.0,1089.5 1989.0,1091.6 1990.0,1095.2 1991.0,1099.7 1992.0,1105.0 1993.0,1110.8 1994.0,1117.0 1995.0,1123.4 1996.0,1130.0 1997.0,1136.7 1998.0,1143.6 1999.0,1150.5 2000.0,1157.5 2001.0,1164.5 2002.0,1171.5 2003.0,1178.6 2004.0,1185.8 2005.0,1192.9 2006.0,1200.1 2007.0,1207.3 2008.0,1214.5 2009.0,1221.7 2010.0,1228.9 2011.0,1236.1 2012.0,1243.4 2013.0,1250.6 2014.0,1257.9 2015.0,1265.1 2016.0,1272.4 2017.0,1279.6 2018.0,1279.6 2019.0,1279.6 2020.0,1279.6 2021.0,1279.6 2022.0,1279.6 2023.0,1279.6 2024.0,1279.6 2025.0,1279.6 2026.0,1279.6 2027.0,1279.6 2028.0,1279.6 2029.0,1279.6 2030.0,1279.6 2031.0,1279.6 2032.0,1279.6 2033.0,1279.6 2034.0,1279.6 2035.0,1279.6 2036.0,1279.6 2037.0,1279.6 2038.0,1279.6 2039.0,1279.6 2040.0,1279.6 2041.0,1279.6 2042.0,1279.6 2043.0,1279.6 2044.0,1279.6 2045.0,1279.6 2046.0,1279.6 2047.0,1279.6 2048.0,1279.6 2049.0,1279.6 2050.0,1279.6 2051.0,1279.6 2052.0,1279.6 2053.0,1279.6 2054.0,1279.6 2055.0,1279.6 2056.0,1279.6 2057.0,1279.6 2058.0,1279.6 2059.0,1279.6 2060.0,1279.6 2061.0,1279.6 2062.0,1279.6 2063.0,1279.6 2064.0,1279.6 2065.0,1279.6 2066.0,1279.6 2067.0,1279.6 2068.0,1279.6 2069.0,1279.6 2070.0,1279.6 2071.0,1279.6 2072.0,1279.6 2073.0,1279.6 2074.0,1279.6 2075.0,1279.6 2076.0,1279.6 2077.0,1279.6 2078.0,1279.6 2079.0,1279.6 2080.0,1279.6 2081.0,1279.6 2082.0,1279.6 2083.0,1279.6 2084.0,1279.6 2085.0,1279.6 2086.0,1279.6 2087.0,1279.6 2088.0,1279.6 2089.0,1279.6 2090.0,1279.6 2091.0,1279.6 2092.0,1279.6 2093.0,1279.6 2094.0,1279.6 2095.0,1279.6 2096.0,1279.6 2097.0,1279.6 2098.0,1279.6 2099.0,1279.6 2100.0,1279.6 2101.0,1279.6 2102.0,1279.6 2103.0,1279.6 2104.0,1279.6 2105.0,1279.6 2106.0,1279.6 2107.0,1279.6 2108.0,1279.6 2109.0,1279.6 2110.0,1279.6 2111.0,1279.6 2112.0,1279.6 2113.0,1279.6 2114.0,1279.6 2115.0,1279.6 2116.0,1279.6 2117.0,1279.6 2118.0,1279.6 2119.0,1279.6 2120.0,1279.6 2121.0,1279.6 2122.0,1279.6 2123.0,1279.6 2124.0,1279.6 2125.0,1279.6 2126.0,1279.6 2127.0,1279.6 2128.0,1279.6 2129.0,1279.6 2130.0,1279.6 2131.0,1279.6 2132.0,1279.6 2133.0,1279.6 2134.0,1279.6 2135.0,1279.6 2136.0,1279.6 2137.0,1279.6 2138.0,1279.6 2139.0,1279.6 2140.0,1275.3 2141.0,1267.7 2142.0,1260.2 2143.0,1252.7 2144.0,1245.2 2145.0,1237.7 2146.0,1230.2 2147.0,1222.7 2148.0,1215.2 2149.0,1207.7 2150.0,1200.3 2151.0,1192.8 2152.0,1185.4 2153.0,1178.0 2154.0,1170.6 2155.0,1163.3 2156.0,1156.0 2157.0,1148.7 2158.0,1141.5 2159.0,1134.4 2160.0,1127.4 2161.0,1120.4 2162.0,1113.7 2163.0,1107.1 2164.0,1100.9 2165.0,1095.0 2166.0,1089.8 2167.0,1085.5 2168.0,1082.4 2169.0,1080.9 2170.0,1081.2 2171.0,1083.2 2172.0,1086.5 2173.0,1090.7 2174.0,1095.7 2175.0,1101.1 2176.0,1106.9 2177.0,1112.8 2178.0,1119.0 2179.0,1125.3 2180.0,1131.7 2181.0,1138.1 2182.0,1144.6 2183.0,1151.2 2184.0,1157.8 2185.0,1164.4 2186.0,1171.0 2187.0,1177.7 2188.0,1184.4 2189.0,1191.1 2190.0,1197.8 2191.0,1204.6 2192.0,1211.3 2193.0,1218.1 2194.0,1224.8 2195.0,1231.6 2196.0,1238.4 2197.0,1245.1 2198.0,1251.9 2199.0,1258.7 2200.0,1262.4 2201.0,1263.3 2202.0,1264.3 2203.0,1258.9 2204.0,1253.0 2205.0,1247.2 2206.0,1241.4 2207.0,1235.5 2208.0,1229.7 2209.0,1223.9 2210.0,1218.1 2211.0,1212.3 2212.0,1206.5 2213.0,1200.8 2214.0,1195.1 2215.0,1189.4 2216.0,1183.8 2217.0,1178.2 2218.0,1172.6 2219.0,1167.2 2220.0,1161.9 2221.0,1156.7 2222.0,1151.7 2223.0,1147.0 2224.0,1142.7 2225.0,1139.0 2226.0,1136.2 2227.0,1134.5 2228.0,1134.2 2229.0,1135.3 2230.0,1137.7 2231.0,1141.0 2232.0,1145.0 2233.0,1149.5 2234.0,1154.3 2235.0,1159.3 2236.0,1164.5 2237.0,1169.8 2238.0,1175.2 2239.0,1180.6 2240.0,1186.1 2241.0,1191.7 2242.0,1197.3 2243.0,1202.9 2244.0,1208.6 2245.0,1214.2 2246.0,1219.9 2247.0,1225.6 2248.0,1231.3 2249.0,1237.0 2250.0,1242.8 2251.0,1248.5 2252.0,1254.3 2253.0,1260.0 2254.0,1265.8 2255.0,1271.5 2256.0,1277.3 2257.0,1279.6 2258.0,1279.6 2259.0,1279.6 2260.0,1279.6 2261.0,1279.6 2262.0,1279.6 2263.0,1279.6 2264.0,1279.6 2265.0,1279.6 2266.0,1279.6 2267.0,1279.6 2268.0,1279.6 2269.0,1279.6 2270.0,1279.6 2271.0,1279.6 2272.0,1279.6 2273.0,1279.6 2274.0,1279.6 2275.0,1279.6 2276.0,1279.6 2277.0,1279.6 2278.0,1279.6 2279.0,1279.6 2280.0,1279.6 2281.0,1279.6 2282.0,1279.6 2283.0,1279.6 2284.0,1279.6 2285.0,1279.6 2286.0,1279.6 2287.0,1279.6 2288.0,1279.6 2289.0,1279.6 2290.0,1279.6 2291.0,1279.6 2292.0,1279.6 2293.0,1279.6 2294.0,1279.6 2295.0,1279.6 2296.0,1279.6 2297.0,1279.6 2298.0,1279.6 2299.0,1279.6 2300.0,1279.6 2301.0,1275.2 2302.0,1268.0 2303.0,1260.9 2304.0,1253.7 2305.0,1246.6 2306.0,1239.4 2307.0,1232.3 2308.0,1225.2 2309.0,1218.1 2310.0,1211.0 2311.0,1203.9 2312.0,1196.8 2313.0,1189.8 2314.0,1182.7 2315.0,1175.7 2316.0,1168.8 2317.0,1161.8 2318.0,1154.9 2319.0,1148.1 2320.0,1141.4 2321.0,1134.7 2322.0,1128.2 2323.0,1121.8 2324.0,1115.6 2325.0,1109.8 2326.0,1104.4 2327.0,1099.6 2328.0,1095.8 2329.0,1093.3 2330.0,1092.4 2331.0,1093.3 2332.0,1095.8 2333.0,1099.6 2334.0,1104.4 2335.0,1109.8 2336.0,1115.6 2337.0,1121.8 2338.0,1128.2 2339.0,1134.7 2340.0,1141.4 2341.0,1148.1 2342.0,1154.9 2343.0,1161.8 2344.0,1168.8 2345.0,1175.7 2346.0,1182.7 2347.0,1189.8 2348.0,1196.8 2349.0,1203.9 2350.0,1211.0 2351.0,1218.1 2352.0,1225.2 2353.0,1232.3 2354.0,1239.4 2355.0,1246.6 2356.0,1253.7 2357.0,1260.9 2358.0,1268.0 2359.0,1275.2 2360.0,1279.6 2361.0,1279.6 2362.0,1279.6 2363.0,1279.6 2364.0,1279.6 2365.0,1279.6 2366.0,1279.6 2367.0,1279.6 2368.0,1279.6 2369.0,1279.6 2370.0,1279.6 2371.0,1279.6 2372.0,1279.6 2373.0,1279.6 2374.0,1279.6 2375.0,1279.6 2376.0,1279.6 2377.0,1279.6 2378.0,1279.6 2379.0,1279.6 2380.0,1279.6 2381.0,1279.6 2382.0,1279.6 2383.0,1279.6 2384.0,1279.6 2385.0,1279.6 2386.0,1279.6 2387.0,1279.6 2388.0,1279.6 2389.0,1279.6 2390.0,1279.6 2391.0,1279.6 2392.0,1279.6 2393.0,1279.6 2394.0,1279.6 2395.0,1279.6 2396.0,1279.6 2397.0,1279.6 2398.0,1279.6 2399.0,1279.6 2400.0,1279.6 2401.0,1279.6 2402.0,1279.6 2403.0,1279.6 2404.0,1279.6 2405.0,1279.6 2406.0,1279.6 2407.0,1279.6 2408.0,1279.6 2409.0,1279.6 2410.0,1279.6 2411.0,1279.6 2412.0,1279.6 2413.0,1279.6 2414.0,1279.6 2415.0,1279.6 2416.0,1279.6 2417.0,1279.6 2418.0,1279.6 2419.0,1279.6 2420.0,1279.6 2421.0,1279.6 2422.0,1279.6 2423.0,1279.6 2424.0,1279.6 2425.0,1279.6 2426.0,1279.6 2427.0,1279.6 2428.0,1279.6 2429.0,1279.6 2430.0,1279.6 2431.0,1279.6 2432.0,1279.6 2433.0,1279.6 2434.0,1279.6 2435.0,1279.6 2436.0,1279.6 2437.0,1279.6 2438.0,1279.6 2439.0,1279.6 2440.0,1279.6 2441.0,1279.6 2442.0,1279.6 2443.0,1279.6 2444.0,1279.6 2445.0,1279.6 2446.0,1279.6 2447.0,1279.6 2448.0,1279.6 2449.0,1279.6 2450.0,1279.6 2451.0,1279.6 2452.0,1279.6 2453.0,1279.6 2454.0,1279.6 2455.0,1279.6 2456.0,1279.6 2457.0,1279.6 2458.0,1279.6 2459.0,1279.6 2460.0,1279.6 2461.0,1279.6 2462.0,1279.6 2463.0,1279.6 2464.0,1279.6 2465.0,1279.6 2466.0,1279.6 2467.0,1279.6 2468.0,1279.6 2469.0,1277.8 2470.0,1268.4 2471.0,1259.1 2472.0,1249.8 2473.0,1240.4 2474.0,1231.1 2475.0,1221.8 2476.0,1212.5 2477.0,1203.2 2478.0,1193.9 2479.0,1184.6 2480.0,1175.4 2481.0,1166.2 2482.0,1156.9 2483.0,1147.7 2484.0,1138.6 2485.0,1129.5 2486.0,1120.4 2487.0,1111.3 2488.0,1102.3 2489.0,1093.4 2490.0,1084.6 2491.0,1075.9 2492.0,1067.4 2493.0,1059.1 2494.0,1051.1 2495.0,1043.5 2496.0,1036.4 2497.0,1030.2 2498.0,1025.3 2499.0,1022.0 2500.0,1020.8 2501.0,1022.0 2502.0,1025.3 2503.0,1030.2 2504.0,1036.4 2505.0,1043.5 2506.0,1051.1 2507.0,1059.1 2508.0,1067.4 2509.0,1075.9 2510.0,1084.6 2511.0,1093.4 2512.0,1102.3 2513.0,1111.3 2514.0,1120.4 2515.0,1129.5 2516.0,1138.6 2517.0,1147.7 2518.0,1156.9 2519.0,1166.2 2520.0,1175.4 2521.0,1184.6 2522.0,1193.9 2523.0,1203.2 2524.0,1212.5 2525.0,1221.8 2526.0,1231.1 2527.0,1240.4 2528.0,1249.8 2529.0,1259.1 2530.0,1268.4 2531.0,1277.8 2532.0,1279.6 2533.0,1279.6 2534.0,1279.6 2535.0,1279.6 2536.0,1279.6 2537.0,1279.6 2538.0,1279.6 2539.0,1279.6 2540.0,1279.6 2541.0,1279.6 2542.0,1279.6 2543.0,1279.6 2544.0,1279.6 2545.0,1279.6 2546.0,1279.6 2547.0,1279.6 2548.0,1279.6 2549.0,1279.6 2550.0,1279.6 2551.0,1279.6 2552.0,1279.6 2553.0,1279.6 2554.0,1279.6 2555.0,1279.6 2556.0,1279.6 2557.0,1279.6 2558.0,1279.6 2559.0,1279.6 2560.0,1279.6 2561.0,1279.6 2562.0,1279.6 2563.0,1279.6 2564.0,1279.6 2565.0,1279.6 2566.0,1279.6 2567.0,1279.6 2568.0,1279.6 2569.0,1279.6 2570.0,1279.6 2571.0,1279.6 2572.0,1279.6 2573.0,1279.6 2574.0,1279.6 2575.0,1279.6 2576.0,1279.6 2577.0,1279.6 2578.0,1279.6 2579.0,1279.6 2580.0,1279.6 2581.0,1279.6 2582.0,1279.6 2583.0,1279.6 2584.0,1279.6 2585.0,1279.6 2586.0,1279.6 2587.0,1279.6 2588.0,1279.6 2589.0,1279.6 2590.0,1279.6 2591.0,1279.6 2592.0,1279.6 2593.0,1279.6 2594.0,1279.6 2595.0,1279.6 2596.0,1279.6 2597.0,1279.6 2598.0,1279.6 2599.0,1279.6 2600.0,1279.6 2601.0,1279.6 2602.0,1279.6 2603.0,1279.6 2604.0,1279.6 2605.0,1279.6 2606.0,1279.6 2607.0,1279.6 2608.0,1279.6 2609.0,1279.6 2610.0,1279.6 2611.0,1279.6 2612.0,1279.6 2613.0,1279.6 2614.0,1279.6 2615.0,1279.6 2616.0,1279.6 2617.0,1279.6 2618.0,1279.6 2619.0,1279.6 2620.0,1279.6 2621.0,1279.6 2622.0,1279.6 2623.0,1279.6 2624.0,1279.6 2625.0,1279.6 2626.0,1279.6 2627.0,1279.6 2628.0,1279.6 2629.0,1279.6 2630.0,1279.6 2631.0,1279.6 2632.0,1279.6 2633.0,1279.6 2634.0,1279.6 2635.0,1279.6 2636.0,1279.6 2637.0,1279.6 2638.0,1279.6 2639.0,1279.6 2640.0,1279.6 2641.0,1279.6 2642.0,1279.6 2643.0,1279.6 2644.0,1279.6 2645.0,1279.6 2646.0,1279.6 2647.0,1279.6 2648.0,1279.6 2649.0,1279.6 2650.0,1279.6 2651.0,1279.6 2652.0,1279.6 2653.0,1279.6 2654.0,1279.6 2655.0,1279.6 2656.0,1279.6 2657.0,1279.6 2658.0,1279.6 2659.0,1279.6 2660.0,1279.6 2661.0,1279.6 2662.0,1279.6 2663.0,1279.6 2664.0,1279.6 2665.0,1279.6 2666.0,1279.6 2667.0,1279.6 2668.0,1279.6 2669.0,1279.6 2670.0,1279.6 2671.0,1279.6 2672.0,1279.6 2673.0,1279.6 2674.0,1279.6 2675.0,1279.6 2676.0,1279.6 2677.0,1279.6 2678.0,1279.6 2679.0,1279.6 2680.0,1279.6 2681.0,1279.6 2682.0,1279.6 2683.0,1279.6 2684.0,1279.6 2685.0,1279.6 2686.0,1279.6 2687.0,1279.6 2688.0,1279.6 2689.0,1279.6 2690.0,1279.6 2691.0,1279.6 2692.0,1279.6 2693.0,1279.6 2694.0,1279.6 2695.0,1279.6 2696.0,1279.6 2697.0,1279.6 2698.0,1279.6 2699.0,1279.6 2700.0,1279.6 2701.0,1279.6 2702.0,1279.6 2703.0,1279.6 2704.0,1279.6 2705.0,1279.6 2706.0,1279.6 2707.0,1279.6 2708.0,1279.6 2709.0,1279.6 2710.0,1279.6 2711.0,1279.6 2712.0,1279.6 2713.0,1279.6 2714.0,1279.6 2715.0,1279.6 2716.0,1279.6 2717.0,1279.6 2718.0,1279.6 2719.0,1279.6 2720.0,1279.6 2721.0,1279.6 2722.0,1279.6 2723.0,1279.6 2724.0,1279.6 2725.0,1279.6 2726.0,1279.6 2727.0,1279.6 2728.0,1279.6 2729.0,1279.6 2730.0,1279.6 2731.0,1279.6 2732.0,1279.6 2733.0,1279.6 2734.0,1279.6 2735.0,1279.6 2736.0,1279.6 2737.0,1279.6 2738.0,1279.6 2739.0,1279.6 2740.0,1279.6 2741.0,1279.6 2742.0,1279.6 2743.0,1279.6 2744.0,1279.6 2745.0,1279.6 2746.0,1279.6 2747.0,1279.6 2748.0,1279.6 2749.0,1279.6 2750.0,1279.6 2751.0,1279.6 2752.0,1279.6 2753.0,1279.6 2754.0,1279.6 2755.0,1279.6 2756.0,1279.6 2757.0,1279.6 2758.0,1279.6 2759.0,1279.6 2760.0,1279.6 2761.0,1279.6 2762.0,1279.6 2763.0,1279.6 2764.0,1279.6 2765.0,1279.6 2766.0,1279.6 2767.0,1279.6 2768.0,1279.6 2769.0,1279.6 2770.0,1279.0 2771.0,1269.7 2772.0,1260.4 2773.0,1251.1 2774.0,1241.8 2775.0,1232.5 2776.0,1223.2 2777.0,1213.9 2778.0,1204.7 2779.0,1195.4 2780.0,1186.2 2781.0,1177.0 2782.0,1167.8 2783.0,1158.6 2784.0,1149.5 2785.0,1140.3 2786.0,1131.2 2787.0,1122.2 2788.0,1113.2 2789.0,1104.2 2790.0,1095.3 2791.0,1086.6 2792.0,1077.9 2793.0,1069.4 2794.0,1061.1 2795.0,1053.0 2796.0,1045.4 2797.0,1038.3 2798.0,1032.1 2799.0,1027.0 2800.0,1023.5 2801.0,1022.1 2802.0,1023.0 2803.0,1026.1 2804.0,1030.9 2805.0,1037.0 2806.0,1043.9 2807.0,1051.5 2808.0,1059.4 2809.0,1067.7 2810.0,1076.2 2811.0,1084.8 2812.0,1093.6 2813.0,1102.4 2814.0,1111.4 2815.0,1120.4 2816.0,1129.4 2817.0,1138.5 2818.0,1147.6 2819.0,1156.8 2820.0,1166.0 2821.0,1175.2 2822.0,1184.4 2823.0,1193.6 2824.0,1202.8 2825.0,1212.1 2826.0,1221.4 2827.0,1230.6 2828.0,1239.9 2829.0,1249.2 2830.0,1258.5 2831.0,1267.8 2832.0,1277.1 2833.0,1279.6 2834.0,1279.6 2835.0,1279.6 2836.0,1279.6 2837.0,1279.6" fill="none" stroke="#e5363b" stroke-width="5.5" stroke-linejoin="round"/>
<polyline points="388.0,1278.4 389.0,1278.4 390.0,1278.4 391.0,1278.4 392.0,1278.5 393.0,1278.5 394.0,1278.5 395.0,1278.5 396.0,1278.6 397.0,1278.6 398.0,1278.6 399.0,1278.6 400.0,1278.7 401.0,1278.7 402.0,1278.7 403.0,1278.7 404.0,1278.8 405.0,1278.8 406.0,1278.8 407.0,1278.8 408.0,1278.8 409.0,1278.9 410.0,1278.9 411.0,1278.9 412.0,1278.9 413.0,1278.9 414.0,1279.0 415.0,1279.0 416.0,1279.0 417.0,1279.0 418.0,1279.0 419.0,1279.1 420.0,1279.1 421.0,1279.1 422.0,1279.1 423.0,1279.1 424.0,1279.1 425.0,1279.1 426.0,1279.1 427.0,1279.1 428.0,1279.2 429.0,1279.2 430.0,1279.2 431.0,1279.2 432.0,1279.2 433.0,1279.2 434.0,1279.2 435.0,1279.2 436.0,1279.2 437.0,1279.2 438.0,1279.2 439.0,1279.2 440.0,1279.2 441.0,1279.2 442.0,1279.2 443.0,1279.2 444.0,1279.2 445.0,1279.2 446.0,1279.2 447.0,1279.2 448.0,1279.2 449.0,1279.2 450.0,1279.1 451.0,1279.1 452.0,1279.1 453.0,1279.1 454.0,1279.1 455.0,1279.1 456.0,1279.1 457.0,1279.1 458.0,1279.0 459.0,1279.0 460.0,1279.0 461.0,1279.0 462.0,1279.0 463.0,1279.0 464.0,1278.9 465.0,1278.9 466.0,1278.9 467.0,1278.9 468.0,1278.9 469.0,1278.8 470.0,1278.8 471.0,1278.8 472.0,1278.8 473.0,1278.7 474.0,1278.7 475.0,1278.7 476.0,1278.7 477.0,1278.7 478.0,1278.6 479.0,1278.6 480.0,1278.6 481.0,1278.6 482.0,1278.5 483.0,1278.5 484.0,1278.5 485.0,1278.5 486.0,1278.4 487.0,1278.4 488.0,1278.4 489.0,1278.3 490.0,1278.3 491.0,1278.3 492.0,1278.3 493.0,1278.2 494.0,1278.2 495.0,1278.2 496.0,1278.2 497.0,1278.1 498.0,1278.1 499.0,1278.1 500.0,1278.1 501.0,1278.0 502.0,1278.0 503.0,1278.0 504.0,1278.0 505.0,1278.0 506.0,1277.9 507.0,1277.9 508.0,1277.9 509.0,1277.9 510.0,1277.9 511.0,1277.8 512.0,1277.8 513.0,1277.8 514.0,1277.8 515.0,1277.8 516.0,1277.8 517.0,1277.7 518.0,1277.7 519.0,1277.7 520.0,1277.7 521.0,1277.7 522.0,1277.7 523.0,1277.7 524.0,1277.7 525.0,1277.6 526.0,1277.6 527.0,1277.6 528.0,1277.6 529.0,1277.6 530.0,1277.6 531.0,1277.6 532.0,1277.6 533.0,1277.6 534.0,1277.6 535.0,1277.6 536.0,1277.6 537.0,1277.6 538.0,1277.6 539.0,1277.6 540.0,1277.6 541.0,1277.6 542.0,1277.6 543.0,1277.6 544.0,1277.6 545.0,1277.6 546.0,1277.6 547.0,1277.7 548.0,1277.7 549.0,1277.7 550.0,1277.7 551.0,1277.7 552.0,1277.7 553.0,1277.7 554.0,1277.7 555.0,1277.8 556.0,1277.8 557.0,1277.8 558.0,1277.8 559.0,1277.8 560.0,1277.8 561.0,1277.9 562.0,1277.9 563.0,1277.9 564.0,1277.9 565.0,1277.9 566.0,1278.0 567.0,1278.0 568.0,1278.0 569.0,1278.0 570.0,1278.0 571.0,1278.1 572.0,1278.1 573.0,1278.1 574.0,1278.1 575.0,1278.2 576.0,1278.2 577.0,1278.2 578.0,1278.2 579.0,1278.3 580.0,1278.3 581.0,1278.3 582.0,1278.3 583.0,1278.4 584.0,1278.4 585.0,1278.4 586.0,1278.4 587.0,1278.5 588.0,1278.5 589.0,1278.5 590.0,1278.5 591.0,1278.6 592.0,1278.6 593.0,1278.6 594.0,1278.6 595.0,1278.7 596.0,1278.7 597.0,1278.7 598.0,1278.7 599.0,1278.8 600.0,1278.8 601.0,1278.8 602.0,1278.8 603.0,1278.9 604.0,1278.9 605.0,1278.9 606.0,1278.9 607.0,1278.9 608.0,1279.0 609.0,1279.0 610.0,1279.0 611.0,1279.0 612.0,1279.0 613.0,1279.0 614.0,1279.1 615.0,1279.1 616.0,1279.1 617.0,1279.1 618.0,1279.1 619.0,1279.1 620.0,1279.1 621.0,1279.1 622.0,1279.1 623.0,1279.2 624.0,1279.2 625.0,1279.2 626.0,1279.2 627.0,1279.2 628.0,1279.2 629.0,1279.2 630.0,1279.2 631.0,1279.2 632.0,1279.2 633.0,1279.2 634.0,1279.2 635.0,1279.2 636.0,1279.2 637.0,1279.2 638.0,1279.2 639.0,1279.2 640.0,1279.2 641.0,1279.2 642.0,1279.2 643.0,1279.2 644.0,1279.2 645.0,1279.1 646.0,1279.1 647.0,1279.1 648.0,1279.1 649.0,1279.1 650.0,1279.1 651.0,1279.1 652.0,1279.1 653.0,1279.0 654.0,1279.0 655.0,1279.0 656.0,1279.0 657.0,1279.0 658.0,1279.0 659.0,1278.9 660.0,1278.9 661.0,1278.9 662.0,1278.9 663.0,1278.9 664.0,1278.8 665.0,1278.8 666.0,1278.8 667.0,1278.8 668.0,1278.7 669.0,1278.7 670.0,1278.7 671.0,1278.7 672.0,1278.6 673.0,1278.6 674.0,1278.6 675.0,1278.6 676.0,1278.5 677.0,1278.5 678.0,1278.5 679.0,1278.5 680.0,1278.4 681.0,1278.4 682.0,1278.4 683.0,1278.4 684.0,1278.3 685.0,1278.3 686.0,1278.3 687.0,1278.3 688.0,1278.2 689.0,1278.2 690.0,1278.2 691.0,1278.2 692.0,1278.1 693.0,1278.1 694.0,1278.1 695.0,1278.1 696.0,1278.0 697.0,1278.0 698.0,1278.0 699.0,1278.0 700.0,1278.0 701.0,1277.9 702.0,1277.9 703.0,1277.9 704.0,1277.9 705.0,1277.9 706.0,1277.8 707.0,1277.8 708.0,1277.8 709.0,1277.8 710.0,1277.8 711.0,1277.8 712.0,1277.7 713.0,1277.7 714.0,1277.7 715.0,1277.7 716.0,1277.7 717.0,1277.7 718.0,1277.7 719.0,1277.7 720.0,1277.6 721.0,1277.6 722.0,1277.6 723.0,1277.6 724.0,1277.6 725.0,1277.6 726.0,1277.6 727.0,1277.6 728.0,1277.6 729.0,1277.6 730.0,1277.6 731.0,1277.6 732.0,1277.6 733.0,1277.6 734.0,1277.6 735.0,1277.6 736.0,1277.6 737.0,1277.6 738.0,1277.6 739.0,1277.6 740.0,1277.6 741.0,1277.6 742.0,1277.7 743.0,1277.7 744.0,1277.7 745.0,1277.7 746.0,1277.7 747.0,1277.7 748.0,1277.7 749.0,1277.7 750.0,1277.8 751.0,1277.8 752.0,1277.8 753.0,1277.8 754.0,1277.8 755.0,1277.8 756.0,1277.9 757.0,1277.9 758.0,1277.9 759.0,1277.9 760.0,1277.9 761.0,1278.0 762.0,1278.0 763.0,1278.0 764.0,1278.0 765.0,1278.0 766.0,1278.1 767.0,1278.1 768.0,1278.1 769.0,1278.1 770.0,1278.2 771.0,1278.2 772.0,1278.2 773.0,1278.2 774.0,1278.3 775.0,1278.3 776.0,1278.3 777.0,1278.3 778.0,1278.4 779.0,1278.4 780.0,1278.4 781.0,1278.4 782.0,1278.5 783.0,1278.5 784.0,1278.5 785.0,1278.6 786.0,1278.6 787.0,1278.6 788.0,1278.6 789.0,1278.7 790.0,1278.7 791.0,1278.7 792.0,1278.7 793.0,1278.7 794.0,1278.8 795.0,1278.8 796.0,1278.8 797.0,1278.8 798.0,1278.9 799.0,1278.9 800.0,1278.9 801.0,1278.9 802.0,1278.9 803.0,1279.0 804.0,1279.0 805.0,1279.0 806.0,1279.0 807.0,1279.0 808.0,1279.0 809.0,1279.1 810.0,1279.1 811.0,1279.1 812.0,1273.3 813.0,1262.0 814.0,1250.7 815.0,1239.3 816.0,1228.0 817.0,1216.7 818.0,1205.4 819.0,1194.1 820.0,1182.8 821.0,1171.6 822.0,1160.3 823.0,1149.1 824.0,1137.8 825.0,1126.6 826.0,1115.5 827.0,1104.3 828.0,1093.2 829.0,1082.1 830.0,1071.1 831.0,1060.1 832.0,1049.2 833.0,1038.3 834.0,1027.6 835.0,1017.0 836.0,1006.6 837.0,996.4 838.0,986.6 839.0,977.1 840.0,968.4 841.0,960.5 842.0,953.9 843.0,949.3 844.0,947.0 845.0,947.6 846.0,950.8 847.0,956.3 848.0,963.4 849.0,971.7 850.0,980.7 851.0,990.3 852.0,1000.2 853.0,1010.5 854.0,1021.0 855.0,1031.6 856.0,1042.3 857.0,1053.2 858.0,1064.1 859.0,1075.1 860.0,1086.1 861.0,1097.2 862.0,1108.3 863.0,1119.5 864.0,1130.6 865.0,1141.8 866.0,1153.0 867.0,1164.3 868.0,1175.5 869.0,1186.8 870.0,1198.0 871.0,1209.3 872.0,1220.6 873.0,1231.9 874.0,1243.2 875.0,1254.5 876.0,1265.8 877.0,1277.2 878.0,1278.4 879.0,1278.3 880.0,1278.3 881.0,1278.3 882.0,1278.3 883.0,1278.2 884.0,1278.2 885.0,1278.2 886.0,1278.2 887.0,1278.1 888.0,1278.1 889.0,1278.1 890.0,1278.1 891.0,1278.0 892.0,1278.0 893.0,1278.0 894.0,1278.0 895.0,1278.0 896.0,1277.9 897.0,1277.9 898.0,1277.9 899.0,1277.9 900.0,1277.9 901.0,1277.8 902.0,1277.8 903.0,1277.8 904.0,1277.8 905.0,1277.8 906.0,1277.7 907.0,1277.7 908.0,1277.7 909.0,1277.7 910.0,1277.7 911.0,1277.7 912.0,1277.7 913.0,1277.7 914.0,1277.7 915.0,1277.6 916.0,1277.6 917.0,1277.6 918.0,1277.6 919.0,1277.6 920.0,1277.6 921.0,1277.6 922.0,1277.6 923.0,1277.6 924.0,1277.6 925.0,1277.6 926.0,1277.6 927.0,1277.6 928.0,1277.6 929.0,1277.6 930.0,1277.6 931.0,1276.4 932.0,1275.2 933.0,1274.0 934.0,1272.9 935.0,1271.8 936.0,1270.9 937.0,1270.0 938.0,1269.3 939.0,1268.8 940.0,1268.7 941.0,1268.7 942.0,1268.8 943.0,1269.0 944.0,1269.2 945.0,1269.4 946.0,1269.6 947.0,1269.8 948.0,1270.0 949.0,1270.3 950.0,1270.5 951.0,1270.8 952.0,1271.0 953.0,1271.3 954.0,1271.5 955.0,1271.8 956.0,1272.1 957.0,1272.3 958.0,1272.6 959.0,1272.9 960.0,1273.1 961.0,1273.4 962.0,1273.7 963.0,1273.9 964.0,1274.2 965.0,1274.5 966.0,1274.7 967.0,1275.0 968.0,1275.3 969.0,1275.6 970.0,1275.8 971.0,1276.1 972.0,1276.4 973.0,1276.6 974.0,1276.9 975.0,1277.2 976.0,1277.5 977.0,1277.7 978.0,1278.0 979.0,1278.3 980.0,1278.6 981.0,1278.6 982.0,1278.6 983.0,1278.6 984.0,1278.7 985.0,1278.7 986.0,1278.7 987.0,1278.7 988.0,1278.8 989.0,1278.8 990.0,1278.8 991.0,1278.8 992.0,1278.8 993.0,1278.9 994.0,1278.9 995.0,1278.9 996.0,1278.9 997.0,1278.9 998.0,1279.0 999.0,1279.0 1000.0,1279.0 1001.0,1279.0 1002.0,1279.0 1003.0,1279.0 1004.0,1279.1 1005.0,1279.1 1006.0,1279.1 1007.0,1279.1 1008.0,1279.1 1009.0,1279.1 1010.0,1279.1 1011.0,1279.1 1012.0,1279.2 1013.0,1279.2 1014.0,1279.2 1015.0,1279.2 1016.0,1279.2 1017.0,1279.2 1018.0,1279.2 1019.0,1279.2 1020.0,1279.2 1021.0,1279.2 1022.0,1279.2 1023.0,1279.2 1024.0,1279.2 1025.0,1279.2 1026.0,1279.2 1027.0,1279.2 1028.0,1279.2 1029.0,1279.2 1030.0,1279.2 1031.0,1279.2 1032.0,1279.2 1033.0,1279.2 1034.0,1279.1 1035.0,1279.1 1036.0,1279.1 1037.0,1279.1 1038.0,1279.1 1039.0,1279.1 1040.0,1279.1 1041.0,1279.1 1042.0,1278.6 1043.0,1272.7 1044.0,1266.8 1045.0,1260.9 1046.0,1255.1 1047.0,1249.2 1048.0,1243.3 1049.0,1237.4 1050.0,1231.6 1051.0,1225.7 1052.0,1219.9 1053.0,1214.1 1054.0,1208.3 1055.0,1202.5 1056.0,1196.7 1057.0,1191.0 1058.0,1185.3 1059.0,1179.6 1060.0,1174.0 1061.0,1168.4 1062.0,1163.0 1063.0,1157.6 1064.0,1152.4 1065.0,1147.4 1066.0,1142.6 1067.0,1138.3 1068.0,1134.6 1069.0,1131.7 1070.0,1130.0 1071.0,1129.7 1072.0,1130.8 1073.0,1133.2 1074.0,1136.6 1075.0,1140.6 1076.0,1145.2 1077.0,1150.0 1078.0,1155.1 1079.0,1160.4 1080.0,1165.8 1081.0,1171.2 1082.0,1176.8 1083.0,1182.4 1084.0,1188.0 1085.0,1193.7 1086.0,1199.4 1087.0,1205.1 1088.0,1210.9 1089.0,1216.7 1090.0,1222.5 1091.0,1228.3 1092.0,1234.1 1093.0,1239.9 1094.0,1245.7 1095.0,1251.6 1096.0,1257.4 1097.0,1263.3 1098.0,1269.1 1099.0,1275.0 1100.0,1277.8 1101.0,1277.7 1102.0,1277.7 1103.0,1277.7 1104.0,1277.7 1105.0,1277.7 1106.0,1277.7 1107.0,1277.7 1108.0,1277.7 1109.0,1277.6 1110.0,1277.6 1111.0,1277.6 1112.0,1277.6 1113.0,1277.6 1114.0,1277.6 1115.0,1277.6 1116.0,1277.6 1117.0,1277.6 1118.0,1277.6 1119.0,1277.6 1120.0,1277.6 1121.0,1277.6 1122.0,1277.6 1123.0,1277.6 1124.0,1277.6 1125.0,1277.6 1126.0,1277.6 1127.0,1277.6 1128.0,1277.6 1129.0,1277.6 1130.0,1277.6 1131.0,1277.7 1132.0,1277.7 1133.0,1277.7 1134.0,1277.7 1135.0,1277.7 1136.0,1277.7 1137.0,1277.7 1138.0,1277.7 1139.0,1277.7 1140.0,1277.8 1141.0,1277.8 1142.0,1277.8 1143.0,1277.8 1144.0,1277.8 1145.0,1277.8 1146.0,1277.9 1147.0,1277.9 1148.0,1277.9 1149.0,1277.9 1150.0,1277.9 1151.0,1278.0 1152.0,1278.0 1153.0,1278.0 1154.0,1278.0 1155.0,1278.1 1156.0,1278.1 1157.0,1278.1 1158.0,1278.1 1159.0,1278.2 1160.0,1278.2 1161.0,1278.2 1162.0,1278.2 1163.0,1278.3 1164.0,1272.0 1165.0,1264.2 1166.0,1256.4 1167.0,1248.6 1168.0,1240.8 1169.0,1233.0 1170.0,1225.2 1171.0,1217.4 1172.0,1209.7 1173.0,1201.9 1174.0,1194.2 1175.0,1186.5 1176.0,1178.8 1177.0,1171.1 1178.0,1163.4 1179.0,1155.8 1180.0,1148.2 1181.0,1140.7 1182.0,1133.2 1183.0,1125.8 1184.0,1118.5 1185.0,1111.3 1186.0,1104.3 1187.0,1097.5 1188.0,1091.0 1189.0,1084.9 1190.0,1079.5 1191.0,1075.0 1192.0,1071.8 1193.0,1070.3 1194.0,1070.7 1195.0,1072.9 1196.0,1076.8 1197.0,1081.7 1198.0,1087.5 1199.0,1093.7 1200.0,1100.4 1201.0,1107.3 1202.0,1114.5 1203.0,1121.7 1204.0,1129.1 1205.0,1136.6 1206.0,1144.1 1207.0,1151.7 1208.0,1159.4 1209.0,1167.0 1210.0,1174.7 1211.0,1182.4 1212.0,1190.2 1213.0,1197.9 1214.0,1205.7 1215.0,1213.5 1216.0,1221.3 1217.0,1229.1 1218.0,1236.9 1219.0,1244.7 1220.0,1252.6 1221.0,1260.4 1222.0,1268.3 1223.0,1276.1 1224.0,1279.2 1225.0,1279.2 1226.0,1279.2 1227.0,1279.2 1228.0,1279.2 1229.0,1279.1 1230.0,1279.1 1231.0,1276.1 1232.0,1270.1 1233.0,1264.2 1234.0,1258.3 1235.0,1252.3 1236.0,1246.4 1237.0,1240.5 1238.0,1234.5 1239.0,1228.6 1240.0,1222.7 1241.0,1216.9 1242.0,1211.0 1243.0,1205.1 1244.0,1199.3 1245.0,1193.5 1246.0,1187.7 1247.0,1182.0 1248.0,1176.3 1249.0,1170.6 1250.0,1165.0 1251.0,1159.6 1252.0,1154.2 1253.0,1149.0 1254.0,1144.0 1255.0,1139.4 1256.0,1135.3 1257.0,1131.8 1258.0,1129.3 1259.0,1128.1 1260.0,1128.4 1261.0,1130.1 1262.0,1133.0 1263.0,1136.7 1264.0,1141.0 1265.0,1145.7 1266.0,1150.7 1267.0,1155.9 1268.0,1161.3 1269.0,1166.8 1270.0,1172.3 1271.0,1178.0 1272.0,1183.6 1273.0,1189.3 1274.0,1195.1 1275.0,1200.9 1276.0,1206.7 1277.0,1212.5 1278.0,1218.3 1279.0,1224.2 1280.0,1230.0 1281.0,1235.9 1282.0,1241.8 1283.0,1247.7 1284.0,1253.6 1285.0,1259.5 1286.0,1265.4 1287.0,1271.3 1288.0,1277.2 1289.0,1277.9 1290.0,1277.8 1291.0,1277.8 1292.0,1277.8 1293.0,1277.8 1294.0,1277.8 1295.0,1277.8 1296.0,1277.7 1297.0,1277.7 1298.0,1277.7 1299.0,1277.7 1300.0,1277.7 1301.0,1277.7 1302.0,1277.7 1303.0,1277.7 1304.0,1277.6 1305.0,1277.6 1306.0,1277.6 1307.0,1277.6 1308.0,1277.6 1309.0,1277.6 1310.0,1277.6 1311.0,1277.6 1312.0,1277.6 1313.0,1277.6 1314.0,1277.6 1315.0,1277.6 1316.0,1277.6 1317.0,1277.6 1318.0,1277.6 1319.0,1277.6 1320.0,1277.6 1321.0,1277.6 1322.0,1277.6 1323.0,1277.6 1324.0,1277.6 1325.0,1277.6 1326.0,1277.7 1327.0,1277.7 1328.0,1277.7 1329.0,1277.7 1330.0,1277.7 1331.0,1277.7 1332.0,1277.7 1333.0,1277.7 1334.0,1277.7 1335.0,1277.8 1336.0,1277.8 1337.0,1277.8 1338.0,1277.8 1339.0,1277.8 1340.0,1277.9 1341.0,1277.9 1342.0,1277.9 1343.0,1277.9 1344.0,1277.9 1345.0,1278.0 1346.0,1278.0 1347.0,1278.0 1348.0,1278.0 1349.0,1278.0 1350.0,1278.1 1351.0,1278.1 1352.0,1278.1 1353.0,1278.1 1354.0,1278.2 1355.0,1278.2 1356.0,1278.2 1357.0,1278.2 1358.0,1278.3 1359.0,1278.3 1360.0,1278.3 1361.0,1278.3 1362.0,1278.4 1363.0,1278.4 1364.0,1278.4 1365.0,1278.4 1366.0,1278.5 1367.0,1278.5 1368.0,1278.5 1369.0,1278.5 1370.0,1278.6 1371.0,1278.6 1372.0,1278.6 1373.0,1278.6 1374.0,1278.7 1375.0,1278.7 1376.0,1278.7 1377.0,1278.7 1378.0,1278.8 1379.0,1278.8 1380.0,1278.8 1381.0,1278.8 1382.0,1278.9 1383.0,1278.9 1384.0,1278.9 1385.0,1278.9 1386.0,1278.9 1387.0,1279.0 1388.0,1279.0 1389.0,1279.0 1390.0,1279.0 1391.0,1279.0 1392.0,1279.0 1393.0,1279.1 1394.0,1279.1 1395.0,1279.1 1396.0,1279.1 1397.0,1279.1 1398.0,1279.1 1399.0,1279.1 1400.0,1279.1 1401.0,1279.1 1402.0,1279.2 1403.0,1279.2 1404.0,1279.2 1405.0,1279.2 1406.0,1279.2 1407.0,1279.2 1408.0,1279.2 1409.0,1279.2 1410.0,1279.2 1411.0,1279.2 1412.0,1279.2 1413.0,1279.2 1414.0,1279.2 1415.0,1279.2 1416.0,1279.2 1417.0,1279.2 1418.0,1279.2 1419.0,1279.2 1420.0,1279.2 1421.0,1279.2 1422.0,1279.2 1423.0,1279.2 1424.0,1279.1 1425.0,1279.1 1426.0,1279.1 1427.0,1279.1 1428.0,1279.1 1429.0,1279.1 1430.0,1279.1 1431.0,1279.1 1432.0,1279.0 1433.0,1279.0 1434.0,1279.0 1435.0,1279.0 1436.0,1279.0 1437.0,1279.0 1438.0,1278.9 1439.0,1278.9 1440.0,1278.9 1441.0,1278.9 1442.0,1278.9 1443.0,1278.8 1444.0,1278.8 1445.0,1278.8 1446.0,1278.8 1447.0,1278.7 1448.0,1278.7 1449.0,1278.7 1450.0,1278.7 1451.0,1278.6 1452.0,1278.6 1453.0,1278.6 1454.0,1278.6 1455.0,1278.5 1456.0,1278.5 1457.0,1278.5 1458.0,1278.5 1459.0,1278.4 1460.0,1278.4 1461.0,1278.4 1462.0,1278.4 1463.0,1278.3 1464.0,1278.3 1465.0,1278.3 1466.0,1278.3 1467.0,1278.2 1468.0,1278.2 1469.0,1278.2 1470.0,1278.2 1471.0,1278.1 1472.0,1278.1 1473.0,1278.1 1474.0,1278.1 1475.0,1278.0 1476.0,1278.0 1477.0,1278.0 1478.0,1278.0 1479.0,1278.0 1480.0,1277.9 1481.0,1277.9 1482.0,1277.9 1483.0,1277.9 1484.0,1277.9 1485.0,1277.8 1486.0,1277.8 1487.0,1277.8 1488.0,1277.8 1489.0,1277.8 1490.0,1277.8 1491.0,1277.7 1492.0,1277.7 1493.0,1277.7 1494.0,1277.7 1495.0,1277.7 1496.0,1277.7 1497.0,1277.7 1498.0,1277.7 1499.0,1277.6 1500.0,1277.6 1501.0,1277.6 1502.0,1277.6 1503.0,1277.6 1504.0,1277.6 1505.0,1277.6 1506.0,1277.6 1507.0,1277.6 1508.0,1277.6 1509.0,1277.6 1510.0,1277.6 1511.0,1277.6 1512.0,1277.6 1513.0,1277.6 1514.0,1277.6 1515.0,1277.6 1516.0,1277.6 1517.0,1277.6 1518.0,1277.6 1519.0,1277.6 1520.0,1277.6 1521.0,1277.7 1522.0,1277.7 1523.0,1277.7 1524.0,1277.7 1525.0,1277.7 1526.0,1277.7 1527.0,1277.7 1528.0,1277.7 1529.0,1277.8 1530.0,1277.8 1531.0,1277.8 1532.0,1277.8 1533.0,1277.8 1534.0,1277.8 1535.0,1277.9 1536.0,1277.9 1537.0,1277.9 1538.0,1277.9 1539.0,1277.9 1540.0,1278.0 1541.0,1278.0 1542.0,1278.0 1543.0,1278.0 1544.0,1278.0 1545.0,1278.1 1546.0,1278.1 1547.0,1278.1 1548.0,1278.1 1549.0,1278.2 1550.0,1278.2 1551.0,1278.2 1552.0,1278.2 1553.0,1278.3 1554.0,1278.3 1555.0,1278.3 1556.0,1278.3 1557.0,1278.4 1558.0,1278.4 1559.0,1278.4 1560.0,1278.4 1561.0,1278.5 1562.0,1278.5 1563.0,1278.5 1564.0,1278.5 1565.0,1278.6 1566.0,1278.6 1567.0,1278.6 1568.0,1278.6 1569.0,1278.7 1570.0,1278.7 1571.0,1278.7 1572.0,1278.7 1573.0,1278.8 1574.0,1278.8 1575.0,1278.8 1576.0,1278.8 1577.0,1278.9 1578.0,1278.9 1579.0,1278.9 1580.0,1278.9 1581.0,1278.9 1582.0,1279.0 1583.0,1279.0 1584.0,1279.0 1585.0,1279.0 1586.0,1279.0 1587.0,1278.6 1588.0,1275.5 1589.0,1272.3 1590.0,1269.2 1591.0,1266.1 1592.0,1263.0 1593.0,1259.9 1594.0,1256.8 1595.0,1253.7 1596.0,1250.6 1597.0,1247.5 1598.0,1244.4 1599.0,1241.3 1600.0,1238.3 1601.0,1235.2 1602.0,1232.2 1603.0,1229.2 1604.0,1226.2 1605.0,1223.3 1606.0,1220.4 1607.0,1217.6 1608.0,1214.9 1609.0,1212.3 1610.0,1210.0 1611.0,1207.9 1612.0,1206.2 1613.0,1205.1 1614.0,1204.7 1615.0,1205.1 1616.0,1206.2 1617.0,1207.8 1618.0,1209.9 1619.0,1212.3 1620.0,1214.8 1621.0,1217.5 1622.0,1220.3 1623.0,1223.2 1624.0,1226.1 1625.0,1229.1 1626.0,1232.1 1627.0,1235.1 1628.0,1238.1 1629.0,1241.1 1630.0,1244.2 1631.0,1247.3 1632.0,1250.4 1633.0,1253.4 1634.0,1256.5 1635.0,1259.6 1636.0,1262.7 1637.0,1265.9 1638.0,1269.0 1639.0,1272.1 1640.0,1275.2 1641.0,1278.3 1642.0,1278.7 1643.0,1278.7 1644.0,1278.7 1645.0,1278.7 1646.0,1278.6 1647.0,1278.6 1648.0,1278.6 1649.0,1278.6 1650.0,1278.5 1651.0,1278.5 1652.0,1278.5 1653.0,1278.5 1654.0,1278.4 1655.0,1278.4 1656.0,1278.4 1657.0,1278.4 1658.0,1278.3 1659.0,1278.3 1660.0,1278.3 1661.0,1278.3 1662.0,1278.2 1663.0,1278.2 1664.0,1278.2 1665.0,1278.2 1666.0,1278.1 1667.0,1278.1 1668.0,1278.1 1669.0,1278.1 1670.0,1278.0 1671.0,1278.0 1672.0,1278.0 1673.0,1278.0 1674.0,1278.0 1675.0,1277.9 1676.0,1277.9 1677.0,1277.9 1678.0,1277.9 1679.0,1277.9 1680.0,1277.8 1681.0,1277.8 1682.0,1277.8 1683.0,1277.8 1684.0,1277.8 1685.0,1277.8 1686.0,1277.7 1687.0,1277.7 1688.0,1277.7 1689.0,1277.7 1690.0,1277.7 1691.0,1277.7 1692.0,1277.7 1693.0,1277.7 1694.0,1277.6 1695.0,1277.6 1696.0,1277.6 1697.0,1277.6 1698.0,1277.6 1699.0,1277.6 1700.0,1277.6 1701.0,1277.6 1702.0,1277.6 1703.0,1277.6 1704.0,1277.6 1705.0,1277.6 1706.0,1277.6 1707.0,1277.6 1708.0,1277.6 1709.0,1277.6 1710.0,1277.6 1711.0,1277.6 1712.0,1277.6 1713.0,1277.6 1714.0,1277.6 1715.0,1277.6 1716.0,1277.7 1717.0,1277.7 1718.0,1277.7 1719.0,1277.7 1720.0,1277.7 1721.0,1277.7 1722.0,1277.7 1723.0,1277.7 1724.0,1277.8 1725.0,1277.8 1726.0,1277.8 1727.0,1277.8 1728.0,1277.8 1729.0,1277.8 1730.0,1277.9 1731.0,1277.9 1732.0,1277.9 1733.0,1277.9 1734.0,1277.9 1735.0,1278.0 1736.0,1278.0 1737.0,1278.0 1738.0,1278.0 1739.0,1278.1 1740.0,1278.1 1741.0,1278.1 1742.0,1278.1 1743.0,1278.1 1744.0,1278.2 1745.0,1278.2 1746.0,1278.2 1747.0,1278.2 1748.0,1278.3 1749.0,1278.3 1750.0,1278.3 1751.0,1278.3 1752.0,1278.4 1753.0,1278.4 1754.0,1278.4 1755.0,1278.5 1756.0,1278.5 1757.0,1278.5 1758.0,1278.5 1759.0,1278.6 1760.0,1278.6 1761.0,1278.6 1762.0,1278.6 1763.0,1278.7 1764.0,1278.7 1765.0,1278.7 1766.0,1278.7 1767.0,1278.7 1768.0,1278.8 1769.0,1278.8 1770.0,1278.8 1771.0,1278.8 1772.0,1278.9 1773.0,1278.9 1774.0,1278.9 1775.0,1278.9 1776.0,1278.9 1777.0,1279.0 1778.0,1279.0 1779.0,1279.0 1780.0,1279.0 1781.0,1279.0 1782.0,1279.0 1783.0,1279.1 1784.0,1279.1 1785.0,1279.1 1786.0,1279.1 1787.0,1279.1 1788.0,1279.1 1789.0,1279.1 1790.0,1279.1 1791.0,1279.2 1792.0,1279.2 1793.0,1279.2 1794.0,1279.2 1795.0,1279.2 1796.0,1279.2 1797.0,1279.2 1798.0,1279.2 1799.0,1279.2 1800.0,1279.2 1801.0,1279.2 1802.0,1279.2 1803.0,1279.2 1804.0,1279.2 1805.0,1279.2 1806.0,1279.2 1807.0,1279.2 1808.0,1279.2 1809.0,1279.2 1810.0,1279.2 1811.0,1279.2 1812.0,1279.2 1813.0,1279.1 1814.0,1279.1 1815.0,1279.1 1816.0,1279.1 1817.0,1279.1 1818.0,1279.1 1819.0,1279.1 1820.0,1279.1 1821.0,1279.0 1822.0,1279.0 1823.0,1279.0 1824.0,1279.0 1825.0,1279.0 1826.0,1279.0 1827.0,1278.9 1828.0,1278.9 1829.0,1278.9 1830.0,1278.9 1831.0,1278.9 1832.0,1278.8 1833.0,1278.8 1834.0,1278.8 1835.0,1278.8 1836.0,1278.8 1837.0,1278.7 1838.0,1278.7 1839.0,1278.7 1840.0,1278.7 1841.0,1278.6 1842.0,1278.6 1843.0,1278.6 1844.0,1278.6 1845.0,1278.5 1846.0,1278.5 1847.0,1278.5 1848.0,1278.5 1849.0,1278.4 1850.0,1278.4 1851.0,1278.4 1852.0,1278.4 1853.0,1278.3 1854.0,1278.3 1855.0,1278.3 1856.0,1278.3 1857.0,1278.2 1858.0,1278.2 1859.0,1278.2 1860.0,1278.2 1861.0,1278.1 1862.0,1278.1 1863.0,1278.1 1864.0,1278.1 1865.0,1278.0 1866.0,1278.0 1867.0,1278.0 1868.0,1278.0 1869.0,1277.9 1870.0,1277.9 1871.0,1277.9 1872.0,1277.9 1873.0,1277.9 1874.0,1277.8 1875.0,1277.8 1876.0,1277.8 1877.0,1277.8 1878.0,1277.8 1879.0,1277.8 1880.0,1277.7 1881.0,1277.7 1882.0,1277.7 1883.0,1277.7 1884.0,1277.7 1885.0,1277.7 1886.0,1277.7 1887.0,1277.7 1888.0,1277.7 1889.0,1277.6 1890.0,1277.6 1891.0,1277.6 1892.0,1277.6 1893.0,1277.6 1894.0,1277.6 1895.0,1277.6 1896.0,1277.6 1897.0,1277.6 1898.0,1277.6 1899.0,1277.6 1900.0,1277.6 1901.0,1277.6 1902.0,1277.6 1903.0,1277.6 1904.0,1277.6 1905.0,1277.6 1906.0,1277.6 1907.0,1277.6 1908.0,1277.6 1909.0,1277.6 1910.0,1277.6 1911.0,1277.7 1912.0,1277.7 1913.0,1277.7 1914.0,1277.7 1915.0,1277.7 1916.0,1277.7 1917.0,1277.7 1918.0,1277.7 1919.0,1277.8 1920.0,1277.8 1921.0,1277.8 1922.0,1277.8 1923.0,1277.8 1924.0,1277.8 1925.0,1277.9 1926.0,1277.9 1927.0,1277.9 1928.0,1277.9 1929.0,1277.9 1930.0,1278.0 1931.0,1278.0 1932.0,1278.0 1933.0,1278.0 1934.0,1278.1 1935.0,1278.1 1936.0,1278.1 1937.0,1278.1 1938.0,1278.2 1939.0,1278.2 1940.0,1278.2 1941.0,1278.2 1942.0,1278.3 1943.0,1278.3 1944.0,1278.3 1945.0,1278.3 1946.0,1278.4 1947.0,1278.4 1948.0,1278.4 1949.0,1278.4 1950.0,1278.5 1951.0,1278.5 1952.0,1278.5 1953.0,1278.5 1954.0,1278.6 1955.0,1278.6 1956.0,1278.6 1957.0,1278.6 1958.0,1278.7 1959.0,1278.7 1960.0,1278.7 1961.0,1278.7 1962.0,1278.8 1963.0,1278.8 1964.0,1278.8 1965.0,1278.8 1966.0,1278.8 1967.0,1278.9 1968.0,1278.9 1969.0,1278.9 1970.0,1278.9 1971.0,1278.9 1972.0,1279.0 1973.0,1279.0 1974.0,1279.0 1975.0,1279.0 1976.0,1279.0 1977.0,1279.0 1978.0,1279.1 1979.0,1279.1 1980.0,1279.1 1981.0,1279.1 1982.0,1279.1 1983.0,1279.1 1984.0,1279.1 1985.0,1279.1 1986.0,1279.2 1987.0,1279.2 1988.0,1279.2 1989.0,1279.2 1990.0,1279.2 1991.0,1279.2 1992.0,1279.2 1993.0,1279.2 1994.0,1279.2 1995.0,1279.2 1996.0,1279.2 1997.0,1279.2 1998.0,1279.2 1999.0,1279.2 2000.0,1279.2 2001.0,1279.2 2002.0,1279.2 2003.0,1279.2 2004.0,1279.2 2005.0,1279.2 2006.0,1279.2 2007.0,1279.2 2008.0,1279.1 2009.0,1279.1 2010.0,1279.1 2011.0,1279.1 2012.0,1279.1 2013.0,1279.1 2014.0,1279.1 2015.0,1279.1 2016.0,1279.0 2017.0,1279.0 2018.0,1279.0 2019.0,1279.0 2020.0,1279.0 2021.0,1279.0 2022.0,1278.9 2023.0,1278.9 2024.0,1278.9 2025.0,1278.9 2026.0,1278.9 2027.0,1278.8 2028.0,1278.8 2029.0,1278.8 2030.0,1278.8 2031.0,1278.8 2032.0,1278.7 2033.0,1278.7 2034.0,1278.7 2035.0,1278.7 2036.0,1278.6 2037.0,1278.6 2038.0,1278.6 2039.0,1278.6 2040.0,1278.5 2041.0,1278.5 2042.0,1278.5 2043.0,1278.5 2044.0,1278.4 2045.0,1278.4 2046.0,1278.4 2047.0,1278.4 2048.0,1278.3 2049.0,1278.3 2050.0,1278.3 2051.0,1278.3 2052.0,1278.2 2053.0,1278.2 2054.0,1278.2 2055.0,1278.2 2056.0,1278.1 2057.0,1278.1 2058.0,1278.1 2059.0,1278.1 2060.0,1278.0 2061.0,1278.0 2062.0,1278.0 2063.0,1278.0 2064.0,1277.9 2065.0,1277.9 2066.0,1277.9 2067.0,1277.9 2068.0,1277.9 2069.0,1277.8 2070.0,1277.8 2071.0,1277.8 2072.0,1277.8 2073.0,1277.8 2074.0,1277.8 2075.0,1277.7 2076.0,1277.7 2077.0,1277.7 2078.0,1277.7 2079.0,1277.7 2080.0,1277.7 2081.0,1277.7 2082.0,1277.7 2083.0,1277.6 2084.0,1277.6 2085.0,1277.6 2086.0,1277.6 2087.0,1277.6 2088.0,1277.6 2089.0,1277.6 2090.0,1277.6 2091.0,1277.6 2092.0,1277.6 2093.0,1277.6 2094.0,1277.6 2095.0,1277.6 2096.0,1277.6 2097.0,1277.6 2098.0,1277.6 2099.0,1277.6 2100.0,1277.6 2101.0,1277.6 2102.0,1277.6 2103.0,1277.6 2104.0,1277.6 2105.0,1277.7 2106.0,1277.7 2107.0,1277.7 2108.0,1277.7 2109.0,1277.7 2110.0,1277.7 2111.0,1277.7 2112.0,1277.7 2113.0,1277.7 2114.0,1277.8 2115.0,1277.8 2116.0,1277.8 2117.0,1277.8 2118.0,1277.8 2119.0,1277.8 2120.0,1277.9 2121.0,1277.9 2122.0,1277.9 2123.0,1277.9 2124.0,1277.9 2125.0,1278.0 2126.0,1278.0 2127.0,1278.0 2128.0,1278.0 2129.0,1278.1 2130.0,1278.1 2131.0,1278.1 2132.0,1278.1 2133.0,1278.2 2134.0,1278.2 2135.0,1278.2 2136.0,1278.2 2137.0,1278.3 2138.0,1278.3 2139.0,1278.3 2140.0,1278.3 2141.0,1278.4 2142.0,1278.4 2143.0,1278.4 2144.0,1278.4 2145.0,1278.5 2146.0,1278.5 2147.0,1278.5 2148.0,1278.5 2149.0,1278.6 2150.0,1278.6 2151.0,1278.6 2152.0,1278.6 2153.0,1278.7 2154.0,1278.7 2155.0,1278.7 2156.0,1278.7 2157.0,1278.8 2158.0,1278.8 2159.0,1278.8 2160.0,1278.8 2161.0,1278.8 2162.0,1278.9 2163.0,1278.9 2164.0,1278.9 2165.0,1278.9 2166.0,1278.9 2167.0,1279.0 2168.0,1279.0 2169.0,1279.0 2170.0,1279.0 2171.0,1279.0 2172.0,1279.1 2173.0,1279.1 2174.0,1279.1 2175.0,1279.1 2176.0,1279.1 2177.0,1279.1 2178.0,1279.1 2179.0,1279.1 2180.0,1279.1 2181.0,1279.2 2182.0,1279.2 2183.0,1279.2 2184.0,1279.2 2185.0,1279.2 2186.0,1279.2 2187.0,1279.2 2188.0,1279.2 2189.0,1279.2 2190.0,1279.2 2191.0,1279.2 2192.0,1279.2 2193.0,1279.2 2194.0,1279.2 2195.0,1279.2 2196.0,1279.2 2197.0,1279.2 2198.0,1279.2 2199.0,1279.2 2200.0,1279.2 2201.0,1279.2 2202.0,1279.2 2203.0,1279.1 2204.0,1279.1 2205.0,1279.1 2206.0,1279.1 2207.0,1279.1 2208.0,1279.1 2209.0,1279.1 2210.0,1279.1 2211.0,1279.0 2212.0,1279.0 2213.0,1279.0 2214.0,1279.0 2215.0,1279.0 2216.0,1279.0 2217.0,1278.9 2218.0,1278.9 2219.0,1278.9 2220.0,1278.9 2221.0,1278.9 2222.0,1278.8 2223.0,1278.8 2224.0,1278.8 2225.0,1278.8 2226.0,1278.7 2227.0,1278.7 2228.0,1278.7 2229.0,1278.7 2230.0,1278.7 2231.0,1278.6 2232.0,1278.6 2233.0,1278.6 2234.0,1278.6 2235.0,1278.5 2236.0,1278.5 2237.0,1278.5 2238.0,1278.5 2239.0,1278.4 2240.0,1278.4 2241.0,1278.4 2242.0,1278.3 2243.0,1278.3 2244.0,1278.3 2245.0,1278.3 2246.0,1278.2 2247.0,1278.2 2248.0,1278.2 2249.0,1278.2 2250.0,1278.1 2251.0,1278.1 2252.0,1278.1 2253.0,1278.1 2254.0,1278.0 2255.0,1278.0 2256.0,1278.0 2257.0,1278.0 2258.0,1278.0 2259.0,1277.9 2260.0,1277.9 2261.0,1277.9 2262.0,1277.9 2263.0,1277.9 2264.0,1277.8 2265.0,1277.8 2266.0,1277.8 2267.0,1277.8 2268.0,1277.8 2269.0,1277.8 2270.0,1277.7 2271.0,1277.7 2272.0,1277.7 2273.0,1277.7 2274.0,1277.7 2275.0,1277.7 2276.0,1277.7 2277.0,1277.7 2278.0,1277.6 2279.0,1277.6 2280.0,1277.6 2281.0,1277.6 2282.0,1277.6 2283.0,1277.6 2284.0,1277.6 2285.0,1277.6 2286.0,1277.6 2287.0,1277.6 2288.0,1277.6 2289.0,1277.6 2290.0,1277.6 2291.0,1277.6 2292.0,1277.6 2293.0,1277.6 2294.0,1277.6 2295.0,1277.6 2296.0,1277.6 2297.0,1277.6 2298.0,1277.6 2299.0,1277.6 2300.0,1277.7 2301.0,1277.7 2302.0,1277.7 2303.0,1277.7 2304.0,1277.7 2305.0,1277.7 2306.0,1277.7 2307.0,1277.7 2308.0,1277.8 2309.0,1277.8 2310.0,1277.8 2311.0,1277.8 2312.0,1277.8 2313.0,1277.8 2314.0,1277.9 2315.0,1277.9 2316.0,1277.9 2317.0,1277.9 2318.0,1277.9 2319.0,1278.0 2320.0,1278.0 2321.0,1278.0 2322.0,1278.0 2323.0,1278.0 2324.0,1278.1 2325.0,1278.1 2326.0,1278.1 2327.0,1278.1 2328.0,1278.2 2329.0,1278.2 2330.0,1278.2 2331.0,1278.2 2332.0,1278.3 2333.0,1278.3 2334.0,1278.3 2335.0,1278.3 2336.0,1278.4 2337.0,1278.4 2338.0,1278.4 2339.0,1278.4 2340.0,1278.5 2341.0,1278.5 2342.0,1278.5 2343.0,1278.5 2344.0,1278.6 2345.0,1278.6 2346.0,1278.6 2347.0,1278.6 2348.0,1278.7 2349.0,1278.7 2350.0,1278.7 2351.0,1278.7 2352.0,1278.8 2353.0,1278.8 2354.0,1278.8 2355.0,1278.8 2356.0,1278.9 2357.0,1278.9 2358.0,1278.9 2359.0,1278.9 2360.0,1278.9 2361.0,1279.0 2362.0,1279.0 2363.0,1279.0 2364.0,1279.0 2365.0,1279.0 2366.0,1279.0 2367.0,1279.1 2368.0,1279.1 2369.0,1279.1 2370.0,1279.1 2371.0,1279.1 2372.0,1279.1 2373.0,1279.1 2374.0,1279.1 2375.0,1279.1 2376.0,1279.2 2377.0,1279.2 2378.0,1279.2 2379.0,1279.2 2380.0,1279.2 2381.0,1279.2 2382.0,1279.2 2383.0,1279.2 2384.0,1279.2 2385.0,1279.2 2386.0,1279.2 2387.0,1279.2 2388.0,1279.2 2389.0,1279.2 2390.0,1279.2 2391.0,1279.2 2392.0,1279.2 2393.0,1279.2 2394.0,1279.2 2395.0,1279.2 2396.0,1279.2 2397.0,1279.2 2398.0,1279.1 2399.0,1279.1 2400.0,1279.1 2401.0,1279.1 2402.0,1279.1 2403.0,1279.1 2404.0,1279.1 2405.0,1279.1 2406.0,1279.0 2407.0,1279.0 2408.0,1279.0 2409.0,1279.0 2410.0,1279.0 2411.0,1279.0 2412.0,1278.9 2413.0,1278.9 2414.0,1278.9 2415.0,1278.9 2416.0,1278.9 2417.0,1278.8 2418.0,1278.8 2419.0,1278.8 2420.0,1278.8 2421.0,1278.7 2422.0,1278.7 2423.0,1278.7 2424.0,1278.7 2425.0,1278.6 2426.0,1278.6 2427.0,1278.6 2428.0,1278.6 2429.0,1278.5 2430.0,1278.5 2431.0,1278.5 2432.0,1278.5 2433.0,1278.4 2434.0,1278.4 2435.0,1278.4 2436.0,1278.4 2437.0,1278.3 2438.0,1278.3 2439.0,1278.3 2440.0,1278.3 2441.0,1278.2 2442.0,1278.2 2443.0,1278.2 2444.0,1278.2 2445.0,1278.1 2446.0,1278.1 2447.0,1278.1 2448.0,1278.1 2449.0,1278.0 2450.0,1278.0 2451.0,1278.0 2452.0,1278.0 2453.0,1278.0 2454.0,1277.9 2455.0,1277.9 2456.0,1277.9 2457.0,1277.9 2458.0,1277.9 2459.0,1277.8 2460.0,1277.8 2461.0,1277.8 2462.0,1277.8 2463.0,1277.8 2464.0,1277.8 2465.0,1277.7 2466.0,1277.7 2467.0,1277.7 2468.0,1277.7 2469.0,1277.7 2470.0,1277.7 2471.0,1277.7 2472.0,1277.7 2473.0,1277.6 2474.0,1277.6 2475.0,1277.6 2476.0,1277.6 2477.0,1277.6 2478.0,1277.6 2479.0,1277.6 2480.0,1277.6 2481.0,1277.6 2482.0,1277.6 2483.0,1277.6 2484.0,1277.6 2485.0,1277.6 2486.0,1277.6 2487.0,1277.6 2488.0,1277.6 2489.0,1277.6 2490.0,1277.6 2491.0,1277.6 2492.0,1277.6 2493.0,1277.6 2494.0,1277.6 2495.0,1277.7 2496.0,1277.7 2497.0,1277.7 2498.0,1277.7 2499.0,1277.7 2500.0,1277.7 2501.0,1277.7 2502.0,1277.7 2503.0,1277.8 2504.0,1277.8 2505.0,1277.8 2506.0,1277.8 2507.0,1277.8 2508.0,1277.8 2509.0,1277.9 2510.0,1277.9 2511.0,1277.9 2512.0,1277.9 2513.0,1277.9 2514.0,1278.0 2515.0,1278.0 2516.0,1278.0 2517.0,1278.0 2518.0,1278.0 2519.0,1278.1 2520.0,1278.1 2521.0,1278.1 2522.0,1278.1 2523.0,1278.2 2524.0,1278.2 2525.0,1278.2 2526.0,1278.2 2527.0,1278.3 2528.0,1278.3 2529.0,1278.3 2530.0,1278.3 2531.0,1278.4 2532.0,1278.4 2533.0,1278.4 2534.0,1278.4 2535.0,1278.5 2536.0,1278.5 2537.0,1278.5 2538.0,1278.6 2539.0,1278.6 2540.0,1278.6 2541.0,1278.6 2542.0,1278.7 2543.0,1278.7 2544.0,1278.7 2545.0,1278.7 2546.0,1278.7 2547.0,1278.8 2548.0,1278.8 2549.0,1278.8 2550.0,1278.8 2551.0,1278.9 2552.0,1278.9 2553.0,1278.9 2554.0,1278.9 2555.0,1278.9 2556.0,1279.0 2557.0,1279.0 2558.0,1279.0 2559.0,1279.0 2560.0,1279.0 2561.0,1279.0 2562.0,1279.1 2563.0,1279.1 2564.0,1279.1 2565.0,1279.1 2566.0,1279.1 2567.0,1279.1 2568.0,1279.1 2569.0,1279.1 2570.0,1279.2 2571.0,1279.2 2572.0,1279.2 2573.0,1279.2 2574.0,1279.2 2575.0,1279.2 2576.0,1279.2 2577.0,1279.2 2578.0,1279.2 2579.0,1279.2 2580.0,1279.2 2581.0,1279.2 2582.0,1279.2 2583.0,1279.2 2584.0,1279.2 2585.0,1279.2 2586.0,1279.2 2587.0,1279.2 2588.0,1279.2 2589.0,1279.2 2590.0,1279.2 2591.0,1279.2 2592.0,1279.1 2593.0,1279.1 2594.0,1271.9 2595.0,1263.9 2596.0,1255.9 2597.0,1247.9 2598.0,1239.9 2599.0,1231.9 2600.0,1223.9 2601.0,1215.9 2602.0,1208.0 2603.0,1200.0 2604.0,1192.1 2605.0,1184.2 2606.0,1176.3 2607.0,1168.4 2608.0,1160.5 2609.0,1152.7 2610.0,1144.9 2611.0,1137.2 2612.0,1129.5 2613.0,1122.0 2614.0,1114.5 2615.0,1107.1 2616.0,1099.9 2617.0,1092.9 2618.0,1086.2 2619.0,1080.0 2620.0,1074.4 2621.0,1069.8 2622.0,1066.5 2623.0,1064.9 2624.0,1065.2 2625.0,1067.5 2626.0,1071.4 2627.0,1076.4 2628.0,1082.2 2629.0,1088.6 2630.0,1095.3 2631.0,1102.3 2632.0,1109.6 2633.0,1117.0 2634.0,1124.4 2635.0,1132.0 2636.0,1139.7 2637.0,1147.4 2638.0,1155.1 2639.0,1162.9 2640.0,1170.7 2641.0,1178.6 2642.0,1186.4 2643.0,1194.3 2644.0,1202.2 2645.0,1210.1 2646.0,1218.1 2647.0,1226.0 2648.0,1234.0 2649.0,1241.9 2650.0,1249.9 2651.0,1257.9 2652.0,1265.8 2653.0,1273.8 2654.0,1277.8 2655.0,1277.8 2656.0,1272.9 2657.0,1266.6 2658.0,1260.2 2659.0,1253.9 2660.0,1247.6 2661.0,1241.2 2662.0,1234.9 2663.0,1228.6 2664.0,1222.3 2665.0,1216.0 2666.0,1209.8 2667.0,1203.5 2668.0,1197.3 2669.0,1191.1 2670.0,1184.9 2671.0,1178.7 2672.0,1172.6 2673.0,1166.5 2674.0,1160.5 2675.0,1154.6 2676.0,1148.8 2677.0,1143.1 2678.0,1137.6 2679.0,1132.3 2680.0,1127.4 2681.0,1123.0 2682.0,1119.3 2683.0,1116.7 2684.0,1115.5 2685.0,1115.8 2686.0,1117.6 2687.0,1120.7 2688.0,1124.7 2689.0,1129.3 2690.0,1134.4 2691.0,1139.8 2692.0,1145.4 2693.0,1151.2 2694.0,1157.1 2695.0,1163.0 2696.0,1169.1 2697.0,1175.2 2698.0,1181.3 2699.0,1187.5 2700.0,1193.7 2701.0,1199.9 2702.0,1206.2 2703.0,1212.4 2704.0,1218.7 2705.0,1225.0 2706.0,1231.3 2707.0,1237.6 2708.0,1244.0 2709.0,1250.3 2710.0,1256.7 2711.0,1263.0 2712.0,1269.4 2713.0,1275.7 2714.0,1278.1 2715.0,1278.1 2716.0,1278.1 2717.0,1278.1 2718.0,1278.2 2719.0,1278.2 2720.0,1278.2 2721.0,1278.2 2722.0,1278.3 2723.0,1278.3 2724.0,1278.3 2725.0,1278.4 2726.0,1278.4 2727.0,1278.4 2728.0,1278.4 2729.0,1278.5 2730.0,1278.5 2731.0,1278.5 2732.0,1278.5 2733.0,1278.6 2734.0,1278.6 2735.0,1278.6 2736.0,1278.6 2737.0,1278.7 2738.0,1278.7 2739.0,1278.7 2740.0,1278.7 2741.0,1278.8 2742.0,1278.8 2743.0,1278.8 2744.0,1278.8 2745.0,1278.8 2746.0,1278.9 2747.0,1278.9 2748.0,1278.9 2749.0,1278.9 2750.0,1278.9 2751.0,1279.0 2752.0,1279.0 2753.0,1279.0 2754.0,1279.0 2755.0,1279.0 2756.0,1279.0 2757.0,1279.1 2758.0,1279.1 2759.0,1279.1 2760.0,1279.1 2761.0,1279.1 2762.0,1279.1 2763.0,1279.1 2764.0,1279.1 2765.0,1279.2 2766.0,1279.2 2767.0,1279.2 2768.0,1279.2 2769.0,1279.2 2770.0,1279.2 2771.0,1279.2 2772.0,1279.2 2773.0,1279.2 2774.0,1279.2 2775.0,1279.2 2776.0,1279.2 2777.0,1279.2 2778.0,1279.2 2779.0,1279.2 2780.0,1279.2 2781.0,1279.2 2782.0,1279.2 2783.0,1279.2 2784.0,1279.2 2785.0,1279.2 2786.0,1279.2 2787.0,1279.1 2788.0,1279.1 2789.0,1279.1 2790.0,1279.1 2791.0,1279.1 2792.0,1279.1 2793.0,1279.1 2794.0,1279.1 2795.0,1279.0 2796.0,1279.0 2797.0,1279.0 2798.0,1279.0 2799.0,1279.0 2800.0,1279.0 2801.0,1278.9 2802.0,1278.9 2803.0,1278.9 2804.0,1278.9 2805.0,1278.9 2806.0,1278.8 2807.0,1278.8 2808.0,1278.8 2809.0,1278.8 2810.0,1278.8 2811.0,1278.7 2812.0,1278.7 2813.0,1278.7 2814.0,1278.7 2815.0,1278.6 2816.0,1278.6 2817.0,1278.6 2818.0,1278.6 2819.0,1278.5 2820.0,1278.5 2821.0,1278.5 2822.0,1278.5 2823.0,1278.4 2824.0,1278.4 2825.0,1278.4 2826.0,1278.4 2827.0,1278.3 2828.0,1278.3 2829.0,1278.3 2830.0,1278.3 2831.0,1278.2 2832.0,1278.2 2833.0,1278.2 2834.0,1278.2 2835.0,1278.1 2836.0,1278.1 2837.0,1278.1" fill="none" stroke="#4db848" stroke-width="5.5" stroke-linejoin="round"/>
<polyline points="388.0,1276.2 389.0,1276.1 390.0,1276.0 391.0,1275.9 392.0,1275.8 393.0,1275.8 394.0,1275.7 395.0,1275.6 396.0,1275.6 397.0,1275.6 398.0,1275.6 399.0,1275.6 400.0,1275.6 401.0,1275.6 402.0,1275.6 403.0,1275.7 404.0,1275.7 405.0,1275.8 406.0,1275.9 407.0,1275.9 408.0,1276.0 409.0,1276.1 410.0,1276.2 411.0,1276.3 412.0,1276.5 413.0,1276.6 414.0,1276.7 415.0,1276.8 416.0,1276.9 417.0,1277.1 418.0,1277.2 419.0,1277.3 420.0,1277.4 421.0,1277.5 422.0,1277.6 423.0,1277.7 424.0,1277.8 425.0,1277.9 426.0,1278.0 427.0,1278.1 428.0,1278.1 429.0,1278.2 430.0,1278.2 431.0,1278.3 432.0,1278.3 433.0,1278.3 434.0,1278.3 435.0,1278.3 436.0,1278.3 437.0,1278.3 438.0,1278.3 439.0,1278.2 440.0,1278.2 441.0,1278.2 442.0,1278.1 443.0,1278.1 444.0,1278.0 445.0,1278.0 446.0,1277.9 447.0,1277.8 448.0,1277.8 449.0,1277.7 450.0,1277.7 451.0,1277.6 452.0,1277.6 453.0,1277.6 454.0,1277.5 455.0,1277.5 456.0,1277.5 457.0,1277.5 458.0,1277.5 459.0,1277.5 460.0,1277.5 461.0,1277.5 462.0,1277.5 463.0,1277.6 464.0,1277.6 465.0,1277.6 466.0,1277.7 467.0,1277.8 468.0,1277.8 469.0,1277.9 470.0,1277.9 471.0,1278.0 472.0,1278.1 473.0,1278.2 474.0,1278.2 475.0,1278.3 476.0,1278.4 477.0,1278.4 478.0,1278.5 479.0,1278.5 480.0,1278.6 481.0,1278.6 482.0,1278.7 483.0,1278.7 484.0,1278.7 485.0,1278.7 486.0,1278.7 487.0,1278.7 488.0,1278.7 489.0,1278.6 490.0,1278.6 491.0,1278.5 492.0,1278.5 493.0,1278.4 494.0,1278.3 495.0,1278.2 496.0,1278.1 497.0,1278.0 498.0,1277.9 499.0,1277.7 500.0,1277.6 501.0,1277.4 502.0,1277.3 503.0,1277.1 504.0,1277.0 505.0,1276.8 506.0,1276.7 507.0,1276.5 508.0,1276.4 509.0,1276.2 510.0,1276.1 511.0,1275.9 512.0,1275.8 513.0,1275.7 514.0,1275.5 515.0,1275.4 516.0,1275.3 517.0,1275.2 518.0,1275.1 519.0,1275.1 520.0,1275.0 521.0,1274.9 522.0,1274.9 523.0,1274.9 524.0,1274.9 525.0,1274.9 526.0,1274.9 527.0,1274.9 528.0,1274.9 529.0,1274.9 530.0,1275.0 531.0,1275.0 532.0,1275.1 533.0,1275.1 534.0,1275.2 535.0,1275.3 536.0,1275.4 537.0,1275.4 538.0,1275.5 539.0,1275.6 540.0,1275.7 541.0,1275.8 542.0,1275.8 543.0,1275.9 544.0,1276.0 545.0,1276.0 546.0,1276.1 547.0,1276.2 548.0,1276.2 549.0,1276.2 550.0,1276.3 551.0,1276.3 552.0,1276.3 553.0,1276.3 554.0,1276.4 555.0,1276.4 556.0,1276.4 557.0,1276.3 558.0,1276.3 559.0,1276.3 560.0,1276.3 561.0,1276.2 562.0,1276.2 563.0,1276.2 564.0,1276.1 565.0,1276.1 566.0,1276.1 567.0,1276.0 568.0,1276.0 569.0,1276.0 570.0,1275.9 571.0,1275.9 572.0,1275.9 573.0,1275.9 574.0,1275.9 575.0,1275.9 576.0,1275.9 577.0,1275.9 578.0,1275.9 579.0,1276.0 580.0,1276.0 581.0,1276.0 582.0,1276.1 583.0,1276.2 584.0,1276.3 585.0,1276.4 586.0,1276.5 587.0,1276.6 588.0,1276.7 589.0,1276.8 590.0,1276.9 591.0,1277.1 592.0,1277.2 593.0,1277.3 594.0,1277.5 595.0,1277.6 596.0,1277.8 597.0,1277.9 598.0,1278.0 599.0,1278.2 600.0,1278.3 601.0,1278.4 602.0,1278.6 603.0,1278.7 604.0,1278.8 605.0,1278.9 606.0,1279.0 607.0,1279.1 608.0,1279.1 609.0,1279.2 610.0,1279.2 611.0,1279.3 612.0,1279.3 613.0,1279.3 614.0,1279.3 615.0,1279.3 616.0,1279.3 617.0,1279.2 618.0,1279.2 619.0,1279.1 620.0,1279.1 621.0,1279.0 622.0,1278.9 623.0,1278.8 624.0,1278.7 625.0,1278.6 626.0,1278.5 627.0,1278.4 628.0,1278.3 629.0,1278.2 630.0,1278.1 631.0,1278.0 632.0,1277.8 633.0,1275.6 634.0,1267.8 635.0,1260.0 636.0,1252.2 637.0,1244.4 638.0,1236.7 639.0,1228.9 640.0,1221.2 641.0,1213.5 642.0,1205.8 643.0,1198.2 644.0,1190.5 645.0,1182.9 646.0,1175.4 647.0,1167.8 648.0,1160.3 649.0,1152.8 650.0,1145.4 651.0,1138.1 652.0,1130.8 653.0,1123.6 654.0,1116.5 655.0,1109.6 656.0,1102.8 657.0,1096.4 658.0,1090.3 659.0,1084.7 660.0,1079.9 661.0,1076.2 662.0,1074.1 663.0,1073.7 664.0,1075.3 665.0,1078.5 666.0,1082.9 667.0,1088.3 668.0,1094.3 669.0,1100.7 670.0,1107.3 671.0,1114.2 672.0,1121.3 673.0,1128.5 674.0,1135.7 675.0,1143.0 676.0,1150.4 677.0,1157.8 678.0,1165.2 679.0,1172.7 680.0,1180.2 681.0,1187.7 682.0,1195.2 683.0,1202.7 684.0,1210.3 685.0,1217.8 686.0,1225.4 687.0,1232.9 688.0,1240.5 689.0,1248.1 690.0,1255.7 691.0,1263.3 692.0,1270.9 693.0,1276.1 694.0,1276.1 695.0,1276.0 696.0,1276.0 697.0,1275.9 698.0,1275.9 699.0,1275.9 700.0,1275.9 701.0,1275.9 702.0,1275.9 703.0,1275.9 704.0,1276.0 705.0,1276.0 706.0,1276.1 707.0,1276.1 708.0,1276.2 709.0,1276.3 710.0,1276.4 711.0,1276.5 712.0,1276.6 713.0,1276.8 714.0,1276.9 715.0,1277.0 716.0,1277.2 717.0,1277.3 718.0,1277.4 719.0,1277.6 720.0,1277.7 721.0,1277.9 722.0,1278.0 723.0,1278.1 724.0,1278.3 725.0,1278.4 726.0,1278.5 727.0,1278.6 728.0,1278.8 729.0,1278.9 730.0,1278.9 731.0,1279.0 732.0,1279.1 733.0,1279.1 734.0,1279.2 735.0,1279.2 736.0,1279.3 737.0,1279.3 738.0,1279.3 739.0,1279.3 740.0,1279.3 741.0,1279.2 742.0,1279.2 743.0,1279.2 744.0,1279.1 745.0,1279.0 746.0,1279.0 747.0,1278.9 748.0,1278.8 749.0,1278.8 750.0,1278.7 751.0,1278.6 752.0,1278.5 753.0,1278.4 754.0,1278.3 755.0,1278.3 756.0,1278.2 757.0,1278.1 758.0,1278.1 759.0,1278.0 760.0,1277.9 761.0,1277.9 762.0,1277.8 763.0,1277.8 764.0,1277.8 765.0,1277.7 766.0,1277.7 767.0,1277.7 768.0,1277.7 769.0,1277.7 770.0,1277.7 771.0,1277.7 772.0,1277.7 773.0,1277.8 774.0,1277.8 775.0,1277.8 776.0,1277.9 777.0,1277.9 778.0,1277.9 779.0,1278.0 780.0,1278.0 781.0,1278.1 782.0,1278.1 783.0,1278.1 784.0,1278.1 785.0,1278.2 786.0,1278.2 787.0,1278.2 788.0,1278.2 789.0,1278.2 790.0,1278.1 791.0,1278.1 792.0,1278.1 793.0,1278.0 794.0,1278.0 795.0,1277.9 796.0,1277.9 797.0,1277.8 798.0,1277.7 799.0,1277.6 800.0,1277.5 801.0,1277.4 802.0,1277.2 803.0,1277.1 804.0,1277.0 805.0,1276.8 806.0,1276.7 807.0,1275.9 808.0,1275.0 809.0,1274.2 810.0,1273.5 811.0,1272.7 812.0,1272.0 813.0,1271.4 814.0,1270.9 815.0,1270.5 816.0,1270.3 817.0,1270.2 818.0,1270.3 819.0,1270.5 820.0,1270.8 821.0,1271.2 822.0,1271.6 823.0,1272.0 824.0,1272.5 825.0,1273.0 826.0,1273.5 827.0,1274.0 828.0,1274.6 829.0,1274.6 830.0,1274.6 831.0,1274.6 832.0,1274.7 833.0,1274.8 834.0,1274.8 835.0,1274.9 836.0,1275.0 837.0,1275.1 838.0,1275.2 839.0,1275.3 840.0,1275.4 841.0,1275.5 842.0,1275.6 843.0,1275.7 844.0,1275.8 845.0,1276.0 846.0,1276.1 847.0,1276.2 848.0,1276.3 849.0,1276.4 850.0,1276.5 851.0,1276.6 852.0,1276.6 853.0,1276.7 854.0,1276.8 855.0,1276.8 856.0,1276.9 857.0,1276.9 858.0,1277.0 859.0,1277.0 860.0,1277.0 861.0,1277.0 862.0,1277.0 863.0,1277.0 864.0,1277.0 865.0,1277.0 866.0,1277.0 867.0,1277.0 868.0,1276.9 869.0,1276.9 870.0,1276.9 871.0,1276.8 872.0,1276.8 873.0,1276.8 874.0,1276.7 875.0,1276.7 876.0,1276.7 877.0,1276.7 878.0,1276.6 879.0,1276.6 880.0,1276.6 881.0,1276.6 882.0,1276.6 883.0,1276.6 884.0,1276.7 885.0,1276.7 886.0,1276.7 887.0,1276.8 888.0,1276.8 889.0,1276.9 890.0,1276.9 891.0,1277.0 892.0,1277.1 893.0,1277.2 894.0,1277.3 895.0,1277.4 896.0,1277.5 897.0,1277.6 898.0,1277.7 899.0,1277.8 900.0,1277.9 901.0,1278.0 902.0,1278.1 903.0,1278.2 904.0,1278.3 905.0,1278.4 906.0,1278.5 907.0,1278.6 908.0,1278.7 909.0,1278.7 910.0,1278.8 911.0,1278.8 912.0,1278.9 913.0,1278.9 914.0,1278.9 915.0,1278.9 916.0,1278.9 917.0,1278.9 918.0,1278.9 919.0,1278.8 920.0,1278.8 921.0,1278.7 922.0,1278.6 923.0,1278.6 924.0,1274.0 925.0,1265.4 926.0,1256.8 927.0,1248.3 928.0,1239.7 929.0,1231.1 930.0,1222.6 931.0,1214.0 932.0,1205.5 933.0,1197.0 934.0,1188.4 935.0,1179.9 936.0,1171.5 937.0,1163.0 938.0,1154.6 939.0,1146.2 940.0,1137.9 941.0,1129.6 942.0,1121.3 943.0,1113.2 944.0,1105.1 945.0,1097.2 946.0,1089.4 947.0,1081.8 948.0,1074.5 949.0,1067.6 950.0,1061.2 951.0,1055.6 952.0,1051.1 953.0,1048.1 954.0,1047.1 955.0,1048.2 956.0,1051.2 957.0,1055.7 958.0,1061.4 959.0,1067.8 960.0,1074.8 961.0,1082.1 962.0,1089.7 963.0,1097.5 964.0,1105.5 965.0,1113.5 966.0,1121.7 967.0,1129.9 968.0,1138.1 969.0,1146.4 970.0,1154.8 971.0,1163.1 972.0,1171.5 973.0,1179.9 974.0,1188.3 975.0,1196.7 976.0,1205.1 977.0,1213.6 978.0,1222.0 979.0,1230.5 980.0,1238.9 981.0,1247.3 982.0,1255.8 983.0,1264.2 984.0,1272.6 985.0,1275.8 986.0,1268.1 987.0,1260.4 988.0,1252.7 989.0,1245.0 990.0,1237.3 991.0,1229.6 992.0,1222.0 993.0,1214.3 994.0,1206.7 995.0,1199.1 996.0,1191.5 997.0,1183.9 998.0,1176.4 999.0,1168.9 1000.0,1161.5 1001.0,1154.1 1002.0,1146.8 1003.0,1139.6 1004.0,1132.5 1005.0,1125.6 1006.0,1118.8 1007.0,1112.4 1008.0,1106.3 1009.0,1100.8 1010.0,1096.0 1011.0,1092.4 1012.0,1090.3 1013.0,1090.0 1014.0,1091.5 1015.0,1094.5 1016.0,1098.8 1017.0,1103.9 1018.0,1109.6 1019.0,1115.6 1020.0,1122.0 1021.0,1128.6 1022.0,1135.3 1023.0,1142.1 1024.0,1149.1 1025.0,1156.1 1026.0,1163.1 1027.0,1170.2 1028.0,1177.3 1029.0,1184.4 1030.0,1191.6 1031.0,1198.7 1032.0,1205.9 1033.0,1213.1 1034.0,1220.2 1035.0,1227.4 1036.0,1234.6 1037.0,1241.8 1038.0,1249.0 1039.0,1256.1 1040.0,1263.3 1041.0,1270.4 1042.0,1277.6 1043.0,1279.8 1044.0,1279.8 1045.0,1279.7 1046.0,1279.7 1047.0,1279.6 1048.0,1279.5 1049.0,1279.5 1050.0,1279.4 1051.0,1279.3 1052.0,1279.2 1053.0,1279.0 1054.0,1278.9 1055.0,1278.8 1056.0,1278.7 1057.0,1278.6 1058.0,1278.5 1059.0,1278.3 1060.0,1278.2 1061.0,1278.1 1062.0,1278.0 1063.0,1277.9 1064.0,1277.8 1065.0,1277.7 1066.0,1277.6 1067.0,1277.6 1068.0,1277.5 1069.0,1277.4 1070.0,1277.4 1071.0,1277.3 1072.0,1277.3 1073.0,1277.3 1074.0,1277.3 1075.0,1277.2 1076.0,1277.2 1077.0,1277.2 1078.0,1277.2 1079.0,1277.2 1080.0,1277.3 1081.0,1277.3 1082.0,1277.3 1083.0,1277.3 1084.0,1277.3 1085.0,1277.4 1086.0,1277.4 1087.0,1277.4 1088.0,1277.4 1089.0,1277.5 1090.0,1277.5 1091.0,1277.5 1092.0,1277.5 1093.0,1277.5 1094.0,1277.5 1095.0,1277.5 1096.0,1277.4 1097.0,1277.4 1098.0,1277.4 1099.0,1277.3 1100.0,1277.3 1101.0,1277.2 1102.0,1277.1 1103.0,1277.1 1104.0,1277.0 1105.0,1276.9 1106.0,1276.8 1107.0,1276.7 1108.0,1276.6 1109.0,1276.5 1110.0,1276.4 1111.0,1276.2 1112.0,1276.1 1113.0,1276.0 1114.0,1275.9 1115.0,1275.8 1116.0,1275.6 1117.0,1275.5 1118.0,1275.4 1119.0,1275.3 1120.0,1275.2 1121.0,1275.1 1122.0,1275.1 1123.0,1275.0 1124.0,1274.9 1125.0,1274.9 1126.0,1274.8 1127.0,1274.8 1128.0,1274.8 1129.0,1274.8 1130.0,1274.8 1131.0,1274.8 1132.0,1274.8 1133.0,1274.9 1134.0,1274.9 1135.0,1275.0 1136.0,1275.1 1137.0,1275.2 1138.0,1275.3 1139.0,1275.4 1140.0,1275.5 1141.0,1275.6 1142.0,1275.7 1143.0,1275.8 1144.0,1276.0 1145.0,1276.1 1146.0,1276.2 1147.0,1276.4 1148.0,1276.5 1149.0,1276.6 1150.0,1276.8 1151.0,1276.9 1152.0,1277.0 1153.0,1277.2 1154.0,1277.3 1155.0,1277.4 1156.0,1277.5 1157.0,1277.6 1158.0,1277.6 1159.0,1277.7 1160.0,1277.8 1161.0,1277.8 1162.0,1277.9 1163.0,1277.9 1164.0,1277.9 1165.0,1277.9 1166.0,1277.9 1167.0,1277.9 1168.0,1277.9 1169.0,1277.9 1170.0,1277.9 1171.0,1277.8 1172.0,1277.8 1173.0,1277.7 1174.0,1277.7 1175.0,1277.6 1176.0,1277.6 1177.0,1277.5 1178.0,1277.5 1179.0,1277.4 1180.0,1277.3 1181.0,1277.3 1182.0,1277.2 1183.0,1277.2 1184.0,1277.1 1185.0,1277.1 1186.0,1277.1 1187.0,1277.0 1188.0,1277.0 1189.0,1277.0 1190.0,1277.0 1191.0,1277.0 1192.0,1277.0 1193.0,1277.0 1194.0,1277.1 1195.0,1277.1 1196.0,1277.1 1197.0,1277.2 1198.0,1277.2 1199.0,1276.9 1200.0,1276.7 1201.0,1276.4 1202.0,1276.2 1203.0,1275.9 1204.0,1275.7 1205.0,1275.5 1206.0,1275.3 1207.0,1275.1 1208.0,1275.0 1209.0,1274.9 1210.0,1275.0 1211.0,1275.0 1212.0,1275.2 1213.0,1275.4 1214.0,1275.7 1215.0,1276.0 1216.0,1276.3 1217.0,1276.6 1218.0,1276.9 1219.0,1277.2 1220.0,1277.5 1221.0,1277.8 1222.0,1278.0 1223.0,1278.0 1224.0,1277.9 1225.0,1277.8 1226.0,1277.8 1227.0,1277.7 1228.0,1277.6 1229.0,1277.5 1230.0,1277.3 1231.0,1277.2 1232.0,1277.1 1233.0,1277.0 1234.0,1276.8 1235.0,1276.7 1236.0,1276.6 1237.0,1276.4 1238.0,1276.3 1239.0,1276.2 1240.0,1276.0 1241.0,1275.9 1242.0,1275.8 1243.0,1275.7 1244.0,1275.6 1245.0,1275.5 1246.0,1275.4 1247.0,1275.3 1248.0,1275.2 1249.0,1275.2 1250.0,1275.1 1251.0,1275.1 1252.0,1275.1 1253.0,1275.1 1254.0,1275.1 1255.0,1275.1 1256.0,1275.1 1257.0,1275.1 1258.0,1275.2 1259.0,1275.2 1260.0,1275.3 1261.0,1275.4 1262.0,1275.4 1263.0,1275.5 1264.0,1275.6 1265.0,1275.7 1266.0,1275.8 1267.0,1275.9 1268.0,1276.1 1269.0,1276.2 1270.0,1276.3 1271.0,1276.4 1272.0,1276.5 1273.0,1276.6 1274.0,1276.7 1275.0,1276.8 1276.0,1276.9 1277.0,1277.0 1278.0,1277.1 1279.0,1277.2 1280.0,1277.3 1281.0,1277.3 1282.0,1277.4 1283.0,1277.4 1284.0,1277.5 1285.0,1277.5 1286.0,1277.5 1287.0,1277.6 1288.0,1277.6 1289.0,1277.6 1290.0,1277.6 1291.0,1277.6 1292.0,1277.6 1293.0,1277.5 1294.0,1277.5 1295.0,1277.5 1296.0,1277.5 1297.0,1277.5 1298.0,1277.4 1299.0,1277.4 1300.0,1277.4 1301.0,1277.3 1302.0,1277.3 1303.0,1277.3 1304.0,1277.3 1305.0,1277.3 1306.0,1277.3 1307.0,1277.3 1308.0,1277.3 1309.0,1277.3 1310.0,1277.3 1311.0,1277.4 1312.0,1277.4 1313.0,1277.5 1314.0,1277.5 1315.0,1277.6 1316.0,1277.7 1317.0,1277.8 1318.0,1277.8 1319.0,1277.9 1320.0,1278.0 1321.0,1278.1 1322.0,1278.3 1323.0,1278.4 1324.0,1278.5 1325.0,1278.6 1326.0,1278.7 1327.0,1278.8 1328.0,1279.0 1329.0,1279.1 1330.0,1279.2 1331.0,1279.3 1332.0,1279.4 1333.0,1279.5 1334.0,1279.6 1335.0,1279.7 1336.0,1279.7 1337.0,1279.8 1338.0,1279.9 1339.0,1279.9 1340.0,1279.9 1341.0,1279.9 1342.0,1280.0 1343.0,1280.0 1344.0,1279.9 1345.0,1279.9 1346.0,1279.9 1347.0,1279.8 1348.0,1279.7 1349.0,1279.7 1350.0,1279.6 1351.0,1279.5 1352.0,1279.4 1353.0,1279.3 1354.0,1279.2 1355.0,1279.0 1356.0,1278.9 1357.0,1278.8 1358.0,1278.6 1359.0,1276.2 1360.0,1267.5 1361.0,1258.9 1362.0,1250.2 1363.0,1241.6 1364.0,1232.9 1365.0,1224.3 1366.0,1215.7 1367.0,1207.1 1368.0,1198.6 1369.0,1190.0 1370.0,1181.5 1371.0,1173.0 1372.0,1164.5 1373.0,1156.1 1374.0,1147.7 1375.0,1139.4 1376.0,1131.1 1377.0,1122.8 1378.0,1114.7 1379.0,1106.6 1380.0,1098.6 1381.0,1090.8 1382.0,1083.2 1383.0,1075.8 1384.0,1068.7 1385.0,1062.2 1386.0,1056.3 1387.0,1051.4 1388.0,1047.9 1389.0,1046.3 1390.0,1046.8 1391.0,1049.3 1392.0,1053.4 1393.0,1058.8 1394.0,1065.1 1395.0,1071.9 1396.0,1079.1 1397.0,1086.7 1398.0,1094.4 1399.0,1102.3 1400.0,1110.3 1401.0,1118.4 1402.0,1126.6 1403.0,1134.8 1404.0,1143.0 1405.0,1151.3 1406.0,1159.6 1407.0,1168.0 1408.0,1176.3 1409.0,1184.7 1410.0,1193.0 1411.0,1201.4 1412.0,1209.8 1413.0,1218.2 1414.0,1226.6 1415.0,1235.0 1416.0,1243.4 1417.0,1251.8 1418.0,1260.3 1419.0,1268.7 1420.0,1276.0 1421.0,1276.0 1422.0,1275.9 1423.0,1275.8 1424.0,1275.7 1425.0,1275.7 1426.0,1275.6 1427.0,1275.6 1428.0,1275.6 1429.0,1275.5 1430.0,1275.5 1431.0,1275.5 1432.0,1275.5 1433.0,1275.5 1434.0,1275.6 1435.0,1275.6 1436.0,1275.6 1437.0,1275.7 1438.0,1275.8 1439.0,1275.8 1440.0,1275.9 1441.0,1276.0 1442.0,1276.1 1443.0,1276.2 1444.0,1276.4 1445.0,1276.5 1446.0,1275.9 1447.0,1275.4 1448.0,1274.9 1449.0,1274.4 1450.0,1273.9 1451.0,1273.5 1452.0,1273.2 1453.0,1272.9 1454.0,1272.8 1455.0,1272.8 1456.0,1273.0 1457.0,1273.4 1458.0,1273.9 1459.0,1274.5 1460.0,1275.1 1461.0,1275.8 1462.0,1276.5 1463.0,1277.2 1464.0,1277.9 1465.0,1278.6 1466.0,1275.4 1467.0,1268.5 1468.0,1261.5 1469.0,1254.6 1470.0,1247.6 1471.0,1240.7 1472.0,1233.7 1473.0,1226.8 1474.0,1219.8 1475.0,1212.9 1476.0,1206.0 1477.0,1199.0 1478.0,1192.1 1479.0,1185.2 1480.0,1178.3 1481.0,1171.5 1482.0,1164.6 1483.0,1157.9 1484.0,1151.1 1485.0,1144.5 1486.0,1137.9 1487.0,1131.5 1488.0,1125.2 1489.0,1119.2 1490.0,1113.4 1491.0,1108.1 1492.0,1103.5 1493.0,1099.7 1494.0,1097.2 1495.0,1096.3 1496.0,1097.1 1497.0,1099.5 1498.0,1103.2 1499.0,1107.8 1500.0,1113.0 1501.0,1118.7 1502.0,1124.7 1503.0,1130.9 1504.0,1137.2 1505.0,1143.7 1506.0,1150.3 1507.0,1157.0 1508.0,1163.7 1509.0,1170.4 1510.0,1177.2 1511.0,1184.1 1512.0,1190.9 1513.0,1197.8 1514.0,1204.7 1515.0,1211.6 1516.0,1218.5 1517.0,1225.4 1518.0,1232.3 1519.0,1239.3 1520.0,1246.2 1521.0,1253.1 1522.0,1260.0 1523.0,1267.0 1524.0,1273.9 1525.0,1277.1 1526.0,1277.1 1527.0,1277.0 1528.0,1277.0 1529.0,1276.9 1530.0,1276.8 1531.0,1276.8 1532.0,1276.7 1533.0,1276.6 1534.0,1276.5 1535.0,1276.4 1536.0,1276.3 1537.0,1276.2 1538.0,1276.1 1539.0,1275.9 1540.0,1275.8 1541.0,1275.7 1542.0,1275.6 1543.0,1275.5 1544.0,1275.4 1545.0,1275.3 1546.0,1275.2 1547.0,1275.1 1548.0,1275.0 1549.0,1274.6 1550.0,1274.2 1551.0,1273.9 1552.0,1273.5 1553.0,1273.2 1554.0,1272.8 1555.0,1272.6 1556.0,1272.3 1557.0,1272.1 1558.0,1271.9 1559.0,1271.8 1560.0,1271.9 1561.0,1272.0 1562.0,1272.2 1563.0,1272.4 1564.0,1272.7 1565.0,1273.1 1566.0,1273.5 1567.0,1273.9 1568.0,1274.3 1569.0,1274.8 1570.0,1275.2 1571.0,1275.7 1572.0,1276.2 1573.0,1276.3 1574.0,1276.5 1575.0,1276.6 1576.0,1276.8 1577.0,1276.9 1578.0,1277.0 1579.0,1277.2 1580.0,1277.3 1581.0,1277.4 1582.0,1277.5 1583.0,1277.7 1584.0,1277.8 1585.0,1277.9 1586.0,1277.9 1587.0,1276.5 1588.0,1272.9 1589.0,1269.4 1590.0,1265.8 1591.0,1262.2 1592.0,1258.6 1593.0,1255.0 1594.0,1251.4 1595.0,1247.8 1596.0,1244.2 1597.0,1240.6 1598.0,1237.0 1599.0,1233.5 1600.0,1229.9 1601.0,1226.4 1602.0,1222.8 1603.0,1219.3 1604.0,1215.8 1605.0,1212.4 1606.0,1209.1 1607.0,1205.8 1608.0,1202.6 1609.0,1199.6 1610.0,1196.9 1611.0,1194.4 1612.0,1192.5 1613.0,1191.2 1614.0,1190.8 1615.0,1191.2 1616.0,1192.5 1617.0,1194.5 1618.0,1196.9 1619.0,1199.7 1620.0,1202.7 1621.0,1205.9 1622.0,1209.2 1623.0,1212.5 1624.0,1216.0 1625.0,1219.5 1626.0,1223.0 1627.0,1226.6 1628.0,1230.2 1629.0,1233.9 1630.0,1237.5 1631.0,1241.1 1632.0,1244.8 1633.0,1248.5 1634.0,1252.2 1635.0,1255.9 1636.0,1259.5 1637.0,1263.2 1638.0,1266.9 1639.0,1270.6 1640.0,1274.3 1641.0,1277.9 1642.0,1279.5 1643.0,1279.5 1644.0,1279.5 1645.0,1279.5 1646.0,1279.5 1647.0,1279.5 1648.0,1279.4 1649.0,1279.4 1650.0,1279.3 1651.0,1279.2 1652.0,1279.2 1653.0,1279.1 1654.0,1279.0 1655.0,1278.9 1656.0,1278.7 1657.0,1278.6 1658.0,1278.5 1659.0,1277.8 1660.0,1277.1 1661.0,1276.5 1662.0,1275.8 1663.0,1275.2 1664.0,1274.6 1665.0,1274.1 1666.0,1273.6 1667.0,1273.3 1668.0,1273.0 1669.0,1273.0 1670.0,1273.1 1671.0,1273.2 1672.0,1273.5 1673.0,1273.9 1674.0,1274.2 1675.0,1274.6 1676.0,1275.1 1677.0,1275.5 1678.0,1276.0 1679.0,1276.0 1680.0,1276.0 1681.0,1275.9 1682.0,1275.9 1683.0,1275.9 1684.0,1275.9 1685.0,1275.9 1686.0,1276.0 1687.0,1276.0 1688.0,1276.0 1689.0,1276.1 1690.0,1276.1 1691.0,1276.2 1692.0,1276.3 1693.0,1276.3 1694.0,1276.4 1695.0,1276.5 1696.0,1276.6 1697.0,1276.6 1698.0,1276.7 1699.0,1276.8 1700.0,1276.9 1701.0,1276.9 1702.0,1277.0 1703.0,1277.1 1704.0,1277.1 1705.0,1277.2 1706.0,1277.2 1707.0,1277.3 1708.0,1277.3 1709.0,1277.3 1710.0,1277.3 1711.0,1277.3 1712.0,1277.3 1713.0,1277.3 1714.0,1277.3 1715.0,1277.3 1716.0,1277.3 1717.0,1277.2 1718.0,1277.2 1719.0,1277.1 1720.0,1277.1 1721.0,1277.0 1722.0,1277.0 1723.0,1276.9 1724.0,1276.9 1725.0,1276.8 1726.0,1276.8 1727.0,1276.7 1728.0,1276.7 1729.0,1276.6 1730.0,1276.6 1731.0,1276.6 1732.0,1276.6 1733.0,1276.5 1734.0,1276.5 1735.0,1276.5 1736.0,1276.5 1737.0,1276.6 1738.0,1276.6 1739.0,1276.6 1740.0,1276.7 1741.0,1276.7 1742.0,1276.8 1743.0,1276.8 1744.0,1276.9 1745.0,1277.0 1746.0,1277.1 1747.0,1277.2 1748.0,1277.3 1749.0,1277.4 1750.0,1277.5 1751.0,1277.6 1752.0,1277.7 1753.0,1277.9 1754.0,1278.0 1755.0,1278.1 1756.0,1278.2 1757.0,1278.3 1758.0,1278.4 1759.0,1278.5 1760.0,1278.6 1761.0,1278.7 1762.0,1278.8 1763.0,1278.9 1764.0,1278.9 1765.0,1279.0 1766.0,1279.0 1767.0,1279.1 1768.0,1279.1 1769.0,1279.1 1770.0,1279.1 1771.0,1279.1 1772.0,1279.0 1773.0,1279.0 1774.0,1279.0 1775.0,1278.9 1776.0,1278.8 1777.0,1278.7 1778.0,1278.7 1779.0,1278.6 1780.0,1278.4 1781.0,1278.3 1782.0,1278.2 1783.0,1278.1 1784.0,1278.0 1785.0,1277.8 1786.0,1277.7 1787.0,1277.6 1788.0,1277.4 1789.0,1277.3 1790.0,1277.1 1791.0,1277.0 1792.0,1276.9 1793.0,1276.8 1794.0,1276.7 1795.0,1276.5 1796.0,1276.4 1797.0,1276.3 1798.0,1276.3 1799.0,1276.2 1800.0,1276.1 1801.0,1276.1 1802.0,1276.0 1803.0,1276.0 1804.0,1275.9 1805.0,1275.9 1806.0,1275.9 1807.0,1275.9 1808.0,1275.9 1809.0,1275.9 1810.0,1275.9 1811.0,1275.9 1812.0,1276.0 1813.0,1276.0 1814.0,1276.0 1815.0,1276.1 1816.0,1276.1 1817.0,1276.1 1818.0,1276.2 1819.0,1276.2 1820.0,1276.3 1821.0,1276.3 1822.0,1276.3 1823.0,1276.4 1824.0,1276.4 1825.0,1276.4 1826.0,1276.4 1827.0,1276.4 1828.0,1276.4 1829.0,1276.4 1830.0,1276.4 1831.0,1276.4 1832.0,1276.3 1833.0,1276.3 1834.0,1276.3 1835.0,1276.2 1836.0,1276.2 1837.0,1276.1 1838.0,1276.0 1839.0,1276.0 1840.0,1275.9 1841.0,1275.8 1842.0,1275.7 1843.0,1275.6 1844.0,1275.6 1845.0,1275.5 1846.0,1275.4 1847.0,1275.3 1848.0,1275.3 1849.0,1275.2 1850.0,1275.1 1851.0,1275.1 1852.0,1275.0 1853.0,1275.0 1854.0,1274.9 1855.0,1274.9 1856.0,1274.9 1857.0,1274.9 1858.0,1274.9 1859.0,1274.9 1860.0,1274.9 1861.0,1275.0 1862.0,1275.0 1863.0,1275.1 1864.0,1275.1 1865.0,1275.2 1866.0,1275.3 1867.0,1275.4 1868.0,1275.5 1869.0,1275.7 1870.0,1275.8 1871.0,1275.9 1872.0,1276.1 1873.0,1276.2 1874.0,1276.4 1875.0,1276.5 1876.0,1276.7 1877.0,1276.8 1878.0,1277.0 1879.0,1277.2 1880.0,1277.3 1881.0,1277.5 1882.0,1277.6 1883.0,1277.8 1884.0,1277.9 1885.0,1278.0 1886.0,1278.2 1887.0,1278.3 1888.0,1278.4 1889.0,1278.5 1890.0,1278.6 1891.0,1278.6 1892.0,1278.7 1893.0,1278.7 1894.0,1278.8 1895.0,1278.8 1896.0,1278.8 1897.0,1278.9 1898.0,1278.9 1899.0,1278.8 1900.0,1278.8 1901.0,1278.8 1902.0,1278.8 1903.0,1278.7 1904.0,1278.7 1905.0,1278.6 1906.0,1278.6 1907.0,1278.5 1908.0,1278.4 1909.0,1278.4 1910.0,1278.3 1911.0,1278.2 1912.0,1278.2 1913.0,1278.1 1914.0,1278.1 1915.0,1278.0 1916.0,1277.9 1917.0,1277.9 1918.0,1277.9 1919.0,1277.8 1920.0,1277.8 1921.0,1277.8 1922.0,1277.8 1923.0,1277.8 1924.0,1277.8 1925.0,1277.8 1926.0,1277.8 1927.0,1277.8 1928.0,1277.8 1929.0,1277.9 1930.0,1277.9 1931.0,1277.9 1932.0,1278.0 1933.0,1278.0 1934.0,1278.1 1935.0,1278.1 1936.0,1278.2 1937.0,1278.3 1938.0,1278.3 1939.0,1278.4 1940.0,1278.4 1941.0,1278.5 1942.0,1278.5 1943.0,1278.5 1944.0,1278.6 1945.0,1278.6 1946.0,1278.6 1947.0,1278.6 1948.0,1278.6 1949.0,1278.6 1950.0,1278.6 1951.0,1278.6 1952.0,1278.5 1953.0,1278.5 1954.0,1278.4 1955.0,1278.4 1956.0,1278.3 1957.0,1278.2 1958.0,1278.1 1959.0,1278.0 1960.0,1277.9 1961.0,1277.8 1962.0,1277.7 1963.0,1277.6 1964.0,1277.4 1965.0,1277.3 1966.0,1277.2 1967.0,1277.0 1968.0,1276.9 1969.0,1276.8 1970.0,1276.7 1971.0,1276.5 1972.0,1276.4 1973.0,1276.3 1974.0,1276.2 1975.0,1276.1 1976.0,1276.0 1977.0,1275.9 1978.0,1275.8 1979.0,1275.8 1980.0,1275.7 1981.0,1275.7 1982.0,1275.6 1983.0,1275.6 1984.0,1275.6 1985.0,1275.6 1986.0,1275.6 1987.0,1275.7 1988.0,1275.7 1989.0,1275.7 1990.0,1275.8 1991.0,1275.9 1992.0,1276.0 1993.0,1276.0 1994.0,1276.1 1995.0,1276.2 1996.0,1276.3 1997.0,1276.4 1998.0,1276.6 1999.0,1276.7 2000.0,1276.8 2001.0,1276.9 2002.0,1277.0 2003.0,1277.1 2004.0,1277.3 2005.0,1277.4 2006.0,1277.5 2007.0,1277.6 2008.0,1277.7 2009.0,1277.8 2010.0,1277.8 2011.0,1277.9 2012.0,1278.0 2013.0,1276.0 2014.0,1269.7 2015.0,1263.5 2016.0,1257.2 2017.0,1251.0 2018.0,1244.8 2019.0,1238.5 2020.0,1232.3 2021.0,1226.0 2022.0,1219.8 2023.0,1213.6 2024.0,1207.3 2025.0,1201.1 2026.0,1194.9 2027.0,1188.7 2028.0,1182.6 2029.0,1176.5 2030.0,1170.4 2031.0,1164.4 2032.0,1158.4 2033.0,1152.6 2034.0,1146.8 2035.0,1141.3 2036.0,1135.9 2037.0,1130.8 2038.0,1126.2 2039.0,1122.3 2040.0,1119.2 2041.0,1117.4 2042.0,1117.1 2043.0,1118.3 2044.0,1120.9 2045.0,1124.6 2046.0,1129.0 2047.0,1133.9 2048.0,1139.1 2049.0,1144.7 2050.0,1150.4 2051.0,1156.2 2052.0,1162.1 2053.0,1168.2 2054.0,1174.2 2055.0,1180.4 2056.0,1186.5 2057.0,1192.8 2058.0,1199.0 2059.0,1205.2 2060.0,1211.5 2061.0,1217.8 2062.0,1224.1 2063.0,1230.4 2064.0,1236.7 2065.0,1243.0 2066.0,1249.3 2067.0,1255.6 2068.0,1261.9 2069.0,1268.2 2070.0,1274.5 2071.0,1279.1 2072.0,1279.1 2073.0,1279.0 2074.0,1279.0 2075.0,1279.0 2076.0,1278.9 2077.0,1278.8 2078.0,1278.8 2079.0,1278.7 2080.0,1278.6 2081.0,1278.5 2082.0,1278.4 2083.0,1278.2 2084.0,1278.1 2085.0,1278.0 2086.0,1277.8 2087.0,1277.7 2088.0,1277.5 2089.0,1277.4 2090.0,1277.2 2091.0,1277.0 2092.0,1276.9 2093.0,1276.7 2094.0,1276.6 2095.0,1276.4 2096.0,1276.3 2097.0,1276.1 2098.0,1276.0 2099.0,1275.9 2100.0,1275.8 2101.0,1275.7 2102.0,1275.6 2103.0,1275.5 2104.0,1275.4 2105.0,1275.3 2106.0,1275.3 2107.0,1275.2 2108.0,1275.2 2109.0,1275.2 2110.0,1275.2 2111.0,1275.1 2112.0,1275.2 2113.0,1275.2 2114.0,1275.2 2115.0,1275.2 2116.0,1275.3 2117.0,1275.3 2118.0,1275.4 2119.0,1275.4 2120.0,1275.5 2121.0,1275.5 2122.0,1275.6 2123.0,1275.7 2124.0,1275.7 2125.0,1275.8 2126.0,1275.9 2127.0,1275.9 2128.0,1276.0 2129.0,1276.0 2130.0,1276.1 2131.0,1276.1 2132.0,1276.1 2133.0,1276.2 2134.0,1276.2 2135.0,1276.2 2136.0,1276.2 2137.0,1276.2 2138.0,1276.2 2139.0,1276.2 2140.0,1276.2 2141.0,1276.2 2142.0,1276.2 2143.0,1276.1 2144.0,1276.1 2145.0,1276.0 2146.0,1276.0 2147.0,1275.9 2148.0,1275.9 2149.0,1275.8 2150.0,1275.8 2151.0,1275.7 2152.0,1275.7 2153.0,1275.7 2154.0,1275.6 2155.0,1275.6 2156.0,1275.5 2157.0,1275.5 2158.0,1275.5 2159.0,1275.5 2160.0,1275.5 2161.0,1275.5 2162.0,1275.5 2163.0,1275.5 2164.0,1275.6 2165.0,1275.6 2166.0,1275.7 2167.0,1275.7 2168.0,1275.8 2169.0,1275.9 2170.0,1276.0 2171.0,1276.1 2172.0,1276.2 2173.0,1276.3 2174.0,1276.4 2175.0,1276.6 2176.0,1276.7 2177.0,1276.8 2178.0,1277.0 2179.0,1277.1 2180.0,1277.3 2181.0,1277.4 2182.0,1277.6 2183.0,1277.7 2184.0,1277.9 2185.0,1278.0 2186.0,1278.1 2187.0,1278.3 2188.0,1278.4 2189.0,1278.5 2190.0,1278.6 2191.0,1278.7 2192.0,1278.8 2193.0,1278.9 2194.0,1278.9 2195.0,1279.0 2196.0,1279.0 2197.0,1279.1 2198.0,1279.1 2199.0,1279.1 2200.0,1278.3 2201.0,1277.5 2202.0,1276.8 2203.0,1276.0 2204.0,1275.4 2205.0,1274.7 2206.0,1274.2 2207.0,1273.9 2208.0,1273.7 2209.0,1273.7 2210.0,1273.9 2211.0,1274.2 2212.0,1274.7 2213.0,1275.2 2214.0,1275.8 2215.0,1276.5 2216.0,1277.1 2217.0,1277.8 2218.0,1277.7 2219.0,1277.6 2220.0,1277.5 2221.0,1277.4 2222.0,1277.3 2223.0,1277.3 2224.0,1277.2 2225.0,1277.1 2226.0,1277.1 2227.0,1277.0 2228.0,1277.0 2229.0,1277.0 2230.0,1277.0 2231.0,1277.0 2232.0,1277.0 2233.0,1277.0 2234.0,1277.0 2235.0,1277.0 2236.0,1277.0 2237.0,1277.1 2238.0,1277.1 2239.0,1277.1 2240.0,1277.2 2241.0,1277.2 2242.0,1277.3 2243.0,1277.3 2244.0,1277.4 2245.0,1277.4 2246.0,1277.5 2247.0,1271.8 2248.0,1262.3 2249.0,1252.9 2250.0,1243.4 2251.0,1234.0 2252.0,1224.5 2253.0,1215.1 2254.0,1205.6 2255.0,1196.2 2256.0,1186.7 2257.0,1177.3 2258.0,1167.9 2259.0,1158.5 2260.0,1149.1 2261.0,1139.7 2262.0,1130.4 2263.0,1121.0 2264.0,1111.8 2265.0,1102.5 2266.0,1093.3 2267.0,1084.2 2268.0,1075.2 2269.0,1066.4 2270.0,1057.7 2271.0,1049.2 2272.0,1041.1 2273.0,1033.4 2274.0,1026.4 2275.0,1020.3 2276.0,1015.7 2277.0,1012.8 2278.0,1012.3 2279.0,1014.1 2280.0,1017.9 2281.0,1023.4 2282.0,1029.9 2283.0,1037.2 2284.0,1045.1 2285.0,1053.3 2286.0,1061.8 2287.0,1070.5 2288.0,1079.4 2289.0,1088.4 2290.0,1097.5 2291.0,1106.7 2292.0,1116.0 2293.0,1125.3 2294.0,1134.7 2295.0,1144.1 2296.0,1153.6 2297.0,1163.0 2298.0,1172.5 2299.0,1182.1 2300.0,1191.6 2301.0,1201.2 2302.0,1210.8 2303.0,1220.4 2304.0,1230.0 2305.0,1238.8 2306.0,1247.7 2307.0,1256.6 2308.0,1265.5 2309.0,1274.5 2310.0,1274.1 2311.0,1273.8 2312.0,1273.6 2313.0,1273.6 2314.0,1273.8 2315.0,1274.2 2316.0,1274.7 2317.0,1275.3 2318.0,1276.0 2319.0,1276.8 2320.0,1277.6 2321.0,1278.3 2322.0,1279.1 2323.0,1279.2 2324.0,1279.2 2325.0,1279.1 2326.0,1279.1 2327.0,1279.1 2328.0,1279.1 2329.0,1279.0 2330.0,1279.0 2331.0,1278.9 2332.0,1278.9 2333.0,1278.8 2334.0,1278.7 2335.0,1278.7 2336.0,1278.6 2337.0,1278.5 2338.0,1278.5 2339.0,1278.4 2340.0,1278.3 2341.0,1278.3 2342.0,1278.2 2343.0,1278.2 2344.0,1278.1 2345.0,1278.1 2346.0,1278.0 2347.0,1278.0 2348.0,1278.0 2349.0,1278.0 2350.0,1278.0 2351.0,1278.0 2352.0,1278.0 2353.0,1278.0 2354.0,1278.0 2355.0,1278.0 2356.0,1274.2 2357.0,1267.2 2358.0,1260.2 2359.0,1253.2 2360.0,1246.2 2361.0,1239.2 2362.0,1232.2 2363.0,1225.3 2364.0,1218.3 2365.0,1211.4 2366.0,1204.5 2367.0,1197.5 2368.0,1190.6 2369.0,1183.7 2370.0,1176.9 2371.0,1170.0 2372.0,1163.2 2373.0,1156.4 2374.0,1149.7 2375.0,1143.0 2376.0,1136.4 2377.0,1130.0 2378.0,1123.6 2379.0,1117.5 2380.0,1111.7 2381.0,1106.3 2382.0,1101.5 2383.0,1097.7 2384.0,1095.1 2385.0,1094.1 2386.0,1094.9 2387.0,1097.2 2388.0,1100.8 2389.0,1105.4 2390.0,1110.5 2391.0,1116.1 2392.0,1122.1 2393.0,1128.2 2394.0,1134.5 2395.0,1140.9 2396.0,1147.4 2397.0,1153.9 2398.0,1160.6 2399.0,1167.3 2400.0,1174.0 2401.0,1180.7 2402.0,1187.5 2403.0,1194.4 2404.0,1201.2 2405.0,1208.1 2406.0,1215.0 2407.0,1221.9 2408.0,1228.9 2409.0,1235.8 2410.0,1242.8 2411.0,1249.8 2412.0,1256.9 2413.0,1263.9 2414.0,1270.9 2415.0,1274.8 2416.0,1274.8 2417.0,1274.9 2418.0,1274.9 2419.0,1275.0 2420.0,1275.0 2421.0,1275.1 2422.0,1275.2 2423.0,1275.3 2424.0,1275.4 2425.0,1275.5 2426.0,1275.6 2427.0,1275.7 2428.0,1275.8 2429.0,1275.9 2430.0,1276.0 2431.0,1276.0 2432.0,1276.1 2433.0,1276.2 2434.0,1276.3 2435.0,1276.4 2436.0,1276.5 2437.0,1276.5 2438.0,1276.6 2439.0,1276.6 2440.0,1276.7 2441.0,1276.7 2442.0,1276.8 2443.0,1276.8 2444.0,1276.8 2445.0,1276.8 2446.0,1276.8 2447.0,1276.8 2448.0,1276.8 2449.0,1276.8 2450.0,1276.7 2451.0,1276.7 2452.0,1276.7 2453.0,1276.7 2454.0,1276.6 2455.0,1276.6 2456.0,1276.5 2457.0,1276.5 2458.0,1276.5 2459.0,1276.4 2460.0,1276.4 2461.0,1276.4 2462.0,1276.4 2463.0,1276.3 2464.0,1276.3 2465.0,1276.3 2466.0,1276.3 2467.0,1276.3 2468.0,1276.4 2469.0,1276.4 2470.0,1276.4 2471.0,1276.5 2472.0,1276.5 2473.0,1276.6 2474.0,1276.6 2475.0,1276.7 2476.0,1276.8 2477.0,1276.9 2478.0,1277.0 2479.0,1277.1 2480.0,1277.2 2481.0,1277.3 2482.0,1277.4 2483.0,1277.5 2484.0,1277.7 2485.0,1277.8 2486.0,1277.9 2487.0,1278.0 2488.0,1278.1 2489.0,1278.2 2490.0,1278.3 2491.0,1278.4 2492.0,1278.5 2493.0,1278.6 2494.0,1278.7 2495.0,1278.7 2496.0,1278.8 2497.0,1278.8 2498.0,1278.8 2499.0,1278.9 2500.0,1278.9 2501.0,1278.9 2502.0,1278.9 2503.0,1278.8 2504.0,1278.8 2505.0,1278.8 2506.0,1278.7 2507.0,1278.6 2508.0,1278.5 2509.0,1278.5 2510.0,1278.4 2511.0,1278.3 2512.0,1278.1 2513.0,1278.0 2514.0,1277.9 2515.0,1277.8 2516.0,1277.7 2517.0,1277.5 2518.0,1277.4 2519.0,1277.3 2520.0,1277.1 2521.0,1277.0 2522.0,1276.9 2523.0,1276.8 2524.0,1276.6 2525.0,1276.5 2526.0,1276.4 2527.0,1276.3 2528.0,1276.3 2529.0,1276.2 2530.0,1276.1 2531.0,1276.0 2532.0,1276.0 2533.0,1276.0 2534.0,1275.9 2535.0,1275.9 2536.0,1275.9 2537.0,1275.9 2538.0,1275.9 2539.0,1275.9 2540.0,1276.0 2541.0,1276.0 2542.0,1276.0 2543.0,1276.1 2544.0,1276.1 2545.0,1276.2 2546.0,1276.2 2547.0,1276.3 2548.0,1276.4 2549.0,1276.4 2550.0,1276.5 2551.0,1276.6 2552.0,1276.6 2553.0,1276.7 2554.0,1276.8 2555.0,1276.8 2556.0,1276.9 2557.0,1276.9 2558.0,1276.9 2559.0,1277.0 2560.0,1277.0 2561.0,1277.0 2562.0,1277.0 2563.0,1277.0 2564.0,1277.0 2565.0,1277.0 2566.0,1277.0 2567.0,1277.0 2568.0,1276.9 2569.0,1276.9 2570.0,1276.9 2571.0,1276.7 2572.0,1276.5 2573.0,1276.3 2574.0,1276.1 2575.0,1275.9 2576.0,1275.7 2577.0,1275.4 2578.0,1275.2 2579.0,1275.0 2580.0,1274.8 2581.0,1274.6 2582.0,1274.5 2583.0,1274.3 2584.0,1274.1 2585.0,1273.9 2586.0,1273.8 2587.0,1273.6 2588.0,1273.5 2589.0,1273.4 2590.0,1273.2 2591.0,1273.1 2592.0,1273.0 2593.0,1273.0 2594.0,1272.9 2595.0,1272.8 2596.0,1272.8 2597.0,1272.8 2598.0,1272.8 2599.0,1272.9 2600.0,1273.0 2601.0,1273.1 2602.0,1273.3 2603.0,1273.6 2604.0,1273.8 2605.0,1274.1 2606.0,1274.3 2607.0,1274.6 2608.0,1274.9 2609.0,1275.2 2610.0,1275.5 2611.0,1275.8 2612.0,1276.0 2613.0,1276.3 2614.0,1276.6 2615.0,1276.9 2616.0,1277.1 2617.0,1277.4 2618.0,1277.6 2619.0,1277.9 2620.0,1278.1 2621.0,1278.3 2622.0,1278.5 2623.0,1278.7 2624.0,1278.9 2625.0,1279.0 2626.0,1279.2 2627.0,1279.4 2628.0,1279.5 2629.0,1279.6 2630.0,1279.7 2631.0,1279.7 2632.0,1279.6 2633.0,1279.6 2634.0,1279.5 2635.0,1279.4 2636.0,1279.3 2637.0,1279.2 2638.0,1279.1 2639.0,1279.0 2640.0,1278.9 2641.0,1278.8 2642.0,1278.7 2643.0,1278.6 2644.0,1278.5 2645.0,1278.4 2646.0,1278.3 2647.0,1278.2 2648.0,1278.2 2649.0,1278.1 2650.0,1278.0 2651.0,1277.9 2652.0,1277.9 2653.0,1277.8 2654.0,1277.8 2655.0,1277.7 2656.0,1277.7 2657.0,1277.7 2658.0,1277.7 2659.0,1277.7 2660.0,1277.6 2661.0,1277.7 2662.0,1277.7 2663.0,1277.7 2664.0,1277.7 2665.0,1277.7 2666.0,1277.7 2667.0,1277.8 2668.0,1277.8 2669.0,1277.8 2670.0,1277.8 2671.0,1277.9 2672.0,1277.9 2673.0,1277.9 2674.0,1277.9 2675.0,1277.9 2676.0,1278.0 2677.0,1278.0 2678.0,1278.0 2679.0,1277.9 2680.0,1277.9 2681.0,1277.9 2682.0,1277.8 2683.0,1277.8 2684.0,1277.7 2685.0,1277.7 2686.0,1277.6 2687.0,1277.5 2688.0,1277.4 2689.0,1277.4 2690.0,1277.2 2691.0,1277.1 2692.0,1277.0 2693.0,1276.9 2694.0,1276.8 2695.0,1276.7 2696.0,1276.5 2697.0,1276.4 2698.0,1276.3 2699.0,1276.1 2700.0,1276.0 2701.0,1275.9 2702.0,1275.8 2703.0,1275.6 2704.0,1275.5 2705.0,1275.4 2706.0,1275.3 2707.0,1275.2 2708.0,1275.2 2709.0,1275.1 2710.0,1275.0 2711.0,1275.0 2712.0,1274.9 2713.0,1274.9 2714.0,1274.9 2715.0,1274.9 2716.0,1274.9 2717.0,1274.9 2718.0,1275.0 2719.0,1275.0 2720.0,1275.1 2721.0,1275.1 2722.0,1275.2 2723.0,1275.3 2724.0,1275.4 2725.0,1275.5 2726.0,1275.6 2727.0,1275.7 2728.0,1275.8 2729.0,1276.0 2730.0,1276.1 2731.0,1276.2 2732.0,1276.3 2733.0,1276.5 2734.0,1276.6 2735.0,1276.7 2736.0,1276.8 2737.0,1276.9 2738.0,1277.1 2739.0,1277.2 2740.0,1277.3 2741.0,1277.3 2742.0,1277.4 2743.0,1277.5 2744.0,1277.6 2745.0,1277.6 2746.0,1277.7 2747.0,1277.7 2748.0,1277.7 2749.0,1277.7 2750.0,1277.8 2751.0,1277.8 2752.0,1277.7 2753.0,1277.7 2754.0,1277.7 2755.0,1277.7 2756.0,1277.6 2757.0,1277.6 2758.0,1277.6 2759.0,1277.5 2760.0,1277.5 2761.0,1277.4 2762.0,1277.4 2763.0,1277.3 2764.0,1277.2 2765.0,1277.2 2766.0,1277.2 2767.0,1277.1 2768.0,1277.1 2769.0,1277.0 2770.0,1277.0 2771.0,1277.0 2772.0,1277.0 2773.0,1277.0 2774.0,1276.9 2775.0,1277.0 2776.0,1277.0 2777.0,1277.0 2778.0,1277.0 2779.0,1277.0 2780.0,1277.1 2781.0,1277.1 2782.0,1277.2 2783.0,1277.2 2784.0,1277.3 2785.0,1277.4 2786.0,1277.4 2787.0,1277.5 2788.0,1277.6 2789.0,1277.7 2790.0,1277.7 2791.0,1277.8 2792.0,1277.9 2793.0,1278.0 2794.0,1278.0 2795.0,1278.1 2796.0,1278.1 2797.0,1278.2 2798.0,1278.2 2799.0,1278.2 2800.0,1278.3 2801.0,1278.3 2802.0,1278.3 2803.0,1278.3 2804.0,1278.3 2805.0,1278.2 2806.0,1278.2 2807.0,1278.2 2808.0,1278.1 2809.0,1278.0 2810.0,1278.0 2811.0,1277.9 2812.0,1277.8 2813.0,1277.7 2814.0,1277.6 2815.0,1277.4 2816.0,1277.3 2817.0,1277.2 2818.0,1277.0 2819.0,1276.9 2820.0,1276.8 2821.0,1276.6 2822.0,1276.5 2823.0,1276.3 2824.0,1276.2 2825.0,1276.1 2826.0,1275.9 2827.0,1275.8 2828.0,1275.7 2829.0,1275.6 2830.0,1275.5 2831.0,1275.4 2832.0,1275.3 2833.0,1275.2 2834.0,1275.2 2835.0,1275.1 2836.0,1275.1 2837.0,1275.0" fill="none" stroke="#141414" stroke-width="5.5" stroke-linejoin="round"/>
<path d="M808.1,154.0 L819.2,126.5 L822.8,126.5 L833.9,154.0 M812.9,145.0 L829.1,145.0 M1039.9,154.0 L1050.9,126.5 L1054.5,126.5 L1065.6,154.0 M1044.6,145.0 L1060.9,145.0 M1162.7,154.0 L1173.7,126.5 L1177.3,126.5 L1188.4,154.0 M1167.4,145.0 L1183.7,145.0 M1230.5,154.0 L1241.5,126.5 L1245.1,126.5 L1256.2,154.0 M1235.2,145.0 L1251.5,145.0 M2607.8,154.0 L2618.9,126.5 L2622.5,126.5 L2633.5,154.0 M2612.5,145.0 L2628.8,145.0 M2669.5,154.0 L2680.5,126.5 L2684.1,126.5 L2695.2,154.0 M2674.2,145.0 L2690.5,145.0" stroke="#4db848" stroke-width="2.6" fill="none" stroke-linecap="butt" stroke-linejoin="miter"/>
<path d="M407.0,126.9 L392.5,126.9 L387.2,132.5 L387.2,146.5 L392.5,152.1 L407.0,152.1 M586.0,126.9 L571.5,126.9 L566.2,132.5 L566.2,146.5 L571.5,152.1 L586.0,152.1 M771.7,126.9 L757.2,126.9 L751.9,132.5 L751.9,146.5 L757.2,152.1 L771.7,152.1 M1127.0,126.9 L1112.5,126.9 L1107.2,132.5 L1107.2,146.5 L1112.5,152.1 L1127.0,152.1 M1320.3,126.9 L1305.8,126.9 L1300.5,132.5 L1300.5,146.5 L1305.8,152.1 L1320.3,152.1 M1546.7,126.9 L1532.2,126.9 L1526.9,132.5 L1526.9,146.5 L1532.2,152.1 L1546.7,152.1 M1674.3,126.9 L1659.8,126.9 L1654.5,132.5 L1654.5,146.5 L1659.8,152.1 L1674.3,152.1 M1803.4,126.9 L1788.9,126.9 L1783.6,132.5 L1783.6,146.5 L1788.9,152.1 L1803.4,152.1 M1861.6,126.9 L1847.1,126.9 L1841.8,132.5 L1841.8,146.5 L1847.1,152.1 L1861.6,152.1 M1926.0,126.9 L1911.5,126.9 L1906.2,132.5 L1906.2,146.5 L1911.5,152.1 L1926.0,152.1 M2111.7,126.9 L2097.2,126.9 L2091.9,132.5 L2091.9,146.5 L2097.2,152.1 L2111.7,152.1 M2451.7,126.9 L2437.2,126.9 L2431.9,132.5 L2431.9,146.5 L2437.2,152.1 L2451.7,152.1 M2572.7,126.9 L2558.2,126.9 L2552.9,132.5 L2552.9,146.5 L2558.2,152.1 L2572.7,152.1 M2757.7,126.9 L2743.2,126.9 L2737.9,132.5 L2737.9,146.5 L2743.2,152.1 L2757.7,152.1" stroke="#3c4a9c" stroke-width="3.6" fill="none" stroke-linecap="butt" stroke-linejoin="miter"/>
<path d="M649.0,126.9 L635.0,126.9 L629.8,132.5 L629.8,146.5 L635.0,152.1 L647.1,152.1 L647.1,140.7 M942.5,126.9 L928.5,126.9 L923.2,132.5 L923.2,146.5 L928.5,152.1 L940.6,152.1 L940.6,140.7 M1004.0,126.9 L990.0,126.9 L984.8,132.5 L984.8,146.5 L990.0,152.1 L1002.1,152.1 L1002.1,140.7 M1384.0,126.9 L1370.0,126.9 L1364.8,132.5 L1364.8,146.5 L1370.0,152.1 L1382.1,152.1 L1382.1,140.7 M1492.5,126.9 L1478.5,126.9 L1473.2,132.5 L1473.2,146.5 L1478.5,152.1 L1490.5,152.1 L1490.5,140.7 M1612.5,126.9 L1598.5,126.9 L1593.2,132.5 L1593.2,146.5 L1598.5,152.1 L1610.5,152.1 L1610.5,140.7 M2041.5,126.9 L2027.5,126.9 L2022.2,132.5 L2022.2,146.5 L2027.5,152.1 L2039.5,152.1 L2039.5,140.7 M2283.1,126.9 L2269.1,126.9 L2263.8,132.5 L2263.8,146.5 L2269.1,152.1 L2281.2,152.1 L2281.2,140.7 M2393.8,126.9 L2379.8,126.9 L2374.4,132.5 L2374.4,146.5 L2379.8,152.1 L2391.8,152.1 L2391.8,140.7" stroke="#141414" stroke-width="3.6" fill="none" stroke-linecap="butt" stroke-linejoin="miter"/>
<path d="M439.2,126.9 L462.2,126.9 M450.7,126.9 L450.7,154.0 M496.8,126.9 L519.8,126.9 M508.3,126.9 L508.3,154.0 M676.8,126.9 L699.8,126.9 M688.3,126.9 L688.3,154.0 M868.5,126.9 L891.5,126.9 M880.0,126.9 L880.0,154.0 M1411.2,126.9 L1434.2,126.9 M1422.7,126.9 L1422.7,154.0 M1701.3,126.9 L1724.3,126.9 M1712.8,126.9 L1712.8,154.0 M1963.7,126.9 L1986.7,126.9 M1975.2,126.9 L1975.2,154.0 M2151.8,126.9 L2174.8,126.9 M2163.3,126.9 L2163.3,154.0 M2208.2,126.9 L2231.2,126.9 M2219.7,126.9 L2219.7,154.0 M2313.2,126.9 L2336.2,126.9 M2324.7,126.9 L2324.7,154.0 M2483.2,126.9 L2506.2,126.9 M2494.7,126.9 L2494.7,154.0 M2789.2,126.9 L2812.2,126.9 M2800.7,126.9 L2800.7,154.0" stroke="#e5363b" stroke-width="3.6" fill="none" stroke-linecap="butt" stroke-linejoin="miter"/>
<path d="M828.5,867.0 L839.6,840.7 L843.2,840.7 L854.2,867.0 M833.2,858.4 L849.5,858.4 M1056.7,867.0 L1067.7,840.7 L1071.3,840.7 L1082.4,867.0 M1061.4,858.4 L1077.7,858.4 M1178.6,867.0 L1189.6,840.7 L1193.2,840.7 L1204.3,867.0 M1183.3,858.4 L1199.6,858.4 M1246.4,867.0 L1257.4,840.7 L1261.0,840.7 L1272.1,867.0 M1251.1,858.4 L1267.4,858.4 M2606.3,867.0 L2617.4,840.7 L2621.0,840.7 L2632.0,867.0 M2611.0,858.4 L2627.3,858.4 M2667.3,867.0 L2678.4,840.7 L2682.0,840.7 L2693.0,867.0 M2672.0,858.4 L2688.3,858.4" stroke="#4db848" stroke-width="2.5" fill="none" stroke-linecap="butt" stroke-linejoin="miter"/>
<path d="M432.2,841.0 L418.2,841.0 L413.2,846.4 L413.2,859.8 L418.2,865.2 L432.2,865.2 M608.8,841.0 L594.8,841.0 L589.8,846.4 L589.8,859.8 L594.8,865.2 L608.8,865.2 M792.0,841.0 L778.0,841.0 L773.0,846.4 L773.0,859.8 L778.0,865.2 L792.0,865.2 M1143.0,841.0 L1129.0,841.0 L1124.0,846.4 L1124.0,859.8 L1129.0,865.2 L1143.0,865.2 M1334.5,841.0 L1320.5,841.0 L1315.5,846.4 L1315.5,859.8 L1320.5,865.2 L1334.5,865.2 M1558.6,841.0 L1544.6,841.0 L1539.6,846.4 L1539.6,859.8 L1544.6,865.2 L1558.6,865.2 M1683.6,841.0 L1669.6,841.0 L1664.6,846.4 L1664.6,859.8 L1669.6,865.2 L1683.6,865.2 M1810.8,841.0 L1796.8,841.0 L1791.8,846.4 L1791.8,859.8 L1796.8,865.2 L1810.8,865.2 M1868.4,841.0 L1854.4,841.0 L1849.4,846.4 L1849.4,859.8 L1854.4,865.2 L1868.4,865.2 M1933.4,841.0 L1919.4,841.0 L1914.4,846.4 L1914.4,859.8 L1919.4,865.2 L1933.4,865.2 M2115.2,841.0 L2101.2,841.0 L2096.2,846.4 L2096.2,859.8 L2101.2,865.2 L2115.2,865.2 M2451.0,841.0 L2437.0,841.0 L2432.0,846.4 L2432.0,859.8 L2437.0,865.2 L2451.0,865.2 M2569.9,841.0 L2555.9,841.0 L2550.9,846.4 L2550.9,859.8 L2555.9,865.2 L2569.9,865.2 M2753.1,841.0 L2739.1,841.0 L2734.1,846.4 L2734.1,859.8 L2739.1,865.2 L2753.1,865.2" stroke="#3c4a9c" stroke-width="3.5" fill="none" stroke-linecap="butt" stroke-linejoin="miter"/>
<path d="M671.1,841.0 L657.7,841.0 L652.6,846.4 L652.6,859.8 L657.7,865.2 L669.3,865.2 L669.3,854.3 M960.9,841.0 L947.5,841.0 L942.4,846.4 L942.4,859.8 L947.5,865.2 L959.1,865.2 L959.1,854.3 M1022.2,841.0 L1008.8,841.0 L1003.7,846.4 L1003.7,859.8 L1008.8,865.2 L1020.4,865.2 L1020.4,854.3 M1396.8,841.0 L1383.4,841.0 L1378.3,846.4 L1378.3,859.8 L1383.4,865.2 L1395.0,865.2 L1395.0,854.3 M1504.1,841.0 L1490.7,841.0 L1485.6,846.4 L1485.6,859.8 L1490.7,865.2 L1502.3,865.2 L1502.3,854.3 M1623.3,841.0 L1609.9,841.0 L1604.8,846.4 L1604.8,859.8 L1609.9,865.2 L1621.5,865.2 L1621.5,854.3 M2046.6,841.0 L2033.2,841.0 L2028.1,846.4 L2028.1,859.8 L2033.2,865.2 L2044.8,865.2 L2044.8,854.3 M2284.8,841.0 L2271.4,841.0 L2266.3,846.4 L2266.3,859.8 L2271.4,865.2 L2283.0,865.2 L2283.0,854.3 M2393.4,841.0 L2380.0,841.0 L2374.9,846.4 L2374.9,859.8 L2380.0,865.2 L2391.6,865.2 L2391.6,854.3" stroke="#141414" stroke-width="3.5" fill="none" stroke-linecap="butt" stroke-linejoin="miter"/>
<path d="M464.6,841.0 L486.6,841.0 M475.6,841.0 L475.6,867.0 M521.5,841.0 L543.5,841.0 M532.5,841.0 L532.5,867.0 M698.8,841.0 L720.8,841.0 M709.8,841.0 L709.8,867.0 M888.0,841.0 L910.0,841.0 M899.0,841.0 L899.0,867.0 M1424.8,841.0 L1446.8,841.0 M1435.8,841.0 L1435.8,867.0 M1711.3,841.0 L1733.3,841.0 M1722.3,841.0 L1722.3,867.0 M1965.0,841.0 L1987.0,841.0 M1976.0,841.0 L1976.0,867.0 M2156.9,841.0 L2178.9,841.0 M2167.9,841.0 L2167.9,867.0 M2211.2,841.0 L2233.2,841.0 M2222.2,841.0 L2222.2,867.0 M2315.1,841.0 L2337.1,841.0 M2326.1,841.0 L2326.1,867.0 M2482.7,841.0 L2504.7,841.0 M2493.7,841.0 L2493.7,867.0 M2784.8,841.0 L2806.8,841.0 M2795.8,841.0 L2795.8,867.0" stroke="#e5363b" stroke-width="3.5" fill="none" stroke-linecap="butt" stroke-linejoin="miter"/>
<path d="M810.4,614.9 L821.5,581.6 L825.1,581.6 L836.1,614.9 M815.1,604.1 L831.4,604.1 M1037.2,614.9 L1048.2,581.6 L1051.8,581.6 L1062.9,614.9 M1041.9,604.1 L1058.2,604.1 M1158.9,614.9 L1169.9,581.6 L1173.5,581.6 L1184.6,614.9 M1163.6,604.1 L1179.9,604.1 M1225.5,614.9 L1236.5,581.6 L1240.1,581.6 L1251.2,614.9 M1230.2,604.1 L1246.5,604.1 M2610.7,614.9 L2621.7,581.6 L2625.3,581.6 L2636.3,614.9 M2615.3,604.1 L2631.7,604.1 M2672.2,614.9 L2683.2,581.6 L2686.8,581.6 L2697.8,614.9 M2676.8,604.1 L2693.2,604.1" stroke="#4db848" stroke-width="2.9" fill="none" stroke-linecap="butt" stroke-linejoin="miter"/>
<path d="M411.5,582.4 L394.1,582.4 L387.7,589.1 L387.7,605.9 L394.1,612.6 L411.5,612.6 M588.2,582.4 L570.8,582.4 L564.4,589.1 L564.4,605.9 L570.8,612.6 L588.2,612.6 M776.5,582.4 L759.1,582.4 L752.7,589.1 L752.7,605.9 L759.1,612.6 L776.5,612.6 M1134.9,582.4 L1117.5,582.4 L1111.1,589.1 L1111.1,605.9 L1117.5,612.6 L1134.9,612.6 M1323.2,582.4 L1305.8,582.4 L1299.4,589.1 L1299.4,605.9 L1305.8,612.6 L1323.2,612.6 M1554.9,582.4 L1537.5,582.4 L1531.1,589.1 L1531.1,605.9 L1537.5,612.6 L1554.9,612.6 M1678.2,582.4 L1660.8,582.4 L1654.4,589.1 L1654.4,605.9 L1660.8,612.6 L1678.2,612.6 M1809.9,582.4 L1792.5,582.4 L1786.1,589.1 L1786.1,605.9 L1792.5,612.6 L1809.9,612.6 M1863.2,582.4 L1845.8,582.4 L1839.4,589.1 L1839.4,605.9 L1845.8,612.6 L1863.2,612.6 M1931.5,582.4 L1914.1,582.4 L1907.7,589.1 L1907.7,605.9 L1914.1,612.6 L1931.5,612.6 M2116.5,582.4 L2099.1,582.4 L2092.7,589.1 L2092.7,605.9 L2099.1,612.6 L2116.5,612.6 M2456.5,582.4 L2439.1,582.4 L2432.7,589.1 L2432.7,605.9 L2439.1,612.6 L2456.5,612.6 M2579.9,582.4 L2562.5,582.4 L2556.1,589.1 L2556.1,605.9 L2562.5,612.6 L2579.9,612.6 M2760.7,582.4 L2743.3,582.4 L2736.9,589.1 L2736.9,605.9 L2743.3,612.6 L2760.7,612.6" stroke="#3c4a9c" stroke-width="4.0" fill="none" stroke-linecap="butt" stroke-linejoin="miter"/>
<path d="M652.9,582.4 L636.1,582.4 L629.7,589.1 L629.7,605.9 L636.1,612.6 L650.6,612.6 L650.6,598.9 M946.2,582.4 L929.4,582.4 L923.0,589.1 L923.0,605.9 L929.4,612.6 L943.9,612.6 L943.9,598.9 M1001.2,582.4 L984.4,582.4 L978.0,589.1 L978.0,605.9 L984.4,612.6 L998.9,612.6 L998.9,598.9 M1387.9,582.4 L1371.1,582.4 L1364.7,589.1 L1364.7,605.9 L1371.1,612.6 L1385.6,612.6 L1385.6,598.9 M1492.9,582.4 L1476.1,582.4 L1469.7,589.1 L1469.7,605.9 L1476.1,612.6 L1490.6,612.6 L1490.6,598.9 M2047.9,582.4 L2031.1,582.4 L2024.7,589.1 L2024.7,605.9 L2031.1,612.6 L2045.6,612.6 L2045.6,598.9 M2289.6,582.4 L2272.8,582.4 L2266.4,589.1 L2266.4,605.9 L2272.8,612.6 L2287.3,612.6 L2287.3,598.9 M2394.6,582.4 L2377.8,582.4 L2371.4,589.1 L2371.4,605.9 L2377.8,612.6 L2392.3,612.6 L2392.3,598.9" stroke="#141414" stroke-width="4.0" fill="none" stroke-linecap="butt" stroke-linejoin="miter"/>
<path d="M439.5,582.4 L467.1,582.4 M453.3,582.4 L453.3,614.9 M497.9,582.4 L525.5,582.4 M511.7,582.4 L511.7,614.9 M679.5,582.4 L707.1,582.4 M693.3,582.4 L693.3,614.9 M869.5,582.4 L897.1,582.4 M883.3,582.4 L883.3,614.9 M1412.9,582.4 L1440.5,582.4 M1426.7,582.4 L1426.7,614.9 M1702.9,582.4 L1730.5,582.4 M1716.7,582.4 L1716.7,614.9 M1967.9,582.4 L1995.5,582.4 M1981.7,582.4 L1981.7,614.9 M2152.9,582.4 L2180.5,582.4 M2166.7,582.4 L2166.7,614.9 M2207.9,582.4 L2235.5,582.4 M2221.7,582.4 L2221.7,614.9 M2312.9,582.4 L2340.5,582.4 M2326.7,582.4 L2326.7,614.9 M2486.2,582.4 L2513.8,582.4 M2500.0,582.4 L2500.0,614.9 M2790.4,582.4 L2818.0,582.4 M2804.2,582.4 L2804.2,614.9" stroke="#e5363b" stroke-width="4.0" fill="none" stroke-linecap="butt" stroke-linejoin="miter"/>
<path d="M1578.4,621.7 L1592.0,580.1 L1603.4,580.1 L1616.8,621.7 L1607.4,621.7 L1604.7,613.1 L1590.8,613.1 L1588.0,621.7 Z M1597.7,590.6 L1601.8,605.6 L1593.7,605.6 Z" fill="#4db848" fill-rule="evenodd"/>
<path d="M828.9,1324.8 L839.9,1293.0 L843.5,1293.0 L854.6,1324.8 M833.6,1314.5 L849.9,1314.5 M1057.2,1324.8 L1068.2,1293.0 L1071.8,1293.0 L1082.9,1324.8 M1061.9,1314.5 L1078.2,1314.5 M1178.9,1324.8 L1189.9,1293.0 L1193.5,1293.0 L1204.6,1324.8 M1183.6,1314.5 L1199.9,1314.5 M1245.5,1324.8 L1256.5,1293.0 L1260.1,1293.0 L1271.2,1324.8 M1250.2,1314.5 L1266.5,1314.5 M2607.2,1324.8 L2618.2,1293.0 L2621.8,1293.0 L2632.8,1324.8 M2611.8,1314.5 L2628.2,1314.5 M2667.2,1324.8 L2678.2,1293.0 L2681.8,1293.0 L2692.8,1324.8 M2671.8,1314.5 L2688.2,1314.5" stroke="#4db848" stroke-width="2.7" fill="none" stroke-linecap="butt" stroke-linejoin="miter"/>
<path d="M437.7,1293.7 L421.0,1293.7 L414.9,1300.1 L414.9,1316.2 L421.0,1322.7 L437.7,1322.7 M614.4,1293.7 L597.7,1293.7 L591.6,1300.1 L591.6,1316.2 L597.7,1322.7 L614.4,1322.7 M797.6,1293.7 L781.0,1293.7 L774.9,1300.1 L774.9,1316.2 L781.0,1322.7 L797.6,1322.7 M1149.3,1293.7 L1132.7,1293.7 L1126.6,1300.1 L1126.6,1316.2 L1132.7,1322.7 L1149.3,1322.7 M1339.3,1293.7 L1322.7,1293.7 L1316.6,1300.1 L1316.6,1316.2 L1322.7,1322.7 L1339.3,1322.7 M1563.3,1293.7 L1546.7,1293.7 L1540.6,1300.1 L1540.6,1316.2 L1546.7,1322.7 L1563.3,1322.7 M1687.6,1293.7 L1671.0,1293.7 L1664.9,1300.1 L1664.9,1316.2 L1671.0,1322.7 L1687.6,1322.7 M1815.9,1293.7 L1799.3,1293.7 L1793.2,1300.1 L1793.2,1316.2 L1799.3,1322.7 L1815.9,1322.7 M1874.3,1293.7 L1857.7,1293.7 L1851.6,1300.1 L1851.6,1316.2 L1857.7,1322.7 L1874.3,1322.7 M1937.6,1293.7 L1921.0,1293.7 L1914.9,1300.1 L1914.9,1316.2 L1921.0,1322.7 L1937.6,1322.7 M2119.3,1293.7 L2102.7,1293.7 L2096.6,1300.1 L2096.6,1316.2 L2102.7,1322.7 L2119.3,1322.7 M2456.0,1293.7 L2439.3,1293.7 L2433.2,1300.1 L2433.2,1316.2 L2439.3,1322.7 L2456.0,1322.7 M2574.3,1293.7 L2557.7,1293.7 L2551.6,1300.1 L2551.6,1316.2 L2557.7,1322.7 L2574.3,1322.7 M2759.3,1293.7 L2742.7,1293.7 L2736.6,1300.1 L2736.6,1316.2 L2742.7,1322.7 L2759.3,1322.7" stroke="#3c4a9c" stroke-width="3.8" fill="none" stroke-linecap="butt" stroke-linejoin="miter"/>
<path d="M674.1,1293.7 L658.0,1293.7 L651.9,1300.1 L651.9,1316.2 L658.0,1322.7 L671.9,1322.7 L671.9,1309.6 M964.1,1293.7 L948.0,1293.7 L941.9,1300.1 L941.9,1316.2 L948.0,1322.7 L961.9,1322.7 L961.9,1309.6 M1025.7,1293.7 L1009.6,1293.7 L1003.5,1300.1 L1003.5,1316.2 L1009.6,1322.7 L1023.5,1322.7 L1023.5,1309.6 M1402.4,1293.7 L1386.3,1293.7 L1380.2,1300.1 L1380.2,1316.2 L1386.3,1322.7 L1400.2,1322.7 L1400.2,1309.6 M1507.4,1293.7 L1491.3,1293.7 L1485.2,1300.1 L1485.2,1316.2 L1491.3,1322.7 L1505.2,1322.7 L1505.2,1309.6 M2050.7,1293.7 L2034.6,1293.7 L2028.5,1300.1 L2028.5,1316.2 L2034.6,1322.7 L2048.5,1322.7 L2048.5,1309.6 M2289.1,1293.7 L2273.0,1293.7 L2266.9,1300.1 L2266.9,1316.2 L2273.0,1322.7 L2286.9,1322.7 L2286.9,1309.6 M2397.4,1293.7 L2381.3,1293.7 L2375.2,1300.1 L2375.2,1316.2 L2381.3,1322.7 L2395.2,1322.7 L2395.2,1309.6" stroke="#141414" stroke-width="3.8" fill="none" stroke-linecap="butt" stroke-linejoin="miter"/>
<path d="M465.1,1293.7 L491.5,1293.7 M478.3,1293.7 L478.3,1324.8 M523.5,1293.7 L549.9,1293.7 M536.7,1293.7 L536.7,1324.8 M700.1,1293.7 L726.5,1293.7 M713.3,1293.7 L713.3,1324.8 M888.5,1293.7 L914.9,1293.7 M901.7,1293.7 L901.7,1324.8 M1425.1,1293.7 L1451.5,1293.7 M1438.3,1293.7 L1438.3,1324.8 M1711.8,1293.7 L1738.2,1293.7 M1725.0,1293.7 L1725.0,1324.8 M1971.8,1293.7 L1998.2,1293.7 M1985.0,1293.7 L1985.0,1324.8 M2156.8,1293.7 L2183.2,1293.7 M2170.0,1293.7 L2170.0,1324.8 M2211.8,1293.7 L2238.2,1293.7 M2225.0,1293.7 L2225.0,1324.8 M2315.1,1293.7 L2341.5,1293.7 M2328.3,1293.7 L2328.3,1324.8 M2485.1,1293.7 L2511.5,1293.7 M2498.3,1293.7 L2498.3,1324.8 M2786.8,1293.7 L2813.2,1293.7 M2800.0,1293.7 L2800.0,1324.8" stroke="#e5363b" stroke-width="3.8" fill="none" stroke-linecap="butt" stroke-linejoin="miter"/>
<path d="M1592.5,1329.0 L1605.0,1290.7 L1615.5,1290.7 L1627.9,1329.0 L1619.2,1329.0 L1616.7,1321.1 L1603.9,1321.1 L1601.3,1329.0 Z M1610.3,1300.4 L1614.0,1314.2 L1606.6,1314.2 Z" fill="#4db848" fill-rule="evenodd"/>
<path d="M1594.1,182.3 L1600.1,182.3 L1600.1,229.9 L1609.6,229.9 L1600.1,246.7 L1594.1,246.7 L1584.6,229.9 L1594.1,229.9 Z" fill="#e5363b"/>
<path d="M1607.7,896.6 L1613.7,896.6 L1613.7,941.6 L1623.2,941.6 L1613.7,956.6 L1607.7,956.6 L1598.2,941.6 L1607.7,941.6 Z" fill="#e5363b"/>
</svg>
</body></html>
